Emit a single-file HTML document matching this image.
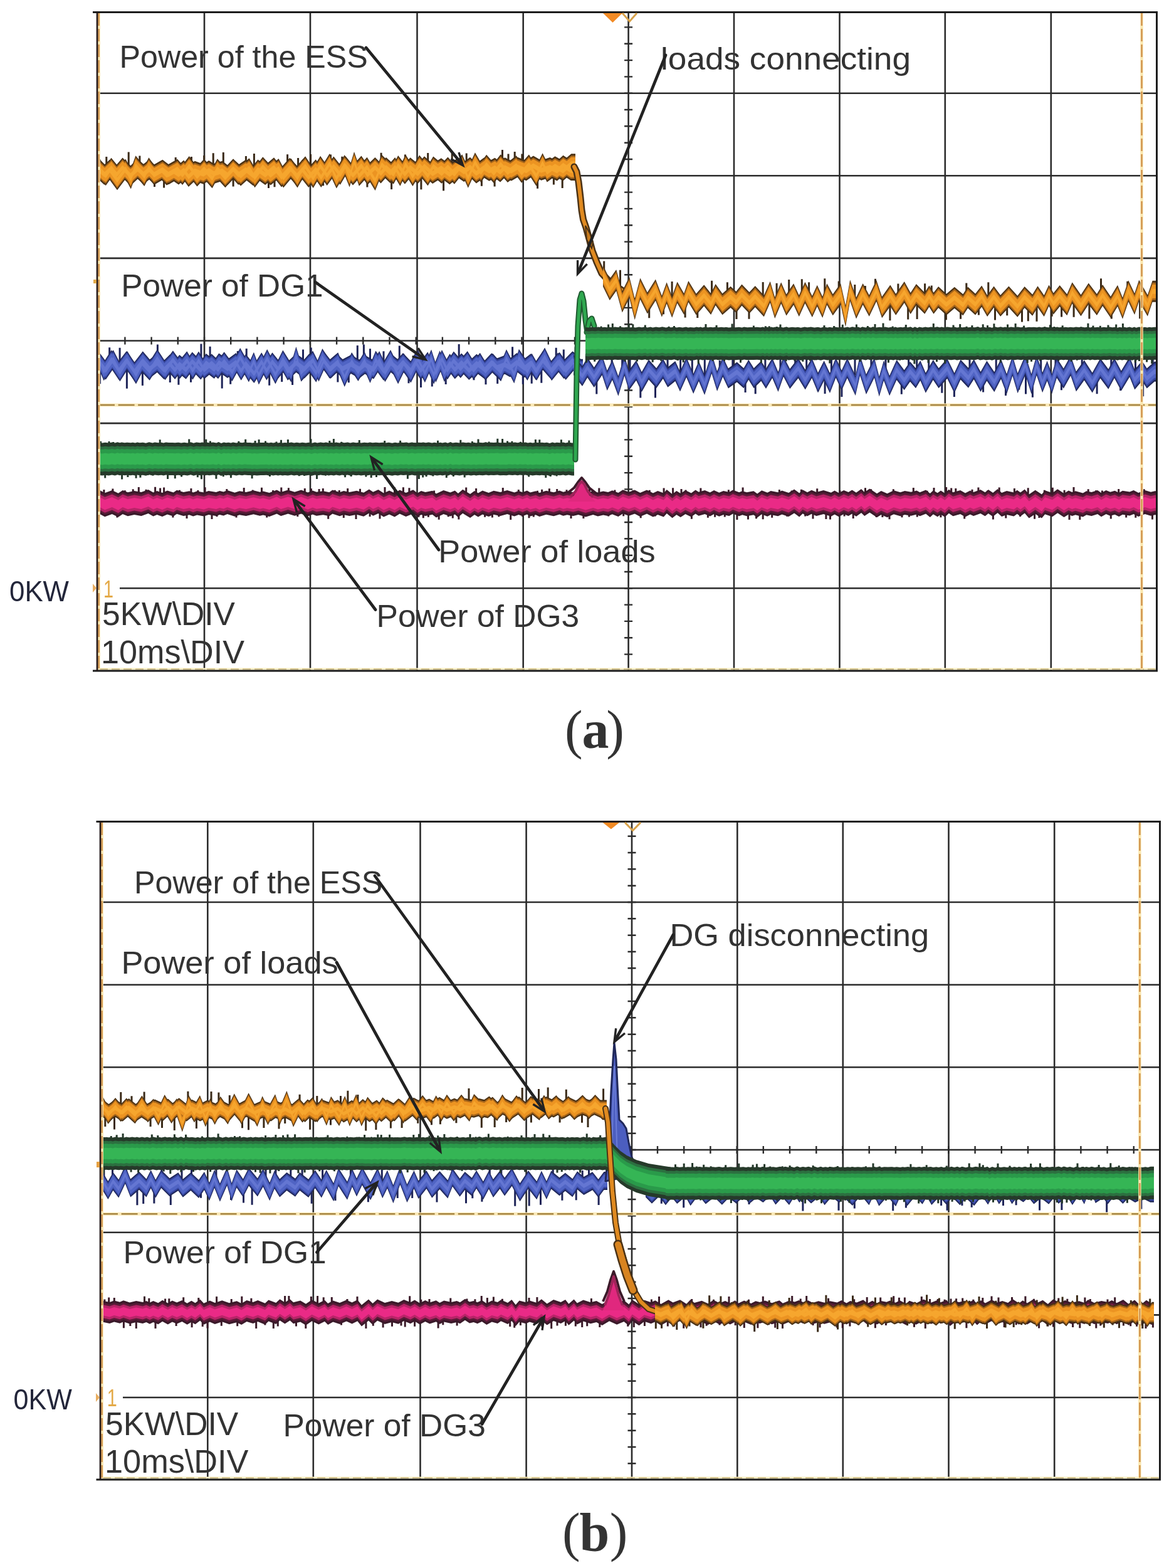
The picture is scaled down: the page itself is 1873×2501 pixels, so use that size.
<!DOCTYPE html>
<html><head><meta charset="utf-8"><title>Power waveforms</title><style>html,body{margin:0;padding:0;background:#fff;}svg{display:block;}</style></head><body>
<svg width="1873" height="2501" viewBox="0 0 1873 2501" font-family="Liberation Sans, Arial, sans-serif">
<rect width="1873" height="2501" fill="#ffffff"/>
<line x1="326" y1="19.5" x2="326" y2="1070" stroke="#2b2b2b" stroke-width="2.6"/>
<line x1="495" y1="19.5" x2="495" y2="1070" stroke="#2b2b2b" stroke-width="2.6"/>
<line x1="665.5" y1="19.5" x2="665.5" y2="1070" stroke="#2b2b2b" stroke-width="2.6"/>
<line x1="834.7" y1="19.5" x2="834.7" y2="1070" stroke="#2b2b2b" stroke-width="2.6"/>
<line x1="1002.6" y1="19.5" x2="1002.6" y2="1070" stroke="#2b2b2b" stroke-width="2.6"/>
<line x1="1171" y1="19.5" x2="1171" y2="1070" stroke="#2b2b2b" stroke-width="2.6"/>
<line x1="1339.5" y1="19.5" x2="1339.5" y2="1070" stroke="#2b2b2b" stroke-width="2.6"/>
<line x1="1507.8" y1="19.5" x2="1507.8" y2="1070" stroke="#2b2b2b" stroke-width="2.6"/>
<line x1="1676.8" y1="19.5" x2="1676.8" y2="1070" stroke="#2b2b2b" stroke-width="2.6"/>
<line x1="155" y1="148.7" x2="1845.5" y2="148.7" stroke="#2b2b2b" stroke-width="2.6"/>
<line x1="155" y1="280.3" x2="1845.5" y2="280.3" stroke="#2b2b2b" stroke-width="2.6"/>
<line x1="155" y1="411.9" x2="1845.5" y2="411.9" stroke="#2b2b2b" stroke-width="2.6"/>
<line x1="155" y1="543.5" x2="1845.5" y2="543.5" stroke="#2b2b2b" stroke-width="2.6"/>
<line x1="155" y1="675.1" x2="1845.5" y2="675.1" stroke="#2b2b2b" stroke-width="2.6"/>
<line x1="155" y1="806.7" x2="1845.5" y2="806.7" stroke="#2b2b2b" stroke-width="2.6"/>
<line x1="191" y1="938.3" x2="1845.5" y2="938.3" stroke="#2b2b2b" stroke-width="2.6"/>
<path d="M996.1 43.4h13 M996.1 69.7h13 M996.1 96.1h13 M996.1 122.4h13 M996.1 148.7h13 M996.1 175h13 M996.1 201.3h13 M996.1 227.7h13 M996.1 254h13 M996.1 280.3h13 M996.1 306.6h13 M996.1 332.9h13 M996.1 359.3h13 M996.1 385.6h13 M996.1 411.9h13 M996.1 438.2h13 M996.1 464.5h13 M996.1 490.9h13 M996.1 517.2h13 M996.1 543.5h13 M996.1 569.8h13 M996.1 596.1h13 M996.1 622.5h13 M996.1 648.8h13 M996.1 675.1h13 M996.1 701.4h13 M996.1 727.7h13 M996.1 754.1h13 M996.1 780.4h13 M996.1 806.7h13 M996.1 833h13 M996.1 859.3h13 M996.1 885.7h13 M996.1 912h13 M996.1 938.3h13 M996.1 964.6h13 M996.1 990.9h13 M996.1 1017.3h13 M996.1 1043.6h13 M199.4 537.5v12 M241.6 537.5v12 M283.8 537.5v12 M326 537.5v12 M368.2 537.5v12 M410.4 537.5v12 M452.6 537.5v12 M494.8 537.5v12 M537.1 537.5v12 M579.3 537.5v12 M621.5 537.5v12 M663.7 537.5v12 M705.9 537.5v12 M748.1 537.5v12 M790.3 537.5v12 M832.5 537.5v12 M874.8 537.5v12 M917 537.5v12 M959.2 537.5v12 M1001.4 537.5v12 M1043.6 537.5v12 M1085.8 537.5v12 M1128 537.5v12 M1170.2 537.5v12 M1212.5 537.5v12 M1254.7 537.5v12 M1296.9 537.5v12 M1339.1 537.5v12 M1381.3 537.5v12 M1423.5 537.5v12 M1465.7 537.5v12 M1508 537.5v12 M1550.2 537.5v12 M1592.4 537.5v12 M1634.6 537.5v12 M1676.8 537.5v12 M1719 537.5v12 M1761.2 537.5v12 M1803.4 537.5v12" stroke="#2b2b2b" stroke-width="2.4" fill="none"/>
<line x1="157" y1="646" x2="1844" y2="646" stroke="#fbeab8" stroke-width="5"/>
<line x1="157" y1="646" x2="1844" y2="646" stroke="#a58443" stroke-width="2.4" stroke-dasharray="26 5.6"/>
<line x1="331.3" y1="1310.4" x2="331.3" y2="2360" stroke="#2b2b2b" stroke-width="2.6"/>
<line x1="499.8" y1="1310.4" x2="499.8" y2="2360" stroke="#2b2b2b" stroke-width="2.6"/>
<line x1="670.5" y1="1310.4" x2="670.5" y2="2360" stroke="#2b2b2b" stroke-width="2.6"/>
<line x1="839.6" y1="1310.4" x2="839.6" y2="2360" stroke="#2b2b2b" stroke-width="2.6"/>
<line x1="1008" y1="1310.4" x2="1008" y2="2360" stroke="#2b2b2b" stroke-width="2.6"/>
<line x1="1176.3" y1="1310.4" x2="1176.3" y2="2360" stroke="#2b2b2b" stroke-width="2.6"/>
<line x1="1344.8" y1="1310.4" x2="1344.8" y2="2360" stroke="#2b2b2b" stroke-width="2.6"/>
<line x1="1513.5" y1="1310.4" x2="1513.5" y2="2360" stroke="#2b2b2b" stroke-width="2.6"/>
<line x1="1682.2" y1="1310.4" x2="1682.2" y2="2360" stroke="#2b2b2b" stroke-width="2.6"/>
<line x1="160" y1="1439" x2="1850.5" y2="1439" stroke="#2b2b2b" stroke-width="2.6"/>
<line x1="160" y1="1570.7" x2="1850.5" y2="1570.7" stroke="#2b2b2b" stroke-width="2.6"/>
<line x1="160" y1="1702.3" x2="1850.5" y2="1702.3" stroke="#2b2b2b" stroke-width="2.6"/>
<line x1="160" y1="1834" x2="1850.5" y2="1834" stroke="#2b2b2b" stroke-width="2.6"/>
<line x1="160" y1="1965.7" x2="1850.5" y2="1965.7" stroke="#2b2b2b" stroke-width="2.6"/>
<line x1="160" y1="2097.4" x2="1850.5" y2="2097.4" stroke="#2b2b2b" stroke-width="2.6"/>
<line x1="196" y1="2229" x2="1850.5" y2="2229" stroke="#2b2b2b" stroke-width="2.6"/>
<path d="M1001.5 1333.7h13 M1001.5 1360h13 M1001.5 1386.3h13 M1001.5 1412.7h13 M1001.5 1439h13 M1001.5 1465.3h13 M1001.5 1491.7h13 M1001.5 1518h13 M1001.5 1544.3h13 M1001.5 1570.7h13 M1001.5 1597h13 M1001.5 1623.3h13 M1001.5 1649.7h13 M1001.5 1676h13 M1001.5 1702.3h13 M1001.5 1728.7h13 M1001.5 1755h13 M1001.5 1781.3h13 M1001.5 1807.7h13 M1001.5 1834h13 M1001.5 1860.3h13 M1001.5 1886.7h13 M1001.5 1913h13 M1001.5 1939.3h13 M1001.5 1965.7h13 M1001.5 1992h13 M1001.5 2018.3h13 M1001.5 2044.7h13 M1001.5 2071h13 M1001.5 2097.3h13 M1001.5 2123.7h13 M1001.5 2150h13 M1001.5 2176.3h13 M1001.5 2202.7h13 M1001.5 2229h13 M1001.5 2255.3h13 M1001.5 2281.7h13 M1001.5 2308h13 M1001.5 2334.3h13 M204.7 1828v12 M246.9 1828v12 M289.1 1828v12 M331.3 1828v12 M373.5 1828v12 M415.7 1828v12 M457.9 1828v12 M500.2 1828v12 M542.4 1828v12 M584.6 1828v12 M626.8 1828v12 M669 1828v12 M711.2 1828v12 M753.5 1828v12 M795.7 1828v12 M837.9 1828v12 M880.1 1828v12 M922.3 1828v12 M964.5 1828v12 M1006.8 1828v12 M1049 1828v12 M1091.2 1828v12 M1133.4 1828v12 M1175.6 1828v12 M1217.8 1828v12 M1260 1828v12 M1302.3 1828v12 M1344.5 1828v12 M1386.7 1828v12 M1428.9 1828v12 M1471.1 1828v12 M1513.3 1828v12 M1555.6 1828v12 M1597.8 1828v12 M1640 1828v12 M1682.2 1828v12 M1724.4 1828v12 M1766.6 1828v12 M1808.8 1828v12" stroke="#2b2b2b" stroke-width="2.4" fill="none"/>
<line x1="162" y1="1936.3" x2="1849" y2="1936.3" stroke="#fbeab8" stroke-width="5"/>
<line x1="162" y1="1936.3" x2="1849" y2="1936.3" stroke="#a58443" stroke-width="2.4" stroke-dasharray="26 5.6"/>
<defs><clipPath id="ca"><rect x="156" y="20" width="1688" height="1049"/></clipPath><clipPath id="cb"><rect x="161" y="1311" width="1680" height="1048"/></clipPath></defs>
<g clip-path="url(#ca)">
<path d="M158.1 803v22.2 M165.9 803v-22.1 M179.9 803v-23.5 M186.9 803v22.6 M199.3 803v-20.7 M212.2 803v-22.7 M221.3 803v-25.9 M233 803v-22.3 M247.6 803v-26.2 M255.6 803v-24.6 M261.6 803v-25.6 M275.9 803v22.6 M286.5 803v-21.2 M298 803v24 M304.9 803v-23.9 M315.9 803v-21.1 M327.1 803v-25.8 M338 803v25 M346 803v21 M361.8 803v-23.1 M377 803v22.5 M389.2 803v-25.1 M403.1 803v-21.5 M417.5 803v-25.2 M425.7 803v22.6 M435.6 803v-20.9 M448.8 803v-25.6 M460.4 803v-24.7 M474.8 803v20.9 M486.3 803v-24 M496.5 803v-23.7 M509.1 803v-22.9 M515.3 803v-23.9 M523.7 803v24.8 M534.3 803v-21.3 M541.3 803v-21 M548.3 803v22.9 M554.7 803v-24 M568 803v24.9 M574.5 803v-23.2 M590.1 803v21 M606 803v24.6 M614 803v-26.1 M629.5 803v-25.7 M643.4 803v-25.8 M652.9 803v-24.7 M667.9 803v21.8 M675.3 803v23.2 M683.4 803v21.8 M692.6 803v-20.4 M700.2 803v25.8 M715.2 803v21.2 M722.3 803v23.4 M731.9 803v25.4 M743.7 803v-25.5 M759.6 803v-24 M773.6 803v21.8 M785.4 803v22.4 M795.8 803v21.3 M802.3 803v-25.1 M814.7 803v26.1 M827.3 803v-22.1 M833.7 803v21.1 M844 803v23.3 M851.3 803v21.6 M857.5 803v-20.2 M864.6 803v-22.3 M876.4 803v-23.7 M888.7 803v-23 M904 803v-21.7 M911 803v24 M924.8 803v-22.6 M930.9 803v24.1 M940.4 803v-24.1 M955.8 803v-24.6 M970.8 803v20.5 M980.9 803v-21.6 M994.7 803v20.3 M1010.1 803v-21.1 M1022.2 803v23.2 M1036.3 803v-21.2 M1045.3 803v20.5 M1059.1 803v-24.5 M1073.6 803v-24.7 M1087 803v-22.9 M1094 803v-21.6 M1103.4 803v24.7 M1117.9 803v-24.5 M1129.4 803v22.8 M1140.6 803v21.8 M1156.3 803v21.5 M1162.4 803v-21.8 M1175.9 803v25.9 M1185.1 803v-25.5 M1193.5 803v25.6 M1206.5 803v24.2 M1217.2 803v25.2 M1231.7 803v22.8 M1243.4 803v-22 M1255.7 803v20.7 M1263.1 803v-20.4 M1278.4 803v-22.3 M1284.7 803v20.4 M1297 803v24.4 M1303.7 803v-23.7 M1317.9 803v25.1 M1324.5 803v25.4 M1340 803v-20.8 M1347.1 803v20.4 M1361.2 803v24 M1373.5 803v-21.9 M1380.5 803v-24.7 M1389.7 803v-22.7 M1398.2 803v21.9 M1407.9 803v22.1 M1419 803v25.3 M1425.3 803v-22.7 M1439 803v22.3 M1450.4 803v21.5 M1457.3 803v-25.1 M1463.3 803v21.4 M1479.1 803v-20.2 M1490 803v-25 M1500.9 803v22.3 M1509.6 803v-25.9 M1517.7 803v-24.4 M1524.8 803v-24 M1538.7 803v24.4 M1551 803v-22.3 M1560.9 803v-25.5 M1575.8 803v-20.4 M1584.4 803v25.6 M1594.2 803v-25.5 M1604.8 803v23.4 M1618.4 803v-24.1 M1627.6 803v21.1 M1640.2 803v-24.7 M1650.6 803v24.8 M1657.9 803v23 M1666.3 803v-21.3 M1679.3 803v-25.3 M1686.9 803v-21.7 M1698.1 803v-21.2 M1706 803v26.1 M1713 803v-26 M1722.8 803v26.1 M1736.2 803v-22.8 M1748.5 803v-20.8 M1758.4 803v-20.4 M1772.3 803v24.4 M1784.7 803v-23 M1796.7 803v22.6 M1811.8 803v22.8 M1825.3 803v-22.7 M1838.5 803v25.5" stroke="#3a1a28" stroke-width="3" fill="none"/>
<path d="M158 781.2 L167.2 786.2 L178.8 782 L188.7 786.7 L195.7 782 L203.9 785.3 L214.3 782.9 L225.4 785 L236.6 781 L244.5 785.6 L250.5 782.9 L258.9 786 L266.9 782.6 L276.7 785.5 L282.1 781.8 L292.7 785.1 L302.1 783.2 L308.2 785.5 L314.3 783.4 L325.4 785.4 L332.8 783 L344.8 785.1 L350.5 783.1 L356.6 784.4 L362.7 782.1 L374.5 785.7 L382.1 783.3 L392.5 784.9 L404.4 782.2 L414.6 784.8 L419.8 783.6 L429.7 786.1 L441.6 781.6 L448.2 784.9 L459.5 781.5 L470.1 784.8 L480.5 781.6 L491.1 785.4 L498.8 782.5 L505 784.8 L515.7 783.2 L525.3 785.2 L530.4 781.6 L541.9 785.3 L548.4 783.1 L557.5 785 L568.9 782.7 L580.2 785.7 L588.9 780.6 L595.2 784.7 L603.5 781 L612.1 786.4 L621.1 782.5 L629.6 786.4 L637.7 781.4 L647.6 786.1 L659.2 781.2 L666 786.4 L671.9 782.9 L678.6 784.9 L689.9 782.8 L695.9 787.4 L707.6 781.9 L718.4 785.4 L725.8 782.4 L730.9 786.9 L738.2 780.7 L750.1 788.1 L757 782.9 L762.9 786.6 L769.7 782.5 L779.6 786 L787.6 782.8 L798.2 785.1 L809.2 781.9 L820.7 785.4 L827.4 783.1 L833.8 785.2 L840.8 782.5 L846 785.5 L854.8 783.2 L860.6 786.1 L871.4 782.7 L883.3 785.3 L892.7 782.5 L898.6 784.7 L904.8 783.3 L914.5 785.1 L922.7 783.1 L934.4 786.5 L946.2 782.9 L953.8 785.4 L962.4 783.5 L970.2 784.9 L976.8 782.3 L986.4 786.1 L993.7 781.2 L1003.2 784.7 L1012.6 781.5 L1021.3 786.1 L1032 781.6 L1041.9 786.4 L1049.4 782.9 L1058.8 786.6 L1063.8 780.9 L1072.6 788.3 L1079.3 783.1 L1085.8 786.9 L1093.5 781.9 L1102.8 786.5 L1109.6 781.5 L1114.6 784.8 L1124.5 782 L1132.7 785.4 L1139.1 781.9 L1147.3 785.8 L1154.2 783.1 L1163.3 784.9 L1169.2 781.4 L1179.2 785.3 L1184.3 783.3 L1191.4 785.2 L1202.3 783.2 L1208.2 787.5 L1215.2 782.2 L1224.3 785.7 L1229.7 783.1 L1241.2 785.2 L1247.5 782.5 L1258.2 786 L1267.1 780.4 L1275.2 786.4 L1280.6 781.2 L1288 785.3 L1294.8 781.8 L1302.5 785 L1313.9 782.1 L1325.9 785.8 L1331.5 782.4 L1338.3 786.3 L1346.2 782 L1353.6 785 L1359.4 781.6 L1366 785.7 L1374.1 779.9 L1379.2 785 L1387.5 779.6 L1399 787.3 L1405.8 782.9 L1415.5 787.3 L1425.9 782.2 L1436.4 785.2 L1443.5 783.1 L1453.4 784.8 L1462.5 782.6 L1467.5 785.2 L1477.1 781.4 L1483.8 786.9 L1488.9 782.2 L1495.7 786.3 L1501 782.5 L1507.4 786.7 L1513.8 780.7 L1520.4 785.3 L1532.1 781.9 L1540 786.6 L1547.8 782.6 L1553.1 784.9 L1564.3 781 L1571.6 785.3 L1576.8 781.1 L1584.1 786.1 L1591.6 780.1 L1598.1 786 L1606.1 783 L1617.5 785.5 L1622.7 781.7 L1628 785.6 L1634.8 780.4 L1641.7 788.5 L1651.7 781.8 L1662 788.6 L1667.2 782.2 L1678.9 786.2 L1687.3 780.3 L1697.5 787 L1704.8 782.5 L1710.4 785.1 L1715.8 783.3 L1727.7 786.6 L1733.3 783.2 L1741.4 785.1 L1751.1 781.9 L1757 786.3 L1764.6 782 L1771.3 784.8 L1778.6 782.8 L1785.2 785.9 L1790.9 782.7 L1802.3 784.5 L1808.6 781.9 L1816.2 785.9 L1826.7 782 L1836 784.7 L1842.4 783.2 L1844 783.2 L1844 821.2 L1842.4 821.2 L1836 822.7 L1826.7 820 L1816.2 823.9 L1808.6 819.9 L1802.3 822.5 L1790.9 820.7 L1785.2 823.9 L1778.6 820.8 L1771.3 822.8 L1764.6 820 L1757 824.3 L1751.1 819.9 L1741.4 823.1 L1733.3 821.2 L1727.7 824.6 L1715.8 821.3 L1710.4 823.1 L1704.8 820.5 L1697.5 825 L1687.3 818.3 L1678.9 824.2 L1667.2 820.2 L1662 826.6 L1651.7 819.8 L1641.7 826.5 L1634.8 818.4 L1628 823.6 L1622.7 819.7 L1617.5 823.5 L1606.1 821 L1598.1 824 L1591.6 818.1 L1584.1 824.1 L1576.8 819.1 L1571.6 823.3 L1564.3 819 L1553.1 822.9 L1547.8 820.6 L1540 824.6 L1532.1 819.9 L1520.4 823.3 L1513.8 818.7 L1507.4 824.7 L1501 820.5 L1495.7 824.3 L1488.9 820.2 L1483.8 824.9 L1477.1 819.4 L1467.5 823.2 L1462.5 820.6 L1453.4 822.8 L1443.5 821.1 L1436.4 823.2 L1425.9 820.2 L1415.5 825.3 L1405.8 820.9 L1399 825.3 L1387.5 817.6 L1379.2 823 L1374.1 817.9 L1366 823.7 L1359.4 819.6 L1353.6 823 L1346.2 820 L1338.3 824.3 L1331.5 820.4 L1325.9 823.8 L1313.9 820.1 L1302.5 823 L1294.8 819.8 L1288 823.3 L1280.6 819.2 L1275.2 824.4 L1267.1 818.4 L1258.2 824 L1247.5 820.5 L1241.2 823.2 L1229.7 821.1 L1224.3 823.7 L1215.2 820.2 L1208.2 825.5 L1202.3 821.2 L1191.4 823.2 L1184.3 821.3 L1179.2 823.3 L1169.2 819.4 L1163.3 822.9 L1154.2 821.1 L1147.3 823.8 L1139.1 819.9 L1132.7 823.4 L1124.5 820 L1114.6 822.8 L1109.6 819.5 L1102.8 824.5 L1093.5 819.9 L1085.8 824.9 L1079.3 821.1 L1072.6 826.3 L1063.8 818.9 L1058.8 824.6 L1049.4 820.9 L1041.9 824.4 L1032 819.6 L1021.3 824.1 L1012.6 819.5 L1003.2 822.7 L993.7 819.2 L986.4 824.1 L976.8 820.3 L970.2 822.9 L962.4 821.5 L953.8 823.4 L946.2 820.9 L934.4 824.5 L922.7 821.1 L914.5 823.1 L904.8 821.3 L898.6 822.7 L892.7 820.5 L883.3 823.3 L871.4 820.7 L860.6 824.1 L854.8 821.2 L846 823.5 L840.8 820.5 L833.8 823.2 L827.4 821.1 L820.7 823.4 L809.2 819.9 L798.2 823.1 L787.6 820.8 L779.6 824 L769.7 820.5 L762.9 824.6 L757 820.9 L750.1 826.1 L738.2 818.7 L730.9 824.9 L725.8 820.4 L718.4 823.4 L707.6 819.9 L695.9 825.4 L689.9 820.8 L678.6 822.9 L671.9 820.9 L666 824.4 L659.2 819.2 L647.6 824.1 L637.7 819.4 L629.6 824.4 L621.1 820.5 L612.1 824.4 L603.5 819 L595.2 822.7 L588.9 818.6 L580.2 823.7 L568.9 820.7 L557.5 823 L548.4 821.1 L541.9 823.3 L530.4 819.6 L525.3 823.2 L515.7 821.2 L505 822.8 L498.8 820.5 L491.1 823.4 L480.5 819.6 L470.1 822.8 L459.5 819.5 L448.2 822.9 L441.6 819.6 L429.7 824.1 L419.8 821.6 L414.6 822.8 L404.4 820.2 L392.5 822.9 L382.1 821.3 L374.5 823.7 L362.7 820.1 L356.6 822.4 L350.5 821.1 L344.8 823.1 L332.8 821 L325.4 823.4 L314.3 821.4 L308.2 823.5 L302.1 821.2 L292.7 823.1 L282.1 819.8 L276.7 823.5 L266.9 820.6 L258.9 824 L250.5 820.9 L244.5 823.6 L236.6 819 L225.4 823 L214.3 820.9 L203.9 823.3 L195.7 820 L188.7 824.7 L178.8 820 L167.2 824.2 L158 819.2Z" fill="#3a1a2a"/>
<path d="M158 784.7 L167.2 789.7 L178.8 785.5 L188.7 790.2 L195.7 785.5 L203.9 788.8 L214.3 786.4 L225.4 788.5 L236.6 784.5 L244.5 789.1 L250.5 786.4 L258.9 789.5 L266.9 786.1 L276.7 789 L282.1 785.3 L292.7 788.6 L302.1 786.7 L308.2 789 L314.3 786.9 L325.4 788.9 L332.8 786.5 L344.8 788.6 L350.5 786.6 L356.6 787.9 L362.7 785.6 L374.5 789.2 L382.1 786.8 L392.5 788.4 L404.4 785.7 L414.6 788.3 L419.8 787.1 L429.7 789.6 L441.6 785.1 L448.2 788.4 L459.5 785 L470.1 788.3 L480.5 785.1 L491.1 788.9 L498.8 786 L505 788.3 L515.7 786.7 L525.3 788.7 L530.4 785.1 L541.9 788.8 L548.4 786.6 L557.5 788.5 L568.9 786.2 L580.2 789.2 L588.9 784.1 L595.2 788.2 L603.5 784.5 L612.1 789.9 L621.1 786 L629.6 789.9 L637.7 784.9 L647.6 789.6 L659.2 784.7 L666 789.9 L671.9 786.4 L678.6 788.4 L689.9 786.3 L695.9 790.9 L707.6 785.4 L718.4 788.9 L725.8 785.9 L730.9 790.4 L738.2 784.2 L750.1 791.6 L757 786.4 L762.9 790.1 L769.7 786 L779.6 789.5 L787.6 786.3 L798.2 788.6 L809.2 785.4 L820.7 788.9 L827.4 786.6 L833.8 788.7 L840.8 786 L846 789 L854.8 786.7 L860.6 789.6 L871.4 786.2 L883.3 788.8 L892.7 786 L898.6 788.2 L904.8 786.8 L914.5 788.6 L922.7 786.6 L934.4 790 L946.2 786.4 L953.8 788.9 L962.4 787 L970.2 788.4 L976.8 785.8 L986.4 789.6 L993.7 784.7 L1003.2 788.2 L1012.6 785 L1021.3 789.6 L1032 785.1 L1041.9 789.9 L1049.4 786.4 L1058.8 790.1 L1063.8 784.4 L1072.6 791.8 L1079.3 786.6 L1085.8 790.4 L1093.5 785.4 L1102.8 790 L1109.6 785 L1114.6 788.3 L1124.5 785.5 L1132.7 788.9 L1139.1 785.4 L1147.3 789.3 L1154.2 786.6 L1163.3 788.4 L1169.2 784.9 L1179.2 788.8 L1184.3 786.8 L1191.4 788.7 L1202.3 786.7 L1208.2 791 L1215.2 785.7 L1224.3 789.2 L1229.7 786.6 L1241.2 788.7 L1247.5 786 L1258.2 789.5 L1267.1 783.9 L1275.2 789.9 L1280.6 784.7 L1288 788.8 L1294.8 785.3 L1302.5 788.5 L1313.9 785.6 L1325.9 789.3 L1331.5 785.9 L1338.3 789.8 L1346.2 785.5 L1353.6 788.5 L1359.4 785.1 L1366 789.2 L1374.1 783.4 L1379.2 788.5 L1387.5 783.1 L1399 790.8 L1405.8 786.4 L1415.5 790.8 L1425.9 785.7 L1436.4 788.7 L1443.5 786.6 L1453.4 788.3 L1462.5 786.1 L1467.5 788.7 L1477.1 784.9 L1483.8 790.4 L1488.9 785.7 L1495.7 789.8 L1501 786 L1507.4 790.2 L1513.8 784.2 L1520.4 788.8 L1532.1 785.4 L1540 790.1 L1547.8 786.1 L1553.1 788.4 L1564.3 784.5 L1571.6 788.8 L1576.8 784.6 L1584.1 789.6 L1591.6 783.6 L1598.1 789.5 L1606.1 786.5 L1617.5 789 L1622.7 785.2 L1628 789.1 L1634.8 783.9 L1641.7 792 L1651.7 785.3 L1662 792.1 L1667.2 785.7 L1678.9 789.7 L1687.3 783.8 L1697.5 790.5 L1704.8 786 L1710.4 788.6 L1715.8 786.8 L1727.7 790.1 L1733.3 786.7 L1741.4 788.6 L1751.1 785.4 L1757 789.8 L1764.6 785.5 L1771.3 788.3 L1778.6 786.3 L1785.2 789.4 L1790.9 786.2 L1802.3 788 L1808.6 785.4 L1816.2 789.4 L1826.7 785.5 L1836 788.2 L1842.4 786.7 L1844 786.7 L1844 817.7 L1842.4 817.7 L1836 819.2 L1826.7 816.5 L1816.2 820.4 L1808.6 816.4 L1802.3 819 L1790.9 817.2 L1785.2 820.4 L1778.6 817.3 L1771.3 819.3 L1764.6 816.5 L1757 820.8 L1751.1 816.4 L1741.4 819.6 L1733.3 817.7 L1727.7 821.1 L1715.8 817.8 L1710.4 819.6 L1704.8 817 L1697.5 821.5 L1687.3 814.8 L1678.9 820.7 L1667.2 816.7 L1662 823.1 L1651.7 816.3 L1641.7 823 L1634.8 814.9 L1628 820.1 L1622.7 816.2 L1617.5 820 L1606.1 817.5 L1598.1 820.5 L1591.6 814.6 L1584.1 820.6 L1576.8 815.6 L1571.6 819.8 L1564.3 815.5 L1553.1 819.4 L1547.8 817.1 L1540 821.1 L1532.1 816.4 L1520.4 819.8 L1513.8 815.2 L1507.4 821.2 L1501 817 L1495.7 820.8 L1488.9 816.7 L1483.8 821.4 L1477.1 815.9 L1467.5 819.7 L1462.5 817.1 L1453.4 819.3 L1443.5 817.6 L1436.4 819.7 L1425.9 816.7 L1415.5 821.8 L1405.8 817.4 L1399 821.8 L1387.5 814.1 L1379.2 819.5 L1374.1 814.4 L1366 820.2 L1359.4 816.1 L1353.6 819.5 L1346.2 816.5 L1338.3 820.8 L1331.5 816.9 L1325.9 820.3 L1313.9 816.6 L1302.5 819.5 L1294.8 816.3 L1288 819.8 L1280.6 815.7 L1275.2 820.9 L1267.1 814.9 L1258.2 820.5 L1247.5 817 L1241.2 819.7 L1229.7 817.6 L1224.3 820.2 L1215.2 816.7 L1208.2 822 L1202.3 817.7 L1191.4 819.7 L1184.3 817.8 L1179.2 819.8 L1169.2 815.9 L1163.3 819.4 L1154.2 817.6 L1147.3 820.3 L1139.1 816.4 L1132.7 819.9 L1124.5 816.5 L1114.6 819.3 L1109.6 816 L1102.8 821 L1093.5 816.4 L1085.8 821.4 L1079.3 817.6 L1072.6 822.8 L1063.8 815.4 L1058.8 821.1 L1049.4 817.4 L1041.9 820.9 L1032 816.1 L1021.3 820.6 L1012.6 816 L1003.2 819.2 L993.7 815.7 L986.4 820.6 L976.8 816.8 L970.2 819.4 L962.4 818 L953.8 819.9 L946.2 817.4 L934.4 821 L922.7 817.6 L914.5 819.6 L904.8 817.8 L898.6 819.2 L892.7 817 L883.3 819.8 L871.4 817.2 L860.6 820.6 L854.8 817.7 L846 820 L840.8 817 L833.8 819.7 L827.4 817.6 L820.7 819.9 L809.2 816.4 L798.2 819.6 L787.6 817.3 L779.6 820.5 L769.7 817 L762.9 821.1 L757 817.4 L750.1 822.6 L738.2 815.2 L730.9 821.4 L725.8 816.9 L718.4 819.9 L707.6 816.4 L695.9 821.9 L689.9 817.3 L678.6 819.4 L671.9 817.4 L666 820.9 L659.2 815.7 L647.6 820.6 L637.7 815.9 L629.6 820.9 L621.1 817 L612.1 820.9 L603.5 815.5 L595.2 819.2 L588.9 815.1 L580.2 820.2 L568.9 817.2 L557.5 819.5 L548.4 817.6 L541.9 819.8 L530.4 816.1 L525.3 819.7 L515.7 817.7 L505 819.3 L498.8 817 L491.1 819.9 L480.5 816.1 L470.1 819.3 L459.5 816 L448.2 819.4 L441.6 816.1 L429.7 820.6 L419.8 818.1 L414.6 819.3 L404.4 816.7 L392.5 819.4 L382.1 817.8 L374.5 820.2 L362.7 816.6 L356.6 818.9 L350.5 817.6 L344.8 819.6 L332.8 817.5 L325.4 819.9 L314.3 817.9 L308.2 820 L302.1 817.7 L292.7 819.6 L282.1 816.3 L276.7 820 L266.9 817.1 L258.9 820.5 L250.5 817.4 L244.5 820.1 L236.6 815.5 L225.4 819.5 L214.3 817.4 L203.9 819.8 L195.7 816.5 L188.7 821.2 L178.8 816.5 L167.2 820.7 L158 815.7Z" fill="#5a1c38"/>
<path d="M158 787.7 L167.2 792.7 L178.8 788.5 L188.7 793.2 L195.7 788.5 L203.9 791.8 L214.3 789.4 L225.4 791.5 L236.6 787.5 L244.5 792.1 L250.5 789.4 L258.9 792.5 L266.9 789.1 L276.7 792 L282.1 788.3 L292.7 791.6 L302.1 789.7 L308.2 792 L314.3 789.9 L325.4 791.9 L332.8 789.5 L344.8 791.6 L350.5 789.6 L356.6 790.9 L362.7 788.6 L374.5 792.2 L382.1 789.8 L392.5 791.4 L404.4 788.7 L414.6 791.3 L419.8 790.1 L429.7 792.6 L441.6 788.1 L448.2 791.4 L459.5 788 L470.1 791.3 L480.5 788.1 L491.1 791.9 L498.8 789 L505 791.3 L515.7 789.7 L525.3 791.7 L530.4 788.1 L541.9 791.8 L548.4 789.6 L557.5 791.5 L568.9 789.2 L580.2 792.2 L588.9 787.1 L595.2 791.2 L603.5 787.5 L612.1 792.9 L621.1 789 L629.6 792.9 L637.7 787.9 L647.6 792.6 L659.2 787.7 L666 792.9 L671.9 789.4 L678.6 791.4 L689.9 789.3 L695.9 793.9 L707.6 788.4 L718.4 791.9 L725.8 788.9 L730.9 793.4 L738.2 787.2 L750.1 794.6 L757 789.4 L762.9 793.1 L769.7 789 L779.6 792.5 L787.6 789.3 L798.2 791.6 L809.2 788.4 L820.7 791.9 L827.4 789.6 L833.8 791.7 L840.8 789 L846 792 L854.8 789.7 L860.6 792.6 L871.4 789.2 L883.3 791.8 L892.7 789 L898.6 791.2 L904.8 789.8 L914.5 791.6 L922.7 789.6 L934.4 793 L946.2 789.4 L953.8 791.9 L962.4 790 L970.2 791.4 L976.8 788.8 L986.4 792.6 L993.7 787.7 L1003.2 791.2 L1012.6 788 L1021.3 792.6 L1032 788.1 L1041.9 792.9 L1049.4 789.4 L1058.8 793.1 L1063.8 787.4 L1072.6 794.8 L1079.3 789.6 L1085.8 793.4 L1093.5 788.4 L1102.8 793 L1109.6 788 L1114.6 791.3 L1124.5 788.5 L1132.7 791.9 L1139.1 788.4 L1147.3 792.3 L1154.2 789.6 L1163.3 791.4 L1169.2 787.9 L1179.2 791.8 L1184.3 789.8 L1191.4 791.7 L1202.3 789.7 L1208.2 794 L1215.2 788.7 L1224.3 792.2 L1229.7 789.6 L1241.2 791.7 L1247.5 789 L1258.2 792.5 L1267.1 786.9 L1275.2 792.9 L1280.6 787.7 L1288 791.8 L1294.8 788.3 L1302.5 791.5 L1313.9 788.6 L1325.9 792.3 L1331.5 788.9 L1338.3 792.8 L1346.2 788.5 L1353.6 791.5 L1359.4 788.1 L1366 792.2 L1374.1 786.4 L1379.2 791.5 L1387.5 786.1 L1399 793.8 L1405.8 789.4 L1415.5 793.8 L1425.9 788.7 L1436.4 791.7 L1443.5 789.6 L1453.4 791.3 L1462.5 789.1 L1467.5 791.7 L1477.1 787.9 L1483.8 793.4 L1488.9 788.7 L1495.7 792.8 L1501 789 L1507.4 793.2 L1513.8 787.2 L1520.4 791.8 L1532.1 788.4 L1540 793.1 L1547.8 789.1 L1553.1 791.4 L1564.3 787.5 L1571.6 791.8 L1576.8 787.6 L1584.1 792.6 L1591.6 786.6 L1598.1 792.5 L1606.1 789.5 L1617.5 792 L1622.7 788.2 L1628 792.1 L1634.8 786.9 L1641.7 795 L1651.7 788.3 L1662 795.1 L1667.2 788.7 L1678.9 792.7 L1687.3 786.8 L1697.5 793.5 L1704.8 789 L1710.4 791.6 L1715.8 789.8 L1727.7 793.1 L1733.3 789.7 L1741.4 791.6 L1751.1 788.4 L1757 792.8 L1764.6 788.5 L1771.3 791.3 L1778.6 789.3 L1785.2 792.4 L1790.9 789.2 L1802.3 791 L1808.6 788.4 L1816.2 792.4 L1826.7 788.5 L1836 791.2 L1842.4 789.7 L1844 789.7 L1844 814.7 L1842.4 814.7 L1836 816.2 L1826.7 813.5 L1816.2 817.4 L1808.6 813.4 L1802.3 816 L1790.9 814.2 L1785.2 817.4 L1778.6 814.3 L1771.3 816.3 L1764.6 813.5 L1757 817.8 L1751.1 813.4 L1741.4 816.6 L1733.3 814.7 L1727.7 818.1 L1715.8 814.8 L1710.4 816.6 L1704.8 814 L1697.5 818.5 L1687.3 811.8 L1678.9 817.7 L1667.2 813.7 L1662 820.1 L1651.7 813.3 L1641.7 820 L1634.8 811.9 L1628 817.1 L1622.7 813.2 L1617.5 817 L1606.1 814.5 L1598.1 817.5 L1591.6 811.6 L1584.1 817.6 L1576.8 812.6 L1571.6 816.8 L1564.3 812.5 L1553.1 816.4 L1547.8 814.1 L1540 818.1 L1532.1 813.4 L1520.4 816.8 L1513.8 812.2 L1507.4 818.2 L1501 814 L1495.7 817.8 L1488.9 813.7 L1483.8 818.4 L1477.1 812.9 L1467.5 816.7 L1462.5 814.1 L1453.4 816.3 L1443.5 814.6 L1436.4 816.7 L1425.9 813.7 L1415.5 818.8 L1405.8 814.4 L1399 818.8 L1387.5 811.1 L1379.2 816.5 L1374.1 811.4 L1366 817.2 L1359.4 813.1 L1353.6 816.5 L1346.2 813.5 L1338.3 817.8 L1331.5 813.9 L1325.9 817.3 L1313.9 813.6 L1302.5 816.5 L1294.8 813.3 L1288 816.8 L1280.6 812.7 L1275.2 817.9 L1267.1 811.9 L1258.2 817.5 L1247.5 814 L1241.2 816.7 L1229.7 814.6 L1224.3 817.2 L1215.2 813.7 L1208.2 819 L1202.3 814.7 L1191.4 816.7 L1184.3 814.8 L1179.2 816.8 L1169.2 812.9 L1163.3 816.4 L1154.2 814.6 L1147.3 817.3 L1139.1 813.4 L1132.7 816.9 L1124.5 813.5 L1114.6 816.3 L1109.6 813 L1102.8 818 L1093.5 813.4 L1085.8 818.4 L1079.3 814.6 L1072.6 819.8 L1063.8 812.4 L1058.8 818.1 L1049.4 814.4 L1041.9 817.9 L1032 813.1 L1021.3 817.6 L1012.6 813 L1003.2 816.2 L993.7 812.7 L986.4 817.6 L976.8 813.8 L970.2 816.4 L962.4 815 L953.8 816.9 L946.2 814.4 L934.4 818 L922.7 814.6 L914.5 816.6 L904.8 814.8 L898.6 816.2 L892.7 814 L883.3 816.8 L871.4 814.2 L860.6 817.6 L854.8 814.7 L846 817 L840.8 814 L833.8 816.7 L827.4 814.6 L820.7 816.9 L809.2 813.4 L798.2 816.6 L787.6 814.3 L779.6 817.5 L769.7 814 L762.9 818.1 L757 814.4 L750.1 819.6 L738.2 812.2 L730.9 818.4 L725.8 813.9 L718.4 816.9 L707.6 813.4 L695.9 818.9 L689.9 814.3 L678.6 816.4 L671.9 814.4 L666 817.9 L659.2 812.7 L647.6 817.6 L637.7 812.9 L629.6 817.9 L621.1 814 L612.1 817.9 L603.5 812.5 L595.2 816.2 L588.9 812.1 L580.2 817.2 L568.9 814.2 L557.5 816.5 L548.4 814.6 L541.9 816.8 L530.4 813.1 L525.3 816.7 L515.7 814.7 L505 816.3 L498.8 814 L491.1 816.9 L480.5 813.1 L470.1 816.3 L459.5 813 L448.2 816.4 L441.6 813.1 L429.7 817.6 L419.8 815.1 L414.6 816.3 L404.4 813.7 L392.5 816.4 L382.1 814.8 L374.5 817.2 L362.7 813.6 L356.6 815.9 L350.5 814.6 L344.8 816.6 L332.8 814.5 L325.4 816.9 L314.3 814.9 L308.2 817 L302.1 814.7 L292.7 816.6 L282.1 813.3 L276.7 817 L266.9 814.1 L258.9 817.5 L250.5 814.4 L244.5 817.1 L236.6 812.5 L225.4 816.5 L214.3 814.4 L203.9 816.8 L195.7 813.5 L188.7 818.2 L178.8 813.5 L167.2 817.7 L158 812.7Z" fill="#b82468"/>
<path d="M158 792.2 L167.2 797.2 L178.8 793 L188.7 797.7 L195.7 793 L203.9 796.3 L214.3 793.9 L225.4 796 L236.6 792 L244.5 796.6 L250.5 793.9 L258.9 797 L266.9 793.6 L276.7 796.5 L282.1 792.8 L292.7 796.1 L302.1 794.2 L308.2 796.5 L314.3 794.4 L325.4 796.4 L332.8 794 L344.8 796.1 L350.5 794.1 L356.6 795.4 L362.7 793.1 L374.5 796.7 L382.1 794.3 L392.5 795.9 L404.4 793.2 L414.6 795.8 L419.8 794.6 L429.7 797.1 L441.6 792.6 L448.2 795.9 L459.5 792.5 L470.1 795.8 L480.5 792.6 L491.1 796.4 L498.8 793.5 L505 795.8 L515.7 794.2 L525.3 796.2 L530.4 792.6 L541.9 796.3 L548.4 794.1 L557.5 796 L568.9 793.7 L580.2 796.7 L588.9 791.6 L595.2 795.7 L603.5 792 L612.1 797.4 L621.1 793.5 L629.6 797.4 L637.7 792.4 L647.6 797.1 L659.2 792.2 L666 797.4 L671.9 793.9 L678.6 795.9 L689.9 793.8 L695.9 798.4 L707.6 792.9 L718.4 796.4 L725.8 793.4 L730.9 797.9 L738.2 791.7 L750.1 799.1 L757 793.9 L762.9 797.6 L769.7 793.5 L779.6 797 L787.6 793.8 L798.2 796.1 L809.2 792.9 L820.7 796.4 L827.4 794.1 L833.8 796.2 L840.8 793.5 L846 796.5 L854.8 794.2 L860.6 797.1 L871.4 793.7 L883.3 796.3 L892.7 793.5 L898.6 795.7 L904.8 794.3 L914.5 796.1 L922.7 794.1 L934.4 797.5 L946.2 793.9 L953.8 796.4 L962.4 794.5 L970.2 795.9 L976.8 793.3 L986.4 797.1 L993.7 792.2 L1003.2 795.7 L1012.6 792.5 L1021.3 797.1 L1032 792.6 L1041.9 797.4 L1049.4 793.9 L1058.8 797.6 L1063.8 791.9 L1072.6 799.3 L1079.3 794.1 L1085.8 797.9 L1093.5 792.9 L1102.8 797.5 L1109.6 792.5 L1114.6 795.8 L1124.5 793 L1132.7 796.4 L1139.1 792.9 L1147.3 796.8 L1154.2 794.1 L1163.3 795.9 L1169.2 792.4 L1179.2 796.3 L1184.3 794.3 L1191.4 796.2 L1202.3 794.2 L1208.2 798.5 L1215.2 793.2 L1224.3 796.7 L1229.7 794.1 L1241.2 796.2 L1247.5 793.5 L1258.2 797 L1267.1 791.4 L1275.2 797.4 L1280.6 792.2 L1288 796.3 L1294.8 792.8 L1302.5 796 L1313.9 793.1 L1325.9 796.8 L1331.5 793.4 L1338.3 797.3 L1346.2 793 L1353.6 796 L1359.4 792.6 L1366 796.7 L1374.1 790.9 L1379.2 796 L1387.5 790.6 L1399 798.3 L1405.8 793.9 L1415.5 798.3 L1425.9 793.2 L1436.4 796.2 L1443.5 794.1 L1453.4 795.8 L1462.5 793.6 L1467.5 796.2 L1477.1 792.4 L1483.8 797.9 L1488.9 793.2 L1495.7 797.3 L1501 793.5 L1507.4 797.7 L1513.8 791.7 L1520.4 796.3 L1532.1 792.9 L1540 797.6 L1547.8 793.6 L1553.1 795.9 L1564.3 792 L1571.6 796.3 L1576.8 792.1 L1584.1 797.1 L1591.6 791.1 L1598.1 797 L1606.1 794 L1617.5 796.5 L1622.7 792.7 L1628 796.6 L1634.8 791.4 L1641.7 799.5 L1651.7 792.8 L1662 799.6 L1667.2 793.2 L1678.9 797.2 L1687.3 791.3 L1697.5 798 L1704.8 793.5 L1710.4 796.1 L1715.8 794.3 L1727.7 797.6 L1733.3 794.2 L1741.4 796.1 L1751.1 792.9 L1757 797.3 L1764.6 793 L1771.3 795.8 L1778.6 793.8 L1785.2 796.9 L1790.9 793.7 L1802.3 795.5 L1808.6 792.9 L1816.2 796.9 L1826.7 793 L1836 795.7 L1842.4 794.2 L1844 794.2 L1844 810.2 L1842.4 810.2 L1836 811.7 L1826.7 809 L1816.2 812.9 L1808.6 808.9 L1802.3 811.5 L1790.9 809.7 L1785.2 812.9 L1778.6 809.8 L1771.3 811.8 L1764.6 809 L1757 813.3 L1751.1 808.9 L1741.4 812.1 L1733.3 810.2 L1727.7 813.6 L1715.8 810.3 L1710.4 812.1 L1704.8 809.5 L1697.5 814 L1687.3 807.3 L1678.9 813.2 L1667.2 809.2 L1662 815.6 L1651.7 808.8 L1641.7 815.5 L1634.8 807.4 L1628 812.6 L1622.7 808.7 L1617.5 812.5 L1606.1 810 L1598.1 813 L1591.6 807.1 L1584.1 813.1 L1576.8 808.1 L1571.6 812.3 L1564.3 808 L1553.1 811.9 L1547.8 809.6 L1540 813.6 L1532.1 808.9 L1520.4 812.3 L1513.8 807.7 L1507.4 813.7 L1501 809.5 L1495.7 813.3 L1488.9 809.2 L1483.8 813.9 L1477.1 808.4 L1467.5 812.2 L1462.5 809.6 L1453.4 811.8 L1443.5 810.1 L1436.4 812.2 L1425.9 809.2 L1415.5 814.3 L1405.8 809.9 L1399 814.3 L1387.5 806.6 L1379.2 812 L1374.1 806.9 L1366 812.7 L1359.4 808.6 L1353.6 812 L1346.2 809 L1338.3 813.3 L1331.5 809.4 L1325.9 812.8 L1313.9 809.1 L1302.5 812 L1294.8 808.8 L1288 812.3 L1280.6 808.2 L1275.2 813.4 L1267.1 807.4 L1258.2 813 L1247.5 809.5 L1241.2 812.2 L1229.7 810.1 L1224.3 812.7 L1215.2 809.2 L1208.2 814.5 L1202.3 810.2 L1191.4 812.2 L1184.3 810.3 L1179.2 812.3 L1169.2 808.4 L1163.3 811.9 L1154.2 810.1 L1147.3 812.8 L1139.1 808.9 L1132.7 812.4 L1124.5 809 L1114.6 811.8 L1109.6 808.5 L1102.8 813.5 L1093.5 808.9 L1085.8 813.9 L1079.3 810.1 L1072.6 815.3 L1063.8 807.9 L1058.8 813.6 L1049.4 809.9 L1041.9 813.4 L1032 808.6 L1021.3 813.1 L1012.6 808.5 L1003.2 811.7 L993.7 808.2 L986.4 813.1 L976.8 809.3 L970.2 811.9 L962.4 810.5 L953.8 812.4 L946.2 809.9 L934.4 813.5 L922.7 810.1 L914.5 812.1 L904.8 810.3 L898.6 811.7 L892.7 809.5 L883.3 812.3 L871.4 809.7 L860.6 813.1 L854.8 810.2 L846 812.5 L840.8 809.5 L833.8 812.2 L827.4 810.1 L820.7 812.4 L809.2 808.9 L798.2 812.1 L787.6 809.8 L779.6 813 L769.7 809.5 L762.9 813.6 L757 809.9 L750.1 815.1 L738.2 807.7 L730.9 813.9 L725.8 809.4 L718.4 812.4 L707.6 808.9 L695.9 814.4 L689.9 809.8 L678.6 811.9 L671.9 809.9 L666 813.4 L659.2 808.2 L647.6 813.1 L637.7 808.4 L629.6 813.4 L621.1 809.5 L612.1 813.4 L603.5 808 L595.2 811.7 L588.9 807.6 L580.2 812.7 L568.9 809.7 L557.5 812 L548.4 810.1 L541.9 812.3 L530.4 808.6 L525.3 812.2 L515.7 810.2 L505 811.8 L498.8 809.5 L491.1 812.4 L480.5 808.6 L470.1 811.8 L459.5 808.5 L448.2 811.9 L441.6 808.6 L429.7 813.1 L419.8 810.6 L414.6 811.8 L404.4 809.2 L392.5 811.9 L382.1 810.3 L374.5 812.7 L362.7 809.1 L356.6 811.4 L350.5 810.1 L344.8 812.1 L332.8 810 L325.4 812.4 L314.3 810.4 L308.2 812.5 L302.1 810.2 L292.7 812.1 L282.1 808.8 L276.7 812.5 L266.9 809.6 L258.9 813 L250.5 809.9 L244.5 812.6 L236.6 808 L225.4 812 L214.3 809.9 L203.9 812.3 L195.7 809 L188.7 813.7 L178.8 809 L167.2 813.2 L158 808.2Z" fill="#ea2a86"/>
<path d="M906 800 L916 790 L923 775 L928 766 L933 775 L940 790 L950 800Z" fill="#e0287e"/>
<path d="M906 786 L916 778 L923 768 L928 762 L933 768 L940 778 L950 786" stroke="#3c1a2a" stroke-width="4" fill="none" stroke-linejoin="round"/>
<path d="M910 792 L918 784 L924 772 L928 768 L932 772 L938 784 L946 792" stroke="#a0245a" stroke-width="4" fill="none" stroke-linejoin="round"/>
<path d="M159.5 584v28.2 M174.7 584v-29.7 M191.1 584v-29.3 M202.4 584v35.8 M227.4 584v31.1 M251.4 584v-34.6 M271.3 584v26 M284.9 584v29.8 M304.5 584v25.8 M320.9 584v-35.6 M335.1 584v-31.3 M354.2 584v35.6 M367.7 584v28.8 M379.3 584v-24 M393.2 584v-27.9 M406.4 584v23.5 M429.7 584v30.8 M449.7 584v25.1 M466.6 584v29.9 M483.5 584v-26.6 M496.3 584v-29.4 M515.2 584v-22.4 M538.9 584v25.6 M556.3 584v26.2 M570.3 584v-33.1 M580.4 584v-34.4 M590.5 584v-27.7 M612 584v-23.8 M637.3 584v-32.6 M652 584v27.2 M671.5 584v34.1 M689.3 584v32.6 M711.2 584v28.9 M732.2 584v-35.1 M756 584v22.3 M775 584v29.2 M793.7 584v28.1 M817.6 584v-30.8 M834.3 584v28.7 M848.2 584v27.7 M863.8 584v26.8 M887.2 584v-29.2 M899.3 584v-26.5 M918.1 584v-30.4" stroke="#1e2458" stroke-width="3" fill="none"/>
<path d="M158 561.4 L168.6 575.8 L180.7 558.2 L191.3 578.6 L203.1 559.9 L217 582.6 L226.8 563.9 L238.7 576.8 L250.9 556.9 L263.5 576.2 L275.9 559.3 L286.8 574.2 L298.3 560.2 L307.4 575.8 L316.9 560.6 L325.6 574.7 L337.7 564.4 L348 574.2 L357.6 561.3 L370.4 578.2 L383.2 554.9 L396.9 579.4 L404.9 561.7 L412.9 583.6 L426.2 557.1 L439.4 582.4 L451.3 558.4 L464.5 579.7 L472.4 553.1 L480.4 578.8 L493.5 563.9 L504.4 579.8 L514.3 556.1 L525.8 573.7 L539.3 562.2 L549.7 586.9 L561.1 561.9 L571.4 577.9 L581.5 560.8 L590.5 581 L599.4 559.6 L612 577.1 L623.1 558 L635.1 582.4 L644.2 563.8 L655.5 580.4 L666.8 557.9 L677.9 580.3 L688.1 557.6 L695.4 580.1 L705 558.1 L713.8 575.4 L723.8 560.5 L734.8 572.9 L745.8 559.9 L755.5 575.6 L765.8 562.8 L774.3 576.8 L786.1 563.8 L799.2 578.2 L807.9 557.3 L820.3 581.5 L827.9 556.8 L841.4 576.9 L848.5 563.7 L856.1 577 L869.1 554.4 L880.1 577.3 L892.7 561.8 L902.6 576 L915.1 561.2 L928.9 577.1 L930 577.1 L930 607.1 L928.9 607.1 L915.1 591.2 L902.6 606 L892.7 591.8 L880.1 607.3 L869.1 584.4 L856.1 607 L848.5 593.7 L841.4 606.9 L827.9 586.8 L820.3 611.5 L807.9 587.3 L799.2 608.2 L786.1 593.8 L774.3 606.8 L765.8 592.8 L755.5 605.6 L745.8 589.9 L734.8 602.9 L723.8 590.5 L713.8 605.4 L705 588.1 L695.4 610.1 L688.1 587.6 L677.9 610.3 L666.8 587.9 L655.5 610.4 L644.2 593.8 L635.1 612.4 L623.1 588 L612 607.1 L599.4 589.6 L590.5 611 L581.5 590.8 L571.4 607.9 L561.1 591.9 L549.7 616.9 L539.3 592.2 L525.8 603.7 L514.3 586.1 L504.4 609.8 L493.5 593.9 L480.4 608.8 L472.4 583.1 L464.5 609.7 L451.3 588.4 L439.4 612.4 L426.2 587.1 L412.9 613.6 L404.9 591.7 L396.9 609.4 L383.2 584.9 L370.4 608.2 L357.6 591.3 L348 604.2 L337.7 594.4 L325.6 604.7 L316.9 590.6 L307.4 605.8 L298.3 590.2 L286.8 604.2 L275.9 589.3 L263.5 606.2 L250.9 586.9 L238.7 606.8 L226.8 593.9 L217 612.6 L203.1 589.9 L191.3 608.6 L180.7 588.2 L168.6 605.8 L158 591.4Z" fill="#20285a"/>
<path d="M158 559.5 L165.6 577.3 L177.8 558.3 L189.6 576 L201.8 560.1 L214.5 577.4 L227.8 560.3 L238.9 573.3 L250.8 563.9 L261.4 575.1 L271 565.5 L279.1 575 L286.3 566.1 L296.7 574.7 L306.7 561.5 L320.4 575.4 L328.7 564 L341.8 574 L349.2 563.4 L362.9 572.9 L376.6 563 L384.7 576.7 L392 564.8 L405.4 581 L417.3 562.3 L425.3 576.5 L434.4 562.3 L443.7 573.8 L451.9 564.2 L459 576.8 L472.5 564.1 L485.7 573.5 L499.2 559.7 L508.6 578.4 L516.6 560.5 L527.4 573.9 L537.3 564.5 L546.7 573 L560 565.9 L573.2 573.4 L582.2 566.6 L596.2 574.4 L605.2 560.1 L614.3 579.3 L623.6 564 L634.3 572.7 L642.9 563.1 L655.3 576.1 L662.9 562.2 L671.3 576.1 L682.4 561.3 L692.2 582.7 L701.6 559.2 L708.7 579.1 L717.6 564.2 L725.7 574.6 L736.3 563.4 L748.3 575.9 L760.3 564.8 L773.4 574.8 L784.2 563.2 L792.7 571.4 L805.4 566.8 L813.8 571.4 L824.5 563 L836.5 572.2 L847 564.1 L854.9 576.2 L866 560.1 L879.5 575.5 L890.2 562.6 L899.6 574.2 L913.4 560.3 L926.4 572.7 L930 572.7 L930 602.7 L926.4 602.7 L913.4 590.3 L899.6 604.2 L890.2 592.6 L879.5 605.5 L866 590.1 L854.9 606.2 L847 594.1 L836.5 602.2 L824.5 593 L813.8 601.4 L805.4 596.8 L792.7 601.4 L784.2 593.2 L773.4 604.8 L760.3 594.8 L748.3 605.9 L736.3 593.4 L725.7 604.6 L717.6 594.2 L708.7 609.1 L701.6 589.2 L692.2 612.7 L682.4 591.3 L671.3 606.1 L662.9 592.2 L655.3 606.1 L642.9 593.1 L634.3 602.7 L623.6 594 L614.3 609.3 L605.2 590.1 L596.2 604.4 L582.2 596.6 L573.2 603.4 L560 595.9 L546.7 603 L537.3 594.5 L527.4 603.9 L516.6 590.5 L508.6 608.4 L499.2 589.7 L485.7 603.5 L472.5 594.1 L459 606.8 L451.9 594.2 L443.7 603.8 L434.4 592.3 L425.3 606.5 L417.3 592.3 L405.4 611 L392 594.8 L384.7 606.7 L376.6 593 L362.9 602.9 L349.2 593.4 L341.8 604 L328.7 594 L320.4 605.4 L306.7 591.5 L296.7 604.7 L286.3 596.1 L279.1 605 L271 595.5 L261.4 605.1 L250.8 593.9 L238.9 603.3 L227.8 590.3 L214.5 607.4 L201.8 590.1 L189.6 606 L177.8 588.3 L165.6 607.3 L158 589.5Z" fill="#20285a"/>
<path d="M158 563.9 L168.6 578.3 L180.7 560.7 L191.3 581.1 L203.1 562.4 L217 585.1 L226.8 566.4 L238.7 579.3 L250.9 559.4 L263.5 578.7 L275.9 561.8 L286.8 576.7 L298.3 562.7 L307.4 578.3 L316.9 563.1 L325.6 577.2 L337.7 566.9 L348 576.7 L357.6 563.8 L370.4 580.7 L383.2 557.4 L396.9 581.9 L404.9 564.2 L412.9 586.1 L426.2 559.6 L439.4 584.9 L451.3 560.9 L464.5 582.2 L472.4 555.6 L480.4 581.3 L493.5 566.4 L504.4 582.3 L514.3 558.6 L525.8 576.2 L539.3 564.7 L549.7 589.4 L561.1 564.4 L571.4 580.4 L581.5 563.3 L590.5 583.5 L599.4 562.1 L612 579.6 L623.1 560.5 L635.1 584.9 L644.2 566.3 L655.5 582.9 L666.8 560.4 L677.9 582.8 L688.1 560.1 L695.4 582.6 L705 560.6 L713.8 577.9 L723.8 563 L734.8 575.4 L745.8 562.4 L755.5 578.1 L765.8 565.3 L774.3 579.3 L786.1 566.3 L799.2 580.7 L807.9 559.8 L820.3 584 L827.9 559.3 L841.4 579.4 L848.5 566.2 L856.1 579.5 L869.1 556.9 L880.1 579.8 L892.7 564.3 L902.6 578.5 L915.1 563.7 L928.9 579.6 L930 579.6 L930 604.6 L928.9 604.6 L915.1 588.7 L902.6 603.5 L892.7 589.3 L880.1 604.8 L869.1 581.9 L856.1 604.5 L848.5 591.2 L841.4 604.4 L827.9 584.3 L820.3 609 L807.9 584.8 L799.2 605.7 L786.1 591.3 L774.3 604.3 L765.8 590.3 L755.5 603.1 L745.8 587.4 L734.8 600.4 L723.8 588 L713.8 602.9 L705 585.6 L695.4 607.6 L688.1 585.1 L677.9 607.8 L666.8 585.4 L655.5 607.9 L644.2 591.3 L635.1 609.9 L623.1 585.5 L612 604.6 L599.4 587.1 L590.5 608.5 L581.5 588.3 L571.4 605.4 L561.1 589.4 L549.7 614.4 L539.3 589.7 L525.8 601.2 L514.3 583.6 L504.4 607.3 L493.5 591.4 L480.4 606.3 L472.4 580.6 L464.5 607.2 L451.3 585.9 L439.4 609.9 L426.2 584.6 L412.9 611.1 L404.9 589.2 L396.9 606.9 L383.2 582.4 L370.4 605.7 L357.6 588.8 L348 601.7 L337.7 591.9 L325.6 602.2 L316.9 588.1 L307.4 603.3 L298.3 587.7 L286.8 601.7 L275.9 586.8 L263.5 603.7 L250.9 584.4 L238.7 604.3 L226.8 591.4 L217 610.1 L203.1 587.4 L191.3 606.1 L180.7 585.7 L168.6 603.3 L158 588.9Z" fill="#3646a0"/>
<path d="M158 562 L165.6 579.8 L177.8 560.8 L189.6 578.5 L201.8 562.6 L214.5 579.9 L227.8 562.8 L238.9 575.8 L250.8 566.4 L261.4 577.6 L271 568 L279.1 577.5 L286.3 568.6 L296.7 577.2 L306.7 564 L320.4 577.9 L328.7 566.5 L341.8 576.5 L349.2 565.9 L362.9 575.4 L376.6 565.5 L384.7 579.2 L392 567.3 L405.4 583.5 L417.3 564.8 L425.3 579 L434.4 564.8 L443.7 576.3 L451.9 566.7 L459 579.3 L472.5 566.6 L485.7 576 L499.2 562.2 L508.6 580.9 L516.6 563 L527.4 576.4 L537.3 567 L546.7 575.5 L560 568.4 L573.2 575.9 L582.2 569.1 L596.2 576.9 L605.2 562.6 L614.3 581.8 L623.6 566.5 L634.3 575.2 L642.9 565.6 L655.3 578.6 L662.9 564.7 L671.3 578.6 L682.4 563.8 L692.2 585.2 L701.6 561.7 L708.7 581.6 L717.6 566.7 L725.7 577.1 L736.3 565.9 L748.3 578.4 L760.3 567.3 L773.4 577.3 L784.2 565.7 L792.7 573.9 L805.4 569.3 L813.8 573.9 L824.5 565.5 L836.5 574.7 L847 566.6 L854.9 578.7 L866 562.6 L879.5 578 L890.2 565.1 L899.6 576.7 L913.4 562.8 L926.4 575.2 L930 575.2 L930 600.2 L926.4 600.2 L913.4 587.8 L899.6 601.7 L890.2 590.1 L879.5 603 L866 587.6 L854.9 603.7 L847 591.6 L836.5 599.7 L824.5 590.5 L813.8 598.9 L805.4 594.3 L792.7 598.9 L784.2 590.7 L773.4 602.3 L760.3 592.3 L748.3 603.4 L736.3 590.9 L725.7 602.1 L717.6 591.7 L708.7 606.6 L701.6 586.7 L692.2 610.2 L682.4 588.8 L671.3 603.6 L662.9 589.7 L655.3 603.6 L642.9 590.6 L634.3 600.2 L623.6 591.5 L614.3 606.8 L605.2 587.6 L596.2 601.9 L582.2 594.1 L573.2 600.9 L560 593.4 L546.7 600.5 L537.3 592 L527.4 601.4 L516.6 588 L508.6 605.9 L499.2 587.2 L485.7 601 L472.5 591.6 L459 604.3 L451.9 591.7 L443.7 601.3 L434.4 589.8 L425.3 604 L417.3 589.8 L405.4 608.5 L392 592.3 L384.7 604.2 L376.6 590.5 L362.9 600.4 L349.2 590.9 L341.8 601.5 L328.7 591.5 L320.4 602.9 L306.7 589 L296.7 602.2 L286.3 593.6 L279.1 602.5 L271 593 L261.4 602.6 L250.8 591.4 L238.9 600.8 L227.8 587.8 L214.5 604.9 L201.8 587.6 L189.6 603.5 L177.8 585.8 L165.6 604.8 L158 587Z" fill="#3646a0"/>
<path d="M158 566.4 L168.6 580.8 L180.7 563.2 L191.3 583.6 L203.1 564.9 L217 587.6 L226.8 568.9 L238.7 581.8 L250.9 561.9 L263.5 581.2 L275.9 564.3 L286.8 579.2 L298.3 565.2 L307.4 580.8 L316.9 565.6 L325.6 579.7 L337.7 569.4 L348 579.2 L357.6 566.3 L370.4 583.2 L383.2 559.9 L396.9 584.4 L404.9 566.7 L412.9 588.6 L426.2 562.1 L439.4 587.4 L451.3 563.4 L464.5 584.7 L472.4 558.1 L480.4 583.8 L493.5 568.9 L504.4 584.8 L514.3 561.1 L525.8 578.7 L539.3 567.2 L549.7 591.9 L561.1 566.9 L571.4 582.9 L581.5 565.8 L590.5 586 L599.4 564.6 L612 582.1 L623.1 563 L635.1 587.4 L644.2 568.8 L655.5 585.4 L666.8 562.9 L677.9 585.3 L688.1 562.6 L695.4 585.1 L705 563.1 L713.8 580.4 L723.8 565.5 L734.8 577.9 L745.8 564.9 L755.5 580.6 L765.8 567.8 L774.3 581.8 L786.1 568.8 L799.2 583.2 L807.9 562.3 L820.3 586.5 L827.9 561.8 L841.4 581.9 L848.5 568.7 L856.1 582 L869.1 559.4 L880.1 582.3 L892.7 566.8 L902.6 581 L915.1 566.2 L928.9 582.1 L930 582.1 L930 602.1 L928.9 602.1 L915.1 586.2 L902.6 601 L892.7 586.8 L880.1 602.3 L869.1 579.4 L856.1 602 L848.5 588.7 L841.4 601.9 L827.9 581.8 L820.3 606.5 L807.9 582.3 L799.2 603.2 L786.1 588.8 L774.3 601.8 L765.8 587.8 L755.5 600.6 L745.8 584.9 L734.8 597.9 L723.8 585.5 L713.8 600.4 L705 583.1 L695.4 605.1 L688.1 582.6 L677.9 605.3 L666.8 582.9 L655.5 605.4 L644.2 588.8 L635.1 607.4 L623.1 583 L612 602.1 L599.4 584.6 L590.5 606 L581.5 585.8 L571.4 602.9 L561.1 586.9 L549.7 611.9 L539.3 587.2 L525.8 598.7 L514.3 581.1 L504.4 604.8 L493.5 588.9 L480.4 603.8 L472.4 578.1 L464.5 604.7 L451.3 583.4 L439.4 607.4 L426.2 582.1 L412.9 608.6 L404.9 586.7 L396.9 604.4 L383.2 579.9 L370.4 603.2 L357.6 586.3 L348 599.2 L337.7 589.4 L325.6 599.7 L316.9 585.6 L307.4 600.8 L298.3 585.2 L286.8 599.2 L275.9 584.3 L263.5 601.2 L250.9 581.9 L238.7 601.8 L226.8 588.9 L217 607.6 L203.1 584.9 L191.3 603.6 L180.7 583.2 L168.6 600.8 L158 586.4Z" fill="#5064c4"/>
<path d="M158 564.5 L165.6 582.3 L177.8 563.3 L189.6 581 L201.8 565.1 L214.5 582.4 L227.8 565.3 L238.9 578.3 L250.8 568.9 L261.4 580.1 L271 570.5 L279.1 580 L286.3 571.1 L296.7 579.7 L306.7 566.5 L320.4 580.4 L328.7 569 L341.8 579 L349.2 568.4 L362.9 577.9 L376.6 568 L384.7 581.7 L392 569.8 L405.4 586 L417.3 567.3 L425.3 581.5 L434.4 567.3 L443.7 578.8 L451.9 569.2 L459 581.8 L472.5 569.1 L485.7 578.5 L499.2 564.7 L508.6 583.4 L516.6 565.5 L527.4 578.9 L537.3 569.5 L546.7 578 L560 570.9 L573.2 578.4 L582.2 571.6 L596.2 579.4 L605.2 565.1 L614.3 584.3 L623.6 569 L634.3 577.7 L642.9 568.1 L655.3 581.1 L662.9 567.2 L671.3 581.1 L682.4 566.3 L692.2 587.7 L701.6 564.2 L708.7 584.1 L717.6 569.2 L725.7 579.6 L736.3 568.4 L748.3 580.9 L760.3 569.8 L773.4 579.8 L784.2 568.2 L792.7 576.4 L805.4 571.8 L813.8 576.4 L824.5 568 L836.5 577.2 L847 569.1 L854.9 581.2 L866 565.1 L879.5 580.5 L890.2 567.6 L899.6 579.2 L913.4 565.3 L926.4 577.7 L930 577.7 L930 597.7 L926.4 597.7 L913.4 585.3 L899.6 599.2 L890.2 587.6 L879.5 600.5 L866 585.1 L854.9 601.2 L847 589.1 L836.5 597.2 L824.5 588 L813.8 596.4 L805.4 591.8 L792.7 596.4 L784.2 588.2 L773.4 599.8 L760.3 589.8 L748.3 600.9 L736.3 588.4 L725.7 599.6 L717.6 589.2 L708.7 604.1 L701.6 584.2 L692.2 607.7 L682.4 586.3 L671.3 601.1 L662.9 587.2 L655.3 601.1 L642.9 588.1 L634.3 597.7 L623.6 589 L614.3 604.3 L605.2 585.1 L596.2 599.4 L582.2 591.6 L573.2 598.4 L560 590.9 L546.7 598 L537.3 589.5 L527.4 598.9 L516.6 585.5 L508.6 603.4 L499.2 584.7 L485.7 598.5 L472.5 589.1 L459 601.8 L451.9 589.2 L443.7 598.8 L434.4 587.3 L425.3 601.5 L417.3 587.3 L405.4 606 L392 589.8 L384.7 601.7 L376.6 588 L362.9 597.9 L349.2 588.4 L341.8 599 L328.7 589 L320.4 600.4 L306.7 586.5 L296.7 599.7 L286.3 591.1 L279.1 600 L271 590.5 L261.4 600.1 L250.8 588.9 L238.9 598.3 L227.8 585.3 L214.5 602.4 L201.8 585.1 L189.6 601 L177.8 583.3 L165.6 602.3 L158 584.5Z" fill="#5064c4"/>
<path d="M158 572.4 L168.6 586.8 L180.7 569.2 L191.3 589.6 L203.1 570.9 L217 593.6 L226.8 574.9 L238.7 587.8 L250.9 567.9 L263.5 587.2 L275.9 570.3 L286.8 585.2 L298.3 571.2 L307.4 586.8 L316.9 571.6 L325.6 585.7 L337.7 575.4 L348 585.2 L357.6 572.3 L370.4 589.2 L383.2 565.9 L396.9 590.4 L404.9 572.7 L412.9 594.6 L426.2 568.1 L439.4 593.4 L451.3 569.4 L464.5 590.7 L472.4 564.1 L480.4 589.8 L493.5 574.9 L504.4 590.8 L514.3 567.1 L525.8 584.7 L539.3 573.2 L549.7 597.9 L561.1 572.9 L571.4 588.9 L581.5 571.8 L590.5 592 L599.4 570.6 L612 588.1 L623.1 569 L635.1 593.4 L644.2 574.8 L655.5 591.4 L666.8 568.9 L677.9 591.3 L688.1 568.6 L695.4 591.1 L705 569.1 L713.8 586.4 L723.8 571.5 L734.8 583.9 L745.8 570.9 L755.5 586.6 L765.8 573.8 L774.3 587.8 L786.1 574.8 L799.2 589.2 L807.9 568.3 L820.3 592.5 L827.9 567.8 L841.4 587.9 L848.5 574.7 L856.1 588 L869.1 565.4 L880.1 588.3 L892.7 572.8 L902.6 587 L915.1 572.2 L928.9 588.1 L930 588.1 L930 596.1 L928.9 596.1 L915.1 580.2 L902.6 595 L892.7 580.8 L880.1 596.3 L869.1 573.4 L856.1 596 L848.5 582.7 L841.4 595.9 L827.9 575.8 L820.3 600.5 L807.9 576.3 L799.2 597.2 L786.1 582.8 L774.3 595.8 L765.8 581.8 L755.5 594.6 L745.8 578.9 L734.8 591.9 L723.8 579.5 L713.8 594.4 L705 577.1 L695.4 599.1 L688.1 576.6 L677.9 599.3 L666.8 576.9 L655.5 599.4 L644.2 582.8 L635.1 601.4 L623.1 577 L612 596.1 L599.4 578.6 L590.5 600 L581.5 579.8 L571.4 596.9 L561.1 580.9 L549.7 605.9 L539.3 581.2 L525.8 592.7 L514.3 575.1 L504.4 598.8 L493.5 582.9 L480.4 597.8 L472.4 572.1 L464.5 598.7 L451.3 577.4 L439.4 601.4 L426.2 576.1 L412.9 602.6 L404.9 580.7 L396.9 598.4 L383.2 573.9 L370.4 597.2 L357.6 580.3 L348 593.2 L337.7 583.4 L325.6 593.7 L316.9 579.6 L307.4 594.8 L298.3 579.2 L286.8 593.2 L275.9 578.3 L263.5 595.2 L250.9 575.9 L238.7 595.8 L226.8 582.9 L217 601.6 L203.1 578.9 L191.3 597.6 L180.7 577.2 L168.6 594.8 L158 580.4Z" fill="#6476d2"/>
<path d="M158 570.5 L165.6 588.3 L177.8 569.3 L189.6 587 L201.8 571.1 L214.5 588.4 L227.8 571.3 L238.9 584.3 L250.8 574.9 L261.4 586.1 L271 576.5 L279.1 586 L286.3 577.1 L296.7 585.7 L306.7 572.5 L320.4 586.4 L328.7 575 L341.8 585 L349.2 574.4 L362.9 583.9 L376.6 574 L384.7 587.7 L392 575.8 L405.4 592 L417.3 573.3 L425.3 587.5 L434.4 573.3 L443.7 584.8 L451.9 575.2 L459 587.8 L472.5 575.1 L485.7 584.5 L499.2 570.7 L508.6 589.4 L516.6 571.5 L527.4 584.9 L537.3 575.5 L546.7 584 L560 576.9 L573.2 584.4 L582.2 577.6 L596.2 585.4 L605.2 571.1 L614.3 590.3 L623.6 575 L634.3 583.7 L642.9 574.1 L655.3 587.1 L662.9 573.2 L671.3 587.1 L682.4 572.3 L692.2 593.7 L701.6 570.2 L708.7 590.1 L717.6 575.2 L725.7 585.6 L736.3 574.4 L748.3 586.9 L760.3 575.8 L773.4 585.8 L784.2 574.2 L792.7 582.4 L805.4 577.8 L813.8 582.4 L824.5 574 L836.5 583.2 L847 575.1 L854.9 587.2 L866 571.1 L879.5 586.5 L890.2 573.6 L899.6 585.2 L913.4 571.3 L926.4 583.7 L930 583.7 L930 591.7 L926.4 591.7 L913.4 579.3 L899.6 593.2 L890.2 581.6 L879.5 594.5 L866 579.1 L854.9 595.2 L847 583.1 L836.5 591.2 L824.5 582 L813.8 590.4 L805.4 585.8 L792.7 590.4 L784.2 582.2 L773.4 593.8 L760.3 583.8 L748.3 594.9 L736.3 582.4 L725.7 593.6 L717.6 583.2 L708.7 598.1 L701.6 578.2 L692.2 601.7 L682.4 580.3 L671.3 595.1 L662.9 581.2 L655.3 595.1 L642.9 582.1 L634.3 591.7 L623.6 583 L614.3 598.3 L605.2 579.1 L596.2 593.4 L582.2 585.6 L573.2 592.4 L560 584.9 L546.7 592 L537.3 583.5 L527.4 592.9 L516.6 579.5 L508.6 597.4 L499.2 578.7 L485.7 592.5 L472.5 583.1 L459 595.8 L451.9 583.2 L443.7 592.8 L434.4 581.3 L425.3 595.5 L417.3 581.3 L405.4 600 L392 583.8 L384.7 595.7 L376.6 582 L362.9 591.9 L349.2 582.4 L341.8 593 L328.7 583 L320.4 594.4 L306.7 580.5 L296.7 593.7 L286.3 585.1 L279.1 594 L271 584.5 L261.4 594.1 L250.8 582.9 L238.9 592.3 L227.8 579.3 L214.5 596.4 L201.8 579.1 L189.6 595 L177.8 577.3 L165.6 596.3 L158 578.5Z" fill="#6476d2"/>
<path d="M917.6 590.5v26.8 M935.3 593.6v-28.7 M951.8 596.5v32.1 M976.1 598v-25.1 M992.7 598v-30.7 M1005 598v-24 M1021.8 598v36.4 M1045.5 598v36.4 M1065.1 598v-34.2 M1085.6 598v-31.3 M1104.3 598v-36.1 M1124.3 598v-27 M1148.3 598v-23.2 M1168.9 598v-29.1 M1189.1 598v28 M1205.2 598v30.2 M1220.9 598v-24.4 M1245 598v-30.5 M1268.7 598v-26.3 M1286.7 598v-26.3 M1305.1 598v26 M1316.1 598v30 M1326.4 598v-28.5 M1342.9 598v34.9 M1364 598v-33.4 M1389.9 598v-32.9 M1413 598v-28.3 M1438.3 598v30.7 M1449.6 598v-33.7 M1462.7 598v-28 M1481.8 598v-25.8 M1502.8 598v28.8 M1522.4 598v35 M1547 598v-35 M1568.6 598v27.6 M1589.2 598v-34.4 M1604.5 598v33.1 M1625.8 598v23.4 M1636.5 598v30.5 M1647.4 598v35.8 M1660.7 598v-25.5 M1684 598v-30.9 M1693.4 598v24.3 M1705.5 598v-30.6 M1726.2 598v-28.1 M1750.1 598v30.3 M1772.8 598v-36.1 M1787.6 598v24.9 M1811.5 598v-34 M1823.6 598v34.3 M1839.2 598v-29.5" stroke="#1e2458" stroke-width="3" fill="none"/>
<path d="M915 565.9 L929 584.1 L937.2 570.2 L947.8 586.1 L960.5 566.3 L968.6 590.9 L976.9 574 L986.4 599.8 L996.3 567.3 L1003.3 591 L1015 574.7 L1023.8 593.2 L1034.9 573.6 L1047.2 587.2 L1057.8 571.9 L1065.3 585.8 L1077.3 576.1 L1085 592.6 L1095.1 569.7 L1106.2 596 L1114.9 576.1 L1124.1 597.9 L1135.4 563.8 L1144.1 592.1 L1153.2 568.9 L1161.9 587.5 L1175.7 577.6 L1186.5 587.2 L1194.3 573.8 L1202.7 587.3 L1214.3 575.7 L1222 588.1 L1232.1 570.9 L1241.5 592.9 L1250 568.7 L1260.2 588.2 L1273.5 571.2 L1284.7 589.4 L1295.3 571 L1305 594.5 L1314.7 575.3 L1324 595.1 L1333.5 570.4 L1342.7 590.7 L1351.7 571 L1364.8 598.9 L1372.1 567.1 L1381.9 597 L1394.9 570.5 L1402.7 600.4 L1410 574.9 L1419.1 599.2 L1430.5 574.1 L1442.6 590.2 L1452 576.8 L1461 587.3 L1468.3 575 L1476.8 594.8 L1488.7 574 L1497.6 587.3 L1511.2 571.8 L1522.6 594.9 L1532.5 573.6 L1544.9 586.7 L1553.7 572.9 L1564.5 593 L1574.4 575.4 L1586.3 593.3 L1597 572.5 L1606.1 596.4 L1615.4 567.6 L1623.6 595.3 L1635.9 566 L1645.5 596.5 L1653.8 566.4 L1663.1 594.2 L1670.6 575.5 L1678.2 596.3 L1686 570.7 L1696.8 587.8 L1708.2 567.3 L1716.9 592.4 L1729.8 574.5 L1742.7 594.6 L1755.5 571.4 L1768.3 588.8 L1777.9 571.1 L1788.8 591.6 L1802.2 569.3 L1810.3 589.4 L1822.1 575.6 L1829.7 587.4 L1841.8 576.7 L1844 576.7 L1844 608.7 L1841.8 608.7 L1829.7 619.4 L1822.1 607.6 L1810.3 621.4 L1802.2 601.3 L1788.8 623.6 L1777.9 603.1 L1768.3 620.8 L1755.5 603.4 L1742.7 626.6 L1729.8 606.5 L1716.9 624.4 L1708.2 599.3 L1696.8 619.8 L1686 602.7 L1678.2 628.3 L1670.6 607.5 L1663.1 626.2 L1653.8 598.4 L1645.5 628.5 L1635.9 598 L1623.6 627.3 L1615.4 599.6 L1606.1 628.4 L1597 604.5 L1586.3 625.3 L1574.4 607.4 L1564.5 625 L1553.7 604.9 L1544.9 618.7 L1532.5 605.6 L1522.6 626.9 L1511.2 603.8 L1497.6 619.3 L1488.7 606 L1476.8 626.8 L1468.3 607 L1461 619.3 L1452 608.8 L1442.6 622.2 L1430.5 606.1 L1419.1 631.2 L1410 606.9 L1402.7 632.4 L1394.9 602.5 L1381.9 629 L1372.1 599.1 L1364.8 630.9 L1351.7 603 L1342.7 622.7 L1333.5 602.4 L1324 627.1 L1314.7 607.3 L1305 626.5 L1295.3 603 L1284.7 621.4 L1273.5 603.2 L1260.2 620.2 L1250 600.7 L1241.5 624.9 L1232.1 602.9 L1222 620.1 L1214.3 607.7 L1202.7 619.3 L1194.3 605.8 L1186.5 619.2 L1175.7 609.6 L1161.9 619.5 L1153.2 600.9 L1144.1 624.1 L1135.4 595.8 L1124.1 629.9 L1114.9 608.1 L1106.2 628 L1095.1 601.7 L1085 624.6 L1077.3 608.1 L1065.3 617.8 L1057.8 603.9 L1047.2 619.2 L1034.9 605.6 L1023.8 625.2 L1015 606.7 L1003.3 623 L996.3 599.3 L986.4 631.8 L976.9 606 L968.6 622.9 L960.5 598.3 L947.8 618.1 L937.2 602.2 L929 616.1 L915 597.9Z" fill="#20285a"/>
<path d="M915 568.9 L929 587.1 L937.2 573.2 L947.8 589.1 L960.5 569.3 L968.6 593.9 L976.9 577 L986.4 602.8 L996.3 570.3 L1003.3 594 L1015 577.7 L1023.8 596.2 L1034.9 576.6 L1047.2 590.2 L1057.8 574.9 L1065.3 588.8 L1077.3 579.1 L1085 595.6 L1095.1 572.7 L1106.2 599 L1114.9 579.1 L1124.1 600.9 L1135.4 566.8 L1144.1 595.1 L1153.2 571.9 L1161.9 590.5 L1175.7 580.6 L1186.5 590.2 L1194.3 576.8 L1202.7 590.3 L1214.3 578.7 L1222 591.1 L1232.1 573.9 L1241.5 595.9 L1250 571.7 L1260.2 591.2 L1273.5 574.2 L1284.7 592.4 L1295.3 574 L1305 597.5 L1314.7 578.3 L1324 598.1 L1333.5 573.4 L1342.7 593.7 L1351.7 574 L1364.8 601.9 L1372.1 570.1 L1381.9 600 L1394.9 573.5 L1402.7 603.4 L1410 577.9 L1419.1 602.2 L1430.5 577.1 L1442.6 593.2 L1452 579.8 L1461 590.3 L1468.3 578 L1476.8 597.8 L1488.7 577 L1497.6 590.3 L1511.2 574.8 L1522.6 597.9 L1532.5 576.6 L1544.9 589.7 L1553.7 575.9 L1564.5 596 L1574.4 578.4 L1586.3 596.3 L1597 575.5 L1606.1 599.4 L1615.4 570.6 L1623.6 598.3 L1635.9 569 L1645.5 599.5 L1653.8 569.4 L1663.1 597.2 L1670.6 578.5 L1678.2 599.3 L1686 573.7 L1696.8 590.8 L1708.2 570.3 L1716.9 595.4 L1729.8 577.5 L1742.7 597.6 L1755.5 574.4 L1768.3 591.8 L1777.9 574.1 L1788.8 594.6 L1802.2 572.3 L1810.3 592.4 L1822.1 578.6 L1829.7 590.4 L1841.8 579.7 L1844 579.7 L1844 605.7 L1841.8 605.7 L1829.7 616.4 L1822.1 604.6 L1810.3 618.4 L1802.2 598.3 L1788.8 620.6 L1777.9 600.1 L1768.3 617.8 L1755.5 600.4 L1742.7 623.6 L1729.8 603.5 L1716.9 621.4 L1708.2 596.3 L1696.8 616.8 L1686 599.7 L1678.2 625.3 L1670.6 604.5 L1663.1 623.2 L1653.8 595.4 L1645.5 625.5 L1635.9 595 L1623.6 624.3 L1615.4 596.6 L1606.1 625.4 L1597 601.5 L1586.3 622.3 L1574.4 604.4 L1564.5 622 L1553.7 601.9 L1544.9 615.7 L1532.5 602.6 L1522.6 623.9 L1511.2 600.8 L1497.6 616.3 L1488.7 603 L1476.8 623.8 L1468.3 604 L1461 616.3 L1452 605.8 L1442.6 619.2 L1430.5 603.1 L1419.1 628.2 L1410 603.9 L1402.7 629.4 L1394.9 599.5 L1381.9 626 L1372.1 596.1 L1364.8 627.9 L1351.7 600 L1342.7 619.7 L1333.5 599.4 L1324 624.1 L1314.7 604.3 L1305 623.5 L1295.3 600 L1284.7 618.4 L1273.5 600.2 L1260.2 617.2 L1250 597.7 L1241.5 621.9 L1232.1 599.9 L1222 617.1 L1214.3 604.7 L1202.7 616.3 L1194.3 602.8 L1186.5 616.2 L1175.7 606.6 L1161.9 616.5 L1153.2 597.9 L1144.1 621.1 L1135.4 592.8 L1124.1 626.9 L1114.9 605.1 L1106.2 625 L1095.1 598.7 L1085 621.6 L1077.3 605.1 L1065.3 614.8 L1057.8 600.9 L1047.2 616.2 L1034.9 602.6 L1023.8 622.2 L1015 603.7 L1003.3 620 L996.3 596.3 L986.4 628.8 L976.9 603 L968.6 619.9 L960.5 595.3 L947.8 615.1 L937.2 599.2 L929 613.1 L915 594.9Z" fill="#3646a0"/>
<path d="M915 571.9 L929 590.1 L937.2 576.2 L947.8 592.1 L960.5 572.3 L968.6 596.9 L976.9 580 L986.4 605.8 L996.3 573.3 L1003.3 597 L1015 580.7 L1023.8 599.2 L1034.9 579.6 L1047.2 593.2 L1057.8 577.9 L1065.3 591.8 L1077.3 582.1 L1085 598.6 L1095.1 575.7 L1106.2 602 L1114.9 582.1 L1124.1 603.9 L1135.4 569.8 L1144.1 598.1 L1153.2 574.9 L1161.9 593.5 L1175.7 583.6 L1186.5 593.2 L1194.3 579.8 L1202.7 593.3 L1214.3 581.7 L1222 594.1 L1232.1 576.9 L1241.5 598.9 L1250 574.7 L1260.2 594.2 L1273.5 577.2 L1284.7 595.4 L1295.3 577 L1305 600.5 L1314.7 581.3 L1324 601.1 L1333.5 576.4 L1342.7 596.7 L1351.7 577 L1364.8 604.9 L1372.1 573.1 L1381.9 603 L1394.9 576.5 L1402.7 606.4 L1410 580.9 L1419.1 605.2 L1430.5 580.1 L1442.6 596.2 L1452 582.8 L1461 593.3 L1468.3 581 L1476.8 600.8 L1488.7 580 L1497.6 593.3 L1511.2 577.8 L1522.6 600.9 L1532.5 579.6 L1544.9 592.7 L1553.7 578.9 L1564.5 599 L1574.4 581.4 L1586.3 599.3 L1597 578.5 L1606.1 602.4 L1615.4 573.6 L1623.6 601.3 L1635.9 572 L1645.5 602.5 L1653.8 572.4 L1663.1 600.2 L1670.6 581.5 L1678.2 602.3 L1686 576.7 L1696.8 593.8 L1708.2 573.3 L1716.9 598.4 L1729.8 580.5 L1742.7 600.6 L1755.5 577.4 L1768.3 594.8 L1777.9 577.1 L1788.8 597.6 L1802.2 575.3 L1810.3 595.4 L1822.1 581.6 L1829.7 593.4 L1841.8 582.7 L1844 582.7 L1844 602.7 L1841.8 602.7 L1829.7 613.4 L1822.1 601.6 L1810.3 615.4 L1802.2 595.3 L1788.8 617.6 L1777.9 597.1 L1768.3 614.8 L1755.5 597.4 L1742.7 620.6 L1729.8 600.5 L1716.9 618.4 L1708.2 593.3 L1696.8 613.8 L1686 596.7 L1678.2 622.3 L1670.6 601.5 L1663.1 620.2 L1653.8 592.4 L1645.5 622.5 L1635.9 592 L1623.6 621.3 L1615.4 593.6 L1606.1 622.4 L1597 598.5 L1586.3 619.3 L1574.4 601.4 L1564.5 619 L1553.7 598.9 L1544.9 612.7 L1532.5 599.6 L1522.6 620.9 L1511.2 597.8 L1497.6 613.3 L1488.7 600 L1476.8 620.8 L1468.3 601 L1461 613.3 L1452 602.8 L1442.6 616.2 L1430.5 600.1 L1419.1 625.2 L1410 600.9 L1402.7 626.4 L1394.9 596.5 L1381.9 623 L1372.1 593.1 L1364.8 624.9 L1351.7 597 L1342.7 616.7 L1333.5 596.4 L1324 621.1 L1314.7 601.3 L1305 620.5 L1295.3 597 L1284.7 615.4 L1273.5 597.2 L1260.2 614.2 L1250 594.7 L1241.5 618.9 L1232.1 596.9 L1222 614.1 L1214.3 601.7 L1202.7 613.3 L1194.3 599.8 L1186.5 613.2 L1175.7 603.6 L1161.9 613.5 L1153.2 594.9 L1144.1 618.1 L1135.4 589.8 L1124.1 623.9 L1114.9 602.1 L1106.2 622 L1095.1 595.7 L1085 618.6 L1077.3 602.1 L1065.3 611.8 L1057.8 597.9 L1047.2 613.2 L1034.9 599.6 L1023.8 619.2 L1015 600.7 L1003.3 617 L996.3 593.3 L986.4 625.8 L976.9 600 L968.6 616.9 L960.5 592.3 L947.8 612.1 L937.2 596.2 L929 610.1 L915 591.9Z" fill="#5064c4"/>
<path d="M915 577.9 L929 596.1 L937.2 582.2 L947.8 598.1 L960.5 578.3 L968.6 602.9 L976.9 586 L986.4 611.8 L996.3 579.3 L1003.3 603 L1015 586.7 L1023.8 605.2 L1034.9 585.6 L1047.2 599.2 L1057.8 583.9 L1065.3 597.8 L1077.3 588.1 L1085 604.6 L1095.1 581.7 L1106.2 608 L1114.9 588.1 L1124.1 609.9 L1135.4 575.8 L1144.1 604.1 L1153.2 580.9 L1161.9 599.5 L1175.7 589.6 L1186.5 599.2 L1194.3 585.8 L1202.7 599.3 L1214.3 587.7 L1222 600.1 L1232.1 582.9 L1241.5 604.9 L1250 580.7 L1260.2 600.2 L1273.5 583.2 L1284.7 601.4 L1295.3 583 L1305 606.5 L1314.7 587.3 L1324 607.1 L1333.5 582.4 L1342.7 602.7 L1351.7 583 L1364.8 610.9 L1372.1 579.1 L1381.9 609 L1394.9 582.5 L1402.7 612.4 L1410 586.9 L1419.1 611.2 L1430.5 586.1 L1442.6 602.2 L1452 588.8 L1461 599.3 L1468.3 587 L1476.8 606.8 L1488.7 586 L1497.6 599.3 L1511.2 583.8 L1522.6 606.9 L1532.5 585.6 L1544.9 598.7 L1553.7 584.9 L1564.5 605 L1574.4 587.4 L1586.3 605.3 L1597 584.5 L1606.1 608.4 L1615.4 579.6 L1623.6 607.3 L1635.9 578 L1645.5 608.5 L1653.8 578.4 L1663.1 606.2 L1670.6 587.5 L1678.2 608.3 L1686 582.7 L1696.8 599.8 L1708.2 579.3 L1716.9 604.4 L1729.8 586.5 L1742.7 606.6 L1755.5 583.4 L1768.3 600.8 L1777.9 583.1 L1788.8 603.6 L1802.2 581.3 L1810.3 601.4 L1822.1 587.6 L1829.7 599.4 L1841.8 588.7 L1844 588.7 L1844 596.7 L1841.8 596.7 L1829.7 607.4 L1822.1 595.6 L1810.3 609.4 L1802.2 589.3 L1788.8 611.6 L1777.9 591.1 L1768.3 608.8 L1755.5 591.4 L1742.7 614.6 L1729.8 594.5 L1716.9 612.4 L1708.2 587.3 L1696.8 607.8 L1686 590.7 L1678.2 616.3 L1670.6 595.5 L1663.1 614.2 L1653.8 586.4 L1645.5 616.5 L1635.9 586 L1623.6 615.3 L1615.4 587.6 L1606.1 616.4 L1597 592.5 L1586.3 613.3 L1574.4 595.4 L1564.5 613 L1553.7 592.9 L1544.9 606.7 L1532.5 593.6 L1522.6 614.9 L1511.2 591.8 L1497.6 607.3 L1488.7 594 L1476.8 614.8 L1468.3 595 L1461 607.3 L1452 596.8 L1442.6 610.2 L1430.5 594.1 L1419.1 619.2 L1410 594.9 L1402.7 620.4 L1394.9 590.5 L1381.9 617 L1372.1 587.1 L1364.8 618.9 L1351.7 591 L1342.7 610.7 L1333.5 590.4 L1324 615.1 L1314.7 595.3 L1305 614.5 L1295.3 591 L1284.7 609.4 L1273.5 591.2 L1260.2 608.2 L1250 588.7 L1241.5 612.9 L1232.1 590.9 L1222 608.1 L1214.3 595.7 L1202.7 607.3 L1194.3 593.8 L1186.5 607.2 L1175.7 597.6 L1161.9 607.5 L1153.2 588.9 L1144.1 612.1 L1135.4 583.8 L1124.1 617.9 L1114.9 596.1 L1106.2 616 L1095.1 589.7 L1085 612.6 L1077.3 596.1 L1065.3 605.8 L1057.8 591.9 L1047.2 607.2 L1034.9 593.6 L1023.8 613.2 L1015 594.7 L1003.3 611 L996.3 587.3 L986.4 619.8 L976.9 594 L968.6 610.9 L960.5 586.3 L947.8 606.1 L937.2 590.2 L929 604.1 L915 585.9Z" fill="#6476d2"/>
<path d="M160.5 732v-28.3 M167.7 732v30.6 M174 732v-27.9 M180.8 732v-27 M194.6 732v32.4 M203.9 732v28.9 M217.1 732v30.7 M223.9 732v29.8 M236 732v26.1 M244.1 732v26.6 M255.2 732v-30.7 M267.6 732v32 M279.3 732v31.3 M289.6 732v28.5 M301.7 732v-31.5 M315.3 732v29.2 M321.4 732v32.2 M328.7 732v-31.3 M335.4 732v-28.6 M344.9 732v31.8 M356.3 732v28.2 M368.4 732v30.2 M380.8 732v-28.3 M391.7 732v-31.3 M402.1 732v31.3 M407.1 732v-28.9 M413.1 732v-31.1 M423.5 732v-28.6 M430.5 732v27.9 M441 732v-27.5 M448.5 732v-30.3 M459.4 732v-31.1 M470.6 732v25.7 M477.2 732v27.3 M485.5 732v27 M496 732v-31.7 M505.5 732v32.1 M519.4 732v26.8 M525.8 732v-29.1 M532.4 732v-32.1 M544.7 732v-27.2 M550.6 732v29.3 M560.2 732v28.1 M573.3 732v-30.1 M583.9 732v28.5 M592.2 732v30.1 M600.5 732v29.1 M613.7 732v-28.9 M627.5 732v25.8 M638.6 732v-29.3 M650.4 732v31.7 M662.1 732v-25.7 M668.4 732v32.1 M674.7 732v29.6 M680.1 732v28.2 M690.9 732v27.4 M698.5 732v-29.3 M712.3 732v30 M723.4 732v28.1 M734.8 732v-30.3 M741.2 732v29.5 M753.4 732v-27.9 M763 732v-31.6 M774.7 732v-26.6 M780.1 732v-27.5 M793.8 732v-32.2 M801.6 732v-32 M809.5 732v-28.5 M816.9 732v-28.2 M830.5 732v-27.3 M843.7 732v28.6 M854.4 732v-30.9 M860.8 732v-30.7 M870.8 732v30.1 M878.3 732v28 M888.1 732v27.5 M895.4 732v-30.8 M907.9 732v-29.4" stroke="#24382a" stroke-width="3" fill="none"/>
<path d="M158 705.9 L163.6 706.5 L167.7 705.7 L173.5 706.5 L178.7 705.6 L183.4 706.6 L187.4 705.3 L191.1 706.3 L194.1 705.4 L198.8 706.3 L202.7 705.7 L208.5 706.3 L211.8 705.8 L215.8 706.6 L219.1 705.6 L222.8 706.2 L227.9 705.7 L232.7 706.7 L237.9 705.3 L243.4 706.6 L246.9 705.6 L252.7 706.2 L257.7 705.7 L260.8 706.5 L264.8 705.6 L269.2 706.1 L275.2 705.9 L279.2 706.2 L284.5 705.8 L289.1 706.4 L293.9 705.7 L299 706.6 L304.3 705.2 L308.9 706.8 L313.3 705.4 L319.3 706.3 L322.4 705.6 L327.1 706.3 L330.5 705.7 L334 706.2 L339.9 705.5 L345.3 706.4 L348.7 705 L352.9 707 L357.1 705.4 L360.8 706.3 L364.5 705.8 L368.4 706.6 L371.8 705.5 L377.1 706.5 L381.5 705.5 L386.3 706.3 L390 705.6 L395.6 706.1 L399.5 705.9 L402.5 706.4 L405.8 705.9 L409.8 706.4 L415.7 705.9 L420.8 706.1 L425.1 705.8 L429 706.5 L432.4 705.7 L435.9 706.4 L440 705.7 L443.6 706.6 L447.4 705.8 L450.5 706.4 L454.6 705.9 L459.3 706.4 L464.9 705.5 L469.1 706.6 L473.4 705.8 L478.2 706.6 L482.3 705.7 L487.9 706.6 L492.9 705.7 L496.9 707.1 L502.4 705.6 L506.2 706.5 L511.3 705.6 L516.3 706.3 L520 705.5 L524.4 706.5 L528.1 705.8 L532.6 706.4 L536.2 705.4 L541.6 706.6 L545.8 705.4 L549.2 706.3 L554.7 705.6 L558.8 706.6 L563.3 705.5 L568.3 706.3 L572.4 705.7 L576 706.6 L581.2 705.7 L586.7 706.2 L590.3 705.6 L594.4 706.2 L599.6 705.7 L605 706.3 L610.8 705.7 L614.9 706.5 L620.1 705.7 L625.8 706.8 L630.2 705.7 L634.7 706.5 L639.2 705.5 L643.4 706.1 L648.7 705.6 L651.9 706.4 L657.2 705.6 L662.3 706.4 L666.6 705.7 L672.2 706.1 L675.2 705.5 L679.2 706.2 L683.7 705.5 L689.3 706.5 L692.9 705.8 L697.3 706.4 L702.7 705.7 L705.8 706.4 L710.5 705.6 L714.4 706.7 L718.8 705.1 L722 706.5 L727.5 705.7 L733.3 706.6 L738.3 705.4 L743.8 706.2 L747.1 705.8 L751.4 706.5 L756.4 705.7 L759.6 706.5 L764.3 705.8 L770.1 706.2 L775.5 705.5 L779.6 706.3 L782.9 705.7 L787.9 706.1 L793.7 705.5 L797.6 706.2 L803.3 705.9 L808.1 706.3 L811.9 705.5 L817.7 706.1 L821.8 705.5 L825.8 706.3 L829.3 705.6 L834 706.1 L838.8 705.5 L842 706.4 L846.1 705.7 L849.6 706.5 L855.2 705.7 L860.9 706.2 L864.2 705.7 L868.7 706.3 L872.4 705.8 L876.9 706.9 L881.3 705.5 L885 706.5 L888.1 705.7 L893.8 706.2 L898.6 705.4 L902.3 706.5 L907.2 705.5 L912.6 706.4 L916 706.4 L916 758.4 L912.6 758.4 L907.2 757.5 L902.3 758.5 L898.6 757.4 L893.8 758.2 L888.1 757.7 L885 758.5 L881.3 757.5 L876.9 758.9 L872.4 757.8 L868.7 758.3 L864.2 757.7 L860.9 758.2 L855.2 757.7 L849.6 758.5 L846.1 757.7 L842 758.4 L838.8 757.5 L834 758.1 L829.3 757.6 L825.8 758.3 L821.8 757.5 L817.7 758.1 L811.9 757.5 L808.1 758.3 L803.3 757.9 L797.6 758.2 L793.7 757.5 L787.9 758.1 L782.9 757.7 L779.6 758.3 L775.5 757.5 L770.1 758.2 L764.3 757.8 L759.6 758.5 L756.4 757.7 L751.4 758.5 L747.1 757.8 L743.8 758.2 L738.3 757.4 L733.3 758.6 L727.5 757.7 L722 758.5 L718.8 757.1 L714.4 758.7 L710.5 757.6 L705.8 758.4 L702.7 757.7 L697.3 758.4 L692.9 757.8 L689.3 758.5 L683.7 757.5 L679.2 758.2 L675.2 757.5 L672.2 758.1 L666.6 757.7 L662.3 758.4 L657.2 757.6 L651.9 758.4 L648.7 757.6 L643.4 758.1 L639.2 757.5 L634.7 758.5 L630.2 757.7 L625.8 758.8 L620.1 757.7 L614.9 758.5 L610.8 757.7 L605 758.3 L599.6 757.7 L594.4 758.2 L590.3 757.6 L586.7 758.2 L581.2 757.7 L576 758.6 L572.4 757.7 L568.3 758.3 L563.3 757.5 L558.8 758.6 L554.7 757.6 L549.2 758.3 L545.8 757.4 L541.6 758.6 L536.2 757.4 L532.6 758.4 L528.1 757.8 L524.4 758.5 L520 757.5 L516.3 758.3 L511.3 757.6 L506.2 758.5 L502.4 757.6 L496.9 759.1 L492.9 757.7 L487.9 758.6 L482.3 757.7 L478.2 758.6 L473.4 757.8 L469.1 758.6 L464.9 757.5 L459.3 758.4 L454.6 757.9 L450.5 758.4 L447.4 757.8 L443.6 758.6 L440 757.7 L435.9 758.4 L432.4 757.7 L429 758.5 L425.1 757.8 L420.8 758.1 L415.7 757.9 L409.8 758.4 L405.8 757.9 L402.5 758.4 L399.5 757.9 L395.6 758.1 L390 757.6 L386.3 758.3 L381.5 757.5 L377.1 758.5 L371.8 757.5 L368.4 758.6 L364.5 757.8 L360.8 758.3 L357.1 757.4 L352.9 759 L348.7 757 L345.3 758.4 L339.9 757.5 L334 758.2 L330.5 757.7 L327.1 758.3 L322.4 757.6 L319.3 758.3 L313.3 757.4 L308.9 758.8 L304.3 757.2 L299 758.6 L293.9 757.7 L289.1 758.4 L284.5 757.8 L279.2 758.2 L275.2 757.9 L269.2 758.1 L264.8 757.6 L260.8 758.5 L257.7 757.7 L252.7 758.2 L246.9 757.6 L243.4 758.6 L237.9 757.3 L232.7 758.7 L227.9 757.7 L222.8 758.2 L219.1 757.6 L215.8 758.6 L211.8 757.8 L208.5 758.3 L202.7 757.7 L198.8 758.3 L194.1 757.4 L191.1 758.3 L187.4 757.3 L183.4 758.6 L178.7 757.6 L173.5 758.5 L167.7 757.7 L163.6 758.5 L158 757.9Z" fill="#263a2a"/>
<path d="M158 711.9 L163.6 712.5 L167.7 711.7 L173.5 712.5 L178.7 711.6 L183.4 712.6 L187.4 711.3 L191.1 712.3 L194.1 711.4 L198.8 712.3 L202.7 711.7 L208.5 712.3 L211.8 711.8 L215.8 712.6 L219.1 711.6 L222.8 712.2 L227.9 711.7 L232.7 712.7 L237.9 711.3 L243.4 712.6 L246.9 711.6 L252.7 712.2 L257.7 711.7 L260.8 712.5 L264.8 711.6 L269.2 712.1 L275.2 711.9 L279.2 712.2 L284.5 711.8 L289.1 712.4 L293.9 711.7 L299 712.6 L304.3 711.2 L308.9 712.8 L313.3 711.4 L319.3 712.3 L322.4 711.6 L327.1 712.3 L330.5 711.7 L334 712.2 L339.9 711.5 L345.3 712.4 L348.7 711 L352.9 713 L357.1 711.4 L360.8 712.3 L364.5 711.8 L368.4 712.6 L371.8 711.5 L377.1 712.5 L381.5 711.5 L386.3 712.3 L390 711.6 L395.6 712.1 L399.5 711.9 L402.5 712.4 L405.8 711.9 L409.8 712.4 L415.7 711.9 L420.8 712.1 L425.1 711.8 L429 712.5 L432.4 711.7 L435.9 712.4 L440 711.7 L443.6 712.6 L447.4 711.8 L450.5 712.4 L454.6 711.9 L459.3 712.4 L464.9 711.5 L469.1 712.6 L473.4 711.8 L478.2 712.6 L482.3 711.7 L487.9 712.6 L492.9 711.7 L496.9 713.1 L502.4 711.6 L506.2 712.5 L511.3 711.6 L516.3 712.3 L520 711.5 L524.4 712.5 L528.1 711.8 L532.6 712.4 L536.2 711.4 L541.6 712.6 L545.8 711.4 L549.2 712.3 L554.7 711.6 L558.8 712.6 L563.3 711.5 L568.3 712.3 L572.4 711.7 L576 712.6 L581.2 711.7 L586.7 712.2 L590.3 711.6 L594.4 712.2 L599.6 711.7 L605 712.3 L610.8 711.7 L614.9 712.5 L620.1 711.7 L625.8 712.8 L630.2 711.7 L634.7 712.5 L639.2 711.5 L643.4 712.1 L648.7 711.6 L651.9 712.4 L657.2 711.6 L662.3 712.4 L666.6 711.7 L672.2 712.1 L675.2 711.5 L679.2 712.2 L683.7 711.5 L689.3 712.5 L692.9 711.8 L697.3 712.4 L702.7 711.7 L705.8 712.4 L710.5 711.6 L714.4 712.7 L718.8 711.1 L722 712.5 L727.5 711.7 L733.3 712.6 L738.3 711.4 L743.8 712.2 L747.1 711.8 L751.4 712.5 L756.4 711.7 L759.6 712.5 L764.3 711.8 L770.1 712.2 L775.5 711.5 L779.6 712.3 L782.9 711.7 L787.9 712.1 L793.7 711.5 L797.6 712.2 L803.3 711.9 L808.1 712.3 L811.9 711.5 L817.7 712.1 L821.8 711.5 L825.8 712.3 L829.3 711.6 L834 712.1 L838.8 711.5 L842 712.4 L846.1 711.7 L849.6 712.5 L855.2 711.7 L860.9 712.2 L864.2 711.7 L868.7 712.3 L872.4 711.8 L876.9 712.9 L881.3 711.5 L885 712.5 L888.1 711.7 L893.8 712.2 L898.6 711.4 L902.3 712.5 L907.2 711.5 L912.6 712.4 L916 712.4 L916 752.4 L912.6 752.4 L907.2 751.5 L902.3 752.5 L898.6 751.4 L893.8 752.2 L888.1 751.7 L885 752.5 L881.3 751.5 L876.9 752.9 L872.4 751.8 L868.7 752.3 L864.2 751.7 L860.9 752.2 L855.2 751.7 L849.6 752.5 L846.1 751.7 L842 752.4 L838.8 751.5 L834 752.1 L829.3 751.6 L825.8 752.3 L821.8 751.5 L817.7 752.1 L811.9 751.5 L808.1 752.3 L803.3 751.9 L797.6 752.2 L793.7 751.5 L787.9 752.1 L782.9 751.7 L779.6 752.3 L775.5 751.5 L770.1 752.2 L764.3 751.8 L759.6 752.5 L756.4 751.7 L751.4 752.5 L747.1 751.8 L743.8 752.2 L738.3 751.4 L733.3 752.6 L727.5 751.7 L722 752.5 L718.8 751.1 L714.4 752.7 L710.5 751.6 L705.8 752.4 L702.7 751.7 L697.3 752.4 L692.9 751.8 L689.3 752.5 L683.7 751.5 L679.2 752.2 L675.2 751.5 L672.2 752.1 L666.6 751.7 L662.3 752.4 L657.2 751.6 L651.9 752.4 L648.7 751.6 L643.4 752.1 L639.2 751.5 L634.7 752.5 L630.2 751.7 L625.8 752.8 L620.1 751.7 L614.9 752.5 L610.8 751.7 L605 752.3 L599.6 751.7 L594.4 752.2 L590.3 751.6 L586.7 752.2 L581.2 751.7 L576 752.6 L572.4 751.7 L568.3 752.3 L563.3 751.5 L558.8 752.6 L554.7 751.6 L549.2 752.3 L545.8 751.4 L541.6 752.6 L536.2 751.4 L532.6 752.4 L528.1 751.8 L524.4 752.5 L520 751.5 L516.3 752.3 L511.3 751.6 L506.2 752.5 L502.4 751.6 L496.9 753.1 L492.9 751.7 L487.9 752.6 L482.3 751.7 L478.2 752.6 L473.4 751.8 L469.1 752.6 L464.9 751.5 L459.3 752.4 L454.6 751.9 L450.5 752.4 L447.4 751.8 L443.6 752.6 L440 751.7 L435.9 752.4 L432.4 751.7 L429 752.5 L425.1 751.8 L420.8 752.1 L415.7 751.9 L409.8 752.4 L405.8 751.9 L402.5 752.4 L399.5 751.9 L395.6 752.1 L390 751.6 L386.3 752.3 L381.5 751.5 L377.1 752.5 L371.8 751.5 L368.4 752.6 L364.5 751.8 L360.8 752.3 L357.1 751.4 L352.9 753 L348.7 751 L345.3 752.4 L339.9 751.5 L334 752.2 L330.5 751.7 L327.1 752.3 L322.4 751.6 L319.3 752.3 L313.3 751.4 L308.9 752.8 L304.3 751.2 L299 752.6 L293.9 751.7 L289.1 752.4 L284.5 751.8 L279.2 752.2 L275.2 751.9 L269.2 752.1 L264.8 751.6 L260.8 752.5 L257.7 751.7 L252.7 752.2 L246.9 751.6 L243.4 752.6 L237.9 751.3 L232.7 752.7 L227.9 751.7 L222.8 752.2 L219.1 751.6 L215.8 752.6 L211.8 751.8 L208.5 752.3 L202.7 751.7 L198.8 752.3 L194.1 751.4 L191.1 752.3 L187.4 751.3 L183.4 752.6 L178.7 751.6 L173.5 752.5 L167.7 751.7 L163.6 752.5 L158 751.9Z" fill="#2c7040"/>
<path d="M158 716.4 L163.6 717 L167.7 716.2 L173.5 717 L178.7 716.1 L183.4 717.1 L187.4 715.8 L191.1 716.8 L194.1 715.9 L198.8 716.8 L202.7 716.2 L208.5 716.8 L211.8 716.3 L215.8 717.1 L219.1 716.1 L222.8 716.7 L227.9 716.2 L232.7 717.2 L237.9 715.8 L243.4 717.1 L246.9 716.1 L252.7 716.7 L257.7 716.2 L260.8 717 L264.8 716.1 L269.2 716.6 L275.2 716.4 L279.2 716.7 L284.5 716.3 L289.1 716.9 L293.9 716.2 L299 717.1 L304.3 715.7 L308.9 717.3 L313.3 715.9 L319.3 716.8 L322.4 716.1 L327.1 716.8 L330.5 716.2 L334 716.7 L339.9 716 L345.3 716.9 L348.7 715.5 L352.9 717.5 L357.1 715.9 L360.8 716.8 L364.5 716.3 L368.4 717.1 L371.8 716 L377.1 717 L381.5 716 L386.3 716.8 L390 716.1 L395.6 716.6 L399.5 716.4 L402.5 716.9 L405.8 716.4 L409.8 716.9 L415.7 716.4 L420.8 716.6 L425.1 716.3 L429 717 L432.4 716.2 L435.9 716.9 L440 716.2 L443.6 717.1 L447.4 716.3 L450.5 716.9 L454.6 716.4 L459.3 716.9 L464.9 716 L469.1 717.1 L473.4 716.3 L478.2 717.1 L482.3 716.2 L487.9 717.1 L492.9 716.2 L496.9 717.6 L502.4 716.1 L506.2 717 L511.3 716.1 L516.3 716.8 L520 716 L524.4 717 L528.1 716.3 L532.6 716.9 L536.2 715.9 L541.6 717.1 L545.8 715.9 L549.2 716.8 L554.7 716.1 L558.8 717.1 L563.3 716 L568.3 716.8 L572.4 716.2 L576 717.1 L581.2 716.2 L586.7 716.7 L590.3 716.1 L594.4 716.7 L599.6 716.2 L605 716.8 L610.8 716.2 L614.9 717 L620.1 716.2 L625.8 717.3 L630.2 716.2 L634.7 717 L639.2 716 L643.4 716.6 L648.7 716.1 L651.9 716.9 L657.2 716.1 L662.3 716.9 L666.6 716.2 L672.2 716.6 L675.2 716 L679.2 716.7 L683.7 716 L689.3 717 L692.9 716.3 L697.3 716.9 L702.7 716.2 L705.8 716.9 L710.5 716.1 L714.4 717.2 L718.8 715.6 L722 717 L727.5 716.2 L733.3 717.1 L738.3 715.9 L743.8 716.7 L747.1 716.3 L751.4 717 L756.4 716.2 L759.6 717 L764.3 716.3 L770.1 716.7 L775.5 716 L779.6 716.8 L782.9 716.2 L787.9 716.6 L793.7 716 L797.6 716.7 L803.3 716.4 L808.1 716.8 L811.9 716 L817.7 716.6 L821.8 716 L825.8 716.8 L829.3 716.1 L834 716.6 L838.8 716 L842 716.9 L846.1 716.2 L849.6 717 L855.2 716.2 L860.9 716.7 L864.2 716.2 L868.7 716.8 L872.4 716.3 L876.9 717.4 L881.3 716 L885 717 L888.1 716.2 L893.8 716.7 L898.6 715.9 L902.3 717 L907.2 716 L912.6 716.9 L916 716.9 L916 747.9 L912.6 747.9 L907.2 747 L902.3 748 L898.6 746.9 L893.8 747.7 L888.1 747.2 L885 748 L881.3 747 L876.9 748.4 L872.4 747.3 L868.7 747.8 L864.2 747.2 L860.9 747.7 L855.2 747.2 L849.6 748 L846.1 747.2 L842 747.9 L838.8 747 L834 747.6 L829.3 747.1 L825.8 747.8 L821.8 747 L817.7 747.6 L811.9 747 L808.1 747.8 L803.3 747.4 L797.6 747.7 L793.7 747 L787.9 747.6 L782.9 747.2 L779.6 747.8 L775.5 747 L770.1 747.7 L764.3 747.3 L759.6 748 L756.4 747.2 L751.4 748 L747.1 747.3 L743.8 747.7 L738.3 746.9 L733.3 748.1 L727.5 747.2 L722 748 L718.8 746.6 L714.4 748.2 L710.5 747.1 L705.8 747.9 L702.7 747.2 L697.3 747.9 L692.9 747.3 L689.3 748 L683.7 747 L679.2 747.7 L675.2 747 L672.2 747.6 L666.6 747.2 L662.3 747.9 L657.2 747.1 L651.9 747.9 L648.7 747.1 L643.4 747.6 L639.2 747 L634.7 748 L630.2 747.2 L625.8 748.3 L620.1 747.2 L614.9 748 L610.8 747.2 L605 747.8 L599.6 747.2 L594.4 747.7 L590.3 747.1 L586.7 747.7 L581.2 747.2 L576 748.1 L572.4 747.2 L568.3 747.8 L563.3 747 L558.8 748.1 L554.7 747.1 L549.2 747.8 L545.8 746.9 L541.6 748.1 L536.2 746.9 L532.6 747.9 L528.1 747.3 L524.4 748 L520 747 L516.3 747.8 L511.3 747.1 L506.2 748 L502.4 747.1 L496.9 748.6 L492.9 747.2 L487.9 748.1 L482.3 747.2 L478.2 748.1 L473.4 747.3 L469.1 748.1 L464.9 747 L459.3 747.9 L454.6 747.4 L450.5 747.9 L447.4 747.3 L443.6 748.1 L440 747.2 L435.9 747.9 L432.4 747.2 L429 748 L425.1 747.3 L420.8 747.6 L415.7 747.4 L409.8 747.9 L405.8 747.4 L402.5 747.9 L399.5 747.4 L395.6 747.6 L390 747.1 L386.3 747.8 L381.5 747 L377.1 748 L371.8 747 L368.4 748.1 L364.5 747.3 L360.8 747.8 L357.1 746.9 L352.9 748.5 L348.7 746.5 L345.3 747.9 L339.9 747 L334 747.7 L330.5 747.2 L327.1 747.8 L322.4 747.1 L319.3 747.8 L313.3 746.9 L308.9 748.3 L304.3 746.7 L299 748.1 L293.9 747.2 L289.1 747.9 L284.5 747.3 L279.2 747.7 L275.2 747.4 L269.2 747.6 L264.8 747.1 L260.8 748 L257.7 747.2 L252.7 747.7 L246.9 747.1 L243.4 748.1 L237.9 746.8 L232.7 748.2 L227.9 747.2 L222.8 747.7 L219.1 747.1 L215.8 748.1 L211.8 747.3 L208.5 747.8 L202.7 747.2 L198.8 747.8 L194.1 746.9 L191.1 747.8 L187.4 746.8 L183.4 748.1 L178.7 747.1 L173.5 748 L167.7 747.2 L163.6 748 L158 747.4Z" fill="#2a9a4a"/>
<path d="M158 722.9 L163.6 723.5 L167.7 722.7 L173.5 723.5 L178.7 722.6 L183.4 723.6 L187.4 722.3 L191.1 723.3 L194.1 722.4 L198.8 723.3 L202.7 722.7 L208.5 723.3 L211.8 722.8 L215.8 723.6 L219.1 722.6 L222.8 723.2 L227.9 722.7 L232.7 723.7 L237.9 722.3 L243.4 723.6 L246.9 722.6 L252.7 723.2 L257.7 722.7 L260.8 723.5 L264.8 722.6 L269.2 723.1 L275.2 722.9 L279.2 723.2 L284.5 722.8 L289.1 723.4 L293.9 722.7 L299 723.6 L304.3 722.2 L308.9 723.8 L313.3 722.4 L319.3 723.3 L322.4 722.6 L327.1 723.3 L330.5 722.7 L334 723.2 L339.9 722.5 L345.3 723.4 L348.7 722 L352.9 724 L357.1 722.4 L360.8 723.3 L364.5 722.8 L368.4 723.6 L371.8 722.5 L377.1 723.5 L381.5 722.5 L386.3 723.3 L390 722.6 L395.6 723.1 L399.5 722.9 L402.5 723.4 L405.8 722.9 L409.8 723.4 L415.7 722.9 L420.8 723.1 L425.1 722.8 L429 723.5 L432.4 722.7 L435.9 723.4 L440 722.7 L443.6 723.6 L447.4 722.8 L450.5 723.4 L454.6 722.9 L459.3 723.4 L464.9 722.5 L469.1 723.6 L473.4 722.8 L478.2 723.6 L482.3 722.7 L487.9 723.6 L492.9 722.7 L496.9 724.1 L502.4 722.6 L506.2 723.5 L511.3 722.6 L516.3 723.3 L520 722.5 L524.4 723.5 L528.1 722.8 L532.6 723.4 L536.2 722.4 L541.6 723.6 L545.8 722.4 L549.2 723.3 L554.7 722.6 L558.8 723.6 L563.3 722.5 L568.3 723.3 L572.4 722.7 L576 723.6 L581.2 722.7 L586.7 723.2 L590.3 722.6 L594.4 723.2 L599.6 722.7 L605 723.3 L610.8 722.7 L614.9 723.5 L620.1 722.7 L625.8 723.8 L630.2 722.7 L634.7 723.5 L639.2 722.5 L643.4 723.1 L648.7 722.6 L651.9 723.4 L657.2 722.6 L662.3 723.4 L666.6 722.7 L672.2 723.1 L675.2 722.5 L679.2 723.2 L683.7 722.5 L689.3 723.5 L692.9 722.8 L697.3 723.4 L702.7 722.7 L705.8 723.4 L710.5 722.6 L714.4 723.7 L718.8 722.1 L722 723.5 L727.5 722.7 L733.3 723.6 L738.3 722.4 L743.8 723.2 L747.1 722.8 L751.4 723.5 L756.4 722.7 L759.6 723.5 L764.3 722.8 L770.1 723.2 L775.5 722.5 L779.6 723.3 L782.9 722.7 L787.9 723.1 L793.7 722.5 L797.6 723.2 L803.3 722.9 L808.1 723.3 L811.9 722.5 L817.7 723.1 L821.8 722.5 L825.8 723.3 L829.3 722.6 L834 723.1 L838.8 722.5 L842 723.4 L846.1 722.7 L849.6 723.5 L855.2 722.7 L860.9 723.2 L864.2 722.7 L868.7 723.3 L872.4 722.8 L876.9 723.9 L881.3 722.5 L885 723.5 L888.1 722.7 L893.8 723.2 L898.6 722.4 L902.3 723.5 L907.2 722.5 L912.6 723.4 L916 723.4 L916 741.4 L912.6 741.4 L907.2 740.5 L902.3 741.5 L898.6 740.4 L893.8 741.2 L888.1 740.7 L885 741.5 L881.3 740.5 L876.9 741.9 L872.4 740.8 L868.7 741.3 L864.2 740.7 L860.9 741.2 L855.2 740.7 L849.6 741.5 L846.1 740.7 L842 741.4 L838.8 740.5 L834 741.1 L829.3 740.6 L825.8 741.3 L821.8 740.5 L817.7 741.1 L811.9 740.5 L808.1 741.3 L803.3 740.9 L797.6 741.2 L793.7 740.5 L787.9 741.1 L782.9 740.7 L779.6 741.3 L775.5 740.5 L770.1 741.2 L764.3 740.8 L759.6 741.5 L756.4 740.7 L751.4 741.5 L747.1 740.8 L743.8 741.2 L738.3 740.4 L733.3 741.6 L727.5 740.7 L722 741.5 L718.8 740.1 L714.4 741.7 L710.5 740.6 L705.8 741.4 L702.7 740.7 L697.3 741.4 L692.9 740.8 L689.3 741.5 L683.7 740.5 L679.2 741.2 L675.2 740.5 L672.2 741.1 L666.6 740.7 L662.3 741.4 L657.2 740.6 L651.9 741.4 L648.7 740.6 L643.4 741.1 L639.2 740.5 L634.7 741.5 L630.2 740.7 L625.8 741.8 L620.1 740.7 L614.9 741.5 L610.8 740.7 L605 741.3 L599.6 740.7 L594.4 741.2 L590.3 740.6 L586.7 741.2 L581.2 740.7 L576 741.6 L572.4 740.7 L568.3 741.3 L563.3 740.5 L558.8 741.6 L554.7 740.6 L549.2 741.3 L545.8 740.4 L541.6 741.6 L536.2 740.4 L532.6 741.4 L528.1 740.8 L524.4 741.5 L520 740.5 L516.3 741.3 L511.3 740.6 L506.2 741.5 L502.4 740.6 L496.9 742.1 L492.9 740.7 L487.9 741.6 L482.3 740.7 L478.2 741.6 L473.4 740.8 L469.1 741.6 L464.9 740.5 L459.3 741.4 L454.6 740.9 L450.5 741.4 L447.4 740.8 L443.6 741.6 L440 740.7 L435.9 741.4 L432.4 740.7 L429 741.5 L425.1 740.8 L420.8 741.1 L415.7 740.9 L409.8 741.4 L405.8 740.9 L402.5 741.4 L399.5 740.9 L395.6 741.1 L390 740.6 L386.3 741.3 L381.5 740.5 L377.1 741.5 L371.8 740.5 L368.4 741.6 L364.5 740.8 L360.8 741.3 L357.1 740.4 L352.9 742 L348.7 740 L345.3 741.4 L339.9 740.5 L334 741.2 L330.5 740.7 L327.1 741.3 L322.4 740.6 L319.3 741.3 L313.3 740.4 L308.9 741.8 L304.3 740.2 L299 741.6 L293.9 740.7 L289.1 741.4 L284.5 740.8 L279.2 741.2 L275.2 740.9 L269.2 741.1 L264.8 740.6 L260.8 741.5 L257.7 740.7 L252.7 741.2 L246.9 740.6 L243.4 741.6 L237.9 740.3 L232.7 741.7 L227.9 740.7 L222.8 741.2 L219.1 740.6 L215.8 741.6 L211.8 740.8 L208.5 741.3 L202.7 740.7 L198.8 741.3 L194.1 740.4 L191.1 741.3 L187.4 740.3 L183.4 741.6 L178.7 740.6 L173.5 741.5 L167.7 740.7 L163.6 741.5 L158 740.9Z" fill="#35b555"/>
<path d="M918 733 L920 600 L922 520 L925 478 L928 468 L931 480 L934 510 L937 530" stroke="#1f5a30" stroke-width="9" fill="none" stroke-linejoin="round" stroke-linecap="round"/>
<path d="M918 733 L920 600 L922 520 L925 478 L928 468 L931 480 L934 510 L937 530" stroke="#2fa850" stroke-width="5" fill="none" stroke-linejoin="round" stroke-linecap="round"/>
<path d="M936 530 L940 512 L944 508 L948 520" stroke="#1f5a30" stroke-width="9" fill="none" stroke-linejoin="round" stroke-linecap="round"/>
<path d="M936 530 L940 512 L944 508 L948 520" stroke="#2fa850" stroke-width="5" fill="none" stroke-linejoin="round" stroke-linecap="round"/>
<path d="M935.6 548v30.6 M948.7 548v28.7 M959.1 548v-27.5 M970.6 548v-30.6 M977.3 548v-32.1 M989.6 548v-27.8 M996.9 548v28.7 M1003.3 548v-31.4 M1009.8 548v-30.7 M1016.5 548v28.4 M1029.3 548v-29.5 M1041.2 548v29.7 M1054.7 548v27.7 M1067.1 548v-27.3 M1075.5 548v-27.9 M1081.5 548v27 M1090.2 548v29.9 M1102 548v27.2 M1114.2 548v32.4 M1126 548v-31.1 M1136.9 548v28.1 M1143.1 548v-29.2 M1155.5 548v27.9 M1168.1 548v-31.6 M1181.5 548v30.6 M1192.4 548v25.8 M1202.4 548v-28.6 M1214.4 548v30.9 M1221.3 548v-27.8 M1227.2 548v-27.7 M1239.4 548v-27 M1245 548v-30.6 M1254.2 548v28.3 M1267.8 548v27.6 M1280.8 548v28.7 M1292.4 548v27.6 M1302.6 548v26.2 M1315 548v-29.1 M1323.8 548v31.6 M1330.6 548v-28 M1344.3 548v-30.3 M1357.5 548v25.7 M1366.4 548v-30.5 M1372.2 548v29.1 M1384.3 548v-27.9 M1396 548v-31.1 M1409 548v-32.4 M1417.4 548v30.4 M1424.2 548v-27.6 M1435.8 548v26.7 M1445.3 548v-30.1 M1458.9 548v32.4 M1471.1 548v26.7 M1481 548v30.8 M1489.3 548v-31.9 M1494.5 548v29 M1507.6 548v32.1 M1521 548v-29.4 M1531.7 548v-31.1 M1542.1 548v-27.3 M1550.9 548v-29 M1556.7 548v-25.5 M1568.2 548v-30.7 M1575.5 548v-29.1 M1585.9 548v-31.8 M1596.2 548v30.5 M1607.6 548v-30.4 M1620.1 548v-31.9 M1633.6 548v-28.5 M1639.2 548v31 M1645.5 548v28.7 M1659.5 548v27.8 M1666.7 548v-26.8 M1675.4 548v-29.8 M1681.9 548v-27 M1688.6 548v27.7 M1695.2 548v-28.8 M1709 548v28.8 M1718.2 548v26.8 M1724.5 548v-26.6 M1735.9 548v-32.2 M1744 548v-28.4 M1755.3 548v-28.2 M1768 548v-29.4 M1780.7 548v-30.5 M1791.4 548v-31.9 M1800.3 548v27.5 M1811.2 548v30.6 M1817.5 548v28 M1829.6 548v29.6 M1837.7 548v32.1" stroke="#24382a" stroke-width="3" fill="none"/>
<path d="M934 521.9 L939.6 522.4 L944.3 521.8 L949.8 522.2 L954.3 521.6 L959.8 522.3 L964.9 521.7 L968.1 522.3 L971.7 521.8 L977.6 522.3 L980.9 521.6 L985.7 522.1 L990.1 521.7 L995.6 522.2 L999.6 521.7 L1005 522.2 L1009.6 521.9 L1014.1 522.6 L1019.3 521.5 L1024 522.3 L1029.4 521.3 L1032.7 522.4 L1037.7 521.4 L1041.3 522.4 L1046.5 521.5 L1051.6 522.3 L1056.7 521.2 L1062.5 522.6 L1066.1 521.8 L1071 522.3 L1075.9 521.3 L1079.4 522.4 L1083.7 521.8 L1089.1 522.4 L1094.5 521.6 L1097.8 522.4 L1101.5 521.9 L1107.4 522.6 L1111.5 521.5 L1114.6 522.2 L1117.6 521.5 L1120.7 522.6 L1124.7 521.6 L1129.6 522.2 L1133.8 521.8 L1137.4 522.3 L1142.5 521.5 L1145.6 522.3 L1150.8 521.8 L1155.2 522.2 L1158.4 521.8 L1162.6 522.4 L1167.8 521.9 L1173.2 522.2 L1179 521.8 L1183.9 522.4 L1187 521.6 L1192.1 522.2 L1196.6 521.9 L1202.4 522.1 L1207.8 521.7 L1213.2 522.2 L1217.1 521.5 L1220.2 522.5 L1223.6 521.6 L1226.9 522.6 L1230.2 521.5 L1233.5 522.3 L1236.9 521.5 L1239.9 522.2 L1244.7 521.6 L1249.6 522.5 L1255 521.3 L1258 522.6 L1263.7 521.7 L1268.8 522.3 L1272.8 521.8 L1277.7 522.7 L1283.7 521.4 L1288 522.2 L1293.7 521.6 L1299.4 522.6 L1304.9 521.7 L1309.5 522.7 L1314.4 521.5 L1320.2 522.6 L1323.8 521.7 L1327.6 522.6 L1331.9 521.4 L1337.2 522.3 L1342.2 521.7 L1347.2 522.5 L1352.2 521.4 L1355.3 522.4 L1359.8 521.2 L1365.1 522.3 L1369.3 521.4 L1372.6 522.8 L1375.7 521.3 L1381.1 522.6 L1384.7 521.2 L1389.4 522.6 L1392.7 521.2 L1397.4 522.5 L1403 521.7 L1408.1 522.3 L1412.2 521.5 L1417.6 522.4 L1421.3 521.7 L1425.4 522.6 L1428.6 521.4 L1431.6 522.5 L1436.8 521.8 L1440.3 522.3 L1443.5 521.6 L1448.2 522.2 L1452.9 521.2 L1456.2 522.9 L1459.7 521.2 L1463.5 522.9 L1466.7 521.5 L1471.7 522.5 L1476.2 521.5 L1480.7 522.2 L1485.3 521.6 L1490.3 522.3 L1495.5 521.2 L1499 522.3 L1502.3 521.5 L1505.7 522.3 L1511.5 521.6 L1517.4 522.3 L1523.2 521.6 L1526.9 522.6 L1531.2 521.7 L1535.4 522.3 L1539.6 521.8 L1544.4 522.3 L1549.5 521.8 L1555.4 522.2 L1560.1 521.1 L1563.6 522.4 L1569.3 521.5 L1573.1 522.6 L1578.9 521.7 L1582.7 522.7 L1587.3 521.3 L1591.9 522.2 L1596.6 521.3 L1600.2 522.2 L1603.7 521.4 L1607.8 522.5 L1613.1 521.4 L1618.5 522.2 L1623.6 521.4 L1628.9 522.3 L1632.6 521.6 L1636.3 522.6 L1641.6 521.8 L1645.4 522.1 L1649.6 521.8 L1654.4 522.3 L1657.9 521.5 L1661.4 522.3 L1666.9 521.6 L1672.8 522.2 L1676.5 521.6 L1682.2 522.3 L1686.8 521.6 L1689.8 522.2 L1693.5 521.8 L1696.5 522.2 L1700 521.7 L1704.2 522.3 L1707.5 521.8 L1712.6 522.2 L1716.6 521.6 L1721.3 522.1 L1725.4 521.5 L1730.8 522.2 L1736 521.4 L1739.2 522.5 L1742.8 521.6 L1746.5 522.3 L1751.7 521.8 L1755.6 522.5 L1761.3 521.7 L1765.1 522.2 L1770.6 521.4 L1774.5 522.3 L1779.3 521.7 L1782.8 522.7 L1786.4 521.8 L1790.4 522.6 L1793.8 521.8 L1797.5 522.6 L1802 521.4 L1806.3 522.7 L1809.6 521.6 L1812.7 522.8 L1817.1 521.5 L1822.4 522.6 L1826.6 521.8 L1830.4 522.6 L1833.6 521.8 L1837.1 522.2 L1841.2 521.8 L1844 521.8 L1844 573.8 L1841.2 573.8 L1837.1 574.2 L1833.6 573.8 L1830.4 574.6 L1826.6 573.8 L1822.4 574.6 L1817.1 573.5 L1812.7 574.8 L1809.6 573.6 L1806.3 574.7 L1802 573.4 L1797.5 574.6 L1793.8 573.8 L1790.4 574.6 L1786.4 573.8 L1782.8 574.7 L1779.3 573.7 L1774.5 574.3 L1770.6 573.4 L1765.1 574.2 L1761.3 573.7 L1755.6 574.5 L1751.7 573.8 L1746.5 574.3 L1742.8 573.6 L1739.2 574.5 L1736 573.4 L1730.8 574.2 L1725.4 573.5 L1721.3 574.1 L1716.6 573.6 L1712.6 574.2 L1707.5 573.8 L1704.2 574.3 L1700 573.7 L1696.5 574.2 L1693.5 573.8 L1689.8 574.2 L1686.8 573.6 L1682.2 574.3 L1676.5 573.6 L1672.8 574.2 L1666.9 573.6 L1661.4 574.3 L1657.9 573.5 L1654.4 574.3 L1649.6 573.8 L1645.4 574.1 L1641.6 573.8 L1636.3 574.6 L1632.6 573.6 L1628.9 574.3 L1623.6 573.4 L1618.5 574.2 L1613.1 573.4 L1607.8 574.5 L1603.7 573.4 L1600.2 574.2 L1596.6 573.3 L1591.9 574.2 L1587.3 573.3 L1582.7 574.7 L1578.9 573.7 L1573.1 574.6 L1569.3 573.5 L1563.6 574.4 L1560.1 573.1 L1555.4 574.2 L1549.5 573.8 L1544.4 574.3 L1539.6 573.8 L1535.4 574.3 L1531.2 573.7 L1526.9 574.6 L1523.2 573.6 L1517.4 574.3 L1511.5 573.6 L1505.7 574.3 L1502.3 573.5 L1499 574.3 L1495.5 573.2 L1490.3 574.3 L1485.3 573.6 L1480.7 574.2 L1476.2 573.5 L1471.7 574.5 L1466.7 573.5 L1463.5 574.9 L1459.7 573.2 L1456.2 574.9 L1452.9 573.2 L1448.2 574.2 L1443.5 573.6 L1440.3 574.3 L1436.8 573.8 L1431.6 574.5 L1428.6 573.4 L1425.4 574.6 L1421.3 573.7 L1417.6 574.4 L1412.2 573.5 L1408.1 574.3 L1403 573.7 L1397.4 574.5 L1392.7 573.2 L1389.4 574.6 L1384.7 573.2 L1381.1 574.6 L1375.7 573.3 L1372.6 574.8 L1369.3 573.4 L1365.1 574.3 L1359.8 573.2 L1355.3 574.4 L1352.2 573.4 L1347.2 574.5 L1342.2 573.7 L1337.2 574.3 L1331.9 573.4 L1327.6 574.6 L1323.8 573.7 L1320.2 574.6 L1314.4 573.5 L1309.5 574.7 L1304.9 573.7 L1299.4 574.6 L1293.7 573.6 L1288 574.2 L1283.7 573.4 L1277.7 574.7 L1272.8 573.8 L1268.8 574.3 L1263.7 573.7 L1258 574.6 L1255 573.3 L1249.6 574.5 L1244.7 573.6 L1239.9 574.2 L1236.9 573.5 L1233.5 574.3 L1230.2 573.5 L1226.9 574.6 L1223.6 573.6 L1220.2 574.5 L1217.1 573.5 L1213.2 574.2 L1207.8 573.7 L1202.4 574.1 L1196.6 573.9 L1192.1 574.2 L1187 573.6 L1183.9 574.4 L1179 573.8 L1173.2 574.2 L1167.8 573.9 L1162.6 574.4 L1158.4 573.8 L1155.2 574.2 L1150.8 573.8 L1145.6 574.3 L1142.5 573.5 L1137.4 574.3 L1133.8 573.8 L1129.6 574.2 L1124.7 573.6 L1120.7 574.6 L1117.6 573.5 L1114.6 574.2 L1111.5 573.5 L1107.4 574.6 L1101.5 573.9 L1097.8 574.4 L1094.5 573.6 L1089.1 574.4 L1083.7 573.8 L1079.4 574.4 L1075.9 573.3 L1071 574.3 L1066.1 573.8 L1062.5 574.6 L1056.7 573.2 L1051.6 574.3 L1046.5 573.5 L1041.3 574.4 L1037.7 573.4 L1032.7 574.4 L1029.4 573.3 L1024 574.3 L1019.3 573.5 L1014.1 574.6 L1009.6 573.9 L1005 574.2 L999.6 573.7 L995.6 574.2 L990.1 573.7 L985.7 574.1 L980.9 573.6 L977.6 574.3 L971.7 573.8 L968.1 574.3 L964.9 573.7 L959.8 574.3 L954.3 573.6 L949.8 574.2 L944.3 573.8 L939.6 574.4 L934 573.9Z" fill="#263a2a"/>
<path d="M934 527.9 L939.6 528.4 L944.3 527.8 L949.8 528.2 L954.3 527.6 L959.8 528.3 L964.9 527.7 L968.1 528.3 L971.7 527.8 L977.6 528.3 L980.9 527.6 L985.7 528.1 L990.1 527.7 L995.6 528.2 L999.6 527.7 L1005 528.2 L1009.6 527.9 L1014.1 528.6 L1019.3 527.5 L1024 528.3 L1029.4 527.3 L1032.7 528.4 L1037.7 527.4 L1041.3 528.4 L1046.5 527.5 L1051.6 528.3 L1056.7 527.2 L1062.5 528.6 L1066.1 527.8 L1071 528.3 L1075.9 527.3 L1079.4 528.4 L1083.7 527.8 L1089.1 528.4 L1094.5 527.6 L1097.8 528.4 L1101.5 527.9 L1107.4 528.6 L1111.5 527.5 L1114.6 528.2 L1117.6 527.5 L1120.7 528.6 L1124.7 527.6 L1129.6 528.2 L1133.8 527.8 L1137.4 528.3 L1142.5 527.5 L1145.6 528.3 L1150.8 527.8 L1155.2 528.2 L1158.4 527.8 L1162.6 528.4 L1167.8 527.9 L1173.2 528.2 L1179 527.8 L1183.9 528.4 L1187 527.6 L1192.1 528.2 L1196.6 527.9 L1202.4 528.1 L1207.8 527.7 L1213.2 528.2 L1217.1 527.5 L1220.2 528.5 L1223.6 527.6 L1226.9 528.6 L1230.2 527.5 L1233.5 528.3 L1236.9 527.5 L1239.9 528.2 L1244.7 527.6 L1249.6 528.5 L1255 527.3 L1258 528.6 L1263.7 527.7 L1268.8 528.3 L1272.8 527.8 L1277.7 528.7 L1283.7 527.4 L1288 528.2 L1293.7 527.6 L1299.4 528.6 L1304.9 527.7 L1309.5 528.7 L1314.4 527.5 L1320.2 528.6 L1323.8 527.7 L1327.6 528.6 L1331.9 527.4 L1337.2 528.3 L1342.2 527.7 L1347.2 528.5 L1352.2 527.4 L1355.3 528.4 L1359.8 527.2 L1365.1 528.3 L1369.3 527.4 L1372.6 528.8 L1375.7 527.3 L1381.1 528.6 L1384.7 527.2 L1389.4 528.6 L1392.7 527.2 L1397.4 528.5 L1403 527.7 L1408.1 528.3 L1412.2 527.5 L1417.6 528.4 L1421.3 527.7 L1425.4 528.6 L1428.6 527.4 L1431.6 528.5 L1436.8 527.8 L1440.3 528.3 L1443.5 527.6 L1448.2 528.2 L1452.9 527.2 L1456.2 528.9 L1459.7 527.2 L1463.5 528.9 L1466.7 527.5 L1471.7 528.5 L1476.2 527.5 L1480.7 528.2 L1485.3 527.6 L1490.3 528.3 L1495.5 527.2 L1499 528.3 L1502.3 527.5 L1505.7 528.3 L1511.5 527.6 L1517.4 528.3 L1523.2 527.6 L1526.9 528.6 L1531.2 527.7 L1535.4 528.3 L1539.6 527.8 L1544.4 528.3 L1549.5 527.8 L1555.4 528.2 L1560.1 527.1 L1563.6 528.4 L1569.3 527.5 L1573.1 528.6 L1578.9 527.7 L1582.7 528.7 L1587.3 527.3 L1591.9 528.2 L1596.6 527.3 L1600.2 528.2 L1603.7 527.4 L1607.8 528.5 L1613.1 527.4 L1618.5 528.2 L1623.6 527.4 L1628.9 528.3 L1632.6 527.6 L1636.3 528.6 L1641.6 527.8 L1645.4 528.1 L1649.6 527.8 L1654.4 528.3 L1657.9 527.5 L1661.4 528.3 L1666.9 527.6 L1672.8 528.2 L1676.5 527.6 L1682.2 528.3 L1686.8 527.6 L1689.8 528.2 L1693.5 527.8 L1696.5 528.2 L1700 527.7 L1704.2 528.3 L1707.5 527.8 L1712.6 528.2 L1716.6 527.6 L1721.3 528.1 L1725.4 527.5 L1730.8 528.2 L1736 527.4 L1739.2 528.5 L1742.8 527.6 L1746.5 528.3 L1751.7 527.8 L1755.6 528.5 L1761.3 527.7 L1765.1 528.2 L1770.6 527.4 L1774.5 528.3 L1779.3 527.7 L1782.8 528.7 L1786.4 527.8 L1790.4 528.6 L1793.8 527.8 L1797.5 528.6 L1802 527.4 L1806.3 528.7 L1809.6 527.6 L1812.7 528.8 L1817.1 527.5 L1822.4 528.6 L1826.6 527.8 L1830.4 528.6 L1833.6 527.8 L1837.1 528.2 L1841.2 527.8 L1844 527.8 L1844 567.8 L1841.2 567.8 L1837.1 568.2 L1833.6 567.8 L1830.4 568.6 L1826.6 567.8 L1822.4 568.6 L1817.1 567.5 L1812.7 568.8 L1809.6 567.6 L1806.3 568.7 L1802 567.4 L1797.5 568.6 L1793.8 567.8 L1790.4 568.6 L1786.4 567.8 L1782.8 568.7 L1779.3 567.7 L1774.5 568.3 L1770.6 567.4 L1765.1 568.2 L1761.3 567.7 L1755.6 568.5 L1751.7 567.8 L1746.5 568.3 L1742.8 567.6 L1739.2 568.5 L1736 567.4 L1730.8 568.2 L1725.4 567.5 L1721.3 568.1 L1716.6 567.6 L1712.6 568.2 L1707.5 567.8 L1704.2 568.3 L1700 567.7 L1696.5 568.2 L1693.5 567.8 L1689.8 568.2 L1686.8 567.6 L1682.2 568.3 L1676.5 567.6 L1672.8 568.2 L1666.9 567.6 L1661.4 568.3 L1657.9 567.5 L1654.4 568.3 L1649.6 567.8 L1645.4 568.1 L1641.6 567.8 L1636.3 568.6 L1632.6 567.6 L1628.9 568.3 L1623.6 567.4 L1618.5 568.2 L1613.1 567.4 L1607.8 568.5 L1603.7 567.4 L1600.2 568.2 L1596.6 567.3 L1591.9 568.2 L1587.3 567.3 L1582.7 568.7 L1578.9 567.7 L1573.1 568.6 L1569.3 567.5 L1563.6 568.4 L1560.1 567.1 L1555.4 568.2 L1549.5 567.8 L1544.4 568.3 L1539.6 567.8 L1535.4 568.3 L1531.2 567.7 L1526.9 568.6 L1523.2 567.6 L1517.4 568.3 L1511.5 567.6 L1505.7 568.3 L1502.3 567.5 L1499 568.3 L1495.5 567.2 L1490.3 568.3 L1485.3 567.6 L1480.7 568.2 L1476.2 567.5 L1471.7 568.5 L1466.7 567.5 L1463.5 568.9 L1459.7 567.2 L1456.2 568.9 L1452.9 567.2 L1448.2 568.2 L1443.5 567.6 L1440.3 568.3 L1436.8 567.8 L1431.6 568.5 L1428.6 567.4 L1425.4 568.6 L1421.3 567.7 L1417.6 568.4 L1412.2 567.5 L1408.1 568.3 L1403 567.7 L1397.4 568.5 L1392.7 567.2 L1389.4 568.6 L1384.7 567.2 L1381.1 568.6 L1375.7 567.3 L1372.6 568.8 L1369.3 567.4 L1365.1 568.3 L1359.8 567.2 L1355.3 568.4 L1352.2 567.4 L1347.2 568.5 L1342.2 567.7 L1337.2 568.3 L1331.9 567.4 L1327.6 568.6 L1323.8 567.7 L1320.2 568.6 L1314.4 567.5 L1309.5 568.7 L1304.9 567.7 L1299.4 568.6 L1293.7 567.6 L1288 568.2 L1283.7 567.4 L1277.7 568.7 L1272.8 567.8 L1268.8 568.3 L1263.7 567.7 L1258 568.6 L1255 567.3 L1249.6 568.5 L1244.7 567.6 L1239.9 568.2 L1236.9 567.5 L1233.5 568.3 L1230.2 567.5 L1226.9 568.6 L1223.6 567.6 L1220.2 568.5 L1217.1 567.5 L1213.2 568.2 L1207.8 567.7 L1202.4 568.1 L1196.6 567.9 L1192.1 568.2 L1187 567.6 L1183.9 568.4 L1179 567.8 L1173.2 568.2 L1167.8 567.9 L1162.6 568.4 L1158.4 567.8 L1155.2 568.2 L1150.8 567.8 L1145.6 568.3 L1142.5 567.5 L1137.4 568.3 L1133.8 567.8 L1129.6 568.2 L1124.7 567.6 L1120.7 568.6 L1117.6 567.5 L1114.6 568.2 L1111.5 567.5 L1107.4 568.6 L1101.5 567.9 L1097.8 568.4 L1094.5 567.6 L1089.1 568.4 L1083.7 567.8 L1079.4 568.4 L1075.9 567.3 L1071 568.3 L1066.1 567.8 L1062.5 568.6 L1056.7 567.2 L1051.6 568.3 L1046.5 567.5 L1041.3 568.4 L1037.7 567.4 L1032.7 568.4 L1029.4 567.3 L1024 568.3 L1019.3 567.5 L1014.1 568.6 L1009.6 567.9 L1005 568.2 L999.6 567.7 L995.6 568.2 L990.1 567.7 L985.7 568.1 L980.9 567.6 L977.6 568.3 L971.7 567.8 L968.1 568.3 L964.9 567.7 L959.8 568.3 L954.3 567.6 L949.8 568.2 L944.3 567.8 L939.6 568.4 L934 567.9Z" fill="#2c7040"/>
<path d="M934 532.4 L939.6 532.9 L944.3 532.3 L949.8 532.7 L954.3 532.1 L959.8 532.8 L964.9 532.2 L968.1 532.8 L971.7 532.3 L977.6 532.8 L980.9 532.1 L985.7 532.6 L990.1 532.2 L995.6 532.7 L999.6 532.2 L1005 532.7 L1009.6 532.4 L1014.1 533.1 L1019.3 532 L1024 532.8 L1029.4 531.8 L1032.7 532.9 L1037.7 531.9 L1041.3 532.9 L1046.5 532 L1051.6 532.8 L1056.7 531.7 L1062.5 533.1 L1066.1 532.3 L1071 532.8 L1075.9 531.8 L1079.4 532.9 L1083.7 532.3 L1089.1 532.9 L1094.5 532.1 L1097.8 532.9 L1101.5 532.4 L1107.4 533.1 L1111.5 532 L1114.6 532.7 L1117.6 532 L1120.7 533.1 L1124.7 532.1 L1129.6 532.7 L1133.8 532.3 L1137.4 532.8 L1142.5 532 L1145.6 532.8 L1150.8 532.3 L1155.2 532.7 L1158.4 532.3 L1162.6 532.9 L1167.8 532.4 L1173.2 532.7 L1179 532.3 L1183.9 532.9 L1187 532.1 L1192.1 532.7 L1196.6 532.4 L1202.4 532.6 L1207.8 532.2 L1213.2 532.7 L1217.1 532 L1220.2 533 L1223.6 532.1 L1226.9 533.1 L1230.2 532 L1233.5 532.8 L1236.9 532 L1239.9 532.7 L1244.7 532.1 L1249.6 533 L1255 531.8 L1258 533.1 L1263.7 532.2 L1268.8 532.8 L1272.8 532.3 L1277.7 533.2 L1283.7 531.9 L1288 532.7 L1293.7 532.1 L1299.4 533.1 L1304.9 532.2 L1309.5 533.2 L1314.4 532 L1320.2 533.1 L1323.8 532.2 L1327.6 533.1 L1331.9 531.9 L1337.2 532.8 L1342.2 532.2 L1347.2 533 L1352.2 531.9 L1355.3 532.9 L1359.8 531.7 L1365.1 532.8 L1369.3 531.9 L1372.6 533.3 L1375.7 531.8 L1381.1 533.1 L1384.7 531.7 L1389.4 533.1 L1392.7 531.7 L1397.4 533 L1403 532.2 L1408.1 532.8 L1412.2 532 L1417.6 532.9 L1421.3 532.2 L1425.4 533.1 L1428.6 531.9 L1431.6 533 L1436.8 532.3 L1440.3 532.8 L1443.5 532.1 L1448.2 532.7 L1452.9 531.7 L1456.2 533.4 L1459.7 531.7 L1463.5 533.4 L1466.7 532 L1471.7 533 L1476.2 532 L1480.7 532.7 L1485.3 532.1 L1490.3 532.8 L1495.5 531.7 L1499 532.8 L1502.3 532 L1505.7 532.8 L1511.5 532.1 L1517.4 532.8 L1523.2 532.1 L1526.9 533.1 L1531.2 532.2 L1535.4 532.8 L1539.6 532.3 L1544.4 532.8 L1549.5 532.3 L1555.4 532.7 L1560.1 531.6 L1563.6 532.9 L1569.3 532 L1573.1 533.1 L1578.9 532.2 L1582.7 533.2 L1587.3 531.8 L1591.9 532.7 L1596.6 531.8 L1600.2 532.7 L1603.7 531.9 L1607.8 533 L1613.1 531.9 L1618.5 532.7 L1623.6 531.9 L1628.9 532.8 L1632.6 532.1 L1636.3 533.1 L1641.6 532.3 L1645.4 532.6 L1649.6 532.3 L1654.4 532.8 L1657.9 532 L1661.4 532.8 L1666.9 532.1 L1672.8 532.7 L1676.5 532.1 L1682.2 532.8 L1686.8 532.1 L1689.8 532.7 L1693.5 532.3 L1696.5 532.7 L1700 532.2 L1704.2 532.8 L1707.5 532.3 L1712.6 532.7 L1716.6 532.1 L1721.3 532.6 L1725.4 532 L1730.8 532.7 L1736 531.9 L1739.2 533 L1742.8 532.1 L1746.5 532.8 L1751.7 532.3 L1755.6 533 L1761.3 532.2 L1765.1 532.7 L1770.6 531.9 L1774.5 532.8 L1779.3 532.2 L1782.8 533.2 L1786.4 532.3 L1790.4 533.1 L1793.8 532.3 L1797.5 533.1 L1802 531.9 L1806.3 533.2 L1809.6 532.1 L1812.7 533.3 L1817.1 532 L1822.4 533.1 L1826.6 532.3 L1830.4 533.1 L1833.6 532.3 L1837.1 532.7 L1841.2 532.3 L1844 532.3 L1844 563.3 L1841.2 563.3 L1837.1 563.7 L1833.6 563.3 L1830.4 564.1 L1826.6 563.3 L1822.4 564.1 L1817.1 563 L1812.7 564.3 L1809.6 563.1 L1806.3 564.2 L1802 562.9 L1797.5 564.1 L1793.8 563.3 L1790.4 564.1 L1786.4 563.3 L1782.8 564.2 L1779.3 563.2 L1774.5 563.8 L1770.6 562.9 L1765.1 563.7 L1761.3 563.2 L1755.6 564 L1751.7 563.3 L1746.5 563.8 L1742.8 563.1 L1739.2 564 L1736 562.9 L1730.8 563.7 L1725.4 563 L1721.3 563.6 L1716.6 563.1 L1712.6 563.7 L1707.5 563.3 L1704.2 563.8 L1700 563.2 L1696.5 563.7 L1693.5 563.3 L1689.8 563.7 L1686.8 563.1 L1682.2 563.8 L1676.5 563.1 L1672.8 563.7 L1666.9 563.1 L1661.4 563.8 L1657.9 563 L1654.4 563.8 L1649.6 563.3 L1645.4 563.6 L1641.6 563.3 L1636.3 564.1 L1632.6 563.1 L1628.9 563.8 L1623.6 562.9 L1618.5 563.7 L1613.1 562.9 L1607.8 564 L1603.7 562.9 L1600.2 563.7 L1596.6 562.8 L1591.9 563.7 L1587.3 562.8 L1582.7 564.2 L1578.9 563.2 L1573.1 564.1 L1569.3 563 L1563.6 563.9 L1560.1 562.6 L1555.4 563.7 L1549.5 563.3 L1544.4 563.8 L1539.6 563.3 L1535.4 563.8 L1531.2 563.2 L1526.9 564.1 L1523.2 563.1 L1517.4 563.8 L1511.5 563.1 L1505.7 563.8 L1502.3 563 L1499 563.8 L1495.5 562.7 L1490.3 563.8 L1485.3 563.1 L1480.7 563.7 L1476.2 563 L1471.7 564 L1466.7 563 L1463.5 564.4 L1459.7 562.7 L1456.2 564.4 L1452.9 562.7 L1448.2 563.7 L1443.5 563.1 L1440.3 563.8 L1436.8 563.3 L1431.6 564 L1428.6 562.9 L1425.4 564.1 L1421.3 563.2 L1417.6 563.9 L1412.2 563 L1408.1 563.8 L1403 563.2 L1397.4 564 L1392.7 562.7 L1389.4 564.1 L1384.7 562.7 L1381.1 564.1 L1375.7 562.8 L1372.6 564.3 L1369.3 562.9 L1365.1 563.8 L1359.8 562.7 L1355.3 563.9 L1352.2 562.9 L1347.2 564 L1342.2 563.2 L1337.2 563.8 L1331.9 562.9 L1327.6 564.1 L1323.8 563.2 L1320.2 564.1 L1314.4 563 L1309.5 564.2 L1304.9 563.2 L1299.4 564.1 L1293.7 563.1 L1288 563.7 L1283.7 562.9 L1277.7 564.2 L1272.8 563.3 L1268.8 563.8 L1263.7 563.2 L1258 564.1 L1255 562.8 L1249.6 564 L1244.7 563.1 L1239.9 563.7 L1236.9 563 L1233.5 563.8 L1230.2 563 L1226.9 564.1 L1223.6 563.1 L1220.2 564 L1217.1 563 L1213.2 563.7 L1207.8 563.2 L1202.4 563.6 L1196.6 563.4 L1192.1 563.7 L1187 563.1 L1183.9 563.9 L1179 563.3 L1173.2 563.7 L1167.8 563.4 L1162.6 563.9 L1158.4 563.3 L1155.2 563.7 L1150.8 563.3 L1145.6 563.8 L1142.5 563 L1137.4 563.8 L1133.8 563.3 L1129.6 563.7 L1124.7 563.1 L1120.7 564.1 L1117.6 563 L1114.6 563.7 L1111.5 563 L1107.4 564.1 L1101.5 563.4 L1097.8 563.9 L1094.5 563.1 L1089.1 563.9 L1083.7 563.3 L1079.4 563.9 L1075.9 562.8 L1071 563.8 L1066.1 563.3 L1062.5 564.1 L1056.7 562.7 L1051.6 563.8 L1046.5 563 L1041.3 563.9 L1037.7 562.9 L1032.7 563.9 L1029.4 562.8 L1024 563.8 L1019.3 563 L1014.1 564.1 L1009.6 563.4 L1005 563.7 L999.6 563.2 L995.6 563.7 L990.1 563.2 L985.7 563.6 L980.9 563.1 L977.6 563.8 L971.7 563.3 L968.1 563.8 L964.9 563.2 L959.8 563.8 L954.3 563.1 L949.8 563.7 L944.3 563.3 L939.6 563.9 L934 563.4Z" fill="#2a9a4a"/>
<path d="M934 538.9 L939.6 539.4 L944.3 538.8 L949.8 539.2 L954.3 538.6 L959.8 539.3 L964.9 538.7 L968.1 539.3 L971.7 538.8 L977.6 539.3 L980.9 538.6 L985.7 539.1 L990.1 538.7 L995.6 539.2 L999.6 538.7 L1005 539.2 L1009.6 538.9 L1014.1 539.6 L1019.3 538.5 L1024 539.3 L1029.4 538.3 L1032.7 539.4 L1037.7 538.4 L1041.3 539.4 L1046.5 538.5 L1051.6 539.3 L1056.7 538.2 L1062.5 539.6 L1066.1 538.8 L1071 539.3 L1075.9 538.3 L1079.4 539.4 L1083.7 538.8 L1089.1 539.4 L1094.5 538.6 L1097.8 539.4 L1101.5 538.9 L1107.4 539.6 L1111.5 538.5 L1114.6 539.2 L1117.6 538.5 L1120.7 539.6 L1124.7 538.6 L1129.6 539.2 L1133.8 538.8 L1137.4 539.3 L1142.5 538.5 L1145.6 539.3 L1150.8 538.8 L1155.2 539.2 L1158.4 538.8 L1162.6 539.4 L1167.8 538.9 L1173.2 539.2 L1179 538.8 L1183.9 539.4 L1187 538.6 L1192.1 539.2 L1196.6 538.9 L1202.4 539.1 L1207.8 538.7 L1213.2 539.2 L1217.1 538.5 L1220.2 539.5 L1223.6 538.6 L1226.9 539.6 L1230.2 538.5 L1233.5 539.3 L1236.9 538.5 L1239.9 539.2 L1244.7 538.6 L1249.6 539.5 L1255 538.3 L1258 539.6 L1263.7 538.7 L1268.8 539.3 L1272.8 538.8 L1277.7 539.7 L1283.7 538.4 L1288 539.2 L1293.7 538.6 L1299.4 539.6 L1304.9 538.7 L1309.5 539.7 L1314.4 538.5 L1320.2 539.6 L1323.8 538.7 L1327.6 539.6 L1331.9 538.4 L1337.2 539.3 L1342.2 538.7 L1347.2 539.5 L1352.2 538.4 L1355.3 539.4 L1359.8 538.2 L1365.1 539.3 L1369.3 538.4 L1372.6 539.8 L1375.7 538.3 L1381.1 539.6 L1384.7 538.2 L1389.4 539.6 L1392.7 538.2 L1397.4 539.5 L1403 538.7 L1408.1 539.3 L1412.2 538.5 L1417.6 539.4 L1421.3 538.7 L1425.4 539.6 L1428.6 538.4 L1431.6 539.5 L1436.8 538.8 L1440.3 539.3 L1443.5 538.6 L1448.2 539.2 L1452.9 538.2 L1456.2 539.9 L1459.7 538.2 L1463.5 539.9 L1466.7 538.5 L1471.7 539.5 L1476.2 538.5 L1480.7 539.2 L1485.3 538.6 L1490.3 539.3 L1495.5 538.2 L1499 539.3 L1502.3 538.5 L1505.7 539.3 L1511.5 538.6 L1517.4 539.3 L1523.2 538.6 L1526.9 539.6 L1531.2 538.7 L1535.4 539.3 L1539.6 538.8 L1544.4 539.3 L1549.5 538.8 L1555.4 539.2 L1560.1 538.1 L1563.6 539.4 L1569.3 538.5 L1573.1 539.6 L1578.9 538.7 L1582.7 539.7 L1587.3 538.3 L1591.9 539.2 L1596.6 538.3 L1600.2 539.2 L1603.7 538.4 L1607.8 539.5 L1613.1 538.4 L1618.5 539.2 L1623.6 538.4 L1628.9 539.3 L1632.6 538.6 L1636.3 539.6 L1641.6 538.8 L1645.4 539.1 L1649.6 538.8 L1654.4 539.3 L1657.9 538.5 L1661.4 539.3 L1666.9 538.6 L1672.8 539.2 L1676.5 538.6 L1682.2 539.3 L1686.8 538.6 L1689.8 539.2 L1693.5 538.8 L1696.5 539.2 L1700 538.7 L1704.2 539.3 L1707.5 538.8 L1712.6 539.2 L1716.6 538.6 L1721.3 539.1 L1725.4 538.5 L1730.8 539.2 L1736 538.4 L1739.2 539.5 L1742.8 538.6 L1746.5 539.3 L1751.7 538.8 L1755.6 539.5 L1761.3 538.7 L1765.1 539.2 L1770.6 538.4 L1774.5 539.3 L1779.3 538.7 L1782.8 539.7 L1786.4 538.8 L1790.4 539.6 L1793.8 538.8 L1797.5 539.6 L1802 538.4 L1806.3 539.7 L1809.6 538.6 L1812.7 539.8 L1817.1 538.5 L1822.4 539.6 L1826.6 538.8 L1830.4 539.6 L1833.6 538.8 L1837.1 539.2 L1841.2 538.8 L1844 538.8 L1844 556.8 L1841.2 556.8 L1837.1 557.2 L1833.6 556.8 L1830.4 557.6 L1826.6 556.8 L1822.4 557.6 L1817.1 556.5 L1812.7 557.8 L1809.6 556.6 L1806.3 557.7 L1802 556.4 L1797.5 557.6 L1793.8 556.8 L1790.4 557.6 L1786.4 556.8 L1782.8 557.7 L1779.3 556.7 L1774.5 557.3 L1770.6 556.4 L1765.1 557.2 L1761.3 556.7 L1755.6 557.5 L1751.7 556.8 L1746.5 557.3 L1742.8 556.6 L1739.2 557.5 L1736 556.4 L1730.8 557.2 L1725.4 556.5 L1721.3 557.1 L1716.6 556.6 L1712.6 557.2 L1707.5 556.8 L1704.2 557.3 L1700 556.7 L1696.5 557.2 L1693.5 556.8 L1689.8 557.2 L1686.8 556.6 L1682.2 557.3 L1676.5 556.6 L1672.8 557.2 L1666.9 556.6 L1661.4 557.3 L1657.9 556.5 L1654.4 557.3 L1649.6 556.8 L1645.4 557.1 L1641.6 556.8 L1636.3 557.6 L1632.6 556.6 L1628.9 557.3 L1623.6 556.4 L1618.5 557.2 L1613.1 556.4 L1607.8 557.5 L1603.7 556.4 L1600.2 557.2 L1596.6 556.3 L1591.9 557.2 L1587.3 556.3 L1582.7 557.7 L1578.9 556.7 L1573.1 557.6 L1569.3 556.5 L1563.6 557.4 L1560.1 556.1 L1555.4 557.2 L1549.5 556.8 L1544.4 557.3 L1539.6 556.8 L1535.4 557.3 L1531.2 556.7 L1526.9 557.6 L1523.2 556.6 L1517.4 557.3 L1511.5 556.6 L1505.7 557.3 L1502.3 556.5 L1499 557.3 L1495.5 556.2 L1490.3 557.3 L1485.3 556.6 L1480.7 557.2 L1476.2 556.5 L1471.7 557.5 L1466.7 556.5 L1463.5 557.9 L1459.7 556.2 L1456.2 557.9 L1452.9 556.2 L1448.2 557.2 L1443.5 556.6 L1440.3 557.3 L1436.8 556.8 L1431.6 557.5 L1428.6 556.4 L1425.4 557.6 L1421.3 556.7 L1417.6 557.4 L1412.2 556.5 L1408.1 557.3 L1403 556.7 L1397.4 557.5 L1392.7 556.2 L1389.4 557.6 L1384.7 556.2 L1381.1 557.6 L1375.7 556.3 L1372.6 557.8 L1369.3 556.4 L1365.1 557.3 L1359.8 556.2 L1355.3 557.4 L1352.2 556.4 L1347.2 557.5 L1342.2 556.7 L1337.2 557.3 L1331.9 556.4 L1327.6 557.6 L1323.8 556.7 L1320.2 557.6 L1314.4 556.5 L1309.5 557.7 L1304.9 556.7 L1299.4 557.6 L1293.7 556.6 L1288 557.2 L1283.7 556.4 L1277.7 557.7 L1272.8 556.8 L1268.8 557.3 L1263.7 556.7 L1258 557.6 L1255 556.3 L1249.6 557.5 L1244.7 556.6 L1239.9 557.2 L1236.9 556.5 L1233.5 557.3 L1230.2 556.5 L1226.9 557.6 L1223.6 556.6 L1220.2 557.5 L1217.1 556.5 L1213.2 557.2 L1207.8 556.7 L1202.4 557.1 L1196.6 556.9 L1192.1 557.2 L1187 556.6 L1183.9 557.4 L1179 556.8 L1173.2 557.2 L1167.8 556.9 L1162.6 557.4 L1158.4 556.8 L1155.2 557.2 L1150.8 556.8 L1145.6 557.3 L1142.5 556.5 L1137.4 557.3 L1133.8 556.8 L1129.6 557.2 L1124.7 556.6 L1120.7 557.6 L1117.6 556.5 L1114.6 557.2 L1111.5 556.5 L1107.4 557.6 L1101.5 556.9 L1097.8 557.4 L1094.5 556.6 L1089.1 557.4 L1083.7 556.8 L1079.4 557.4 L1075.9 556.3 L1071 557.3 L1066.1 556.8 L1062.5 557.6 L1056.7 556.2 L1051.6 557.3 L1046.5 556.5 L1041.3 557.4 L1037.7 556.4 L1032.7 557.4 L1029.4 556.3 L1024 557.3 L1019.3 556.5 L1014.1 557.6 L1009.6 556.9 L1005 557.2 L999.6 556.7 L995.6 557.2 L990.1 556.7 L985.7 557.1 L980.9 556.6 L977.6 557.3 L971.7 556.8 L968.1 557.3 L964.9 556.7 L959.8 557.3 L954.3 556.6 L949.8 557.2 L944.3 556.8 L939.6 557.4 L934 556.9Z" fill="#35b555"/>
<path d="M159.3 275v-20.6 M169.8 275v-25 M187.5 275v24.1 M205.2 275v-32.4 M222.9 275v-26.5 M246.5 275v23.1 M261.6 275v24.6 M280.2 275v-24 M305.4 275v-25 M325.6 275v-27 M340.2 275v-30.7 M356.3 275v-32.1 M372.1 275v22.5 M392.4 275v-26 M405.4 275v-30.1 M428.5 275v25.1 M438 275v23.2 M458.6 275v-28.7 M475.6 275v-23 M495.6 275v-28.9 M515.6 274v22.2 M527.5 273.2v-26.7 M545.8 271.9v-22.2 M565.3 271v-22.2 M585.9 271.2v27.2 M608.1 271.3v-27.5 M624.6 271.5v30.6 M646.4 271.6v-25 M671.9 271.8v30.5 M682.7 271.9v-27.9 M707.6 271.9v32.3 M721.2 271.6v-30.7 M744.2 271.3v-26.8 M768.4 270.9v25.9 M789.1 270.5v27 M801.5 270.3v-31.4 M811 270.2v-24.6 M821.2 270v-28.1 M832.9 269.7v-24.1 M857.6 269.2v31.5 M883.4 268.7v25.9 M897.2 268.4v31.7" stroke="#3a2a18" stroke-width="3" fill="none"/>
<path d="M158 255.1 L166.4 262.8 L174.9 254.7 L187 271.2 L200.4 253.6 L208.8 269.4 L216.4 248.3 L230.3 265.1 L237.4 251.3 L245.6 263 L259.4 254.8 L269.1 262.2 L283.1 253.8 L291.1 263 L301.8 249.1 L314.4 265.4 L325.6 253.5 L338.6 268.3 L346.8 253.2 L359.4 267.2 L372 253.3 L384.1 264.6 L397.6 252.3 L406.5 267.3 L419.3 250.2 L431.6 263.6 L444.6 253.1 L452.1 267.4 L464.5 252.7 L474.5 267.4 L482.2 254.2 L492.3 267.1 L503.8 254.3 L512.3 267.1 L525.8 245.1 L536.8 268.4 L549.8 247.1 L557.6 266.6 L565 242 L572.9 264.8 L585.6 250.7 L598.6 271.9 L608.9 246.7 L622.4 260.1 L630.2 250.9 L638.4 264.8 L647.1 246.6 L658.4 264.9 L669.2 247.4 L682.6 264.2 L691.2 249.4 L704.6 260.8 L714.5 250.6 L724.9 261.8 L737.3 246.2 L746.8 267.7 L757.9 243.3 L767.1 259 L776.1 246.7 L787.9 260.2 L798.7 246.2 L809.9 259 L823.7 248.3 L832.2 259.8 L843.9 246.4 L855.6 264.8 L865.6 244.2 L872.7 258.6 L885.4 249.2 L898.3 256.4 L911.4 245.3 L918 245.3 L918 277.3 L911.4 277.3 L898.3 288.4 L885.4 281.2 L872.7 290.6 L865.6 276.2 L855.6 296.8 L843.9 278.4 L832.2 291.8 L823.7 280.3 L809.9 291 L798.7 278.2 L787.9 292.2 L776.1 278.7 L767.1 291 L757.9 275.3 L746.8 299.7 L737.3 278.2 L724.9 293.8 L714.5 282.6 L704.6 292.8 L691.2 281.4 L682.6 296.2 L669.2 279.4 L658.4 296.9 L647.1 278.6 L638.4 296.8 L630.2 282.9 L622.4 292.1 L608.9 278.7 L598.6 303.9 L585.6 282.7 L572.9 296.8 L565 274 L557.6 298.6 L549.8 279.1 L536.8 300.4 L525.8 277.1 L512.3 299.1 L503.8 286.3 L492.3 299.1 L482.2 286.2 L474.5 299.4 L464.5 284.7 L452.1 299.4 L444.6 285.1 L431.6 295.6 L419.3 282.2 L406.5 299.3 L397.6 284.3 L384.1 296.6 L372 285.3 L359.4 299.2 L346.8 285.2 L338.6 300.3 L325.6 285.5 L314.4 297.4 L301.8 281.1 L291.1 295 L283.1 285.8 L269.1 294.2 L259.4 286.8 L245.6 295 L237.4 283.3 L230.3 297.1 L216.4 280.3 L208.8 301.4 L200.4 285.6 L187 303.2 L174.9 286.7 L166.4 294.8 L158 287.1Z" fill="#4a3216"/>
<path d="M158 253 L168.8 263.9 L177.5 251.7 L186.2 262.6 L195.5 251.6 L208.3 264.2 L219.6 253.4 L228.9 261.8 L238.1 254.6 L246.1 262.3 L258.1 255.6 L265.9 263.6 L277.3 257.3 L285 262.6 L293.2 255.5 L300.8 265.9 L310.6 256.7 L324.6 261.8 L333.2 255.9 L341.2 261 L354.7 256.8 L363 263.2 L372.1 253.7 L380.1 262.7 L392 254.8 L404 264.2 L411.3 254.4 L423.2 263 L437.1 251.3 L449.1 266.5 L462.2 251.8 L473.9 264.3 L487.1 249.3 L499.6 267.9 L511.1 248.8 L521.7 264.1 L532.3 249.6 L542.8 262.8 L551.1 248.7 L563 263.6 L576.5 248.5 L586.3 262.8 L598.4 250.9 L607.6 260.4 L616 251.1 L627.8 261.7 L635.2 248.1 L645.9 261.8 L654.5 251.2 L666.6 261.1 L677 249.2 L690.1 261.1 L703.9 252.3 L717.4 262.2 L730.6 251.3 L740.2 258.1 L750 250.7 L759.8 260.6 L772.1 251.5 L780.4 256.7 L789.5 251.8 L798.1 258.4 L805.3 251.2 L815.9 256.4 L825.8 250.7 L839.7 256.2 L850.8 248.5 L863.5 255.7 L877.4 251 L888.8 256.6 L898.5 247.7 L910.8 255.9 L918 255.9 L918 287.9 L910.8 287.9 L898.5 279.7 L888.8 288.6 L877.4 283 L863.5 287.7 L850.8 280.5 L839.7 288.2 L825.8 282.7 L815.9 288.4 L805.3 283.2 L798.1 290.4 L789.5 283.8 L780.4 288.7 L772.1 283.5 L759.8 292.6 L750 282.7 L740.2 290.1 L730.6 283.3 L717.4 294.2 L703.9 284.3 L690.1 293.1 L677 281.2 L666.6 293.1 L654.5 283.2 L645.9 293.8 L635.2 280.1 L627.8 293.7 L616 283.1 L607.6 292.4 L598.4 282.9 L586.3 294.8 L576.5 280.5 L563 295.6 L551.1 280.7 L542.8 294.8 L532.3 281.6 L521.7 296.1 L511.1 280.8 L499.6 299.9 L487.1 281.3 L473.9 296.3 L462.2 283.8 L449.1 298.5 L437.1 283.3 L423.2 295 L411.3 286.4 L404 296.2 L392 286.8 L380.1 294.7 L372.1 285.7 L363 295.2 L354.7 288.8 L341.2 293 L333.2 287.9 L324.6 293.8 L310.6 288.7 L300.8 297.9 L293.2 287.5 L285 294.6 L277.3 289.3 L265.9 295.6 L258.1 287.6 L246.1 294.3 L238.1 286.6 L228.9 293.8 L219.6 285.4 L208.3 296.2 L195.5 283.6 L186.2 294.6 L177.5 283.7 L168.8 295.9 L158 285Z" fill="#4a3216"/>
<path d="M158 258.1 L166.4 265.8 L174.9 257.7 L187 274.2 L200.4 256.6 L208.8 272.4 L216.4 251.3 L230.3 268.1 L237.4 254.3 L245.6 266 L259.4 257.8 L269.1 265.2 L283.1 256.8 L291.1 266 L301.8 252.1 L314.4 268.4 L325.6 256.5 L338.6 271.3 L346.8 256.2 L359.4 270.2 L372 256.3 L384.1 267.6 L397.6 255.3 L406.5 270.3 L419.3 253.2 L431.6 266.6 L444.6 256.1 L452.1 270.4 L464.5 255.7 L474.5 270.4 L482.2 257.2 L492.3 270.1 L503.8 257.3 L512.3 270.1 L525.8 248.1 L536.8 271.4 L549.8 250.1 L557.6 269.6 L565 245 L572.9 267.8 L585.6 253.7 L598.6 274.9 L608.9 249.7 L622.4 263.1 L630.2 253.9 L638.4 267.8 L647.1 249.6 L658.4 267.9 L669.2 250.4 L682.6 267.2 L691.2 252.4 L704.6 263.8 L714.5 253.6 L724.9 264.8 L737.3 249.2 L746.8 270.7 L757.9 246.3 L767.1 262 L776.1 249.7 L787.9 263.2 L798.7 249.2 L809.9 262 L823.7 251.3 L832.2 262.8 L843.9 249.4 L855.6 267.8 L865.6 247.2 L872.7 261.6 L885.4 252.2 L898.3 259.4 L911.4 248.3 L918 248.3 L918 274.3 L911.4 274.3 L898.3 285.4 L885.4 278.2 L872.7 287.6 L865.6 273.2 L855.6 293.8 L843.9 275.4 L832.2 288.8 L823.7 277.3 L809.9 288 L798.7 275.2 L787.9 289.2 L776.1 275.7 L767.1 288 L757.9 272.3 L746.8 296.7 L737.3 275.2 L724.9 290.8 L714.5 279.6 L704.6 289.8 L691.2 278.4 L682.6 293.2 L669.2 276.4 L658.4 293.9 L647.1 275.6 L638.4 293.8 L630.2 279.9 L622.4 289.1 L608.9 275.7 L598.6 300.9 L585.6 279.7 L572.9 293.8 L565 271 L557.6 295.6 L549.8 276.1 L536.8 297.4 L525.8 274.1 L512.3 296.1 L503.8 283.3 L492.3 296.1 L482.2 283.2 L474.5 296.4 L464.5 281.7 L452.1 296.4 L444.6 282.1 L431.6 292.6 L419.3 279.2 L406.5 296.3 L397.6 281.3 L384.1 293.6 L372 282.3 L359.4 296.2 L346.8 282.2 L338.6 297.3 L325.6 282.5 L314.4 294.4 L301.8 278.1 L291.1 292 L283.1 282.8 L269.1 291.2 L259.4 283.8 L245.6 292 L237.4 280.3 L230.3 294.1 L216.4 277.3 L208.8 298.4 L200.4 282.6 L187 300.2 L174.9 283.7 L166.4 291.8 L158 284.1Z" fill="#a8661a"/>
<path d="M158 256 L168.8 266.9 L177.5 254.7 L186.2 265.6 L195.5 254.6 L208.3 267.2 L219.6 256.4 L228.9 264.8 L238.1 257.6 L246.1 265.3 L258.1 258.6 L265.9 266.6 L277.3 260.3 L285 265.6 L293.2 258.5 L300.8 268.9 L310.6 259.7 L324.6 264.8 L333.2 258.9 L341.2 264 L354.7 259.8 L363 266.2 L372.1 256.7 L380.1 265.7 L392 257.8 L404 267.2 L411.3 257.4 L423.2 266 L437.1 254.3 L449.1 269.5 L462.2 254.8 L473.9 267.3 L487.1 252.3 L499.6 270.9 L511.1 251.8 L521.7 267.1 L532.3 252.6 L542.8 265.8 L551.1 251.7 L563 266.6 L576.5 251.5 L586.3 265.8 L598.4 253.9 L607.6 263.4 L616 254.1 L627.8 264.7 L635.2 251.1 L645.9 264.8 L654.5 254.2 L666.6 264.1 L677 252.2 L690.1 264.1 L703.9 255.3 L717.4 265.2 L730.6 254.3 L740.2 261.1 L750 253.7 L759.8 263.6 L772.1 254.5 L780.4 259.7 L789.5 254.8 L798.1 261.4 L805.3 254.2 L815.9 259.4 L825.8 253.7 L839.7 259.2 L850.8 251.5 L863.5 258.7 L877.4 254 L888.8 259.6 L898.5 250.7 L910.8 258.9 L918 258.9 L918 284.9 L910.8 284.9 L898.5 276.7 L888.8 285.6 L877.4 280 L863.5 284.7 L850.8 277.5 L839.7 285.2 L825.8 279.7 L815.9 285.4 L805.3 280.2 L798.1 287.4 L789.5 280.8 L780.4 285.7 L772.1 280.5 L759.8 289.6 L750 279.7 L740.2 287.1 L730.6 280.3 L717.4 291.2 L703.9 281.3 L690.1 290.1 L677 278.2 L666.6 290.1 L654.5 280.2 L645.9 290.8 L635.2 277.1 L627.8 290.7 L616 280.1 L607.6 289.4 L598.4 279.9 L586.3 291.8 L576.5 277.5 L563 292.6 L551.1 277.7 L542.8 291.8 L532.3 278.6 L521.7 293.1 L511.1 277.8 L499.6 296.9 L487.1 278.3 L473.9 293.3 L462.2 280.8 L449.1 295.5 L437.1 280.3 L423.2 292 L411.3 283.4 L404 293.2 L392 283.8 L380.1 291.7 L372.1 282.7 L363 292.2 L354.7 285.8 L341.2 290 L333.2 284.9 L324.6 290.8 L310.6 285.7 L300.8 294.9 L293.2 284.5 L285 291.6 L277.3 286.3 L265.9 292.6 L258.1 284.6 L246.1 291.3 L238.1 283.6 L228.9 290.8 L219.6 282.4 L208.3 293.2 L195.5 280.6 L186.2 291.6 L177.5 280.7 L168.8 292.9 L158 282Z" fill="#a8661a"/>
<path d="M158 260.6 L166.4 268.3 L174.9 260.2 L187 276.7 L200.4 259.1 L208.8 274.9 L216.4 253.8 L230.3 270.6 L237.4 256.8 L245.6 268.5 L259.4 260.3 L269.1 267.7 L283.1 259.3 L291.1 268.5 L301.8 254.6 L314.4 270.9 L325.6 259 L338.6 273.8 L346.8 258.7 L359.4 272.7 L372 258.8 L384.1 270.1 L397.6 257.8 L406.5 272.8 L419.3 255.7 L431.6 269.1 L444.6 258.6 L452.1 272.9 L464.5 258.2 L474.5 272.9 L482.2 259.7 L492.3 272.6 L503.8 259.8 L512.3 272.6 L525.8 250.6 L536.8 273.9 L549.8 252.6 L557.6 272.1 L565 247.5 L572.9 270.3 L585.6 256.2 L598.6 277.4 L608.9 252.2 L622.4 265.6 L630.2 256.4 L638.4 270.3 L647.1 252.1 L658.4 270.4 L669.2 252.9 L682.6 269.7 L691.2 254.9 L704.6 266.3 L714.5 256.1 L724.9 267.3 L737.3 251.7 L746.8 273.2 L757.9 248.8 L767.1 264.5 L776.1 252.2 L787.9 265.7 L798.7 251.7 L809.9 264.5 L823.7 253.8 L832.2 265.3 L843.9 251.9 L855.6 270.3 L865.6 249.7 L872.7 264.1 L885.4 254.7 L898.3 261.9 L911.4 250.8 L918 250.8 L918 271.8 L911.4 271.8 L898.3 282.9 L885.4 275.7 L872.7 285.1 L865.6 270.7 L855.6 291.3 L843.9 272.9 L832.2 286.3 L823.7 274.8 L809.9 285.5 L798.7 272.7 L787.9 286.7 L776.1 273.2 L767.1 285.5 L757.9 269.8 L746.8 294.2 L737.3 272.7 L724.9 288.3 L714.5 277.1 L704.6 287.3 L691.2 275.9 L682.6 290.7 L669.2 273.9 L658.4 291.4 L647.1 273.1 L638.4 291.3 L630.2 277.4 L622.4 286.6 L608.9 273.2 L598.6 298.4 L585.6 277.2 L572.9 291.3 L565 268.5 L557.6 293.1 L549.8 273.6 L536.8 294.9 L525.8 271.6 L512.3 293.6 L503.8 280.8 L492.3 293.6 L482.2 280.7 L474.5 293.9 L464.5 279.2 L452.1 293.9 L444.6 279.6 L431.6 290.1 L419.3 276.7 L406.5 293.8 L397.6 278.8 L384.1 291.1 L372 279.8 L359.4 293.7 L346.8 279.7 L338.6 294.8 L325.6 280 L314.4 291.9 L301.8 275.6 L291.1 289.5 L283.1 280.3 L269.1 288.7 L259.4 281.3 L245.6 289.5 L237.4 277.8 L230.3 291.6 L216.4 274.8 L208.8 295.9 L200.4 280.1 L187 297.7 L174.9 281.2 L166.4 289.3 L158 281.6Z" fill="#ec9422"/>
<path d="M158 258.5 L168.8 269.4 L177.5 257.2 L186.2 268.1 L195.5 257.1 L208.3 269.7 L219.6 258.9 L228.9 267.3 L238.1 260.1 L246.1 267.8 L258.1 261.1 L265.9 269.1 L277.3 262.8 L285 268.1 L293.2 261 L300.8 271.4 L310.6 262.2 L324.6 267.3 L333.2 261.4 L341.2 266.5 L354.7 262.3 L363 268.7 L372.1 259.2 L380.1 268.2 L392 260.3 L404 269.7 L411.3 259.9 L423.2 268.5 L437.1 256.8 L449.1 272 L462.2 257.3 L473.9 269.8 L487.1 254.8 L499.6 273.4 L511.1 254.3 L521.7 269.6 L532.3 255.1 L542.8 268.3 L551.1 254.2 L563 269.1 L576.5 254 L586.3 268.3 L598.4 256.4 L607.6 265.9 L616 256.6 L627.8 267.2 L635.2 253.6 L645.9 267.3 L654.5 256.7 L666.6 266.6 L677 254.7 L690.1 266.6 L703.9 257.8 L717.4 267.7 L730.6 256.8 L740.2 263.6 L750 256.2 L759.8 266.1 L772.1 257 L780.4 262.2 L789.5 257.3 L798.1 263.9 L805.3 256.7 L815.9 261.9 L825.8 256.2 L839.7 261.7 L850.8 254 L863.5 261.2 L877.4 256.5 L888.8 262.1 L898.5 253.2 L910.8 261.4 L918 261.4 L918 282.4 L910.8 282.4 L898.5 274.2 L888.8 283.1 L877.4 277.5 L863.5 282.2 L850.8 275 L839.7 282.7 L825.8 277.2 L815.9 282.9 L805.3 277.7 L798.1 284.9 L789.5 278.3 L780.4 283.2 L772.1 278 L759.8 287.1 L750 277.2 L740.2 284.6 L730.6 277.8 L717.4 288.7 L703.9 278.8 L690.1 287.6 L677 275.7 L666.6 287.6 L654.5 277.7 L645.9 288.3 L635.2 274.6 L627.8 288.2 L616 277.6 L607.6 286.9 L598.4 277.4 L586.3 289.3 L576.5 275 L563 290.1 L551.1 275.2 L542.8 289.3 L532.3 276.1 L521.7 290.6 L511.1 275.3 L499.6 294.4 L487.1 275.8 L473.9 290.8 L462.2 278.3 L449.1 293 L437.1 277.8 L423.2 289.5 L411.3 280.9 L404 290.7 L392 281.3 L380.1 289.2 L372.1 280.2 L363 289.7 L354.7 283.3 L341.2 287.5 L333.2 282.4 L324.6 288.3 L310.6 283.2 L300.8 292.4 L293.2 282 L285 289.1 L277.3 283.8 L265.9 290.1 L258.1 282.1 L246.1 288.8 L238.1 281.1 L228.9 288.3 L219.6 279.9 L208.3 290.7 L195.5 278.1 L186.2 289.1 L177.5 278.2 L168.8 290.4 L158 279.5Z" fill="#ec9422"/>
<path d="M158 267.1 L166.4 274.8 L174.9 266.7 L187 283.2 L200.4 265.6 L208.8 281.4 L216.4 260.3 L230.3 277.1 L237.4 263.3 L245.6 275 L259.4 266.8 L269.1 274.2 L283.1 265.8 L291.1 275 L301.8 261.1 L314.4 277.4 L325.6 265.5 L338.6 280.3 L346.8 265.2 L359.4 279.2 L372 265.3 L384.1 276.6 L397.6 264.3 L406.5 279.3 L419.3 262.2 L431.6 275.6 L444.6 265.1 L452.1 279.4 L464.5 264.7 L474.5 279.4 L482.2 266.2 L492.3 279.1 L503.8 266.3 L512.3 279.1 L525.8 257.1 L536.8 280.4 L549.8 259.1 L557.6 278.6 L565 254 L572.9 276.8 L585.6 262.7 L598.6 283.9 L608.9 258.7 L622.4 272.1 L630.2 262.9 L638.4 276.8 L647.1 258.6 L658.4 276.9 L669.2 259.4 L682.6 276.2 L691.2 261.4 L704.6 272.8 L714.5 262.6 L724.9 273.8 L737.3 258.2 L746.8 279.7 L757.9 255.3 L767.1 271 L776.1 258.7 L787.9 272.2 L798.7 258.2 L809.9 271 L823.7 260.3 L832.2 271.8 L843.9 258.4 L855.6 276.8 L865.6 256.2 L872.7 270.6 L885.4 261.2 L898.3 268.4 L911.4 257.3 L918 257.3 L918 265.3 L911.4 265.3 L898.3 276.4 L885.4 269.2 L872.7 278.6 L865.6 264.2 L855.6 284.8 L843.9 266.4 L832.2 279.8 L823.7 268.3 L809.9 279 L798.7 266.2 L787.9 280.2 L776.1 266.7 L767.1 279 L757.9 263.3 L746.8 287.7 L737.3 266.2 L724.9 281.8 L714.5 270.6 L704.6 280.8 L691.2 269.4 L682.6 284.2 L669.2 267.4 L658.4 284.9 L647.1 266.6 L638.4 284.8 L630.2 270.9 L622.4 280.1 L608.9 266.7 L598.6 291.9 L585.6 270.7 L572.9 284.8 L565 262 L557.6 286.6 L549.8 267.1 L536.8 288.4 L525.8 265.1 L512.3 287.1 L503.8 274.3 L492.3 287.1 L482.2 274.2 L474.5 287.4 L464.5 272.7 L452.1 287.4 L444.6 273.1 L431.6 283.6 L419.3 270.2 L406.5 287.3 L397.6 272.3 L384.1 284.6 L372 273.3 L359.4 287.2 L346.8 273.2 L338.6 288.3 L325.6 273.5 L314.4 285.4 L301.8 269.1 L291.1 283 L283.1 273.8 L269.1 282.2 L259.4 274.8 L245.6 283 L237.4 271.3 L230.3 285.1 L216.4 268.3 L208.8 289.4 L200.4 273.6 L187 291.2 L174.9 274.7 L166.4 282.8 L158 275.1Z" fill="#f6a62e"/>
<path d="M158 265 L168.8 275.9 L177.5 263.7 L186.2 274.6 L195.5 263.6 L208.3 276.2 L219.6 265.4 L228.9 273.8 L238.1 266.6 L246.1 274.3 L258.1 267.6 L265.9 275.6 L277.3 269.3 L285 274.6 L293.2 267.5 L300.8 277.9 L310.6 268.7 L324.6 273.8 L333.2 267.9 L341.2 273 L354.7 268.8 L363 275.2 L372.1 265.7 L380.1 274.7 L392 266.8 L404 276.2 L411.3 266.4 L423.2 275 L437.1 263.3 L449.1 278.5 L462.2 263.8 L473.9 276.3 L487.1 261.3 L499.6 279.9 L511.1 260.8 L521.7 276.1 L532.3 261.6 L542.8 274.8 L551.1 260.7 L563 275.6 L576.5 260.5 L586.3 274.8 L598.4 262.9 L607.6 272.4 L616 263.1 L627.8 273.7 L635.2 260.1 L645.9 273.8 L654.5 263.2 L666.6 273.1 L677 261.2 L690.1 273.1 L703.9 264.3 L717.4 274.2 L730.6 263.3 L740.2 270.1 L750 262.7 L759.8 272.6 L772.1 263.5 L780.4 268.7 L789.5 263.8 L798.1 270.4 L805.3 263.2 L815.9 268.4 L825.8 262.7 L839.7 268.2 L850.8 260.5 L863.5 267.7 L877.4 263 L888.8 268.6 L898.5 259.7 L910.8 267.9 L918 267.9 L918 275.9 L910.8 275.9 L898.5 267.7 L888.8 276.6 L877.4 271 L863.5 275.7 L850.8 268.5 L839.7 276.2 L825.8 270.7 L815.9 276.4 L805.3 271.2 L798.1 278.4 L789.5 271.8 L780.4 276.7 L772.1 271.5 L759.8 280.6 L750 270.7 L740.2 278.1 L730.6 271.3 L717.4 282.2 L703.9 272.3 L690.1 281.1 L677 269.2 L666.6 281.1 L654.5 271.2 L645.9 281.8 L635.2 268.1 L627.8 281.7 L616 271.1 L607.6 280.4 L598.4 270.9 L586.3 282.8 L576.5 268.5 L563 283.6 L551.1 268.7 L542.8 282.8 L532.3 269.6 L521.7 284.1 L511.1 268.8 L499.6 287.9 L487.1 269.3 L473.9 284.3 L462.2 271.8 L449.1 286.5 L437.1 271.3 L423.2 283 L411.3 274.4 L404 284.2 L392 274.8 L380.1 282.7 L372.1 273.7 L363 283.2 L354.7 276.8 L341.2 281 L333.2 275.9 L324.6 281.8 L310.6 276.7 L300.8 285.9 L293.2 275.5 L285 282.6 L277.3 277.3 L265.9 283.6 L258.1 275.6 L246.1 282.3 L238.1 274.6 L228.9 281.8 L219.6 273.4 L208.3 284.2 L195.5 271.6 L186.2 282.6 L177.5 271.7 L168.8 283.9 L158 273Z" fill="#f6a62e"/>
<path d="M916 266 L920 274 L923 290 L926 315 L928 335 L930.5 350 L935 363 L940 381 L945 400 L952 418 L960 436 L975 452 L1000 468" stroke="#4a3216" stroke-width="11" fill="none" stroke-linejoin="round" stroke-linecap="round"/>
<path d="M916 266 L920 274 L923 290 L926 315 L928 335 L930.5 350 L935 363 L940 381 L945 400 L952 418 L960 436 L975 452 L1000 468" stroke="#e08a20" stroke-width="6" fill="none" stroke-linejoin="round" stroke-linecap="round"/>
<path d="M934 360 L941 372 L946 386 L944 396 L936 382 Z" fill="#c87a1c" stroke="#4a3216" stroke-width="2"/>
<path d="M963.7 450.9v-34.4 M989.5 464.1v-33.4 M1013 475v23.1 M1035.7 476.2v31.1 M1058.5 476.5v24.7 M1072.1 476.6v-27.6 M1093.1 476.8v29.7 M1112.8 477v30 M1135.6 477.3v-29.6 M1160.4 477.5v-27.3 M1175 477.7v31.3 M1195 477.9v30.8 M1217.2 478.1v-28.1 M1239.1 478.4v-26.6 M1258.7 478.6v-32.5 M1279.3 478.8v-33.5 M1290.6 478.9v-28.7 M1315.8 479v-34.8 M1338.2 479v-30.4 M1363.8 479v-24.9 M1380.4 479v-23 M1396.5 479v-34.3 M1419.9 479v32.2 M1432.9 479v-26.5 M1448.7 479v30.5 M1463.1 479v30.1 M1475.6 479v-26.8 M1486.2 479v-23.5 M1509.4 479v31.2 M1532.6 479v29.8 M1541.8 479v-27.4 M1561.4 479v23.6 M1576.8 479v-28.7 M1587.5 479v31.6 M1606.7 479v24.2 M1630.5 479v34.6 M1640.3 479v33.3 M1654 479v33.8 M1678.2 479v25.8 M1693.6 479v26.4 M1713.1 479v26.8 M1737.9 479v29.6 M1756.5 479v-34.7 M1773.3 479v29.4 M1798.8 479v-30.3 M1818.6 479v29.2 M1843.7 479v-23" stroke="#3a2a18" stroke-width="3" fill="none"/>
<path d="M962 423 L972.7 445 L983.2 430 L992.7 464.6 L1004.1 441.6 L1012.7 476.3 L1021.4 443.4 L1032.8 466.5 L1045.9 445.4 L1055.9 471.7 L1063.6 450.2 L1072.2 472.8 L1080.5 449.6 L1091.2 468.1 L1098.3 447.9 L1110.7 468.4 L1123.2 454.2 L1134.2 468 L1141.6 453.1 L1152.5 468.2 L1165.6 456.7 L1174.4 464.9 L1183.5 453.6 L1195.5 465.9 L1204.8 455.9 L1218.8 471.2 L1228.7 448.7 L1236.2 474 L1246.2 450.3 L1254.5 469.6 L1266.1 452.3 L1274.8 471 L1284.4 449.8 L1295.8 471.9 L1303.7 454.7 L1312.2 473.1 L1319.3 452.2 L1328.7 469.2 L1341.2 452.1 L1349 487.3 L1356.2 446.2 L1366 474.6 L1376.6 452.1 L1386.7 470.8 L1398.2 446.8 L1407.1 473.2 L1420.3 454.5 L1429.2 468.7 L1442.8 449.1 L1452.7 466.9 L1461.8 453 L1475.3 466.8 L1482.4 455.6 L1489.5 466.7 L1497.1 456.9 L1509.9 468.8 L1522.8 457.7 L1536.4 469.2 L1544.1 457.4 L1556.1 468.4 L1566.2 455.6 L1575.1 471 L1585.6 456.4 L1596.1 470.8 L1609.4 456.6 L1623.3 471.8 L1634.6 457 L1647.2 469.7 L1655.5 456.3 L1665.7 471.1 L1673.4 454.5 L1680.7 467.4 L1690.7 455.1 L1702.3 469.3 L1710.6 450.2 L1724.5 470.2 L1736.7 451.5 L1749.9 468.9 L1759.1 454.1 L1772 473 L1783 454.7 L1791 474.7 L1800.3 447.3 L1810.1 468 L1817.2 446.5 L1830.9 470.6 L1838.6 447.8 L1844 447.8 L1844 481.8 L1838.6 481.8 L1830.9 504.6 L1817.2 480.5 L1810.1 502 L1800.3 481.3 L1791 508.7 L1783 488.7 L1772 507 L1759.1 488.1 L1749.9 502.9 L1736.7 485.5 L1724.5 504.2 L1710.6 484.2 L1702.3 503.3 L1690.7 489.1 L1680.7 501.4 L1673.4 488.5 L1665.7 505.1 L1655.5 490.3 L1647.2 503.7 L1634.6 491 L1623.3 505.8 L1609.4 490.6 L1596.1 504.8 L1585.6 490.4 L1575.1 505 L1566.2 489.6 L1556.1 502.4 L1544.1 491.4 L1536.4 503.2 L1522.8 491.7 L1509.9 502.8 L1497.1 490.9 L1489.5 500.7 L1482.4 489.6 L1475.3 500.8 L1461.8 487 L1452.7 500.9 L1442.8 483.1 L1429.2 502.7 L1420.3 488.5 L1407.1 507.2 L1398.2 480.8 L1386.7 504.8 L1376.6 486.1 L1366 508.6 L1356.2 480.2 L1349 521.3 L1341.2 486.1 L1328.7 503.2 L1319.3 486.2 L1312.2 507.1 L1303.7 488.7 L1295.8 505.9 L1284.4 483.8 L1274.8 505 L1266.1 486.3 L1254.5 503.6 L1246.2 484.3 L1236.2 508 L1228.7 482.7 L1218.8 505.2 L1204.8 489.9 L1195.5 499.9 L1183.5 487.6 L1174.4 498.9 L1165.6 490.7 L1152.5 502.2 L1141.6 487.1 L1134.2 502 L1123.2 488.2 L1110.7 502.4 L1098.3 481.9 L1091.2 502.1 L1080.5 483.6 L1072.2 506.8 L1063.6 484.2 L1055.9 505.7 L1045.9 479.4 L1032.8 500.5 L1021.4 477.4 L1012.7 510.3 L1004.1 475.6 L992.7 498.6 L983.2 464 L972.7 479 L962 457Z" fill="#4a3216"/>
<path d="M962 426 L972.7 448 L983.2 433 L992.7 467.6 L1004.1 444.6 L1012.7 479.3 L1021.4 446.4 L1032.8 469.5 L1045.9 448.4 L1055.9 474.7 L1063.6 453.2 L1072.2 475.8 L1080.5 452.6 L1091.2 471.1 L1098.3 450.9 L1110.7 471.4 L1123.2 457.2 L1134.2 471 L1141.6 456.1 L1152.5 471.2 L1165.6 459.7 L1174.4 467.9 L1183.5 456.6 L1195.5 468.9 L1204.8 458.9 L1218.8 474.2 L1228.7 451.7 L1236.2 477 L1246.2 453.3 L1254.5 472.6 L1266.1 455.3 L1274.8 474 L1284.4 452.8 L1295.8 474.9 L1303.7 457.7 L1312.2 476.1 L1319.3 455.2 L1328.7 472.2 L1341.2 455.1 L1349 490.3 L1356.2 449.2 L1366 477.6 L1376.6 455.1 L1386.7 473.8 L1398.2 449.8 L1407.1 476.2 L1420.3 457.5 L1429.2 471.7 L1442.8 452.1 L1452.7 469.9 L1461.8 456 L1475.3 469.8 L1482.4 458.6 L1489.5 469.7 L1497.1 459.9 L1509.9 471.8 L1522.8 460.7 L1536.4 472.2 L1544.1 460.4 L1556.1 471.4 L1566.2 458.6 L1575.1 474 L1585.6 459.4 L1596.1 473.8 L1609.4 459.6 L1623.3 474.8 L1634.6 460 L1647.2 472.7 L1655.5 459.3 L1665.7 474.1 L1673.4 457.5 L1680.7 470.4 L1690.7 458.1 L1702.3 472.3 L1710.6 453.2 L1724.5 473.2 L1736.7 454.5 L1749.9 471.9 L1759.1 457.1 L1772 476 L1783 457.7 L1791 477.7 L1800.3 450.3 L1810.1 471 L1817.2 449.5 L1830.9 473.6 L1838.6 450.8 L1844 450.8 L1844 478.8 L1838.6 478.8 L1830.9 501.6 L1817.2 477.5 L1810.1 499 L1800.3 478.3 L1791 505.7 L1783 485.7 L1772 504 L1759.1 485.1 L1749.9 499.9 L1736.7 482.5 L1724.5 501.2 L1710.6 481.2 L1702.3 500.3 L1690.7 486.1 L1680.7 498.4 L1673.4 485.5 L1665.7 502.1 L1655.5 487.3 L1647.2 500.7 L1634.6 488 L1623.3 502.8 L1609.4 487.6 L1596.1 501.8 L1585.6 487.4 L1575.1 502 L1566.2 486.6 L1556.1 499.4 L1544.1 488.4 L1536.4 500.2 L1522.8 488.7 L1509.9 499.8 L1497.1 487.9 L1489.5 497.7 L1482.4 486.6 L1475.3 497.8 L1461.8 484 L1452.7 497.9 L1442.8 480.1 L1429.2 499.7 L1420.3 485.5 L1407.1 504.2 L1398.2 477.8 L1386.7 501.8 L1376.6 483.1 L1366 505.6 L1356.2 477.2 L1349 518.3 L1341.2 483.1 L1328.7 500.2 L1319.3 483.2 L1312.2 504.1 L1303.7 485.7 L1295.8 502.9 L1284.4 480.8 L1274.8 502 L1266.1 483.3 L1254.5 500.6 L1246.2 481.3 L1236.2 505 L1228.7 479.7 L1218.8 502.2 L1204.8 486.9 L1195.5 496.9 L1183.5 484.6 L1174.4 495.9 L1165.6 487.7 L1152.5 499.2 L1141.6 484.1 L1134.2 499 L1123.2 485.2 L1110.7 499.4 L1098.3 478.9 L1091.2 499.1 L1080.5 480.6 L1072.2 503.8 L1063.6 481.2 L1055.9 502.7 L1045.9 476.4 L1032.8 497.5 L1021.4 474.4 L1012.7 507.3 L1004.1 472.6 L992.7 495.6 L983.2 461 L972.7 476 L962 454Z" fill="#a8661a"/>
<path d="M962 429 L972.7 451 L983.2 436 L992.7 470.6 L1004.1 447.6 L1012.7 482.3 L1021.4 449.4 L1032.8 472.5 L1045.9 451.4 L1055.9 477.7 L1063.6 456.2 L1072.2 478.8 L1080.5 455.6 L1091.2 474.1 L1098.3 453.9 L1110.7 474.4 L1123.2 460.2 L1134.2 474 L1141.6 459.1 L1152.5 474.2 L1165.6 462.7 L1174.4 470.9 L1183.5 459.6 L1195.5 471.9 L1204.8 461.9 L1218.8 477.2 L1228.7 454.7 L1236.2 480 L1246.2 456.3 L1254.5 475.6 L1266.1 458.3 L1274.8 477 L1284.4 455.8 L1295.8 477.9 L1303.7 460.7 L1312.2 479.1 L1319.3 458.2 L1328.7 475.2 L1341.2 458.1 L1349 493.3 L1356.2 452.2 L1366 480.6 L1376.6 458.1 L1386.7 476.8 L1398.2 452.8 L1407.1 479.2 L1420.3 460.5 L1429.2 474.7 L1442.8 455.1 L1452.7 472.9 L1461.8 459 L1475.3 472.8 L1482.4 461.6 L1489.5 472.7 L1497.1 462.9 L1509.9 474.8 L1522.8 463.7 L1536.4 475.2 L1544.1 463.4 L1556.1 474.4 L1566.2 461.6 L1575.1 477 L1585.6 462.4 L1596.1 476.8 L1609.4 462.6 L1623.3 477.8 L1634.6 463 L1647.2 475.7 L1655.5 462.3 L1665.7 477.1 L1673.4 460.5 L1680.7 473.4 L1690.7 461.1 L1702.3 475.3 L1710.6 456.2 L1724.5 476.2 L1736.7 457.5 L1749.9 474.9 L1759.1 460.1 L1772 479 L1783 460.7 L1791 480.7 L1800.3 453.3 L1810.1 474 L1817.2 452.5 L1830.9 476.6 L1838.6 453.8 L1844 453.8 L1844 475.8 L1838.6 475.8 L1830.9 498.6 L1817.2 474.5 L1810.1 496 L1800.3 475.3 L1791 502.7 L1783 482.7 L1772 501 L1759.1 482.1 L1749.9 496.9 L1736.7 479.5 L1724.5 498.2 L1710.6 478.2 L1702.3 497.3 L1690.7 483.1 L1680.7 495.4 L1673.4 482.5 L1665.7 499.1 L1655.5 484.3 L1647.2 497.7 L1634.6 485 L1623.3 499.8 L1609.4 484.6 L1596.1 498.8 L1585.6 484.4 L1575.1 499 L1566.2 483.6 L1556.1 496.4 L1544.1 485.4 L1536.4 497.2 L1522.8 485.7 L1509.9 496.8 L1497.1 484.9 L1489.5 494.7 L1482.4 483.6 L1475.3 494.8 L1461.8 481 L1452.7 494.9 L1442.8 477.1 L1429.2 496.7 L1420.3 482.5 L1407.1 501.2 L1398.2 474.8 L1386.7 498.8 L1376.6 480.1 L1366 502.6 L1356.2 474.2 L1349 515.3 L1341.2 480.1 L1328.7 497.2 L1319.3 480.2 L1312.2 501.1 L1303.7 482.7 L1295.8 499.9 L1284.4 477.8 L1274.8 499 L1266.1 480.3 L1254.5 497.6 L1246.2 478.3 L1236.2 502 L1228.7 476.7 L1218.8 499.2 L1204.8 483.9 L1195.5 493.9 L1183.5 481.6 L1174.4 492.9 L1165.6 484.7 L1152.5 496.2 L1141.6 481.1 L1134.2 496 L1123.2 482.2 L1110.7 496.4 L1098.3 475.9 L1091.2 496.1 L1080.5 477.6 L1072.2 500.8 L1063.6 478.2 L1055.9 499.7 L1045.9 473.4 L1032.8 494.5 L1021.4 471.4 L1012.7 504.3 L1004.1 469.6 L992.7 492.6 L983.2 458 L972.7 473 L962 451Z" fill="#ec9422"/>
<path d="M962 436 L972.7 458 L983.2 443 L992.7 477.6 L1004.1 454.6 L1012.7 489.3 L1021.4 456.4 L1032.8 479.5 L1045.9 458.4 L1055.9 484.7 L1063.6 463.2 L1072.2 485.8 L1080.5 462.6 L1091.2 481.1 L1098.3 460.9 L1110.7 481.4 L1123.2 467.2 L1134.2 481 L1141.6 466.1 L1152.5 481.2 L1165.6 469.7 L1174.4 477.9 L1183.5 466.6 L1195.5 478.9 L1204.8 468.9 L1218.8 484.2 L1228.7 461.7 L1236.2 487 L1246.2 463.3 L1254.5 482.6 L1266.1 465.3 L1274.8 484 L1284.4 462.8 L1295.8 484.9 L1303.7 467.7 L1312.2 486.1 L1319.3 465.2 L1328.7 482.2 L1341.2 465.1 L1349 500.3 L1356.2 459.2 L1366 487.6 L1376.6 465.1 L1386.7 483.8 L1398.2 459.8 L1407.1 486.2 L1420.3 467.5 L1429.2 481.7 L1442.8 462.1 L1452.7 479.9 L1461.8 466 L1475.3 479.8 L1482.4 468.6 L1489.5 479.7 L1497.1 469.9 L1509.9 481.8 L1522.8 470.7 L1536.4 482.2 L1544.1 470.4 L1556.1 481.4 L1566.2 468.6 L1575.1 484 L1585.6 469.4 L1596.1 483.8 L1609.4 469.6 L1623.3 484.8 L1634.6 470 L1647.2 482.7 L1655.5 469.3 L1665.7 484.1 L1673.4 467.5 L1680.7 480.4 L1690.7 468.1 L1702.3 482.3 L1710.6 463.2 L1724.5 483.2 L1736.7 464.5 L1749.9 481.9 L1759.1 467.1 L1772 486 L1783 467.7 L1791 487.7 L1800.3 460.3 L1810.1 481 L1817.2 459.5 L1830.9 483.6 L1838.6 460.8 L1844 460.8 L1844 468.8 L1838.6 468.8 L1830.9 491.6 L1817.2 467.5 L1810.1 489 L1800.3 468.3 L1791 495.7 L1783 475.7 L1772 494 L1759.1 475.1 L1749.9 489.9 L1736.7 472.5 L1724.5 491.2 L1710.6 471.2 L1702.3 490.3 L1690.7 476.1 L1680.7 488.4 L1673.4 475.5 L1665.7 492.1 L1655.5 477.3 L1647.2 490.7 L1634.6 478 L1623.3 492.8 L1609.4 477.6 L1596.1 491.8 L1585.6 477.4 L1575.1 492 L1566.2 476.6 L1556.1 489.4 L1544.1 478.4 L1536.4 490.2 L1522.8 478.7 L1509.9 489.8 L1497.1 477.9 L1489.5 487.7 L1482.4 476.6 L1475.3 487.8 L1461.8 474 L1452.7 487.9 L1442.8 470.1 L1429.2 489.7 L1420.3 475.5 L1407.1 494.2 L1398.2 467.8 L1386.7 491.8 L1376.6 473.1 L1366 495.6 L1356.2 467.2 L1349 508.3 L1341.2 473.1 L1328.7 490.2 L1319.3 473.2 L1312.2 494.1 L1303.7 475.7 L1295.8 492.9 L1284.4 470.8 L1274.8 492 L1266.1 473.3 L1254.5 490.6 L1246.2 471.3 L1236.2 495 L1228.7 469.7 L1218.8 492.2 L1204.8 476.9 L1195.5 486.9 L1183.5 474.6 L1174.4 485.9 L1165.6 477.7 L1152.5 489.2 L1141.6 474.1 L1134.2 489 L1123.2 475.2 L1110.7 489.4 L1098.3 468.9 L1091.2 489.1 L1080.5 470.6 L1072.2 493.8 L1063.6 471.2 L1055.9 492.7 L1045.9 466.4 L1032.8 487.5 L1021.4 464.4 L1012.7 497.3 L1004.1 462.6 L992.7 485.6 L983.2 451 L972.7 466 L962 444Z" fill="#f6a62e"/>
</g><g clip-path="url(#cb)">
<path d="M166.9 2093v-20.5 M173.7 2093v-23.6 M182.3 2093v-22.9 M197.4 2093v25.2 M207.8 2093v22.1 M217.3 2093v26.1 M230.5 2093v-25.2 M237.8 2093v-22.3 M248 2093v26.1 M263.6 2093v-21.5 M269.8 2093v-21.8 M281.1 2093v22 M292.7 2093v-23.8 M306.1 2093v24.3 M316.8 2093v-23 M323.2 2093v23 M331 2093v25.4 M345.6 2093v-25.1 M353.3 2093v21.8 M369.2 2093v-20.9 M378.7 2093v22.3 M385.8 2093v-25.3 M400.9 2093v-22.2 M408.7 2093v26 M422.9 2093v20.6 M436.3 2093v26.1 M443.3 2093v22.4 M454.6 2093v-25.9 M460.9 2093v-25.9 M472.5 2093v22.4 M487.8 2093v25.9 M496.4 2093v-25.1 M506.6 2093v-25.9 M516.2 2093v-23.7 M529.3 2093v-24.1 M544.5 2093v20.6 M554 2093v-21.1 M570 2093v-25 M583.9 2093v26 M595.3 2093v21.8 M611.1 2093v24.6 M625.5 2093v22.7 M640 2093v21.4 M646.2 2093v23.4 M653.7 2093v-25.7 M661.6 2093v22.7 M671.8 2093v-20.2 M685 2093v-21 M699.1 2093v25.4 M706.8 2093v20.2 M718.8 2093v-22.4 M729.1 2093v21.6 M744.9 2093v-21.5 M757.9 2093v-20.8 M768.2 2093v-26.1 M777.4 2093v-23.1 M787.4 2093v-24.4 M801.4 2093v-21.3 M813.7 2093v22.9 M820.7 2093v24.7 M830.4 2093v21 M844 2093v-23 M856.9 2093v-23.9 M864.7 2093v23 M879.7 2093v26.2 M889 2093v21.5 M902.4 2093v21.7 M918.3 2093v22.5 M928.7 2093v24.1 M936.7 2093v22.3 M943.4 2093v-22 M956.8 2093v24 M969.5 2093v-20.2 M975.9 2093v-22.8 M987.2 2093v-24 M1001.7 2093v22.7 M1011.3 2093v23.9 M1019.9 2093v-24.9 M1028.4 2093v22.1 M1039.4 2093v-20.4 M1051.5 2093v-25.1 M1065.3 2093v22.5 M1075.5 2093v22.8 M1090.7 2093v25.7 M1103.7 2093v-21 M1118 2093v24.2 M1127.2 2093v21.8 M1138.5 2093v-20.3 M1148 2093v20.6 M1163 2093v-25.1 M1173.2 2093v20.9 M1187.3 2093v24.9 M1194.5 2093v-20.3 M1208.9 2093v25.2 M1217.3 2093v-25.3 M1226.5 2093v20.2 M1236.7 2093v24.8 M1248.5 2093v26.1 M1263.7 2093v-26 M1277.2 2093v-21.6 M1286.7 2093v-26.1 M1297 2093v21 M1308 2093v24.4 M1321.6 2093v-22.2 M1335.1 2093v24.4 M1344.2 2093v25.3 M1355.9 2093v22.6 M1362.7 2093v-20.8 M1369.9 2093v20.5 M1383.2 2093v-23.9 M1396.4 2093v25.2 M1404.7 2093v-23.6 M1413.4 2093v21.1 M1425.7 2093v-25.8 M1434.4 2093v-23.3 M1443.4 2093v-23.4 M1458.5 2093v23.7 M1470.3 2093v-24.9 M1476.3 2093v26.1 M1483.6 2093v-20.9 M1496.2 2093v-21 M1507.1 2093v-20.2 M1517 2093v-21.4 M1525.6 2093v-21.7 M1535.7 2093v-22.4 M1541.9 2093v25.2 M1552.8 2093v-20.2 M1567.8 2093v-22.9 M1582 2093v-25.5 M1593 2093v-23.6 M1602.2 2093v23.9 M1614.5 2093v-23.9 M1621.2 2093v20.3 M1635.9 2093v-25.6 M1649.5 2093v-21.2 M1657.6 2093v25.4 M1671.9 2093v22.5 M1680.5 2093v23.6 M1688.8 2093v-22.5 M1702.8 2093v-21.3 M1711.6 2093v24 M1722.8 2093v25.3 M1730.9 2093v-23.4 M1739.3 2093v-21.1 M1748.8 2093v25.5 M1755.7 2093v21.5 M1767 2093v-20.4 M1778.7 2093v-23.8 M1792.4 2093v21.6 M1803.7 2093v22.2 M1813.6 2093v22.7 M1828 2093v26.1 M1839.4 2093v24.5" stroke="#3a1a28" stroke-width="3" fill="none"/>
<path d="M163 2074.4 L174.9 2076.9 L182.1 2074.5 L191.1 2076.8 L197 2074.3 L206.9 2077.4 L217.2 2075.1 L227.7 2077.1 L233.4 2075.1 L238.9 2077.7 L244.5 2075.1 L252.4 2078.3 L259.1 2073.7 L267.8 2078.4 L274.8 2074.6 L282.1 2077.5 L290.5 2074.1 L298.6 2078.7 L305.4 2074.8 L311.5 2078.3 L319.2 2072.5 L325.1 2078.7 L334.7 2074.4 L342.8 2077.9 L354.3 2074.2 L365.7 2078.3 L377.7 2075.2 L385.3 2079.1 L393.6 2074 L403.7 2077.1 L411.3 2073.9 L422.9 2078.8 L428.4 2073.6 L440.3 2078.1 L446.5 2072.3 L454.5 2077.5 L462.6 2072.3 L468 2077.2 L479.2 2074.5 L488 2079.7 L497.6 2073.2 L508.4 2078.6 L518 2073.8 L523.2 2078.9 L531.3 2074.6 L542 2078.1 L552.7 2073.4 L561.6 2077.4 L570.3 2073.2 L576.9 2081.6 L588 2072.6 L594.6 2079.1 L602.1 2072.6 L614 2078.1 L625.1 2075.1 L635.5 2077.8 L644.4 2072.9 L654.8 2077.3 L661.6 2073.5 L669.7 2078.6 L678.4 2073.9 L685.6 2077.4 L695.7 2074.2 L701.5 2078.1 L708.3 2074.4 L719.9 2077.1 L728.8 2074.9 L733.9 2077.3 L741.9 2071.8 L749.1 2076.6 L755.6 2075.1 L761.8 2077.2 L768.9 2074.1 L776.3 2078.9 L784.7 2074.5 L793.9 2077 L799.2 2073.2 L810 2077.9 L816.4 2073.1 L822.7 2081.2 L828.5 2074.6 L839.1 2077.2 L844.9 2074.5 L856.5 2077.9 L863.9 2072.3 L872.7 2079.5 L883.1 2073.1 L894.8 2077.1 L902 2073 L907.3 2079.8 L915.7 2072.5 L920.8 2078.5 L930.6 2073.6 L942.3 2077.2 L951.5 2075 L960.7 2079.9 L972.1 2073.3 L984.1 2078.7 L995.4 2074 L1003.3 2080.4 L1008.7 2073 L1019.6 2080.3 L1028 2073.8 L1038.6 2077.2 L1045.5 2074.3 L1054.5 2080.1 L1066.4 2073.2 L1073.6 2077.4 L1085 2073.3 L1095.2 2079.7 L1101.6 2073.1 L1107.8 2078.1 L1119.6 2074.7 L1129.7 2079.3 L1138.3 2073.4 L1147.9 2078.6 L1156.9 2074.9 L1164.9 2078.4 L1172.9 2074.3 L1178 2078.7 L1187.2 2074.4 L1198.3 2078.9 L1205.5 2075.3 L1212.2 2077.1 L1220.5 2074.6 L1231.6 2078.2 L1243.5 2074.3 L1248.9 2078.7 L1258.5 2074.8 L1267.9 2076.6 L1274.6 2074 L1281.2 2077 L1289.3 2074.2 L1296.6 2078.1 L1305.8 2075.3 L1315.3 2077.8 L1324.2 2075.2 L1335.5 2077.5 L1342.5 2073.9 L1350.5 2078.5 L1356.5 2075 L1366.8 2077.5 L1377.2 2073.3 L1384 2079 L1391.6 2074.7 L1399.1 2078.5 L1405.6 2074.9 L1414.4 2076.7 L1419.9 2074.6 L1428.7 2077.7 L1435.7 2074.2 L1445.6 2079.5 L1450.9 2074.7 L1461.6 2078.7 L1473.5 2072.6 L1485.4 2077.7 L1495 2074.1 L1500.7 2077.3 L1510.2 2073.4 L1515.8 2081.1 L1523.2 2075 L1530 2076.9 L1538.5 2075.1 L1544.7 2076.9 L1553.6 2074.1 L1558.9 2079.6 L1564.9 2074.1 L1572 2078.6 L1581.8 2073.3 L1591.4 2077.6 L1599.2 2074.9 L1608.1 2078 L1615.4 2072.1 L1625.7 2078.8 L1631.6 2074.2 L1638.8 2078.4 L1648.8 2072.2 L1656 2077.5 L1663.6 2073.8 L1671.8 2080 L1680.4 2072.2 L1690.3 2078.3 L1699.1 2073.9 L1709.7 2077.7 L1721.5 2075.2 L1730.4 2078.1 L1736 2073 L1745.7 2078.1 L1757.2 2075 L1767.7 2077 L1773.8 2073.9 L1781.6 2078.2 L1792 2072.9 L1800.4 2079.8 L1810.2 2073.6 L1818.9 2082.1 L1828.9 2073.8 L1836.3 2078.7 L1841 2078.7 L1841 2112.7 L1836.3 2112.7 L1828.9 2107.8 L1818.9 2116.1 L1810.2 2107.6 L1800.4 2113.8 L1792 2106.9 L1781.6 2112.2 L1773.8 2107.9 L1767.7 2111 L1757.2 2109 L1745.7 2112.1 L1736 2107 L1730.4 2112.1 L1721.5 2109.2 L1709.7 2111.7 L1699.1 2107.9 L1690.3 2112.3 L1680.4 2106.2 L1671.8 2114 L1663.6 2107.8 L1656 2111.5 L1648.8 2106.2 L1638.8 2112.4 L1631.6 2108.2 L1625.7 2112.8 L1615.4 2106.1 L1608.1 2112 L1599.2 2108.9 L1591.4 2111.6 L1581.8 2107.3 L1572 2112.6 L1564.9 2108.1 L1558.9 2113.6 L1553.6 2108.1 L1544.7 2110.9 L1538.5 2109.1 L1530 2110.9 L1523.2 2109 L1515.8 2115.1 L1510.2 2107.4 L1500.7 2111.3 L1495 2108.1 L1485.4 2111.7 L1473.5 2106.6 L1461.6 2112.7 L1450.9 2108.7 L1445.6 2113.5 L1435.7 2108.2 L1428.7 2111.7 L1419.9 2108.6 L1414.4 2110.7 L1405.6 2108.9 L1399.1 2112.5 L1391.6 2108.7 L1384 2113 L1377.2 2107.3 L1366.8 2111.5 L1356.5 2109 L1350.5 2112.5 L1342.5 2107.9 L1335.5 2111.5 L1324.2 2109.2 L1315.3 2111.8 L1305.8 2109.3 L1296.6 2112.1 L1289.3 2108.2 L1281.2 2111 L1274.6 2108 L1267.9 2110.6 L1258.5 2108.8 L1248.9 2112.7 L1243.5 2108.3 L1231.6 2112.2 L1220.5 2108.6 L1212.2 2111.1 L1205.5 2109.3 L1198.3 2112.9 L1187.2 2108.4 L1178 2112.7 L1172.9 2108.3 L1164.9 2112.4 L1156.9 2108.9 L1147.9 2112.6 L1138.3 2107.4 L1129.7 2113.3 L1119.6 2108.7 L1107.8 2112.1 L1101.6 2107.1 L1095.2 2113.7 L1085 2107.3 L1073.6 2111.4 L1066.4 2107.2 L1054.5 2114.1 L1045.5 2108.3 L1038.6 2111.2 L1028 2107.8 L1019.6 2114.3 L1008.7 2107 L1003.3 2114.4 L995.4 2108 L984.1 2112.7 L972.1 2107.3 L960.7 2113.9 L951.5 2109 L942.3 2111.2 L930.6 2107.6 L920.8 2112.5 L915.7 2106.5 L907.3 2113.8 L902 2107 L894.8 2111.1 L883.1 2107.1 L872.7 2113.5 L863.9 2106.3 L856.5 2111.9 L844.9 2108.5 L839.1 2111.2 L828.5 2108.6 L822.7 2115.2 L816.4 2107.1 L810 2111.9 L799.2 2107.2 L793.9 2111 L784.7 2108.5 L776.3 2112.9 L768.9 2108.1 L761.8 2111.2 L755.6 2109.1 L749.1 2110.6 L741.9 2105.8 L733.9 2111.3 L728.8 2108.9 L719.9 2111.1 L708.3 2108.4 L701.5 2112.1 L695.7 2108.2 L685.6 2111.4 L678.4 2107.9 L669.7 2112.6 L661.6 2107.5 L654.8 2111.3 L644.4 2106.9 L635.5 2111.8 L625.1 2109.1 L614 2112.1 L602.1 2106.6 L594.6 2113.1 L588 2106.6 L576.9 2115.6 L570.3 2107.2 L561.6 2111.4 L552.7 2107.4 L542 2112.1 L531.3 2108.6 L523.2 2112.9 L518 2107.8 L508.4 2112.6 L497.6 2107.2 L488 2113.7 L479.2 2108.5 L468 2111.2 L462.6 2106.3 L454.5 2111.5 L446.5 2106.3 L440.3 2112.1 L428.4 2107.6 L422.9 2112.8 L411.3 2107.9 L403.7 2111.1 L393.6 2108 L385.3 2113.1 L377.7 2109.2 L365.7 2112.3 L354.3 2108.2 L342.8 2111.9 L334.7 2108.4 L325.1 2112.7 L319.2 2106.5 L311.5 2112.3 L305.4 2108.8 L298.6 2112.7 L290.5 2108.1 L282.1 2111.5 L274.8 2108.6 L267.8 2112.4 L259.1 2107.7 L252.4 2112.3 L244.5 2109.1 L238.9 2111.7 L233.4 2109.1 L227.7 2111.1 L217.2 2109.1 L206.9 2111.4 L197 2108.3 L191.1 2110.8 L182.1 2108.5 L174.9 2110.9 L163 2108.4Z" fill="#3a1a2a"/>
<path d="M163 2077.9 L174.9 2080.4 L182.1 2078 L191.1 2080.3 L197 2077.8 L206.9 2080.9 L217.2 2078.6 L227.7 2080.6 L233.4 2078.6 L238.9 2081.2 L244.5 2078.6 L252.4 2081.8 L259.1 2077.2 L267.8 2081.9 L274.8 2078.1 L282.1 2081 L290.5 2077.6 L298.6 2082.2 L305.4 2078.3 L311.5 2081.8 L319.2 2076 L325.1 2082.2 L334.7 2077.9 L342.8 2081.4 L354.3 2077.7 L365.7 2081.8 L377.7 2078.7 L385.3 2082.6 L393.6 2077.5 L403.7 2080.6 L411.3 2077.4 L422.9 2082.3 L428.4 2077.1 L440.3 2081.6 L446.5 2075.8 L454.5 2081 L462.6 2075.8 L468 2080.7 L479.2 2078 L488 2083.2 L497.6 2076.7 L508.4 2082.1 L518 2077.3 L523.2 2082.4 L531.3 2078.1 L542 2081.6 L552.7 2076.9 L561.6 2080.9 L570.3 2076.7 L576.9 2085.1 L588 2076.1 L594.6 2082.6 L602.1 2076.1 L614 2081.6 L625.1 2078.6 L635.5 2081.3 L644.4 2076.4 L654.8 2080.8 L661.6 2077 L669.7 2082.1 L678.4 2077.4 L685.6 2080.9 L695.7 2077.7 L701.5 2081.6 L708.3 2077.9 L719.9 2080.6 L728.8 2078.4 L733.9 2080.8 L741.9 2075.3 L749.1 2080.1 L755.6 2078.6 L761.8 2080.7 L768.9 2077.6 L776.3 2082.4 L784.7 2078 L793.9 2080.5 L799.2 2076.7 L810 2081.4 L816.4 2076.6 L822.7 2084.7 L828.5 2078.1 L839.1 2080.7 L844.9 2078 L856.5 2081.4 L863.9 2075.8 L872.7 2083 L883.1 2076.6 L894.8 2080.6 L902 2076.5 L907.3 2083.3 L915.7 2076 L920.8 2082 L930.6 2077.1 L942.3 2080.7 L951.5 2078.5 L960.7 2083.4 L972.1 2076.8 L984.1 2082.2 L995.4 2077.5 L1003.3 2083.9 L1008.7 2076.5 L1019.6 2083.8 L1028 2077.3 L1038.6 2080.7 L1045.5 2077.8 L1054.5 2083.6 L1066.4 2076.7 L1073.6 2080.9 L1085 2076.8 L1095.2 2083.2 L1101.6 2076.6 L1107.8 2081.6 L1119.6 2078.2 L1129.7 2082.8 L1138.3 2076.9 L1147.9 2082.1 L1156.9 2078.4 L1164.9 2081.9 L1172.9 2077.8 L1178 2082.2 L1187.2 2077.9 L1198.3 2082.4 L1205.5 2078.8 L1212.2 2080.6 L1220.5 2078.1 L1231.6 2081.7 L1243.5 2077.8 L1248.9 2082.2 L1258.5 2078.3 L1267.9 2080.1 L1274.6 2077.5 L1281.2 2080.5 L1289.3 2077.7 L1296.6 2081.6 L1305.8 2078.8 L1315.3 2081.3 L1324.2 2078.7 L1335.5 2081 L1342.5 2077.4 L1350.5 2082 L1356.5 2078.5 L1366.8 2081 L1377.2 2076.8 L1384 2082.5 L1391.6 2078.2 L1399.1 2082 L1405.6 2078.4 L1414.4 2080.2 L1419.9 2078.1 L1428.7 2081.2 L1435.7 2077.7 L1445.6 2083 L1450.9 2078.2 L1461.6 2082.2 L1473.5 2076.1 L1485.4 2081.2 L1495 2077.6 L1500.7 2080.8 L1510.2 2076.9 L1515.8 2084.6 L1523.2 2078.5 L1530 2080.4 L1538.5 2078.6 L1544.7 2080.4 L1553.6 2077.6 L1558.9 2083.1 L1564.9 2077.6 L1572 2082.1 L1581.8 2076.8 L1591.4 2081.1 L1599.2 2078.4 L1608.1 2081.5 L1615.4 2075.6 L1625.7 2082.3 L1631.6 2077.7 L1638.8 2081.9 L1648.8 2075.7 L1656 2081 L1663.6 2077.3 L1671.8 2083.5 L1680.4 2075.7 L1690.3 2081.8 L1699.1 2077.4 L1709.7 2081.2 L1721.5 2078.7 L1730.4 2081.6 L1736 2076.5 L1745.7 2081.6 L1757.2 2078.5 L1767.7 2080.5 L1773.8 2077.4 L1781.6 2081.7 L1792 2076.4 L1800.4 2083.3 L1810.2 2077.1 L1818.9 2085.6 L1828.9 2077.3 L1836.3 2082.2 L1841 2082.2 L1841 2109.2 L1836.3 2109.2 L1828.9 2104.3 L1818.9 2112.6 L1810.2 2104.1 L1800.4 2110.3 L1792 2103.4 L1781.6 2108.7 L1773.8 2104.4 L1767.7 2107.5 L1757.2 2105.5 L1745.7 2108.6 L1736 2103.5 L1730.4 2108.6 L1721.5 2105.7 L1709.7 2108.2 L1699.1 2104.4 L1690.3 2108.8 L1680.4 2102.7 L1671.8 2110.5 L1663.6 2104.3 L1656 2108 L1648.8 2102.7 L1638.8 2108.9 L1631.6 2104.7 L1625.7 2109.3 L1615.4 2102.6 L1608.1 2108.5 L1599.2 2105.4 L1591.4 2108.1 L1581.8 2103.8 L1572 2109.1 L1564.9 2104.6 L1558.9 2110.1 L1553.6 2104.6 L1544.7 2107.4 L1538.5 2105.6 L1530 2107.4 L1523.2 2105.5 L1515.8 2111.6 L1510.2 2103.9 L1500.7 2107.8 L1495 2104.6 L1485.4 2108.2 L1473.5 2103.1 L1461.6 2109.2 L1450.9 2105.2 L1445.6 2110 L1435.7 2104.7 L1428.7 2108.2 L1419.9 2105.1 L1414.4 2107.2 L1405.6 2105.4 L1399.1 2109 L1391.6 2105.2 L1384 2109.5 L1377.2 2103.8 L1366.8 2108 L1356.5 2105.5 L1350.5 2109 L1342.5 2104.4 L1335.5 2108 L1324.2 2105.7 L1315.3 2108.3 L1305.8 2105.8 L1296.6 2108.6 L1289.3 2104.7 L1281.2 2107.5 L1274.6 2104.5 L1267.9 2107.1 L1258.5 2105.3 L1248.9 2109.2 L1243.5 2104.8 L1231.6 2108.7 L1220.5 2105.1 L1212.2 2107.6 L1205.5 2105.8 L1198.3 2109.4 L1187.2 2104.9 L1178 2109.2 L1172.9 2104.8 L1164.9 2108.9 L1156.9 2105.4 L1147.9 2109.1 L1138.3 2103.9 L1129.7 2109.8 L1119.6 2105.2 L1107.8 2108.6 L1101.6 2103.6 L1095.2 2110.2 L1085 2103.8 L1073.6 2107.9 L1066.4 2103.7 L1054.5 2110.6 L1045.5 2104.8 L1038.6 2107.7 L1028 2104.3 L1019.6 2110.8 L1008.7 2103.5 L1003.3 2110.9 L995.4 2104.5 L984.1 2109.2 L972.1 2103.8 L960.7 2110.4 L951.5 2105.5 L942.3 2107.7 L930.6 2104.1 L920.8 2109 L915.7 2103 L907.3 2110.3 L902 2103.5 L894.8 2107.6 L883.1 2103.6 L872.7 2110 L863.9 2102.8 L856.5 2108.4 L844.9 2105 L839.1 2107.7 L828.5 2105.1 L822.7 2111.7 L816.4 2103.6 L810 2108.4 L799.2 2103.7 L793.9 2107.5 L784.7 2105 L776.3 2109.4 L768.9 2104.6 L761.8 2107.7 L755.6 2105.6 L749.1 2107.1 L741.9 2102.3 L733.9 2107.8 L728.8 2105.4 L719.9 2107.6 L708.3 2104.9 L701.5 2108.6 L695.7 2104.7 L685.6 2107.9 L678.4 2104.4 L669.7 2109.1 L661.6 2104 L654.8 2107.8 L644.4 2103.4 L635.5 2108.3 L625.1 2105.6 L614 2108.6 L602.1 2103.1 L594.6 2109.6 L588 2103.1 L576.9 2112.1 L570.3 2103.7 L561.6 2107.9 L552.7 2103.9 L542 2108.6 L531.3 2105.1 L523.2 2109.4 L518 2104.3 L508.4 2109.1 L497.6 2103.7 L488 2110.2 L479.2 2105 L468 2107.7 L462.6 2102.8 L454.5 2108 L446.5 2102.8 L440.3 2108.6 L428.4 2104.1 L422.9 2109.3 L411.3 2104.4 L403.7 2107.6 L393.6 2104.5 L385.3 2109.6 L377.7 2105.7 L365.7 2108.8 L354.3 2104.7 L342.8 2108.4 L334.7 2104.9 L325.1 2109.2 L319.2 2103 L311.5 2108.8 L305.4 2105.3 L298.6 2109.2 L290.5 2104.6 L282.1 2108 L274.8 2105.1 L267.8 2108.9 L259.1 2104.2 L252.4 2108.8 L244.5 2105.6 L238.9 2108.2 L233.4 2105.6 L227.7 2107.6 L217.2 2105.6 L206.9 2107.9 L197 2104.8 L191.1 2107.3 L182.1 2105 L174.9 2107.4 L163 2104.9Z" fill="#5a1c38"/>
<path d="M163 2080.9 L174.9 2083.4 L182.1 2081 L191.1 2083.3 L197 2080.8 L206.9 2083.9 L217.2 2081.6 L227.7 2083.6 L233.4 2081.6 L238.9 2084.2 L244.5 2081.6 L252.4 2084.8 L259.1 2080.2 L267.8 2084.9 L274.8 2081.1 L282.1 2084 L290.5 2080.6 L298.6 2085.2 L305.4 2081.3 L311.5 2084.8 L319.2 2079 L325.1 2085.2 L334.7 2080.9 L342.8 2084.4 L354.3 2080.7 L365.7 2084.8 L377.7 2081.7 L385.3 2085.6 L393.6 2080.5 L403.7 2083.6 L411.3 2080.4 L422.9 2085.3 L428.4 2080.1 L440.3 2084.6 L446.5 2078.8 L454.5 2084 L462.6 2078.8 L468 2083.7 L479.2 2081 L488 2086.2 L497.6 2079.7 L508.4 2085.1 L518 2080.3 L523.2 2085.4 L531.3 2081.1 L542 2084.6 L552.7 2079.9 L561.6 2083.9 L570.3 2079.7 L576.9 2088.1 L588 2079.1 L594.6 2085.6 L602.1 2079.1 L614 2084.6 L625.1 2081.6 L635.5 2084.3 L644.4 2079.4 L654.8 2083.8 L661.6 2080 L669.7 2085.1 L678.4 2080.4 L685.6 2083.9 L695.7 2080.7 L701.5 2084.6 L708.3 2080.9 L719.9 2083.6 L728.8 2081.4 L733.9 2083.8 L741.9 2078.3 L749.1 2083.1 L755.6 2081.6 L761.8 2083.7 L768.9 2080.6 L776.3 2085.4 L784.7 2081 L793.9 2083.5 L799.2 2079.7 L810 2084.4 L816.4 2079.6 L822.7 2087.7 L828.5 2081.1 L839.1 2083.7 L844.9 2081 L856.5 2084.4 L863.9 2078.8 L872.7 2086 L883.1 2079.6 L894.8 2083.6 L902 2079.5 L907.3 2086.3 L915.7 2079 L920.8 2085 L930.6 2080.1 L942.3 2083.7 L951.5 2081.5 L960.7 2086.4 L972.1 2079.8 L984.1 2085.2 L995.4 2080.5 L1003.3 2086.9 L1008.7 2079.5 L1019.6 2086.8 L1028 2080.3 L1038.6 2083.7 L1045.5 2080.8 L1054.5 2086.6 L1066.4 2079.7 L1073.6 2083.9 L1085 2079.8 L1095.2 2086.2 L1101.6 2079.6 L1107.8 2084.6 L1119.6 2081.2 L1129.7 2085.8 L1138.3 2079.9 L1147.9 2085.1 L1156.9 2081.4 L1164.9 2084.9 L1172.9 2080.8 L1178 2085.2 L1187.2 2080.9 L1198.3 2085.4 L1205.5 2081.8 L1212.2 2083.6 L1220.5 2081.1 L1231.6 2084.7 L1243.5 2080.8 L1248.9 2085.2 L1258.5 2081.3 L1267.9 2083.1 L1274.6 2080.5 L1281.2 2083.5 L1289.3 2080.7 L1296.6 2084.6 L1305.8 2081.8 L1315.3 2084.3 L1324.2 2081.7 L1335.5 2084 L1342.5 2080.4 L1350.5 2085 L1356.5 2081.5 L1366.8 2084 L1377.2 2079.8 L1384 2085.5 L1391.6 2081.2 L1399.1 2085 L1405.6 2081.4 L1414.4 2083.2 L1419.9 2081.1 L1428.7 2084.2 L1435.7 2080.7 L1445.6 2086 L1450.9 2081.2 L1461.6 2085.2 L1473.5 2079.1 L1485.4 2084.2 L1495 2080.6 L1500.7 2083.8 L1510.2 2079.9 L1515.8 2087.6 L1523.2 2081.5 L1530 2083.4 L1538.5 2081.6 L1544.7 2083.4 L1553.6 2080.6 L1558.9 2086.1 L1564.9 2080.6 L1572 2085.1 L1581.8 2079.8 L1591.4 2084.1 L1599.2 2081.4 L1608.1 2084.5 L1615.4 2078.6 L1625.7 2085.3 L1631.6 2080.7 L1638.8 2084.9 L1648.8 2078.7 L1656 2084 L1663.6 2080.3 L1671.8 2086.5 L1680.4 2078.7 L1690.3 2084.8 L1699.1 2080.4 L1709.7 2084.2 L1721.5 2081.7 L1730.4 2084.6 L1736 2079.5 L1745.7 2084.6 L1757.2 2081.5 L1767.7 2083.5 L1773.8 2080.4 L1781.6 2084.7 L1792 2079.4 L1800.4 2086.3 L1810.2 2080.1 L1818.9 2088.6 L1828.9 2080.3 L1836.3 2085.2 L1841 2085.2 L1841 2106.2 L1836.3 2106.2 L1828.9 2101.3 L1818.9 2109.6 L1810.2 2101.1 L1800.4 2107.3 L1792 2100.4 L1781.6 2105.7 L1773.8 2101.4 L1767.7 2104.5 L1757.2 2102.5 L1745.7 2105.6 L1736 2100.5 L1730.4 2105.6 L1721.5 2102.7 L1709.7 2105.2 L1699.1 2101.4 L1690.3 2105.8 L1680.4 2099.7 L1671.8 2107.5 L1663.6 2101.3 L1656 2105 L1648.8 2099.7 L1638.8 2105.9 L1631.6 2101.7 L1625.7 2106.3 L1615.4 2099.6 L1608.1 2105.5 L1599.2 2102.4 L1591.4 2105.1 L1581.8 2100.8 L1572 2106.1 L1564.9 2101.6 L1558.9 2107.1 L1553.6 2101.6 L1544.7 2104.4 L1538.5 2102.6 L1530 2104.4 L1523.2 2102.5 L1515.8 2108.6 L1510.2 2100.9 L1500.7 2104.8 L1495 2101.6 L1485.4 2105.2 L1473.5 2100.1 L1461.6 2106.2 L1450.9 2102.2 L1445.6 2107 L1435.7 2101.7 L1428.7 2105.2 L1419.9 2102.1 L1414.4 2104.2 L1405.6 2102.4 L1399.1 2106 L1391.6 2102.2 L1384 2106.5 L1377.2 2100.8 L1366.8 2105 L1356.5 2102.5 L1350.5 2106 L1342.5 2101.4 L1335.5 2105 L1324.2 2102.7 L1315.3 2105.3 L1305.8 2102.8 L1296.6 2105.6 L1289.3 2101.7 L1281.2 2104.5 L1274.6 2101.5 L1267.9 2104.1 L1258.5 2102.3 L1248.9 2106.2 L1243.5 2101.8 L1231.6 2105.7 L1220.5 2102.1 L1212.2 2104.6 L1205.5 2102.8 L1198.3 2106.4 L1187.2 2101.9 L1178 2106.2 L1172.9 2101.8 L1164.9 2105.9 L1156.9 2102.4 L1147.9 2106.1 L1138.3 2100.9 L1129.7 2106.8 L1119.6 2102.2 L1107.8 2105.6 L1101.6 2100.6 L1095.2 2107.2 L1085 2100.8 L1073.6 2104.9 L1066.4 2100.7 L1054.5 2107.6 L1045.5 2101.8 L1038.6 2104.7 L1028 2101.3 L1019.6 2107.8 L1008.7 2100.5 L1003.3 2107.9 L995.4 2101.5 L984.1 2106.2 L972.1 2100.8 L960.7 2107.4 L951.5 2102.5 L942.3 2104.7 L930.6 2101.1 L920.8 2106 L915.7 2100 L907.3 2107.3 L902 2100.5 L894.8 2104.6 L883.1 2100.6 L872.7 2107 L863.9 2099.8 L856.5 2105.4 L844.9 2102 L839.1 2104.7 L828.5 2102.1 L822.7 2108.7 L816.4 2100.6 L810 2105.4 L799.2 2100.7 L793.9 2104.5 L784.7 2102 L776.3 2106.4 L768.9 2101.6 L761.8 2104.7 L755.6 2102.6 L749.1 2104.1 L741.9 2099.3 L733.9 2104.8 L728.8 2102.4 L719.9 2104.6 L708.3 2101.9 L701.5 2105.6 L695.7 2101.7 L685.6 2104.9 L678.4 2101.4 L669.7 2106.1 L661.6 2101 L654.8 2104.8 L644.4 2100.4 L635.5 2105.3 L625.1 2102.6 L614 2105.6 L602.1 2100.1 L594.6 2106.6 L588 2100.1 L576.9 2109.1 L570.3 2100.7 L561.6 2104.9 L552.7 2100.9 L542 2105.6 L531.3 2102.1 L523.2 2106.4 L518 2101.3 L508.4 2106.1 L497.6 2100.7 L488 2107.2 L479.2 2102 L468 2104.7 L462.6 2099.8 L454.5 2105 L446.5 2099.8 L440.3 2105.6 L428.4 2101.1 L422.9 2106.3 L411.3 2101.4 L403.7 2104.6 L393.6 2101.5 L385.3 2106.6 L377.7 2102.7 L365.7 2105.8 L354.3 2101.7 L342.8 2105.4 L334.7 2101.9 L325.1 2106.2 L319.2 2100 L311.5 2105.8 L305.4 2102.3 L298.6 2106.2 L290.5 2101.6 L282.1 2105 L274.8 2102.1 L267.8 2105.9 L259.1 2101.2 L252.4 2105.8 L244.5 2102.6 L238.9 2105.2 L233.4 2102.6 L227.7 2104.6 L217.2 2102.6 L206.9 2104.9 L197 2101.8 L191.1 2104.3 L182.1 2102 L174.9 2104.4 L163 2101.9Z" fill="#b82468"/>
<path d="M163 2084.9 L174.9 2087.4 L182.1 2085 L191.1 2087.3 L197 2084.8 L206.9 2087.9 L217.2 2085.6 L227.7 2087.6 L233.4 2085.6 L238.9 2088.2 L244.5 2085.6 L252.4 2088.8 L259.1 2084.2 L267.8 2088.9 L274.8 2085.1 L282.1 2088 L290.5 2084.6 L298.6 2089.2 L305.4 2085.3 L311.5 2088.8 L319.2 2083 L325.1 2089.2 L334.7 2084.9 L342.8 2088.4 L354.3 2084.7 L365.7 2088.8 L377.7 2085.7 L385.3 2089.6 L393.6 2084.5 L403.7 2087.6 L411.3 2084.4 L422.9 2089.3 L428.4 2084.1 L440.3 2088.6 L446.5 2082.8 L454.5 2088 L462.6 2082.8 L468 2087.7 L479.2 2085 L488 2090.2 L497.6 2083.7 L508.4 2089.1 L518 2084.3 L523.2 2089.4 L531.3 2085.1 L542 2088.6 L552.7 2083.9 L561.6 2087.9 L570.3 2083.7 L576.9 2092.1 L588 2083.1 L594.6 2089.6 L602.1 2083.1 L614 2088.6 L625.1 2085.6 L635.5 2088.3 L644.4 2083.4 L654.8 2087.8 L661.6 2084 L669.7 2089.1 L678.4 2084.4 L685.6 2087.9 L695.7 2084.7 L701.5 2088.6 L708.3 2084.9 L719.9 2087.6 L728.8 2085.4 L733.9 2087.8 L741.9 2082.3 L749.1 2087.1 L755.6 2085.6 L761.8 2087.7 L768.9 2084.6 L776.3 2089.4 L784.7 2085 L793.9 2087.5 L799.2 2083.7 L810 2088.4 L816.4 2083.6 L822.7 2091.7 L828.5 2085.1 L839.1 2087.7 L844.9 2085 L856.5 2088.4 L863.9 2082.8 L872.7 2090 L883.1 2083.6 L894.8 2087.6 L902 2083.5 L907.3 2090.3 L915.7 2083 L920.8 2089 L930.6 2084.1 L942.3 2087.7 L951.5 2085.5 L960.7 2090.4 L972.1 2083.8 L984.1 2089.2 L995.4 2084.5 L1003.3 2090.9 L1008.7 2083.5 L1019.6 2090.8 L1028 2084.3 L1038.6 2087.7 L1045.5 2084.8 L1054.5 2090.6 L1066.4 2083.7 L1073.6 2087.9 L1085 2083.8 L1095.2 2090.2 L1101.6 2083.6 L1107.8 2088.6 L1119.6 2085.2 L1129.7 2089.8 L1138.3 2083.9 L1147.9 2089.1 L1156.9 2085.4 L1164.9 2088.9 L1172.9 2084.8 L1178 2089.2 L1187.2 2084.9 L1198.3 2089.4 L1205.5 2085.8 L1212.2 2087.6 L1220.5 2085.1 L1231.6 2088.7 L1243.5 2084.8 L1248.9 2089.2 L1258.5 2085.3 L1267.9 2087.1 L1274.6 2084.5 L1281.2 2087.5 L1289.3 2084.7 L1296.6 2088.6 L1305.8 2085.8 L1315.3 2088.3 L1324.2 2085.7 L1335.5 2088 L1342.5 2084.4 L1350.5 2089 L1356.5 2085.5 L1366.8 2088 L1377.2 2083.8 L1384 2089.5 L1391.6 2085.2 L1399.1 2089 L1405.6 2085.4 L1414.4 2087.2 L1419.9 2085.1 L1428.7 2088.2 L1435.7 2084.7 L1445.6 2090 L1450.9 2085.2 L1461.6 2089.2 L1473.5 2083.1 L1485.4 2088.2 L1495 2084.6 L1500.7 2087.8 L1510.2 2083.9 L1515.8 2091.6 L1523.2 2085.5 L1530 2087.4 L1538.5 2085.6 L1544.7 2087.4 L1553.6 2084.6 L1558.9 2090.1 L1564.9 2084.6 L1572 2089.1 L1581.8 2083.8 L1591.4 2088.1 L1599.2 2085.4 L1608.1 2088.5 L1615.4 2082.6 L1625.7 2089.3 L1631.6 2084.7 L1638.8 2088.9 L1648.8 2082.7 L1656 2088 L1663.6 2084.3 L1671.8 2090.5 L1680.4 2082.7 L1690.3 2088.8 L1699.1 2084.4 L1709.7 2088.2 L1721.5 2085.7 L1730.4 2088.6 L1736 2083.5 L1745.7 2088.6 L1757.2 2085.5 L1767.7 2087.5 L1773.8 2084.4 L1781.6 2088.7 L1792 2083.4 L1800.4 2090.3 L1810.2 2084.1 L1818.9 2092.6 L1828.9 2084.3 L1836.3 2089.2 L1841 2089.2 L1841 2102.2 L1836.3 2102.2 L1828.9 2097.3 L1818.9 2105.6 L1810.2 2097.1 L1800.4 2103.3 L1792 2096.4 L1781.6 2101.7 L1773.8 2097.4 L1767.7 2100.5 L1757.2 2098.5 L1745.7 2101.6 L1736 2096.5 L1730.4 2101.6 L1721.5 2098.7 L1709.7 2101.2 L1699.1 2097.4 L1690.3 2101.8 L1680.4 2095.7 L1671.8 2103.5 L1663.6 2097.3 L1656 2101 L1648.8 2095.7 L1638.8 2101.9 L1631.6 2097.7 L1625.7 2102.3 L1615.4 2095.6 L1608.1 2101.5 L1599.2 2098.4 L1591.4 2101.1 L1581.8 2096.8 L1572 2102.1 L1564.9 2097.6 L1558.9 2103.1 L1553.6 2097.6 L1544.7 2100.4 L1538.5 2098.6 L1530 2100.4 L1523.2 2098.5 L1515.8 2104.6 L1510.2 2096.9 L1500.7 2100.8 L1495 2097.6 L1485.4 2101.2 L1473.5 2096.1 L1461.6 2102.2 L1450.9 2098.2 L1445.6 2103 L1435.7 2097.7 L1428.7 2101.2 L1419.9 2098.1 L1414.4 2100.2 L1405.6 2098.4 L1399.1 2102 L1391.6 2098.2 L1384 2102.5 L1377.2 2096.8 L1366.8 2101 L1356.5 2098.5 L1350.5 2102 L1342.5 2097.4 L1335.5 2101 L1324.2 2098.7 L1315.3 2101.3 L1305.8 2098.8 L1296.6 2101.6 L1289.3 2097.7 L1281.2 2100.5 L1274.6 2097.5 L1267.9 2100.1 L1258.5 2098.3 L1248.9 2102.2 L1243.5 2097.8 L1231.6 2101.7 L1220.5 2098.1 L1212.2 2100.6 L1205.5 2098.8 L1198.3 2102.4 L1187.2 2097.9 L1178 2102.2 L1172.9 2097.8 L1164.9 2101.9 L1156.9 2098.4 L1147.9 2102.1 L1138.3 2096.9 L1129.7 2102.8 L1119.6 2098.2 L1107.8 2101.6 L1101.6 2096.6 L1095.2 2103.2 L1085 2096.8 L1073.6 2100.9 L1066.4 2096.7 L1054.5 2103.6 L1045.5 2097.8 L1038.6 2100.7 L1028 2097.3 L1019.6 2103.8 L1008.7 2096.5 L1003.3 2103.9 L995.4 2097.5 L984.1 2102.2 L972.1 2096.8 L960.7 2103.4 L951.5 2098.5 L942.3 2100.7 L930.6 2097.1 L920.8 2102 L915.7 2096 L907.3 2103.3 L902 2096.5 L894.8 2100.6 L883.1 2096.6 L872.7 2103 L863.9 2095.8 L856.5 2101.4 L844.9 2098 L839.1 2100.7 L828.5 2098.1 L822.7 2104.7 L816.4 2096.6 L810 2101.4 L799.2 2096.7 L793.9 2100.5 L784.7 2098 L776.3 2102.4 L768.9 2097.6 L761.8 2100.7 L755.6 2098.6 L749.1 2100.1 L741.9 2095.3 L733.9 2100.8 L728.8 2098.4 L719.9 2100.6 L708.3 2097.9 L701.5 2101.6 L695.7 2097.7 L685.6 2100.9 L678.4 2097.4 L669.7 2102.1 L661.6 2097 L654.8 2100.8 L644.4 2096.4 L635.5 2101.3 L625.1 2098.6 L614 2101.6 L602.1 2096.1 L594.6 2102.6 L588 2096.1 L576.9 2105.1 L570.3 2096.7 L561.6 2100.9 L552.7 2096.9 L542 2101.6 L531.3 2098.1 L523.2 2102.4 L518 2097.3 L508.4 2102.1 L497.6 2096.7 L488 2103.2 L479.2 2098 L468 2100.7 L462.6 2095.8 L454.5 2101 L446.5 2095.8 L440.3 2101.6 L428.4 2097.1 L422.9 2102.3 L411.3 2097.4 L403.7 2100.6 L393.6 2097.5 L385.3 2102.6 L377.7 2098.7 L365.7 2101.8 L354.3 2097.7 L342.8 2101.4 L334.7 2097.9 L325.1 2102.2 L319.2 2096 L311.5 2101.8 L305.4 2098.3 L298.6 2102.2 L290.5 2097.6 L282.1 2101 L274.8 2098.1 L267.8 2101.9 L259.1 2097.2 L252.4 2101.8 L244.5 2098.6 L238.9 2101.2 L233.4 2098.6 L227.7 2100.6 L217.2 2098.6 L206.9 2100.9 L197 2097.8 L191.1 2100.3 L182.1 2098 L174.9 2100.4 L163 2097.9Z" fill="#ea2a86"/>
<path d="M962 2090 L970 2070 L975 2050 L979 2034 L983 2050 L988 2070 L996 2090Z" fill="#e0287e"/>
<path d="M962 2076 L969 2060 L974 2042 L979 2028 L984 2042 L989 2060 L996 2076" stroke="#3c1a2a" stroke-width="4" fill="none" stroke-linejoin="round"/>
<path d="M965 2082 L971 2066 L976 2048 L979 2036 L982 2048 L987 2066 L993 2082" stroke="#a0245a" stroke-width="4" fill="none" stroke-linejoin="round"/>
<path d="M165.9 1889v-30.4 M179.5 1889v-34.8 M201.6 1889v-25.4 M218.9 1889v33.3 M228.7 1889v31 M245.9 1889v30.5 M258 1889v-30.9 M272.3 1889v33.1 M290 1889v-31.1 M305.5 1889v-28.9 M320.5 1889v21.7 M344.9 1889v-30.3 M368.5 1889v25.1 M388.5 1889v29.6 M402.1 1889v32.8 M424 1889v-32.9 M439.9 1889v-26.2 M463.8 1889v-30.7 M482.1 1889v-33.5 M497.2 1889v30.8 M514.6 1889v-24.8 M535 1889v25.9 M559.4 1889v-34.7 M577.1 1889v-22.6 M587.4 1889v28.2 M609.3 1889v-26.2 M634.2 1889v21.9 M657.7 1889v22.1 M677.7 1889v-26.6 M697 1889v28.5 M721.3 1889v-25.7 M743.5 1889v30.2 M753.8 1889v22.2 M768.9 1889v27.8 M781.3 1889v-30 M799.8 1889v-31.5 M821.7 1889v34.7 M844.2 1889v34.4 M862.5 1889v32.7 M882.2 1889v-30.5 M896.9 1889v25.7 M919.2 1889v25.2 M929.2 1889v-22 M939.5 1889v-34.4 M955.1 1889v33.1" stroke="#1e2458" stroke-width="3" fill="none"/>
<path d="M163 1868.6 L172.4 1883.9 L180.4 1869.7 L189.3 1881.6 L199.8 1858.9 L208.2 1880.6 L222 1868.8 L233.5 1880.5 L240.7 1866.3 L248.2 1881.7 L257.2 1866 L270.5 1879.2 L284.3 1870.3 L291.8 1880.8 L304.4 1869.9 L317.1 1882.1 L325.9 1869 L334 1886.3 L342.1 1865.7 L350.9 1887.8 L362.2 1861.9 L369.6 1887.1 L377.5 1865.2 L387.8 1880.4 L397 1862.6 L410.9 1879.6 L419.7 1864.1 L430.2 1886.2 L437.9 1867 L446.2 1880.5 L457.5 1870.1 L471 1879.7 L478.3 1870.1 L492.1 1881.1 L502.7 1866.2 L512.9 1881.4 L520.7 1866.1 L532.2 1887.2 L540 1863 L554 1884.7 L561.9 1864 L569 1879.6 L577.8 1861.2 L591.1 1885.2 L602.4 1863 L610.2 1882.2 L617.9 1866.4 L627.4 1890.2 L638.4 1860.4 L649.4 1888.9 L660.5 1867 L667.6 1883.2 L680.4 1866.9 L689.2 1881.8 L701.5 1868.1 L714.4 1882.6 L721.9 1863.6 L733.6 1879.8 L741.7 1868.9 L752.8 1878.7 L760.1 1866.7 L770.9 1884.5 L779.9 1867.4 L786.9 1880.9 L797.5 1867.3 L805.1 1878.5 L816.7 1862.8 L829.5 1887.2 L842.9 1867 L856.3 1884.2 L863.9 1867.6 L871.9 1884.1 L879.4 1867.4 L892.5 1878.2 L901.8 1870.8 L913.4 1880.2 L921 1868.3 L931.4 1877 L945.3 1869.3 L954.6 1880.9 L963.5 1868.9 L969 1868.9 L969 1897.9 L963.5 1897.9 L954.6 1909.9 L945.3 1898.3 L931.4 1906 L921 1897.3 L913.4 1909.2 L901.8 1899.8 L892.5 1907.2 L879.4 1896.4 L871.9 1913.1 L863.9 1896.6 L856.3 1913.2 L842.9 1896 L829.5 1916.2 L816.7 1891.8 L805.1 1907.5 L797.5 1896.3 L786.9 1909.9 L779.9 1896.4 L770.9 1913.5 L760.1 1895.7 L752.8 1907.7 L741.7 1897.9 L733.6 1908.8 L721.9 1892.6 L714.4 1911.6 L701.5 1897.1 L689.2 1910.8 L680.4 1895.9 L667.6 1912.2 L660.5 1896 L649.4 1917.9 L638.4 1889.4 L627.4 1919.2 L617.9 1895.4 L610.2 1911.2 L602.4 1892 L591.1 1914.2 L577.8 1890.2 L569 1908.6 L561.9 1893 L554 1913.7 L540 1892 L532.2 1916.2 L520.7 1895.1 L512.9 1910.4 L502.7 1895.2 L492.1 1910.1 L478.3 1899.1 L471 1908.7 L457.5 1899.1 L446.2 1909.5 L437.9 1896 L430.2 1915.2 L419.7 1893.1 L410.9 1908.6 L397 1891.6 L387.8 1909.4 L377.5 1894.2 L369.6 1916.1 L362.2 1890.9 L350.9 1916.8 L342.1 1894.7 L334 1915.3 L325.9 1898 L317.1 1911.1 L304.4 1898.9 L291.8 1909.8 L284.3 1899.3 L270.5 1908.2 L257.2 1895 L248.2 1910.7 L240.7 1895.3 L233.5 1909.5 L222 1897.8 L208.2 1909.6 L199.8 1887.9 L189.3 1910.6 L180.4 1898.7 L172.4 1912.9 L163 1897.6Z" fill="#20285a"/>
<path d="M163 1871.1 L172.4 1886.4 L180.4 1872.2 L189.3 1884.1 L199.8 1861.4 L208.2 1883.1 L222 1871.3 L233.5 1883 L240.7 1868.8 L248.2 1884.2 L257.2 1868.5 L270.5 1881.7 L284.3 1872.8 L291.8 1883.3 L304.4 1872.4 L317.1 1884.6 L325.9 1871.5 L334 1888.8 L342.1 1868.2 L350.9 1890.3 L362.2 1864.4 L369.6 1889.6 L377.5 1867.7 L387.8 1882.9 L397 1865.1 L410.9 1882.1 L419.7 1866.6 L430.2 1888.7 L437.9 1869.5 L446.2 1883 L457.5 1872.6 L471 1882.2 L478.3 1872.6 L492.1 1883.6 L502.7 1868.7 L512.9 1883.9 L520.7 1868.6 L532.2 1889.7 L540 1865.5 L554 1887.2 L561.9 1866.5 L569 1882.1 L577.8 1863.7 L591.1 1887.7 L602.4 1865.5 L610.2 1884.7 L617.9 1868.9 L627.4 1892.7 L638.4 1862.9 L649.4 1891.4 L660.5 1869.5 L667.6 1885.7 L680.4 1869.4 L689.2 1884.3 L701.5 1870.6 L714.4 1885.1 L721.9 1866.1 L733.6 1882.3 L741.7 1871.4 L752.8 1881.2 L760.1 1869.2 L770.9 1887 L779.9 1869.9 L786.9 1883.4 L797.5 1869.8 L805.1 1881 L816.7 1865.3 L829.5 1889.7 L842.9 1869.5 L856.3 1886.7 L863.9 1870.1 L871.9 1886.6 L879.4 1869.9 L892.5 1880.7 L901.8 1873.3 L913.4 1882.7 L921 1870.8 L931.4 1879.5 L945.3 1871.8 L954.6 1883.4 L963.5 1871.4 L969 1871.4 L969 1895.4 L963.5 1895.4 L954.6 1907.4 L945.3 1895.8 L931.4 1903.5 L921 1894.8 L913.4 1906.7 L901.8 1897.3 L892.5 1904.7 L879.4 1893.9 L871.9 1910.6 L863.9 1894.1 L856.3 1910.7 L842.9 1893.5 L829.5 1913.7 L816.7 1889.3 L805.1 1905 L797.5 1893.8 L786.9 1907.4 L779.9 1893.9 L770.9 1911 L760.1 1893.2 L752.8 1905.2 L741.7 1895.4 L733.6 1906.3 L721.9 1890.1 L714.4 1909.1 L701.5 1894.6 L689.2 1908.3 L680.4 1893.4 L667.6 1909.7 L660.5 1893.5 L649.4 1915.4 L638.4 1886.9 L627.4 1916.7 L617.9 1892.9 L610.2 1908.7 L602.4 1889.5 L591.1 1911.7 L577.8 1887.7 L569 1906.1 L561.9 1890.5 L554 1911.2 L540 1889.5 L532.2 1913.7 L520.7 1892.6 L512.9 1907.9 L502.7 1892.7 L492.1 1907.6 L478.3 1896.6 L471 1906.2 L457.5 1896.6 L446.2 1907 L437.9 1893.5 L430.2 1912.7 L419.7 1890.6 L410.9 1906.1 L397 1889.1 L387.8 1906.9 L377.5 1891.7 L369.6 1913.6 L362.2 1888.4 L350.9 1914.3 L342.1 1892.2 L334 1912.8 L325.9 1895.5 L317.1 1908.6 L304.4 1896.4 L291.8 1907.3 L284.3 1896.8 L270.5 1905.7 L257.2 1892.5 L248.2 1908.2 L240.7 1892.8 L233.5 1907 L222 1895.3 L208.2 1907.1 L199.8 1885.4 L189.3 1908.1 L180.4 1896.2 L172.4 1910.4 L163 1895.1Z" fill="#3646a0"/>
<path d="M163 1873.6 L172.4 1888.9 L180.4 1874.7 L189.3 1886.6 L199.8 1863.9 L208.2 1885.6 L222 1873.8 L233.5 1885.5 L240.7 1871.3 L248.2 1886.7 L257.2 1871 L270.5 1884.2 L284.3 1875.3 L291.8 1885.8 L304.4 1874.9 L317.1 1887.1 L325.9 1874 L334 1891.3 L342.1 1870.7 L350.9 1892.8 L362.2 1866.9 L369.6 1892.1 L377.5 1870.2 L387.8 1885.4 L397 1867.6 L410.9 1884.6 L419.7 1869.1 L430.2 1891.2 L437.9 1872 L446.2 1885.5 L457.5 1875.1 L471 1884.7 L478.3 1875.1 L492.1 1886.1 L502.7 1871.2 L512.9 1886.4 L520.7 1871.1 L532.2 1892.2 L540 1868 L554 1889.7 L561.9 1869 L569 1884.6 L577.8 1866.2 L591.1 1890.2 L602.4 1868 L610.2 1887.2 L617.9 1871.4 L627.4 1895.2 L638.4 1865.4 L649.4 1893.9 L660.5 1872 L667.6 1888.2 L680.4 1871.9 L689.2 1886.8 L701.5 1873.1 L714.4 1887.6 L721.9 1868.6 L733.6 1884.8 L741.7 1873.9 L752.8 1883.7 L760.1 1871.7 L770.9 1889.5 L779.9 1872.4 L786.9 1885.9 L797.5 1872.3 L805.1 1883.5 L816.7 1867.8 L829.5 1892.2 L842.9 1872 L856.3 1889.2 L863.9 1872.6 L871.9 1889.1 L879.4 1872.4 L892.5 1883.2 L901.8 1875.8 L913.4 1885.2 L921 1873.3 L931.4 1882 L945.3 1874.3 L954.6 1885.9 L963.5 1873.9 L969 1873.9 L969 1892.9 L963.5 1892.9 L954.6 1904.9 L945.3 1893.3 L931.4 1901 L921 1892.3 L913.4 1904.2 L901.8 1894.8 L892.5 1902.2 L879.4 1891.4 L871.9 1908.1 L863.9 1891.6 L856.3 1908.2 L842.9 1891 L829.5 1911.2 L816.7 1886.8 L805.1 1902.5 L797.5 1891.3 L786.9 1904.9 L779.9 1891.4 L770.9 1908.5 L760.1 1890.7 L752.8 1902.7 L741.7 1892.9 L733.6 1903.8 L721.9 1887.6 L714.4 1906.6 L701.5 1892.1 L689.2 1905.8 L680.4 1890.9 L667.6 1907.2 L660.5 1891 L649.4 1912.9 L638.4 1884.4 L627.4 1914.2 L617.9 1890.4 L610.2 1906.2 L602.4 1887 L591.1 1909.2 L577.8 1885.2 L569 1903.6 L561.9 1888 L554 1908.7 L540 1887 L532.2 1911.2 L520.7 1890.1 L512.9 1905.4 L502.7 1890.2 L492.1 1905.1 L478.3 1894.1 L471 1903.7 L457.5 1894.1 L446.2 1904.5 L437.9 1891 L430.2 1910.2 L419.7 1888.1 L410.9 1903.6 L397 1886.6 L387.8 1904.4 L377.5 1889.2 L369.6 1911.1 L362.2 1885.9 L350.9 1911.8 L342.1 1889.7 L334 1910.3 L325.9 1893 L317.1 1906.1 L304.4 1893.9 L291.8 1904.8 L284.3 1894.3 L270.5 1903.2 L257.2 1890 L248.2 1905.7 L240.7 1890.3 L233.5 1904.5 L222 1892.8 L208.2 1904.6 L199.8 1882.9 L189.3 1905.6 L180.4 1893.7 L172.4 1907.9 L163 1892.6Z" fill="#5064c4"/>
<path d="M163 1879.6 L172.4 1894.9 L180.4 1880.7 L189.3 1892.6 L199.8 1869.9 L208.2 1891.6 L222 1879.8 L233.5 1891.5 L240.7 1877.3 L248.2 1892.7 L257.2 1877 L270.5 1890.2 L284.3 1881.3 L291.8 1891.8 L304.4 1880.9 L317.1 1893.1 L325.9 1880 L334 1897.3 L342.1 1876.7 L350.9 1898.8 L362.2 1872.9 L369.6 1898.1 L377.5 1876.2 L387.8 1891.4 L397 1873.6 L410.9 1890.6 L419.7 1875.1 L430.2 1897.2 L437.9 1878 L446.2 1891.5 L457.5 1881.1 L471 1890.7 L478.3 1881.1 L492.1 1892.1 L502.7 1877.2 L512.9 1892.4 L520.7 1877.1 L532.2 1898.2 L540 1874 L554 1895.7 L561.9 1875 L569 1890.6 L577.8 1872.2 L591.1 1896.2 L602.4 1874 L610.2 1893.2 L617.9 1877.4 L627.4 1901.2 L638.4 1871.4 L649.4 1899.9 L660.5 1878 L667.6 1894.2 L680.4 1877.9 L689.2 1892.8 L701.5 1879.1 L714.4 1893.6 L721.9 1874.6 L733.6 1890.8 L741.7 1879.9 L752.8 1889.7 L760.1 1877.7 L770.9 1895.5 L779.9 1878.4 L786.9 1891.9 L797.5 1878.3 L805.1 1889.5 L816.7 1873.8 L829.5 1898.2 L842.9 1878 L856.3 1895.2 L863.9 1878.6 L871.9 1895.1 L879.4 1878.4 L892.5 1889.2 L901.8 1881.8 L913.4 1891.2 L921 1879.3 L931.4 1888 L945.3 1880.3 L954.6 1891.9 L963.5 1879.9 L969 1879.9 L969 1886.9 L963.5 1886.9 L954.6 1898.9 L945.3 1887.3 L931.4 1895 L921 1886.3 L913.4 1898.2 L901.8 1888.8 L892.5 1896.2 L879.4 1885.4 L871.9 1902.1 L863.9 1885.6 L856.3 1902.2 L842.9 1885 L829.5 1905.2 L816.7 1880.8 L805.1 1896.5 L797.5 1885.3 L786.9 1898.9 L779.9 1885.4 L770.9 1902.5 L760.1 1884.7 L752.8 1896.7 L741.7 1886.9 L733.6 1897.8 L721.9 1881.6 L714.4 1900.6 L701.5 1886.1 L689.2 1899.8 L680.4 1884.9 L667.6 1901.2 L660.5 1885 L649.4 1906.9 L638.4 1878.4 L627.4 1908.2 L617.9 1884.4 L610.2 1900.2 L602.4 1881 L591.1 1903.2 L577.8 1879.2 L569 1897.6 L561.9 1882 L554 1902.7 L540 1881 L532.2 1905.2 L520.7 1884.1 L512.9 1899.4 L502.7 1884.2 L492.1 1899.1 L478.3 1888.1 L471 1897.7 L457.5 1888.1 L446.2 1898.5 L437.9 1885 L430.2 1904.2 L419.7 1882.1 L410.9 1897.6 L397 1880.6 L387.8 1898.4 L377.5 1883.2 L369.6 1905.1 L362.2 1879.9 L350.9 1905.8 L342.1 1883.7 L334 1904.3 L325.9 1887 L317.1 1900.1 L304.4 1887.9 L291.8 1898.8 L284.3 1888.3 L270.5 1897.2 L257.2 1884 L248.2 1899.7 L240.7 1884.3 L233.5 1898.5 L222 1886.8 L208.2 1898.6 L199.8 1876.9 L189.3 1899.6 L180.4 1887.7 L172.4 1901.9 L163 1886.6Z" fill="#6476d2"/>
<path d="M966 1884 L971 1830 L975 1740 L978 1690 L980 1663 L983 1690 L986 1750 L988 1786 L994 1792 L999 1800 L1003 1822 L1008 1846 L1016 1862 L1030 1878 L1040 1890 L1000 1890 L985 1880 Z" fill="#4c5ec0" stroke="#20285a" stroke-width="3" stroke-linejoin="round"/>
<path d="M976 1850 L978 1760 L980 1700 L982 1760 L985 1850" stroke="#6a7cd6" stroke-width="2" fill="none"/>
<path d="M1033.5 1900v-21.5 M1055.3 1900v19.7 M1073.6 1900v-29.5 M1090.7 1900v26.2 M1100.9 1900v-26.6 M1119.9 1900v-23.1 M1132.9 1900v-32 M1156.8 1900v-29.8 M1175.2 1900v19.6 M1195 1900v21.1 M1212.4 1900v-28.9 M1236.9 1900v-28.2 M1259.8 1900v-31.9 M1280.9 1900v31.5 M1291.1 1900v-31.2 M1313.7 1900v-29.1 M1338 1900v30.7 M1363.3 1900v27.5 M1383.7 1900v-25.1 M1401.4 1900v-22.5 M1424.7 1900v31.3 M1445.4 1900v26.6 M1465.7 1900v-19.6 M1491.2 1900v-22.4 M1501.6 1900v23.1 M1511.1 1900v30.7 M1534.9 1900v23.1 M1550.2 1900v25.8 M1568.4 1900v-29 M1577.5 1900v-23.2 M1600.5 1900v23 M1621.1 1900v22.2 M1635.5 1900v-26.9 M1658.6 1900v30.5 M1679.4 1900v-24.3 M1693.9 1900v29.9 M1705.2 1900v-22.9 M1714.4 1900v-20.1 M1725.7 1900v-31.9 M1747.4 1900v-30.6 M1765.7 1900v33.4 M1781.2 1900v-33.2 M1806.5 1900v-23.8 M1820.8 1900v28.6" stroke="#1e2458" stroke-width="3" fill="none"/>
<path d="M1030 1880.4 L1040 1890.7 L1051.7 1879.3 L1061.9 1893.2 L1071.9 1880.9 L1080.2 1891.1 L1093.6 1879.7 L1101.6 1894.2 L1114.2 1877.5 L1125.8 1891.5 L1139.5 1880.4 L1151.9 1892.8 L1162.5 1881.7 L1174.3 1890.2 L1187.4 1879.5 L1195.3 1891.3 L1206.6 1881.7 L1217.5 1889 L1228.5 1878.7 L1237.4 1892.5 L1248.3 1880.7 L1259 1893 L1268.1 1878.2 L1275.3 1888.9 L1283.1 1880 L1294 1890.6 L1307.2 1879.6 L1315.5 1893.2 L1326.8 1879.9 L1338.9 1889.6 L1346.1 1881.1 L1360 1894 L1373.7 1877.5 L1386.5 1893.3 L1394.1 1876.9 L1402.3 1894.8 L1415.9 1879.2 L1429.2 1895.3 L1438 1875.5 L1447.4 1894.6 L1460 1879.2 L1471.6 1891.8 L1478.7 1880 L1486.3 1892.9 L1498.6 1879.8 L1509.4 1892 L1519.7 1880.9 L1531.5 1893.3 L1541 1881.9 L1554.2 1894.3 L1566.8 1878.6 L1576.2 1892.5 L1585.3 1876.5 L1593.8 1891.8 L1605.5 1875.9 L1614.5 1891.5 L1621.9 1881.5 L1632.6 1888.5 L1640.8 1881.1 L1649.4 1891.5 L1660.9 1882.1 L1673.2 1891.8 L1681.4 1881.5 L1688.9 1890.9 L1702 1878.8 L1710.9 1893 L1721.6 1877.1 L1729.8 1891.7 L1739.3 1867.2 L1747.7 1889.9 L1760 1881.9 L1767.6 1891.4 L1778.1 1878 L1791.5 1891 L1799.7 1882.3 L1811 1888.9 L1823.8 1882.9 L1835.2 1888.8 L1841 1888.8 L1841 1917.8 L1835.2 1917.8 L1823.8 1911.9 L1811 1917.9 L1799.7 1911.3 L1791.5 1920 L1778.1 1907 L1767.6 1920.4 L1760 1910.9 L1747.7 1918.9 L1739.3 1896.2 L1729.8 1920.7 L1721.6 1906.1 L1710.9 1922 L1702 1907.8 L1688.9 1919.9 L1681.4 1910.5 L1673.2 1920.8 L1660.9 1911.1 L1649.4 1920.5 L1640.8 1910.1 L1632.6 1917.5 L1621.9 1910.5 L1614.5 1920.5 L1605.5 1904.9 L1593.8 1920.8 L1585.3 1905.5 L1576.2 1921.5 L1566.8 1907.6 L1554.2 1923.3 L1541 1910.9 L1531.5 1922.3 L1519.7 1909.9 L1509.4 1921 L1498.6 1908.8 L1486.3 1921.9 L1478.7 1909 L1471.6 1920.8 L1460 1908.2 L1447.4 1923.6 L1438 1904.5 L1429.2 1924.3 L1415.9 1908.2 L1402.3 1923.8 L1394.1 1905.9 L1386.5 1922.3 L1373.7 1906.5 L1360 1923 L1346.1 1910.1 L1338.9 1918.6 L1326.8 1908.9 L1315.5 1922.2 L1307.2 1908.6 L1294 1919.6 L1283.1 1909 L1275.3 1917.9 L1268.1 1907.2 L1259 1922 L1248.3 1909.7 L1237.4 1921.5 L1228.5 1907.7 L1217.5 1918 L1206.6 1910.7 L1195.3 1920.3 L1187.4 1908.5 L1174.3 1919.2 L1162.5 1910.7 L1151.9 1921.8 L1139.5 1909.4 L1125.8 1920.5 L1114.2 1906.5 L1101.6 1923.2 L1093.6 1908.7 L1080.2 1920.1 L1071.9 1909.9 L1061.9 1922.2 L1051.7 1908.3 L1040 1919.7 L1030 1909.4Z" fill="#20285a"/>
<path d="M1030 1882.9 L1040 1893.2 L1051.7 1881.8 L1061.9 1895.7 L1071.9 1883.4 L1080.2 1893.6 L1093.6 1882.2 L1101.6 1896.7 L1114.2 1880 L1125.8 1894 L1139.5 1882.9 L1151.9 1895.3 L1162.5 1884.2 L1174.3 1892.7 L1187.4 1882 L1195.3 1893.8 L1206.6 1884.2 L1217.5 1891.5 L1228.5 1881.2 L1237.4 1895 L1248.3 1883.2 L1259 1895.5 L1268.1 1880.7 L1275.3 1891.4 L1283.1 1882.5 L1294 1893.1 L1307.2 1882.1 L1315.5 1895.7 L1326.8 1882.4 L1338.9 1892.1 L1346.1 1883.6 L1360 1896.5 L1373.7 1880 L1386.5 1895.8 L1394.1 1879.4 L1402.3 1897.3 L1415.9 1881.7 L1429.2 1897.8 L1438 1878 L1447.4 1897.1 L1460 1881.7 L1471.6 1894.3 L1478.7 1882.5 L1486.3 1895.4 L1498.6 1882.3 L1509.4 1894.5 L1519.7 1883.4 L1531.5 1895.8 L1541 1884.4 L1554.2 1896.8 L1566.8 1881.1 L1576.2 1895 L1585.3 1879 L1593.8 1894.3 L1605.5 1878.4 L1614.5 1894 L1621.9 1884 L1632.6 1891 L1640.8 1883.6 L1649.4 1894 L1660.9 1884.6 L1673.2 1894.3 L1681.4 1884 L1688.9 1893.4 L1702 1881.3 L1710.9 1895.5 L1721.6 1879.6 L1729.8 1894.2 L1739.3 1869.7 L1747.7 1892.4 L1760 1884.4 L1767.6 1893.9 L1778.1 1880.5 L1791.5 1893.5 L1799.7 1884.8 L1811 1891.4 L1823.8 1885.4 L1835.2 1891.3 L1841 1891.3 L1841 1915.3 L1835.2 1915.3 L1823.8 1909.4 L1811 1915.4 L1799.7 1908.8 L1791.5 1917.5 L1778.1 1904.5 L1767.6 1917.9 L1760 1908.4 L1747.7 1916.4 L1739.3 1893.7 L1729.8 1918.2 L1721.6 1903.6 L1710.9 1919.5 L1702 1905.3 L1688.9 1917.4 L1681.4 1908 L1673.2 1918.3 L1660.9 1908.6 L1649.4 1918 L1640.8 1907.6 L1632.6 1915 L1621.9 1908 L1614.5 1918 L1605.5 1902.4 L1593.8 1918.3 L1585.3 1903 L1576.2 1919 L1566.8 1905.1 L1554.2 1920.8 L1541 1908.4 L1531.5 1919.8 L1519.7 1907.4 L1509.4 1918.5 L1498.6 1906.3 L1486.3 1919.4 L1478.7 1906.5 L1471.6 1918.3 L1460 1905.7 L1447.4 1921.1 L1438 1902 L1429.2 1921.8 L1415.9 1905.7 L1402.3 1921.3 L1394.1 1903.4 L1386.5 1919.8 L1373.7 1904 L1360 1920.5 L1346.1 1907.6 L1338.9 1916.1 L1326.8 1906.4 L1315.5 1919.7 L1307.2 1906.1 L1294 1917.1 L1283.1 1906.5 L1275.3 1915.4 L1268.1 1904.7 L1259 1919.5 L1248.3 1907.2 L1237.4 1919 L1228.5 1905.2 L1217.5 1915.5 L1206.6 1908.2 L1195.3 1917.8 L1187.4 1906 L1174.3 1916.7 L1162.5 1908.2 L1151.9 1919.3 L1139.5 1906.9 L1125.8 1918 L1114.2 1904 L1101.6 1920.7 L1093.6 1906.2 L1080.2 1917.6 L1071.9 1907.4 L1061.9 1919.7 L1051.7 1905.8 L1040 1917.2 L1030 1906.9Z" fill="#3646a0"/>
<path d="M1030 1885.4 L1040 1895.7 L1051.7 1884.3 L1061.9 1898.2 L1071.9 1885.9 L1080.2 1896.1 L1093.6 1884.7 L1101.6 1899.2 L1114.2 1882.5 L1125.8 1896.5 L1139.5 1885.4 L1151.9 1897.8 L1162.5 1886.7 L1174.3 1895.2 L1187.4 1884.5 L1195.3 1896.3 L1206.6 1886.7 L1217.5 1894 L1228.5 1883.7 L1237.4 1897.5 L1248.3 1885.7 L1259 1898 L1268.1 1883.2 L1275.3 1893.9 L1283.1 1885 L1294 1895.6 L1307.2 1884.6 L1315.5 1898.2 L1326.8 1884.9 L1338.9 1894.6 L1346.1 1886.1 L1360 1899 L1373.7 1882.5 L1386.5 1898.3 L1394.1 1881.9 L1402.3 1899.8 L1415.9 1884.2 L1429.2 1900.3 L1438 1880.5 L1447.4 1899.6 L1460 1884.2 L1471.6 1896.8 L1478.7 1885 L1486.3 1897.9 L1498.6 1884.8 L1509.4 1897 L1519.7 1885.9 L1531.5 1898.3 L1541 1886.9 L1554.2 1899.3 L1566.8 1883.6 L1576.2 1897.5 L1585.3 1881.5 L1593.8 1896.8 L1605.5 1880.9 L1614.5 1896.5 L1621.9 1886.5 L1632.6 1893.5 L1640.8 1886.1 L1649.4 1896.5 L1660.9 1887.1 L1673.2 1896.8 L1681.4 1886.5 L1688.9 1895.9 L1702 1883.8 L1710.9 1898 L1721.6 1882.1 L1729.8 1896.7 L1739.3 1872.2 L1747.7 1894.9 L1760 1886.9 L1767.6 1896.4 L1778.1 1883 L1791.5 1896 L1799.7 1887.3 L1811 1893.9 L1823.8 1887.9 L1835.2 1893.8 L1841 1893.8 L1841 1912.8 L1835.2 1912.8 L1823.8 1906.9 L1811 1912.9 L1799.7 1906.3 L1791.5 1915 L1778.1 1902 L1767.6 1915.4 L1760 1905.9 L1747.7 1913.9 L1739.3 1891.2 L1729.8 1915.7 L1721.6 1901.1 L1710.9 1917 L1702 1902.8 L1688.9 1914.9 L1681.4 1905.5 L1673.2 1915.8 L1660.9 1906.1 L1649.4 1915.5 L1640.8 1905.1 L1632.6 1912.5 L1621.9 1905.5 L1614.5 1915.5 L1605.5 1899.9 L1593.8 1915.8 L1585.3 1900.5 L1576.2 1916.5 L1566.8 1902.6 L1554.2 1918.3 L1541 1905.9 L1531.5 1917.3 L1519.7 1904.9 L1509.4 1916 L1498.6 1903.8 L1486.3 1916.9 L1478.7 1904 L1471.6 1915.8 L1460 1903.2 L1447.4 1918.6 L1438 1899.5 L1429.2 1919.3 L1415.9 1903.2 L1402.3 1918.8 L1394.1 1900.9 L1386.5 1917.3 L1373.7 1901.5 L1360 1918 L1346.1 1905.1 L1338.9 1913.6 L1326.8 1903.9 L1315.5 1917.2 L1307.2 1903.6 L1294 1914.6 L1283.1 1904 L1275.3 1912.9 L1268.1 1902.2 L1259 1917 L1248.3 1904.7 L1237.4 1916.5 L1228.5 1902.7 L1217.5 1913 L1206.6 1905.7 L1195.3 1915.3 L1187.4 1903.5 L1174.3 1914.2 L1162.5 1905.7 L1151.9 1916.8 L1139.5 1904.4 L1125.8 1915.5 L1114.2 1901.5 L1101.6 1918.2 L1093.6 1903.7 L1080.2 1915.1 L1071.9 1904.9 L1061.9 1917.2 L1051.7 1903.3 L1040 1914.7 L1030 1904.4Z" fill="#5064c4"/>
<path d="M1030 1891.4 L1040 1901.7 L1051.7 1890.3 L1061.9 1904.2 L1071.9 1891.9 L1080.2 1902.1 L1093.6 1890.7 L1101.6 1905.2 L1114.2 1888.5 L1125.8 1902.5 L1139.5 1891.4 L1151.9 1903.8 L1162.5 1892.7 L1174.3 1901.2 L1187.4 1890.5 L1195.3 1902.3 L1206.6 1892.7 L1217.5 1900 L1228.5 1889.7 L1237.4 1903.5 L1248.3 1891.7 L1259 1904 L1268.1 1889.2 L1275.3 1899.9 L1283.1 1891 L1294 1901.6 L1307.2 1890.6 L1315.5 1904.2 L1326.8 1890.9 L1338.9 1900.6 L1346.1 1892.1 L1360 1905 L1373.7 1888.5 L1386.5 1904.3 L1394.1 1887.9 L1402.3 1905.8 L1415.9 1890.2 L1429.2 1906.3 L1438 1886.5 L1447.4 1905.6 L1460 1890.2 L1471.6 1902.8 L1478.7 1891 L1486.3 1903.9 L1498.6 1890.8 L1509.4 1903 L1519.7 1891.9 L1531.5 1904.3 L1541 1892.9 L1554.2 1905.3 L1566.8 1889.6 L1576.2 1903.5 L1585.3 1887.5 L1593.8 1902.8 L1605.5 1886.9 L1614.5 1902.5 L1621.9 1892.5 L1632.6 1899.5 L1640.8 1892.1 L1649.4 1902.5 L1660.9 1893.1 L1673.2 1902.8 L1681.4 1892.5 L1688.9 1901.9 L1702 1889.8 L1710.9 1904 L1721.6 1888.1 L1729.8 1902.7 L1739.3 1878.2 L1747.7 1900.9 L1760 1892.9 L1767.6 1902.4 L1778.1 1889 L1791.5 1902 L1799.7 1893.3 L1811 1899.9 L1823.8 1893.9 L1835.2 1899.8 L1841 1899.8 L1841 1906.8 L1835.2 1906.8 L1823.8 1900.9 L1811 1906.9 L1799.7 1900.3 L1791.5 1909 L1778.1 1896 L1767.6 1909.4 L1760 1899.9 L1747.7 1907.9 L1739.3 1885.2 L1729.8 1909.7 L1721.6 1895.1 L1710.9 1911 L1702 1896.8 L1688.9 1908.9 L1681.4 1899.5 L1673.2 1909.8 L1660.9 1900.1 L1649.4 1909.5 L1640.8 1899.1 L1632.6 1906.5 L1621.9 1899.5 L1614.5 1909.5 L1605.5 1893.9 L1593.8 1909.8 L1585.3 1894.5 L1576.2 1910.5 L1566.8 1896.6 L1554.2 1912.3 L1541 1899.9 L1531.5 1911.3 L1519.7 1898.9 L1509.4 1910 L1498.6 1897.8 L1486.3 1910.9 L1478.7 1898 L1471.6 1909.8 L1460 1897.2 L1447.4 1912.6 L1438 1893.5 L1429.2 1913.3 L1415.9 1897.2 L1402.3 1912.8 L1394.1 1894.9 L1386.5 1911.3 L1373.7 1895.5 L1360 1912 L1346.1 1899.1 L1338.9 1907.6 L1326.8 1897.9 L1315.5 1911.2 L1307.2 1897.6 L1294 1908.6 L1283.1 1898 L1275.3 1906.9 L1268.1 1896.2 L1259 1911 L1248.3 1898.7 L1237.4 1910.5 L1228.5 1896.7 L1217.5 1907 L1206.6 1899.7 L1195.3 1909.3 L1187.4 1897.5 L1174.3 1908.2 L1162.5 1899.7 L1151.9 1910.8 L1139.5 1898.4 L1125.8 1909.5 L1114.2 1895.5 L1101.6 1912.2 L1093.6 1897.7 L1080.2 1909.1 L1071.9 1898.9 L1061.9 1911.2 L1051.7 1897.3 L1040 1908.7 L1030 1898.4Z" fill="#6476d2"/>
<path d="M165.3 1840v31.7 M177.3 1840v-28.1 M186.2 1840v-29.7 M196.1 1840v-31.9 M209.1 1840v29.4 M220.6 1840v30.5 M229.4 1840v26.3 M242.3 1840v-30.5 M251.8 1840v-29 M261.2 1840v28.6 M271.8 1840v32.3 M278.4 1840v-30.8 M288.8 1840v29.4 M296.5 1840v-30.2 M308.5 1840v28.9 M322.5 1840v-27.4 M335.6 1840v29.1 M348.1 1840v-31.7 M361.9 1840v28.2 M374.4 1840v-28 M382.7 1840v-27.8 M395.4 1840v25.9 M407.5 1840v29.4 M415.2 1840v30.8 M423.6 1840v-28.9 M430.9 1840v31.4 M439.9 1840v-29.9 M444.9 1840v27.9 M451.6 1840v-29.2 M458.9 1840v-30.6 M470.6 1840v-30.7 M475.9 1840v31.3 M486.1 1840v30.2 M499.3 1840v25.5 M509.8 1840v28.3 M522.9 1840v-29.6 M533.5 1840v28.3 M546 1840v26.4 M553.8 1840v-27.2 M559.7 1840v27.3 M573.2 1840v-26.6 M581.6 1840v-29.9 M592.6 1840v-26.5 M602.8 1840v-30.5 M608.2 1840v-30.1 M621.6 1840v-30.3 M630.2 1840v-25.8 M638.4 1840v31.6 M650.2 1840v29.9 M659.8 1840v-30 M668.4 1840v-31.3 M677 1840v30.2 M685.1 1840v-28.5 M692 1840v27.9 M698.7 1840v-28.8 M708.9 1840v-30.9 M718.3 1840v26.8 M729.4 1840v-27 M737.1 1840v27.7 M750 1840v-31 M759.1 1840v-26.8 M772.7 1840v-26.1 M779.4 1840v-31.4 M788.8 1840v25.8 M798.4 1840v31 M810.1 1840v-27.3 M820.5 1840v25.8 M832 1840v-28.9 M837.7 1840v29.3 M843.7 1840v26.1 M853 1840v-31 M866.8 1840v-31.5 M876.6 1840v-29.5 M889 1840v30.4 M896.3 1840v29 M906.5 1840v25.6 M915.6 1840v26.6 M925.6 1840v30.6 M936.2 1840v-31.8 M944.2 1840v26.6 M951.1 1840v-25.6 M957.7 1840v-29.2 M966.9 1840v25.5" stroke="#24382a" stroke-width="3" fill="none"/>
<path d="M163 1813.5 L166.9 1814.1 L170 1813.8 L173.4 1814.2 L176.8 1813.8 L179.9 1814.5 L183.8 1813.5 L189.7 1814.2 L192.8 1813.8 L197.8 1814.5 L201.5 1813.4 L206.3 1814.2 L210.9 1813.5 L215.5 1814.3 L218.5 1813.6 L222.1 1814.5 L226.5 1813.5 L231 1814.6 L234.8 1813.6 L238.7 1814.8 L243.8 1813.2 L249.7 1814.4 L253.6 1813.7 L257.7 1814.5 L263.4 1813.3 L266.5 1814.3 L270.9 1813.7 L274.6 1814.6 L280.1 1813.3 L283.9 1814.7 L288.9 1813.1 L293.2 1814.9 L296.4 1813.1 L301.6 1814.3 L306.3 1813.8 L312.1 1814.7 L315.5 1813.7 L318.8 1814.7 L322.8 1813.8 L327.4 1814.7 L331 1813.3 L336.2 1814.2 L341.5 1813.4 L344.6 1814.6 L350.1 1813.3 L355.1 1814.7 L360.4 1813.3 L364.6 1814.4 L368.5 1813.4 L374.1 1814.2 L379.4 1813.6 L384.3 1814.6 L389 1813.6 L394.2 1814.5 L400.2 1813.5 L403.5 1814.6 L407.3 1813.5 L413 1814.2 L417.9 1813.5 L422.9 1814.8 L428.2 1813.8 L432.3 1814.3 L436.5 1813.4 L442.4 1814.4 L446.6 1813.8 L450 1814.3 L453.1 1813.8 L456.4 1814.4 L459.5 1813.8 L465.4 1814.5 L469.5 1813.4 L473.2 1814.3 L477.9 1813.8 L482.1 1814.3 L487.3 1813.7 L492.2 1814.1 L496.2 1813.4 L499.5 1814.4 L505 1813.6 L508.1 1814.3 L511.6 1813.9 L516.6 1814.1 L520.4 1813.6 L524.7 1814.2 L528 1813.8 L532 1814.4 L537.7 1813.6 L542.4 1814.2 L547.3 1813.8 L553.3 1814.5 L559.1 1813.7 L564.5 1814.3 L569.4 1813.6 L573.8 1814.1 L577.9 1813.8 L582.7 1814.2 L588.5 1813.9 L593 1814.5 L597.5 1813.7 L603.1 1814.5 L607.6 1813.5 L610.6 1814.3 L616.4 1813.7 L621.7 1814.4 L624.8 1813.8 L628.2 1814.2 L634 1813.9 L639.5 1814.2 L645.5 1813.2 L649.1 1814.2 L653.8 1813.8 L659.6 1814.5 L665.5 1813.8 L670.4 1814.4 L675 1813.7 L678.2 1814.4 L682.5 1813.4 L687.2 1814.5 L691.2 1813.8 L697 1814.7 L701.8 1813.4 L705 1814.6 L709.7 1813.7 L714.6 1814.6 L718.9 1813.6 L724.6 1814.3 L727.6 1813.4 L733.6 1814.6 L739.1 1813.7 L742.9 1814.4 L746.8 1813.8 L751.9 1814.4 L755.3 1813.8 L759 1814.9 L764.9 1812.7 L769.4 1814.6 L775.2 1813.3 L780.7 1814.4 L786.6 1813.3 L791.9 1814.2 L797.1 1813.6 L801.2 1814.5 L805.8 1813.6 L809.7 1814.3 L815.6 1813.6 L818.7 1814.3 L824.6 1813.6 L828.4 1814.3 L832.8 1813.8 L837.4 1814.4 L842.3 1813.7 L846.4 1814.4 L849.4 1813.6 L853.9 1814.2 L858.8 1813.9 L862.6 1814.2 L868.5 1813.6 L872 1814.2 L877.7 1813.8 L881.6 1814.1 L886.8 1813.5 L891.7 1814.2 L897.3 1813.8 L902.4 1814.8 L905.5 1813.5 L908.5 1814.5 L912.6 1813.7 L916.7 1814.3 L921 1813.7 L925.4 1814.7 L930.9 1813.2 L936.3 1814.8 L940.5 1813.8 L943.5 1814.9 L946.5 1813.6 L951.6 1814.5 L956.8 1813.5 L961.3 1814.5 L966.5 1813.6 L969 1813.6 L969 1865.6 L966.5 1865.6 L961.3 1866.5 L956.8 1865.5 L951.6 1866.5 L946.5 1865.6 L943.5 1866.9 L940.5 1865.8 L936.3 1866.8 L930.9 1865.2 L925.4 1866.7 L921 1865.7 L916.7 1866.3 L912.6 1865.7 L908.5 1866.5 L905.5 1865.5 L902.4 1866.8 L897.3 1865.8 L891.7 1866.2 L886.8 1865.5 L881.6 1866.1 L877.7 1865.8 L872 1866.2 L868.5 1865.6 L862.6 1866.2 L858.8 1865.9 L853.9 1866.2 L849.4 1865.6 L846.4 1866.4 L842.3 1865.7 L837.4 1866.4 L832.8 1865.8 L828.4 1866.3 L824.6 1865.6 L818.7 1866.3 L815.6 1865.6 L809.7 1866.3 L805.8 1865.6 L801.2 1866.5 L797.1 1865.6 L791.9 1866.2 L786.6 1865.3 L780.7 1866.4 L775.2 1865.3 L769.4 1866.6 L764.9 1864.7 L759 1866.9 L755.3 1865.8 L751.9 1866.4 L746.8 1865.8 L742.9 1866.4 L739.1 1865.7 L733.6 1866.6 L727.6 1865.4 L724.6 1866.3 L718.9 1865.6 L714.6 1866.6 L709.7 1865.7 L705 1866.6 L701.8 1865.4 L697 1866.7 L691.2 1865.8 L687.2 1866.5 L682.5 1865.4 L678.2 1866.4 L675 1865.7 L670.4 1866.4 L665.5 1865.8 L659.6 1866.5 L653.8 1865.8 L649.1 1866.2 L645.5 1865.2 L639.5 1866.2 L634 1865.9 L628.2 1866.2 L624.8 1865.8 L621.7 1866.4 L616.4 1865.7 L610.6 1866.3 L607.6 1865.5 L603.1 1866.5 L597.5 1865.7 L593 1866.5 L588.5 1865.9 L582.7 1866.2 L577.9 1865.8 L573.8 1866.1 L569.4 1865.6 L564.5 1866.3 L559.1 1865.7 L553.3 1866.5 L547.3 1865.8 L542.4 1866.2 L537.7 1865.6 L532 1866.4 L528 1865.8 L524.7 1866.2 L520.4 1865.6 L516.6 1866.1 L511.6 1865.9 L508.1 1866.3 L505 1865.6 L499.5 1866.4 L496.2 1865.4 L492.2 1866.1 L487.3 1865.7 L482.1 1866.3 L477.9 1865.8 L473.2 1866.3 L469.5 1865.4 L465.4 1866.5 L459.5 1865.8 L456.4 1866.4 L453.1 1865.8 L450 1866.3 L446.6 1865.8 L442.4 1866.4 L436.5 1865.4 L432.3 1866.3 L428.2 1865.8 L422.9 1866.8 L417.9 1865.5 L413 1866.2 L407.3 1865.5 L403.5 1866.6 L400.2 1865.5 L394.2 1866.5 L389 1865.6 L384.3 1866.6 L379.4 1865.6 L374.1 1866.2 L368.5 1865.4 L364.6 1866.4 L360.4 1865.3 L355.1 1866.7 L350.1 1865.3 L344.6 1866.6 L341.5 1865.4 L336.2 1866.2 L331 1865.3 L327.4 1866.7 L322.8 1865.8 L318.8 1866.7 L315.5 1865.7 L312.1 1866.7 L306.3 1865.8 L301.6 1866.3 L296.4 1865.1 L293.2 1866.9 L288.9 1865.1 L283.9 1866.7 L280.1 1865.3 L274.6 1866.6 L270.9 1865.7 L266.5 1866.3 L263.4 1865.3 L257.7 1866.5 L253.6 1865.7 L249.7 1866.4 L243.8 1865.2 L238.7 1866.8 L234.8 1865.6 L231 1866.6 L226.5 1865.5 L222.1 1866.5 L218.5 1865.6 L215.5 1866.3 L210.9 1865.5 L206.3 1866.2 L201.5 1865.4 L197.8 1866.5 L192.8 1865.8 L189.7 1866.2 L183.8 1865.5 L179.9 1866.5 L176.8 1865.8 L173.4 1866.2 L170 1865.8 L166.9 1866.1 L163 1865.5Z" fill="#263a2a"/>
<path d="M163 1819.5 L166.9 1820.1 L170 1819.8 L173.4 1820.2 L176.8 1819.8 L179.9 1820.5 L183.8 1819.5 L189.7 1820.2 L192.8 1819.8 L197.8 1820.5 L201.5 1819.4 L206.3 1820.2 L210.9 1819.5 L215.5 1820.3 L218.5 1819.6 L222.1 1820.5 L226.5 1819.5 L231 1820.6 L234.8 1819.6 L238.7 1820.8 L243.8 1819.2 L249.7 1820.4 L253.6 1819.7 L257.7 1820.5 L263.4 1819.3 L266.5 1820.3 L270.9 1819.7 L274.6 1820.6 L280.1 1819.3 L283.9 1820.7 L288.9 1819.1 L293.2 1820.9 L296.4 1819.1 L301.6 1820.3 L306.3 1819.8 L312.1 1820.7 L315.5 1819.7 L318.8 1820.7 L322.8 1819.8 L327.4 1820.7 L331 1819.3 L336.2 1820.2 L341.5 1819.4 L344.6 1820.6 L350.1 1819.3 L355.1 1820.7 L360.4 1819.3 L364.6 1820.4 L368.5 1819.4 L374.1 1820.2 L379.4 1819.6 L384.3 1820.6 L389 1819.6 L394.2 1820.5 L400.2 1819.5 L403.5 1820.6 L407.3 1819.5 L413 1820.2 L417.9 1819.5 L422.9 1820.8 L428.2 1819.8 L432.3 1820.3 L436.5 1819.4 L442.4 1820.4 L446.6 1819.8 L450 1820.3 L453.1 1819.8 L456.4 1820.4 L459.5 1819.8 L465.4 1820.5 L469.5 1819.4 L473.2 1820.3 L477.9 1819.8 L482.1 1820.3 L487.3 1819.7 L492.2 1820.1 L496.2 1819.4 L499.5 1820.4 L505 1819.6 L508.1 1820.3 L511.6 1819.9 L516.6 1820.1 L520.4 1819.6 L524.7 1820.2 L528 1819.8 L532 1820.4 L537.7 1819.6 L542.4 1820.2 L547.3 1819.8 L553.3 1820.5 L559.1 1819.7 L564.5 1820.3 L569.4 1819.6 L573.8 1820.1 L577.9 1819.8 L582.7 1820.2 L588.5 1819.9 L593 1820.5 L597.5 1819.7 L603.1 1820.5 L607.6 1819.5 L610.6 1820.3 L616.4 1819.7 L621.7 1820.4 L624.8 1819.8 L628.2 1820.2 L634 1819.9 L639.5 1820.2 L645.5 1819.2 L649.1 1820.2 L653.8 1819.8 L659.6 1820.5 L665.5 1819.8 L670.4 1820.4 L675 1819.7 L678.2 1820.4 L682.5 1819.4 L687.2 1820.5 L691.2 1819.8 L697 1820.7 L701.8 1819.4 L705 1820.6 L709.7 1819.7 L714.6 1820.6 L718.9 1819.6 L724.6 1820.3 L727.6 1819.4 L733.6 1820.6 L739.1 1819.7 L742.9 1820.4 L746.8 1819.8 L751.9 1820.4 L755.3 1819.8 L759 1820.9 L764.9 1818.7 L769.4 1820.6 L775.2 1819.3 L780.7 1820.4 L786.6 1819.3 L791.9 1820.2 L797.1 1819.6 L801.2 1820.5 L805.8 1819.6 L809.7 1820.3 L815.6 1819.6 L818.7 1820.3 L824.6 1819.6 L828.4 1820.3 L832.8 1819.8 L837.4 1820.4 L842.3 1819.7 L846.4 1820.4 L849.4 1819.6 L853.9 1820.2 L858.8 1819.9 L862.6 1820.2 L868.5 1819.6 L872 1820.2 L877.7 1819.8 L881.6 1820.1 L886.8 1819.5 L891.7 1820.2 L897.3 1819.8 L902.4 1820.8 L905.5 1819.5 L908.5 1820.5 L912.6 1819.7 L916.7 1820.3 L921 1819.7 L925.4 1820.7 L930.9 1819.2 L936.3 1820.8 L940.5 1819.8 L943.5 1820.9 L946.5 1819.6 L951.6 1820.5 L956.8 1819.5 L961.3 1820.5 L966.5 1819.6 L969 1819.6 L969 1859.6 L966.5 1859.6 L961.3 1860.5 L956.8 1859.5 L951.6 1860.5 L946.5 1859.6 L943.5 1860.9 L940.5 1859.8 L936.3 1860.8 L930.9 1859.2 L925.4 1860.7 L921 1859.7 L916.7 1860.3 L912.6 1859.7 L908.5 1860.5 L905.5 1859.5 L902.4 1860.8 L897.3 1859.8 L891.7 1860.2 L886.8 1859.5 L881.6 1860.1 L877.7 1859.8 L872 1860.2 L868.5 1859.6 L862.6 1860.2 L858.8 1859.9 L853.9 1860.2 L849.4 1859.6 L846.4 1860.4 L842.3 1859.7 L837.4 1860.4 L832.8 1859.8 L828.4 1860.3 L824.6 1859.6 L818.7 1860.3 L815.6 1859.6 L809.7 1860.3 L805.8 1859.6 L801.2 1860.5 L797.1 1859.6 L791.9 1860.2 L786.6 1859.3 L780.7 1860.4 L775.2 1859.3 L769.4 1860.6 L764.9 1858.7 L759 1860.9 L755.3 1859.8 L751.9 1860.4 L746.8 1859.8 L742.9 1860.4 L739.1 1859.7 L733.6 1860.6 L727.6 1859.4 L724.6 1860.3 L718.9 1859.6 L714.6 1860.6 L709.7 1859.7 L705 1860.6 L701.8 1859.4 L697 1860.7 L691.2 1859.8 L687.2 1860.5 L682.5 1859.4 L678.2 1860.4 L675 1859.7 L670.4 1860.4 L665.5 1859.8 L659.6 1860.5 L653.8 1859.8 L649.1 1860.2 L645.5 1859.2 L639.5 1860.2 L634 1859.9 L628.2 1860.2 L624.8 1859.8 L621.7 1860.4 L616.4 1859.7 L610.6 1860.3 L607.6 1859.5 L603.1 1860.5 L597.5 1859.7 L593 1860.5 L588.5 1859.9 L582.7 1860.2 L577.9 1859.8 L573.8 1860.1 L569.4 1859.6 L564.5 1860.3 L559.1 1859.7 L553.3 1860.5 L547.3 1859.8 L542.4 1860.2 L537.7 1859.6 L532 1860.4 L528 1859.8 L524.7 1860.2 L520.4 1859.6 L516.6 1860.1 L511.6 1859.9 L508.1 1860.3 L505 1859.6 L499.5 1860.4 L496.2 1859.4 L492.2 1860.1 L487.3 1859.7 L482.1 1860.3 L477.9 1859.8 L473.2 1860.3 L469.5 1859.4 L465.4 1860.5 L459.5 1859.8 L456.4 1860.4 L453.1 1859.8 L450 1860.3 L446.6 1859.8 L442.4 1860.4 L436.5 1859.4 L432.3 1860.3 L428.2 1859.8 L422.9 1860.8 L417.9 1859.5 L413 1860.2 L407.3 1859.5 L403.5 1860.6 L400.2 1859.5 L394.2 1860.5 L389 1859.6 L384.3 1860.6 L379.4 1859.6 L374.1 1860.2 L368.5 1859.4 L364.6 1860.4 L360.4 1859.3 L355.1 1860.7 L350.1 1859.3 L344.6 1860.6 L341.5 1859.4 L336.2 1860.2 L331 1859.3 L327.4 1860.7 L322.8 1859.8 L318.8 1860.7 L315.5 1859.7 L312.1 1860.7 L306.3 1859.8 L301.6 1860.3 L296.4 1859.1 L293.2 1860.9 L288.9 1859.1 L283.9 1860.7 L280.1 1859.3 L274.6 1860.6 L270.9 1859.7 L266.5 1860.3 L263.4 1859.3 L257.7 1860.5 L253.6 1859.7 L249.7 1860.4 L243.8 1859.2 L238.7 1860.8 L234.8 1859.6 L231 1860.6 L226.5 1859.5 L222.1 1860.5 L218.5 1859.6 L215.5 1860.3 L210.9 1859.5 L206.3 1860.2 L201.5 1859.4 L197.8 1860.5 L192.8 1859.8 L189.7 1860.2 L183.8 1859.5 L179.9 1860.5 L176.8 1859.8 L173.4 1860.2 L170 1859.8 L166.9 1860.1 L163 1859.5Z" fill="#2c7040"/>
<path d="M163 1824 L166.9 1824.6 L170 1824.3 L173.4 1824.7 L176.8 1824.3 L179.9 1825 L183.8 1824 L189.7 1824.7 L192.8 1824.3 L197.8 1825 L201.5 1823.9 L206.3 1824.7 L210.9 1824 L215.5 1824.8 L218.5 1824.1 L222.1 1825 L226.5 1824 L231 1825.1 L234.8 1824.1 L238.7 1825.3 L243.8 1823.7 L249.7 1824.9 L253.6 1824.2 L257.7 1825 L263.4 1823.8 L266.5 1824.8 L270.9 1824.2 L274.6 1825.1 L280.1 1823.8 L283.9 1825.2 L288.9 1823.6 L293.2 1825.4 L296.4 1823.6 L301.6 1824.8 L306.3 1824.3 L312.1 1825.2 L315.5 1824.2 L318.8 1825.2 L322.8 1824.3 L327.4 1825.2 L331 1823.8 L336.2 1824.7 L341.5 1823.9 L344.6 1825.1 L350.1 1823.8 L355.1 1825.2 L360.4 1823.8 L364.6 1824.9 L368.5 1823.9 L374.1 1824.7 L379.4 1824.1 L384.3 1825.1 L389 1824.1 L394.2 1825 L400.2 1824 L403.5 1825.1 L407.3 1824 L413 1824.7 L417.9 1824 L422.9 1825.3 L428.2 1824.3 L432.3 1824.8 L436.5 1823.9 L442.4 1824.9 L446.6 1824.3 L450 1824.8 L453.1 1824.3 L456.4 1824.9 L459.5 1824.3 L465.4 1825 L469.5 1823.9 L473.2 1824.8 L477.9 1824.3 L482.1 1824.8 L487.3 1824.2 L492.2 1824.6 L496.2 1823.9 L499.5 1824.9 L505 1824.1 L508.1 1824.8 L511.6 1824.4 L516.6 1824.6 L520.4 1824.1 L524.7 1824.7 L528 1824.3 L532 1824.9 L537.7 1824.1 L542.4 1824.7 L547.3 1824.3 L553.3 1825 L559.1 1824.2 L564.5 1824.8 L569.4 1824.1 L573.8 1824.6 L577.9 1824.3 L582.7 1824.7 L588.5 1824.4 L593 1825 L597.5 1824.2 L603.1 1825 L607.6 1824 L610.6 1824.8 L616.4 1824.2 L621.7 1824.9 L624.8 1824.3 L628.2 1824.7 L634 1824.4 L639.5 1824.7 L645.5 1823.7 L649.1 1824.7 L653.8 1824.3 L659.6 1825 L665.5 1824.3 L670.4 1824.9 L675 1824.2 L678.2 1824.9 L682.5 1823.9 L687.2 1825 L691.2 1824.3 L697 1825.2 L701.8 1823.9 L705 1825.1 L709.7 1824.2 L714.6 1825.1 L718.9 1824.1 L724.6 1824.8 L727.6 1823.9 L733.6 1825.1 L739.1 1824.2 L742.9 1824.9 L746.8 1824.3 L751.9 1824.9 L755.3 1824.3 L759 1825.4 L764.9 1823.2 L769.4 1825.1 L775.2 1823.8 L780.7 1824.9 L786.6 1823.8 L791.9 1824.7 L797.1 1824.1 L801.2 1825 L805.8 1824.1 L809.7 1824.8 L815.6 1824.1 L818.7 1824.8 L824.6 1824.1 L828.4 1824.8 L832.8 1824.3 L837.4 1824.9 L842.3 1824.2 L846.4 1824.9 L849.4 1824.1 L853.9 1824.7 L858.8 1824.4 L862.6 1824.7 L868.5 1824.1 L872 1824.7 L877.7 1824.3 L881.6 1824.6 L886.8 1824 L891.7 1824.7 L897.3 1824.3 L902.4 1825.3 L905.5 1824 L908.5 1825 L912.6 1824.2 L916.7 1824.8 L921 1824.2 L925.4 1825.2 L930.9 1823.7 L936.3 1825.3 L940.5 1824.3 L943.5 1825.4 L946.5 1824.1 L951.6 1825 L956.8 1824 L961.3 1825 L966.5 1824.1 L969 1824.1 L969 1855.1 L966.5 1855.1 L961.3 1856 L956.8 1855 L951.6 1856 L946.5 1855.1 L943.5 1856.4 L940.5 1855.3 L936.3 1856.3 L930.9 1854.7 L925.4 1856.2 L921 1855.2 L916.7 1855.8 L912.6 1855.2 L908.5 1856 L905.5 1855 L902.4 1856.3 L897.3 1855.3 L891.7 1855.7 L886.8 1855 L881.6 1855.6 L877.7 1855.3 L872 1855.7 L868.5 1855.1 L862.6 1855.7 L858.8 1855.4 L853.9 1855.7 L849.4 1855.1 L846.4 1855.9 L842.3 1855.2 L837.4 1855.9 L832.8 1855.3 L828.4 1855.8 L824.6 1855.1 L818.7 1855.8 L815.6 1855.1 L809.7 1855.8 L805.8 1855.1 L801.2 1856 L797.1 1855.1 L791.9 1855.7 L786.6 1854.8 L780.7 1855.9 L775.2 1854.8 L769.4 1856.1 L764.9 1854.2 L759 1856.4 L755.3 1855.3 L751.9 1855.9 L746.8 1855.3 L742.9 1855.9 L739.1 1855.2 L733.6 1856.1 L727.6 1854.9 L724.6 1855.8 L718.9 1855.1 L714.6 1856.1 L709.7 1855.2 L705 1856.1 L701.8 1854.9 L697 1856.2 L691.2 1855.3 L687.2 1856 L682.5 1854.9 L678.2 1855.9 L675 1855.2 L670.4 1855.9 L665.5 1855.3 L659.6 1856 L653.8 1855.3 L649.1 1855.7 L645.5 1854.7 L639.5 1855.7 L634 1855.4 L628.2 1855.7 L624.8 1855.3 L621.7 1855.9 L616.4 1855.2 L610.6 1855.8 L607.6 1855 L603.1 1856 L597.5 1855.2 L593 1856 L588.5 1855.4 L582.7 1855.7 L577.9 1855.3 L573.8 1855.6 L569.4 1855.1 L564.5 1855.8 L559.1 1855.2 L553.3 1856 L547.3 1855.3 L542.4 1855.7 L537.7 1855.1 L532 1855.9 L528 1855.3 L524.7 1855.7 L520.4 1855.1 L516.6 1855.6 L511.6 1855.4 L508.1 1855.8 L505 1855.1 L499.5 1855.9 L496.2 1854.9 L492.2 1855.6 L487.3 1855.2 L482.1 1855.8 L477.9 1855.3 L473.2 1855.8 L469.5 1854.9 L465.4 1856 L459.5 1855.3 L456.4 1855.9 L453.1 1855.3 L450 1855.8 L446.6 1855.3 L442.4 1855.9 L436.5 1854.9 L432.3 1855.8 L428.2 1855.3 L422.9 1856.3 L417.9 1855 L413 1855.7 L407.3 1855 L403.5 1856.1 L400.2 1855 L394.2 1856 L389 1855.1 L384.3 1856.1 L379.4 1855.1 L374.1 1855.7 L368.5 1854.9 L364.6 1855.9 L360.4 1854.8 L355.1 1856.2 L350.1 1854.8 L344.6 1856.1 L341.5 1854.9 L336.2 1855.7 L331 1854.8 L327.4 1856.2 L322.8 1855.3 L318.8 1856.2 L315.5 1855.2 L312.1 1856.2 L306.3 1855.3 L301.6 1855.8 L296.4 1854.6 L293.2 1856.4 L288.9 1854.6 L283.9 1856.2 L280.1 1854.8 L274.6 1856.1 L270.9 1855.2 L266.5 1855.8 L263.4 1854.8 L257.7 1856 L253.6 1855.2 L249.7 1855.9 L243.8 1854.7 L238.7 1856.3 L234.8 1855.1 L231 1856.1 L226.5 1855 L222.1 1856 L218.5 1855.1 L215.5 1855.8 L210.9 1855 L206.3 1855.7 L201.5 1854.9 L197.8 1856 L192.8 1855.3 L189.7 1855.7 L183.8 1855 L179.9 1856 L176.8 1855.3 L173.4 1855.7 L170 1855.3 L166.9 1855.6 L163 1855Z" fill="#2a9a4a"/>
<path d="M163 1830.5 L166.9 1831.1 L170 1830.8 L173.4 1831.2 L176.8 1830.8 L179.9 1831.5 L183.8 1830.5 L189.7 1831.2 L192.8 1830.8 L197.8 1831.5 L201.5 1830.4 L206.3 1831.2 L210.9 1830.5 L215.5 1831.3 L218.5 1830.6 L222.1 1831.5 L226.5 1830.5 L231 1831.6 L234.8 1830.6 L238.7 1831.8 L243.8 1830.2 L249.7 1831.4 L253.6 1830.7 L257.7 1831.5 L263.4 1830.3 L266.5 1831.3 L270.9 1830.7 L274.6 1831.6 L280.1 1830.3 L283.9 1831.7 L288.9 1830.1 L293.2 1831.9 L296.4 1830.1 L301.6 1831.3 L306.3 1830.8 L312.1 1831.7 L315.5 1830.7 L318.8 1831.7 L322.8 1830.8 L327.4 1831.7 L331 1830.3 L336.2 1831.2 L341.5 1830.4 L344.6 1831.6 L350.1 1830.3 L355.1 1831.7 L360.4 1830.3 L364.6 1831.4 L368.5 1830.4 L374.1 1831.2 L379.4 1830.6 L384.3 1831.6 L389 1830.6 L394.2 1831.5 L400.2 1830.5 L403.5 1831.6 L407.3 1830.5 L413 1831.2 L417.9 1830.5 L422.9 1831.8 L428.2 1830.8 L432.3 1831.3 L436.5 1830.4 L442.4 1831.4 L446.6 1830.8 L450 1831.3 L453.1 1830.8 L456.4 1831.4 L459.5 1830.8 L465.4 1831.5 L469.5 1830.4 L473.2 1831.3 L477.9 1830.8 L482.1 1831.3 L487.3 1830.7 L492.2 1831.1 L496.2 1830.4 L499.5 1831.4 L505 1830.6 L508.1 1831.3 L511.6 1830.9 L516.6 1831.1 L520.4 1830.6 L524.7 1831.2 L528 1830.8 L532 1831.4 L537.7 1830.6 L542.4 1831.2 L547.3 1830.8 L553.3 1831.5 L559.1 1830.7 L564.5 1831.3 L569.4 1830.6 L573.8 1831.1 L577.9 1830.8 L582.7 1831.2 L588.5 1830.9 L593 1831.5 L597.5 1830.7 L603.1 1831.5 L607.6 1830.5 L610.6 1831.3 L616.4 1830.7 L621.7 1831.4 L624.8 1830.8 L628.2 1831.2 L634 1830.9 L639.5 1831.2 L645.5 1830.2 L649.1 1831.2 L653.8 1830.8 L659.6 1831.5 L665.5 1830.8 L670.4 1831.4 L675 1830.7 L678.2 1831.4 L682.5 1830.4 L687.2 1831.5 L691.2 1830.8 L697 1831.7 L701.8 1830.4 L705 1831.6 L709.7 1830.7 L714.6 1831.6 L718.9 1830.6 L724.6 1831.3 L727.6 1830.4 L733.6 1831.6 L739.1 1830.7 L742.9 1831.4 L746.8 1830.8 L751.9 1831.4 L755.3 1830.8 L759 1831.9 L764.9 1829.7 L769.4 1831.6 L775.2 1830.3 L780.7 1831.4 L786.6 1830.3 L791.9 1831.2 L797.1 1830.6 L801.2 1831.5 L805.8 1830.6 L809.7 1831.3 L815.6 1830.6 L818.7 1831.3 L824.6 1830.6 L828.4 1831.3 L832.8 1830.8 L837.4 1831.4 L842.3 1830.7 L846.4 1831.4 L849.4 1830.6 L853.9 1831.2 L858.8 1830.9 L862.6 1831.2 L868.5 1830.6 L872 1831.2 L877.7 1830.8 L881.6 1831.1 L886.8 1830.5 L891.7 1831.2 L897.3 1830.8 L902.4 1831.8 L905.5 1830.5 L908.5 1831.5 L912.6 1830.7 L916.7 1831.3 L921 1830.7 L925.4 1831.7 L930.9 1830.2 L936.3 1831.8 L940.5 1830.8 L943.5 1831.9 L946.5 1830.6 L951.6 1831.5 L956.8 1830.5 L961.3 1831.5 L966.5 1830.6 L969 1830.6 L969 1848.6 L966.5 1848.6 L961.3 1849.5 L956.8 1848.5 L951.6 1849.5 L946.5 1848.6 L943.5 1849.9 L940.5 1848.8 L936.3 1849.8 L930.9 1848.2 L925.4 1849.7 L921 1848.7 L916.7 1849.3 L912.6 1848.7 L908.5 1849.5 L905.5 1848.5 L902.4 1849.8 L897.3 1848.8 L891.7 1849.2 L886.8 1848.5 L881.6 1849.1 L877.7 1848.8 L872 1849.2 L868.5 1848.6 L862.6 1849.2 L858.8 1848.9 L853.9 1849.2 L849.4 1848.6 L846.4 1849.4 L842.3 1848.7 L837.4 1849.4 L832.8 1848.8 L828.4 1849.3 L824.6 1848.6 L818.7 1849.3 L815.6 1848.6 L809.7 1849.3 L805.8 1848.6 L801.2 1849.5 L797.1 1848.6 L791.9 1849.2 L786.6 1848.3 L780.7 1849.4 L775.2 1848.3 L769.4 1849.6 L764.9 1847.7 L759 1849.9 L755.3 1848.8 L751.9 1849.4 L746.8 1848.8 L742.9 1849.4 L739.1 1848.7 L733.6 1849.6 L727.6 1848.4 L724.6 1849.3 L718.9 1848.6 L714.6 1849.6 L709.7 1848.7 L705 1849.6 L701.8 1848.4 L697 1849.7 L691.2 1848.8 L687.2 1849.5 L682.5 1848.4 L678.2 1849.4 L675 1848.7 L670.4 1849.4 L665.5 1848.8 L659.6 1849.5 L653.8 1848.8 L649.1 1849.2 L645.5 1848.2 L639.5 1849.2 L634 1848.9 L628.2 1849.2 L624.8 1848.8 L621.7 1849.4 L616.4 1848.7 L610.6 1849.3 L607.6 1848.5 L603.1 1849.5 L597.5 1848.7 L593 1849.5 L588.5 1848.9 L582.7 1849.2 L577.9 1848.8 L573.8 1849.1 L569.4 1848.6 L564.5 1849.3 L559.1 1848.7 L553.3 1849.5 L547.3 1848.8 L542.4 1849.2 L537.7 1848.6 L532 1849.4 L528 1848.8 L524.7 1849.2 L520.4 1848.6 L516.6 1849.1 L511.6 1848.9 L508.1 1849.3 L505 1848.6 L499.5 1849.4 L496.2 1848.4 L492.2 1849.1 L487.3 1848.7 L482.1 1849.3 L477.9 1848.8 L473.2 1849.3 L469.5 1848.4 L465.4 1849.5 L459.5 1848.8 L456.4 1849.4 L453.1 1848.8 L450 1849.3 L446.6 1848.8 L442.4 1849.4 L436.5 1848.4 L432.3 1849.3 L428.2 1848.8 L422.9 1849.8 L417.9 1848.5 L413 1849.2 L407.3 1848.5 L403.5 1849.6 L400.2 1848.5 L394.2 1849.5 L389 1848.6 L384.3 1849.6 L379.4 1848.6 L374.1 1849.2 L368.5 1848.4 L364.6 1849.4 L360.4 1848.3 L355.1 1849.7 L350.1 1848.3 L344.6 1849.6 L341.5 1848.4 L336.2 1849.2 L331 1848.3 L327.4 1849.7 L322.8 1848.8 L318.8 1849.7 L315.5 1848.7 L312.1 1849.7 L306.3 1848.8 L301.6 1849.3 L296.4 1848.1 L293.2 1849.9 L288.9 1848.1 L283.9 1849.7 L280.1 1848.3 L274.6 1849.6 L270.9 1848.7 L266.5 1849.3 L263.4 1848.3 L257.7 1849.5 L253.6 1848.7 L249.7 1849.4 L243.8 1848.2 L238.7 1849.8 L234.8 1848.6 L231 1849.6 L226.5 1848.5 L222.1 1849.5 L218.5 1848.6 L215.5 1849.3 L210.9 1848.5 L206.3 1849.2 L201.5 1848.4 L197.8 1849.5 L192.8 1848.8 L189.7 1849.2 L183.8 1848.5 L179.9 1849.5 L176.8 1848.8 L173.4 1849.2 L170 1848.8 L166.9 1849.1 L163 1848.5Z" fill="#35b555"/>
<path d="M966 1814 L972 1817 L980 1826 L990 1836 L1000 1843 L1015 1850 L1035 1856 L1060 1860 L1070 1861.5 L1070 1913.5 L1060 1912 L1035 1908 L1015 1902 L1000 1895 L990 1888 L980 1878 L972 1869 L966 1866Z" fill="#263a2a" opacity="1" />
<path d="M966 1820 L972 1823 L980 1832 L990 1842 L1000 1849 L1015 1856 L1035 1862 L1060 1866 L1070 1867.5 L1070 1907.5 L1060 1906 L1035 1902 L1015 1896 L1000 1889 L990 1882 L980 1872 L972 1863 L966 1860Z" fill="#2c7040" opacity="1" />
<path d="M966 1824.5 L972 1827.5 L980 1836.5 L990 1846.5 L1000 1853.5 L1015 1860.5 L1035 1866.5 L1060 1870.5 L1070 1872 L1070 1903 L1060 1901.5 L1035 1897.5 L1015 1891.5 L1000 1884.5 L990 1877.5 L980 1867.5 L972 1858.5 L966 1855.5Z" fill="#2a9a4a" opacity="1" />
<path d="M966 1831 L972 1834 L980 1843 L990 1853 L1000 1860 L1015 1867 L1035 1873 L1060 1877 L1070 1878.5 L1070 1896.5 L1060 1895 L1035 1891 L1015 1885 L1000 1878 L990 1871 L980 1861 L972 1852 L966 1849Z" fill="#35b555" opacity="1" />
<path d="M1065.7 1887.5v28.1 M1077.5 1887.5v-30.2 M1091.2 1887.5v-31.8 M1104.6 1887.5v-32.4 M1111.3 1887.5v-27.1 M1117.6 1887.5v27.1 M1122.7 1887.5v-29.7 M1134.1 1887.5v-27.3 M1141.1 1887.5v25.6 M1149.4 1887.5v27.5 M1157.7 1887.5v-29.2 M1166.4 1887.5v31.6 M1178.8 1887.5v-31.8 M1184.2 1887.5v26.4 M1194.1 1887.5v28 M1201.1 1887.5v-29.7 M1207.4 1887.5v-30.9 M1219.6 1887.5v-30.8 M1228.7 1887.5v-26.9 M1239.9 1887.5v28 M1248.2 1887.5v-27.3 M1260.1 1887.5v-28.5 M1273 1887.5v-26.5 M1279.4 1887.5v29.4 M1284.6 1887.5v31.9 M1297.1 1887.5v-28.4 M1303 1887.5v27.3 M1310.5 1887.5v31.7 M1323.8 1887.5v-26.4 M1336.3 1887.5v-27.6 M1341.5 1887.5v29.2 M1348.4 1887.5v27.3 M1355 1887.5v30.9 M1363.7 1887.5v26.4 M1371.4 1887.5v26.2 M1381.4 1887.5v-27.3 M1393 1887.5v-31.9 M1403.2 1887.5v-27 M1413.4 1887.5v27.6 M1423.3 1887.5v-25.7 M1432.1 1887.5v26.5 M1442.4 1887.5v29.8 M1452.9 1887.5v-30.8 M1465.7 1887.5v31.9 M1478.2 1887.5v-29.3 M1484.6 1887.5v28.8 M1496.8 1887.5v31.7 M1510.3 1887.5v-28 M1519.1 1887.5v29.2 M1526.2 1887.5v25.6 M1532.9 1887.5v31.4 M1539.1 1887.5v29.1 M1546.2 1887.5v-32.1 M1552.5 1887.5v29.6 M1562.9 1887.5v-31.9 M1568.3 1887.5v-29.2 M1576.9 1887.5v28.2 M1584.5 1887.5v30.3 M1592 1887.5v-31.8 M1599.7 1887.5v26.8 M1611 1887.5v-28 M1621.3 1887.5v27.8 M1632.2 1887.5v-25.4 M1644.6 1887.5v-31.5 M1651.6 1887.5v28.4 M1659.4 1887.5v-32.1 M1672.5 1887.5v25.8 M1686.3 1887.5v30.5 M1694.4 1887.5v32.1 M1701.9 1887.5v30.8 M1708.8 1887.5v28.2 M1719 1887.5v-31.9 M1728 1887.5v-26.6 M1740.9 1887.5v27.3 M1753.1 1887.5v-29.4 M1758.1 1887.5v26.3 M1771.8 1887.5v-32.2 M1785.2 1887.5v-28.5 M1798.4 1887.5v31.2 M1806 1887.5v-26.2 M1813.3 1887.5v26.8 M1821.2 1887.5v26.9 M1829.5 1887.5v-25.5 M1839.4 1887.5v25.6" stroke="#24382a" stroke-width="3" fill="none"/>
<path d="M1062 1861.3 L1065.9 1861.7 L1070.2 1861.4 L1076.1 1861.7 L1079.2 1861.1 L1084 1861.7 L1090 1861.2 L1094.1 1861.8 L1097.2 1861.2 L1100.4 1861.6 L1106 1861.3 L1110.3 1861.7 L1115.9 1861.1 L1120.8 1861.8 L1126.3 1861.2 L1132.1 1861.8 L1137 1861.3 L1141.5 1861.8 L1147.2 1861.1 L1152.8 1861.9 L1156.5 1861.2 L1160.5 1861.7 L1165.8 1861.2 L1171.6 1861.8 L1174.7 1861.4 L1179.9 1861.8 L1185.9 1861.2 L1190.4 1861.9 L1193.6 1861.3 L1197.1 1861.8 L1200.4 1861.1 L1203.7 1861.8 L1208.6 1861.2 L1213 1861.9 L1217 1860.8 L1221.6 1861.9 L1227.1 1861.2 L1230.3 1861.6 L1233.9 1861.2 L1238.4 1862 L1244.4 1860.8 L1249.4 1861.7 L1252.6 1860.8 L1257.4 1861.7 L1262.6 1860.9 L1267 1862.2 L1271.8 1860.3 L1276.2 1862 L1281 1861.1 L1285.3 1861.8 L1290 1860.8 L1295 1862.3 L1299 1860.6 L1304.6 1862.2 L1309.4 1860.8 L1313 1862 L1316.9 1861.3 L1321.1 1862.1 L1324.3 1861 L1329.9 1861.7 L1334.9 1861 L1340.8 1861.8 L1344.6 1861.3 L1347.9 1861.9 L1352.2 1861.3 L1356.5 1861.8 L1359.5 1861.1 L1363.8 1861.7 L1368.6 1861.3 L1374.2 1861.8 L1378.5 1861.2 L1383 1861.7 L1387.5 1861.4 L1391.2 1861.7 L1394.7 1860.9 L1398 1861.8 L1402.9 1861.1 L1406.5 1861.9 L1410.7 1861.3 L1416.4 1861.6 L1422.1 1861.3 L1427 1861.7 L1430.6 1861.3 L1436.3 1861.9 L1440.1 1861.2 L1443.2 1861.7 L1448.8 1861.1 L1451.8 1861.8 L1457.5 1861.3 L1461.6 1861.8 L1466.6 1861.1 L1469.9 1861.7 L1474.4 1860.9 L1479.3 1861.8 L1484.9 1860.9 L1489 1862.1 L1493.9 1861.3 L1497.3 1861.9 L1501.8 1861.1 L1505.9 1862.3 L1509.9 1861 L1514 1862.1 L1517.8 1860.7 L1522.5 1861.9 L1527.6 1860.8 L1531 1862.3 L1534.9 1860.8 L1540.9 1862.2 L1546 1861 L1551 1862 L1556.6 1860.7 L1562.1 1861.7 L1566.9 1861.1 L1571.1 1861.9 L1575.5 1860.7 L1578.5 1862.9 L1582.9 1860.9 L1587.9 1862.4 L1591.2 1861.1 L1596.6 1861.9 L1602 1861.3 L1606.9 1862.1 L1611.5 1861.1 L1615 1862.1 L1618.1 1861.1 L1622.6 1862.1 L1625.6 1860.9 L1630.2 1862.1 L1635.5 1860.7 L1639.6 1862.1 L1645.4 1861 L1648.9 1862.3 L1652.3 1861.2 L1656.6 1861.8 L1661.7 1861.1 L1664.9 1862.2 L1670.4 1860.9 L1674.3 1861.7 L1679.2 1861 L1683.3 1861.8 L1689 1860.6 L1693.5 1862 L1697.2 1860.6 L1702.7 1861.9 L1706.9 1861 L1712.8 1862.4 L1717.1 1860.8 L1723 1862.2 L1726.2 1861.1 L1729.8 1862 L1733.1 1861 L1737.4 1862 L1741.7 1860.7 L1746.7 1861.9 L1752.2 1861 L1757.2 1861.9 L1761.2 1861.3 L1765.7 1862.4 L1770.8 1861.3 L1776.7 1862.1 L1781 1860.9 L1787 1862 L1791.5 1861.1 L1797.4 1861.9 L1802.1 1860.9 L1805.9 1862 L1811.2 1861.3 L1815 1861.8 L1818.5 1861.3 L1822.7 1862.1 L1827.5 1861.3 L1831.2 1862.1 L1835.8 1860.7 L1841 1860.7 L1841 1912.7 L1835.8 1912.7 L1831.2 1914.1 L1827.5 1913.3 L1822.7 1914.1 L1818.5 1913.3 L1815 1913.8 L1811.2 1913.3 L1805.9 1914 L1802.1 1912.9 L1797.4 1913.9 L1791.5 1913.1 L1787 1914 L1781 1912.9 L1776.7 1914.1 L1770.8 1913.3 L1765.7 1914.4 L1761.2 1913.3 L1757.2 1913.9 L1752.2 1913 L1746.7 1913.9 L1741.7 1912.7 L1737.4 1914 L1733.1 1913 L1729.8 1914 L1726.2 1913.1 L1723 1914.2 L1717.1 1912.8 L1712.8 1914.4 L1706.9 1913 L1702.7 1913.9 L1697.2 1912.6 L1693.5 1914 L1689 1912.6 L1683.3 1913.8 L1679.2 1913 L1674.3 1913.7 L1670.4 1912.9 L1664.9 1914.2 L1661.7 1913.1 L1656.6 1913.8 L1652.3 1913.2 L1648.9 1914.3 L1645.4 1913 L1639.6 1914.1 L1635.5 1912.7 L1630.2 1914.1 L1625.6 1912.9 L1622.6 1914.1 L1618.1 1913.1 L1615 1914.1 L1611.5 1913.1 L1606.9 1914.1 L1602 1913.3 L1596.6 1913.9 L1591.2 1913.1 L1587.9 1914.4 L1582.9 1912.9 L1578.5 1914.9 L1575.5 1912.7 L1571.1 1913.9 L1566.9 1913.1 L1562.1 1913.7 L1556.6 1912.7 L1551 1914 L1546 1913 L1540.9 1914.2 L1534.9 1912.8 L1531 1914.3 L1527.6 1912.8 L1522.5 1913.9 L1517.8 1912.7 L1514 1914.1 L1509.9 1913 L1505.9 1914.3 L1501.8 1913.1 L1497.3 1913.9 L1493.9 1913.3 L1489 1914.1 L1484.9 1912.9 L1479.3 1913.8 L1474.4 1912.9 L1469.9 1913.7 L1466.6 1913.1 L1461.6 1913.8 L1457.5 1913.3 L1451.8 1913.8 L1448.8 1913.1 L1443.2 1913.7 L1440.1 1913.2 L1436.3 1913.9 L1430.6 1913.3 L1427 1913.7 L1422.1 1913.3 L1416.4 1913.6 L1410.7 1913.3 L1406.5 1913.9 L1402.9 1913.1 L1398 1913.8 L1394.7 1912.9 L1391.2 1913.7 L1387.5 1913.4 L1383 1913.7 L1378.5 1913.2 L1374.2 1913.8 L1368.6 1913.3 L1363.8 1913.7 L1359.5 1913.1 L1356.5 1913.8 L1352.2 1913.3 L1347.9 1913.9 L1344.6 1913.3 L1340.8 1913.8 L1334.9 1913 L1329.9 1913.7 L1324.3 1913 L1321.1 1914.1 L1316.9 1913.3 L1313 1914 L1309.4 1912.8 L1304.6 1914.2 L1299 1912.6 L1295 1914.3 L1290 1912.8 L1285.3 1913.8 L1281 1913.1 L1276.2 1914 L1271.8 1912.3 L1267 1914.2 L1262.6 1912.9 L1257.4 1913.7 L1252.6 1912.8 L1249.4 1913.7 L1244.4 1912.8 L1238.4 1914 L1233.9 1913.2 L1230.3 1913.6 L1227.1 1913.2 L1221.6 1913.9 L1217 1912.8 L1213 1913.9 L1208.6 1913.2 L1203.7 1913.8 L1200.4 1913.1 L1197.1 1913.8 L1193.6 1913.3 L1190.4 1913.9 L1185.9 1913.2 L1179.9 1913.8 L1174.7 1913.4 L1171.6 1913.8 L1165.8 1913.2 L1160.5 1913.7 L1156.5 1913.2 L1152.8 1913.9 L1147.2 1913.1 L1141.5 1913.8 L1137 1913.3 L1132.1 1913.8 L1126.3 1913.2 L1120.8 1913.8 L1115.9 1913.1 L1110.3 1913.7 L1106 1913.3 L1100.4 1913.6 L1097.2 1913.2 L1094.1 1913.8 L1090 1913.2 L1084 1913.7 L1079.2 1913.1 L1076.1 1913.7 L1070.2 1913.4 L1065.9 1913.7 L1062 1913.3Z" fill="#263a2a"/>
<path d="M1062 1867.3 L1065.9 1867.7 L1070.2 1867.4 L1076.1 1867.7 L1079.2 1867.1 L1084 1867.7 L1090 1867.2 L1094.1 1867.8 L1097.2 1867.2 L1100.4 1867.6 L1106 1867.3 L1110.3 1867.7 L1115.9 1867.1 L1120.8 1867.8 L1126.3 1867.2 L1132.1 1867.8 L1137 1867.3 L1141.5 1867.8 L1147.2 1867.1 L1152.8 1867.9 L1156.5 1867.2 L1160.5 1867.7 L1165.8 1867.2 L1171.6 1867.8 L1174.7 1867.4 L1179.9 1867.8 L1185.9 1867.2 L1190.4 1867.9 L1193.6 1867.3 L1197.1 1867.8 L1200.4 1867.1 L1203.7 1867.8 L1208.6 1867.2 L1213 1867.9 L1217 1866.8 L1221.6 1867.9 L1227.1 1867.2 L1230.3 1867.6 L1233.9 1867.2 L1238.4 1868 L1244.4 1866.8 L1249.4 1867.7 L1252.6 1866.8 L1257.4 1867.7 L1262.6 1866.9 L1267 1868.2 L1271.8 1866.3 L1276.2 1868 L1281 1867.1 L1285.3 1867.8 L1290 1866.8 L1295 1868.3 L1299 1866.6 L1304.6 1868.2 L1309.4 1866.8 L1313 1868 L1316.9 1867.3 L1321.1 1868.1 L1324.3 1867 L1329.9 1867.7 L1334.9 1867 L1340.8 1867.8 L1344.6 1867.3 L1347.9 1867.9 L1352.2 1867.3 L1356.5 1867.8 L1359.5 1867.1 L1363.8 1867.7 L1368.6 1867.3 L1374.2 1867.8 L1378.5 1867.2 L1383 1867.7 L1387.5 1867.4 L1391.2 1867.7 L1394.7 1866.9 L1398 1867.8 L1402.9 1867.1 L1406.5 1867.9 L1410.7 1867.3 L1416.4 1867.6 L1422.1 1867.3 L1427 1867.7 L1430.6 1867.3 L1436.3 1867.9 L1440.1 1867.2 L1443.2 1867.7 L1448.8 1867.1 L1451.8 1867.8 L1457.5 1867.3 L1461.6 1867.8 L1466.6 1867.1 L1469.9 1867.7 L1474.4 1866.9 L1479.3 1867.8 L1484.9 1866.9 L1489 1868.1 L1493.9 1867.3 L1497.3 1867.9 L1501.8 1867.1 L1505.9 1868.3 L1509.9 1867 L1514 1868.1 L1517.8 1866.7 L1522.5 1867.9 L1527.6 1866.8 L1531 1868.3 L1534.9 1866.8 L1540.9 1868.2 L1546 1867 L1551 1868 L1556.6 1866.7 L1562.1 1867.7 L1566.9 1867.1 L1571.1 1867.9 L1575.5 1866.7 L1578.5 1868.9 L1582.9 1866.9 L1587.9 1868.4 L1591.2 1867.1 L1596.6 1867.9 L1602 1867.3 L1606.9 1868.1 L1611.5 1867.1 L1615 1868.1 L1618.1 1867.1 L1622.6 1868.1 L1625.6 1866.9 L1630.2 1868.1 L1635.5 1866.7 L1639.6 1868.1 L1645.4 1867 L1648.9 1868.3 L1652.3 1867.2 L1656.6 1867.8 L1661.7 1867.1 L1664.9 1868.2 L1670.4 1866.9 L1674.3 1867.7 L1679.2 1867 L1683.3 1867.8 L1689 1866.6 L1693.5 1868 L1697.2 1866.6 L1702.7 1867.9 L1706.9 1867 L1712.8 1868.4 L1717.1 1866.8 L1723 1868.2 L1726.2 1867.1 L1729.8 1868 L1733.1 1867 L1737.4 1868 L1741.7 1866.7 L1746.7 1867.9 L1752.2 1867 L1757.2 1867.9 L1761.2 1867.3 L1765.7 1868.4 L1770.8 1867.3 L1776.7 1868.1 L1781 1866.9 L1787 1868 L1791.5 1867.1 L1797.4 1867.9 L1802.1 1866.9 L1805.9 1868 L1811.2 1867.3 L1815 1867.8 L1818.5 1867.3 L1822.7 1868.1 L1827.5 1867.3 L1831.2 1868.1 L1835.8 1866.7 L1841 1866.7 L1841 1906.7 L1835.8 1906.7 L1831.2 1908.1 L1827.5 1907.3 L1822.7 1908.1 L1818.5 1907.3 L1815 1907.8 L1811.2 1907.3 L1805.9 1908 L1802.1 1906.9 L1797.4 1907.9 L1791.5 1907.1 L1787 1908 L1781 1906.9 L1776.7 1908.1 L1770.8 1907.3 L1765.7 1908.4 L1761.2 1907.3 L1757.2 1907.9 L1752.2 1907 L1746.7 1907.9 L1741.7 1906.7 L1737.4 1908 L1733.1 1907 L1729.8 1908 L1726.2 1907.1 L1723 1908.2 L1717.1 1906.8 L1712.8 1908.4 L1706.9 1907 L1702.7 1907.9 L1697.2 1906.6 L1693.5 1908 L1689 1906.6 L1683.3 1907.8 L1679.2 1907 L1674.3 1907.7 L1670.4 1906.9 L1664.9 1908.2 L1661.7 1907.1 L1656.6 1907.8 L1652.3 1907.2 L1648.9 1908.3 L1645.4 1907 L1639.6 1908.1 L1635.5 1906.7 L1630.2 1908.1 L1625.6 1906.9 L1622.6 1908.1 L1618.1 1907.1 L1615 1908.1 L1611.5 1907.1 L1606.9 1908.1 L1602 1907.3 L1596.6 1907.9 L1591.2 1907.1 L1587.9 1908.4 L1582.9 1906.9 L1578.5 1908.9 L1575.5 1906.7 L1571.1 1907.9 L1566.9 1907.1 L1562.1 1907.7 L1556.6 1906.7 L1551 1908 L1546 1907 L1540.9 1908.2 L1534.9 1906.8 L1531 1908.3 L1527.6 1906.8 L1522.5 1907.9 L1517.8 1906.7 L1514 1908.1 L1509.9 1907 L1505.9 1908.3 L1501.8 1907.1 L1497.3 1907.9 L1493.9 1907.3 L1489 1908.1 L1484.9 1906.9 L1479.3 1907.8 L1474.4 1906.9 L1469.9 1907.7 L1466.6 1907.1 L1461.6 1907.8 L1457.5 1907.3 L1451.8 1907.8 L1448.8 1907.1 L1443.2 1907.7 L1440.1 1907.2 L1436.3 1907.9 L1430.6 1907.3 L1427 1907.7 L1422.1 1907.3 L1416.4 1907.6 L1410.7 1907.3 L1406.5 1907.9 L1402.9 1907.1 L1398 1907.8 L1394.7 1906.9 L1391.2 1907.7 L1387.5 1907.4 L1383 1907.7 L1378.5 1907.2 L1374.2 1907.8 L1368.6 1907.3 L1363.8 1907.7 L1359.5 1907.1 L1356.5 1907.8 L1352.2 1907.3 L1347.9 1907.9 L1344.6 1907.3 L1340.8 1907.8 L1334.9 1907 L1329.9 1907.7 L1324.3 1907 L1321.1 1908.1 L1316.9 1907.3 L1313 1908 L1309.4 1906.8 L1304.6 1908.2 L1299 1906.6 L1295 1908.3 L1290 1906.8 L1285.3 1907.8 L1281 1907.1 L1276.2 1908 L1271.8 1906.3 L1267 1908.2 L1262.6 1906.9 L1257.4 1907.7 L1252.6 1906.8 L1249.4 1907.7 L1244.4 1906.8 L1238.4 1908 L1233.9 1907.2 L1230.3 1907.6 L1227.1 1907.2 L1221.6 1907.9 L1217 1906.8 L1213 1907.9 L1208.6 1907.2 L1203.7 1907.8 L1200.4 1907.1 L1197.1 1907.8 L1193.6 1907.3 L1190.4 1907.9 L1185.9 1907.2 L1179.9 1907.8 L1174.7 1907.4 L1171.6 1907.8 L1165.8 1907.2 L1160.5 1907.7 L1156.5 1907.2 L1152.8 1907.9 L1147.2 1907.1 L1141.5 1907.8 L1137 1907.3 L1132.1 1907.8 L1126.3 1907.2 L1120.8 1907.8 L1115.9 1907.1 L1110.3 1907.7 L1106 1907.3 L1100.4 1907.6 L1097.2 1907.2 L1094.1 1907.8 L1090 1907.2 L1084 1907.7 L1079.2 1907.1 L1076.1 1907.7 L1070.2 1907.4 L1065.9 1907.7 L1062 1907.3Z" fill="#2c7040"/>
<path d="M1062 1871.8 L1065.9 1872.2 L1070.2 1871.9 L1076.1 1872.2 L1079.2 1871.6 L1084 1872.2 L1090 1871.7 L1094.1 1872.3 L1097.2 1871.7 L1100.4 1872.1 L1106 1871.8 L1110.3 1872.2 L1115.9 1871.6 L1120.8 1872.3 L1126.3 1871.7 L1132.1 1872.3 L1137 1871.8 L1141.5 1872.3 L1147.2 1871.6 L1152.8 1872.4 L1156.5 1871.7 L1160.5 1872.2 L1165.8 1871.7 L1171.6 1872.3 L1174.7 1871.9 L1179.9 1872.3 L1185.9 1871.7 L1190.4 1872.4 L1193.6 1871.8 L1197.1 1872.3 L1200.4 1871.6 L1203.7 1872.3 L1208.6 1871.7 L1213 1872.4 L1217 1871.3 L1221.6 1872.4 L1227.1 1871.7 L1230.3 1872.1 L1233.9 1871.7 L1238.4 1872.5 L1244.4 1871.3 L1249.4 1872.2 L1252.6 1871.3 L1257.4 1872.2 L1262.6 1871.4 L1267 1872.7 L1271.8 1870.8 L1276.2 1872.5 L1281 1871.6 L1285.3 1872.3 L1290 1871.3 L1295 1872.8 L1299 1871.1 L1304.6 1872.7 L1309.4 1871.3 L1313 1872.5 L1316.9 1871.8 L1321.1 1872.6 L1324.3 1871.5 L1329.9 1872.2 L1334.9 1871.5 L1340.8 1872.3 L1344.6 1871.8 L1347.9 1872.4 L1352.2 1871.8 L1356.5 1872.3 L1359.5 1871.6 L1363.8 1872.2 L1368.6 1871.8 L1374.2 1872.3 L1378.5 1871.7 L1383 1872.2 L1387.5 1871.9 L1391.2 1872.2 L1394.7 1871.4 L1398 1872.3 L1402.9 1871.6 L1406.5 1872.4 L1410.7 1871.8 L1416.4 1872.1 L1422.1 1871.8 L1427 1872.2 L1430.6 1871.8 L1436.3 1872.4 L1440.1 1871.7 L1443.2 1872.2 L1448.8 1871.6 L1451.8 1872.3 L1457.5 1871.8 L1461.6 1872.3 L1466.6 1871.6 L1469.9 1872.2 L1474.4 1871.4 L1479.3 1872.3 L1484.9 1871.4 L1489 1872.6 L1493.9 1871.8 L1497.3 1872.4 L1501.8 1871.6 L1505.9 1872.8 L1509.9 1871.5 L1514 1872.6 L1517.8 1871.2 L1522.5 1872.4 L1527.6 1871.3 L1531 1872.8 L1534.9 1871.3 L1540.9 1872.7 L1546 1871.5 L1551 1872.5 L1556.6 1871.2 L1562.1 1872.2 L1566.9 1871.6 L1571.1 1872.4 L1575.5 1871.2 L1578.5 1873.4 L1582.9 1871.4 L1587.9 1872.9 L1591.2 1871.6 L1596.6 1872.4 L1602 1871.8 L1606.9 1872.6 L1611.5 1871.6 L1615 1872.6 L1618.1 1871.6 L1622.6 1872.6 L1625.6 1871.4 L1630.2 1872.6 L1635.5 1871.2 L1639.6 1872.6 L1645.4 1871.5 L1648.9 1872.8 L1652.3 1871.7 L1656.6 1872.3 L1661.7 1871.6 L1664.9 1872.7 L1670.4 1871.4 L1674.3 1872.2 L1679.2 1871.5 L1683.3 1872.3 L1689 1871.1 L1693.5 1872.5 L1697.2 1871.1 L1702.7 1872.4 L1706.9 1871.5 L1712.8 1872.9 L1717.1 1871.3 L1723 1872.7 L1726.2 1871.6 L1729.8 1872.5 L1733.1 1871.5 L1737.4 1872.5 L1741.7 1871.2 L1746.7 1872.4 L1752.2 1871.5 L1757.2 1872.4 L1761.2 1871.8 L1765.7 1872.9 L1770.8 1871.8 L1776.7 1872.6 L1781 1871.4 L1787 1872.5 L1791.5 1871.6 L1797.4 1872.4 L1802.1 1871.4 L1805.9 1872.5 L1811.2 1871.8 L1815 1872.3 L1818.5 1871.8 L1822.7 1872.6 L1827.5 1871.8 L1831.2 1872.6 L1835.8 1871.2 L1841 1871.2 L1841 1902.2 L1835.8 1902.2 L1831.2 1903.6 L1827.5 1902.8 L1822.7 1903.6 L1818.5 1902.8 L1815 1903.3 L1811.2 1902.8 L1805.9 1903.5 L1802.1 1902.4 L1797.4 1903.4 L1791.5 1902.6 L1787 1903.5 L1781 1902.4 L1776.7 1903.6 L1770.8 1902.8 L1765.7 1903.9 L1761.2 1902.8 L1757.2 1903.4 L1752.2 1902.5 L1746.7 1903.4 L1741.7 1902.2 L1737.4 1903.5 L1733.1 1902.5 L1729.8 1903.5 L1726.2 1902.6 L1723 1903.7 L1717.1 1902.3 L1712.8 1903.9 L1706.9 1902.5 L1702.7 1903.4 L1697.2 1902.1 L1693.5 1903.5 L1689 1902.1 L1683.3 1903.3 L1679.2 1902.5 L1674.3 1903.2 L1670.4 1902.4 L1664.9 1903.7 L1661.7 1902.6 L1656.6 1903.3 L1652.3 1902.7 L1648.9 1903.8 L1645.4 1902.5 L1639.6 1903.6 L1635.5 1902.2 L1630.2 1903.6 L1625.6 1902.4 L1622.6 1903.6 L1618.1 1902.6 L1615 1903.6 L1611.5 1902.6 L1606.9 1903.6 L1602 1902.8 L1596.6 1903.4 L1591.2 1902.6 L1587.9 1903.9 L1582.9 1902.4 L1578.5 1904.4 L1575.5 1902.2 L1571.1 1903.4 L1566.9 1902.6 L1562.1 1903.2 L1556.6 1902.2 L1551 1903.5 L1546 1902.5 L1540.9 1903.7 L1534.9 1902.3 L1531 1903.8 L1527.6 1902.3 L1522.5 1903.4 L1517.8 1902.2 L1514 1903.6 L1509.9 1902.5 L1505.9 1903.8 L1501.8 1902.6 L1497.3 1903.4 L1493.9 1902.8 L1489 1903.6 L1484.9 1902.4 L1479.3 1903.3 L1474.4 1902.4 L1469.9 1903.2 L1466.6 1902.6 L1461.6 1903.3 L1457.5 1902.8 L1451.8 1903.3 L1448.8 1902.6 L1443.2 1903.2 L1440.1 1902.7 L1436.3 1903.4 L1430.6 1902.8 L1427 1903.2 L1422.1 1902.8 L1416.4 1903.1 L1410.7 1902.8 L1406.5 1903.4 L1402.9 1902.6 L1398 1903.3 L1394.7 1902.4 L1391.2 1903.2 L1387.5 1902.9 L1383 1903.2 L1378.5 1902.7 L1374.2 1903.3 L1368.6 1902.8 L1363.8 1903.2 L1359.5 1902.6 L1356.5 1903.3 L1352.2 1902.8 L1347.9 1903.4 L1344.6 1902.8 L1340.8 1903.3 L1334.9 1902.5 L1329.9 1903.2 L1324.3 1902.5 L1321.1 1903.6 L1316.9 1902.8 L1313 1903.5 L1309.4 1902.3 L1304.6 1903.7 L1299 1902.1 L1295 1903.8 L1290 1902.3 L1285.3 1903.3 L1281 1902.6 L1276.2 1903.5 L1271.8 1901.8 L1267 1903.7 L1262.6 1902.4 L1257.4 1903.2 L1252.6 1902.3 L1249.4 1903.2 L1244.4 1902.3 L1238.4 1903.5 L1233.9 1902.7 L1230.3 1903.1 L1227.1 1902.7 L1221.6 1903.4 L1217 1902.3 L1213 1903.4 L1208.6 1902.7 L1203.7 1903.3 L1200.4 1902.6 L1197.1 1903.3 L1193.6 1902.8 L1190.4 1903.4 L1185.9 1902.7 L1179.9 1903.3 L1174.7 1902.9 L1171.6 1903.3 L1165.8 1902.7 L1160.5 1903.2 L1156.5 1902.7 L1152.8 1903.4 L1147.2 1902.6 L1141.5 1903.3 L1137 1902.8 L1132.1 1903.3 L1126.3 1902.7 L1120.8 1903.3 L1115.9 1902.6 L1110.3 1903.2 L1106 1902.8 L1100.4 1903.1 L1097.2 1902.7 L1094.1 1903.3 L1090 1902.7 L1084 1903.2 L1079.2 1902.6 L1076.1 1903.2 L1070.2 1902.9 L1065.9 1903.2 L1062 1902.8Z" fill="#2a9a4a"/>
<path d="M1062 1878.3 L1065.9 1878.7 L1070.2 1878.4 L1076.1 1878.7 L1079.2 1878.1 L1084 1878.7 L1090 1878.2 L1094.1 1878.8 L1097.2 1878.2 L1100.4 1878.6 L1106 1878.3 L1110.3 1878.7 L1115.9 1878.1 L1120.8 1878.8 L1126.3 1878.2 L1132.1 1878.8 L1137 1878.3 L1141.5 1878.8 L1147.2 1878.1 L1152.8 1878.9 L1156.5 1878.2 L1160.5 1878.7 L1165.8 1878.2 L1171.6 1878.8 L1174.7 1878.4 L1179.9 1878.8 L1185.9 1878.2 L1190.4 1878.9 L1193.6 1878.3 L1197.1 1878.8 L1200.4 1878.1 L1203.7 1878.8 L1208.6 1878.2 L1213 1878.9 L1217 1877.8 L1221.6 1878.9 L1227.1 1878.2 L1230.3 1878.6 L1233.9 1878.2 L1238.4 1879 L1244.4 1877.8 L1249.4 1878.7 L1252.6 1877.8 L1257.4 1878.7 L1262.6 1877.9 L1267 1879.2 L1271.8 1877.3 L1276.2 1879 L1281 1878.1 L1285.3 1878.8 L1290 1877.8 L1295 1879.3 L1299 1877.6 L1304.6 1879.2 L1309.4 1877.8 L1313 1879 L1316.9 1878.3 L1321.1 1879.1 L1324.3 1878 L1329.9 1878.7 L1334.9 1878 L1340.8 1878.8 L1344.6 1878.3 L1347.9 1878.9 L1352.2 1878.3 L1356.5 1878.8 L1359.5 1878.1 L1363.8 1878.7 L1368.6 1878.3 L1374.2 1878.8 L1378.5 1878.2 L1383 1878.7 L1387.5 1878.4 L1391.2 1878.7 L1394.7 1877.9 L1398 1878.8 L1402.9 1878.1 L1406.5 1878.9 L1410.7 1878.3 L1416.4 1878.6 L1422.1 1878.3 L1427 1878.7 L1430.6 1878.3 L1436.3 1878.9 L1440.1 1878.2 L1443.2 1878.7 L1448.8 1878.1 L1451.8 1878.8 L1457.5 1878.3 L1461.6 1878.8 L1466.6 1878.1 L1469.9 1878.7 L1474.4 1877.9 L1479.3 1878.8 L1484.9 1877.9 L1489 1879.1 L1493.9 1878.3 L1497.3 1878.9 L1501.8 1878.1 L1505.9 1879.3 L1509.9 1878 L1514 1879.1 L1517.8 1877.7 L1522.5 1878.9 L1527.6 1877.8 L1531 1879.3 L1534.9 1877.8 L1540.9 1879.2 L1546 1878 L1551 1879 L1556.6 1877.7 L1562.1 1878.7 L1566.9 1878.1 L1571.1 1878.9 L1575.5 1877.7 L1578.5 1879.9 L1582.9 1877.9 L1587.9 1879.4 L1591.2 1878.1 L1596.6 1878.9 L1602 1878.3 L1606.9 1879.1 L1611.5 1878.1 L1615 1879.1 L1618.1 1878.1 L1622.6 1879.1 L1625.6 1877.9 L1630.2 1879.1 L1635.5 1877.7 L1639.6 1879.1 L1645.4 1878 L1648.9 1879.3 L1652.3 1878.2 L1656.6 1878.8 L1661.7 1878.1 L1664.9 1879.2 L1670.4 1877.9 L1674.3 1878.7 L1679.2 1878 L1683.3 1878.8 L1689 1877.6 L1693.5 1879 L1697.2 1877.6 L1702.7 1878.9 L1706.9 1878 L1712.8 1879.4 L1717.1 1877.8 L1723 1879.2 L1726.2 1878.1 L1729.8 1879 L1733.1 1878 L1737.4 1879 L1741.7 1877.7 L1746.7 1878.9 L1752.2 1878 L1757.2 1878.9 L1761.2 1878.3 L1765.7 1879.4 L1770.8 1878.3 L1776.7 1879.1 L1781 1877.9 L1787 1879 L1791.5 1878.1 L1797.4 1878.9 L1802.1 1877.9 L1805.9 1879 L1811.2 1878.3 L1815 1878.8 L1818.5 1878.3 L1822.7 1879.1 L1827.5 1878.3 L1831.2 1879.1 L1835.8 1877.7 L1841 1877.7 L1841 1895.7 L1835.8 1895.7 L1831.2 1897.1 L1827.5 1896.3 L1822.7 1897.1 L1818.5 1896.3 L1815 1896.8 L1811.2 1896.3 L1805.9 1897 L1802.1 1895.9 L1797.4 1896.9 L1791.5 1896.1 L1787 1897 L1781 1895.9 L1776.7 1897.1 L1770.8 1896.3 L1765.7 1897.4 L1761.2 1896.3 L1757.2 1896.9 L1752.2 1896 L1746.7 1896.9 L1741.7 1895.7 L1737.4 1897 L1733.1 1896 L1729.8 1897 L1726.2 1896.1 L1723 1897.2 L1717.1 1895.8 L1712.8 1897.4 L1706.9 1896 L1702.7 1896.9 L1697.2 1895.6 L1693.5 1897 L1689 1895.6 L1683.3 1896.8 L1679.2 1896 L1674.3 1896.7 L1670.4 1895.9 L1664.9 1897.2 L1661.7 1896.1 L1656.6 1896.8 L1652.3 1896.2 L1648.9 1897.3 L1645.4 1896 L1639.6 1897.1 L1635.5 1895.7 L1630.2 1897.1 L1625.6 1895.9 L1622.6 1897.1 L1618.1 1896.1 L1615 1897.1 L1611.5 1896.1 L1606.9 1897.1 L1602 1896.3 L1596.6 1896.9 L1591.2 1896.1 L1587.9 1897.4 L1582.9 1895.9 L1578.5 1897.9 L1575.5 1895.7 L1571.1 1896.9 L1566.9 1896.1 L1562.1 1896.7 L1556.6 1895.7 L1551 1897 L1546 1896 L1540.9 1897.2 L1534.9 1895.8 L1531 1897.3 L1527.6 1895.8 L1522.5 1896.9 L1517.8 1895.7 L1514 1897.1 L1509.9 1896 L1505.9 1897.3 L1501.8 1896.1 L1497.3 1896.9 L1493.9 1896.3 L1489 1897.1 L1484.9 1895.9 L1479.3 1896.8 L1474.4 1895.9 L1469.9 1896.7 L1466.6 1896.1 L1461.6 1896.8 L1457.5 1896.3 L1451.8 1896.8 L1448.8 1896.1 L1443.2 1896.7 L1440.1 1896.2 L1436.3 1896.9 L1430.6 1896.3 L1427 1896.7 L1422.1 1896.3 L1416.4 1896.6 L1410.7 1896.3 L1406.5 1896.9 L1402.9 1896.1 L1398 1896.8 L1394.7 1895.9 L1391.2 1896.7 L1387.5 1896.4 L1383 1896.7 L1378.5 1896.2 L1374.2 1896.8 L1368.6 1896.3 L1363.8 1896.7 L1359.5 1896.1 L1356.5 1896.8 L1352.2 1896.3 L1347.9 1896.9 L1344.6 1896.3 L1340.8 1896.8 L1334.9 1896 L1329.9 1896.7 L1324.3 1896 L1321.1 1897.1 L1316.9 1896.3 L1313 1897 L1309.4 1895.8 L1304.6 1897.2 L1299 1895.6 L1295 1897.3 L1290 1895.8 L1285.3 1896.8 L1281 1896.1 L1276.2 1897 L1271.8 1895.3 L1267 1897.2 L1262.6 1895.9 L1257.4 1896.7 L1252.6 1895.8 L1249.4 1896.7 L1244.4 1895.8 L1238.4 1897 L1233.9 1896.2 L1230.3 1896.6 L1227.1 1896.2 L1221.6 1896.9 L1217 1895.8 L1213 1896.9 L1208.6 1896.2 L1203.7 1896.8 L1200.4 1896.1 L1197.1 1896.8 L1193.6 1896.3 L1190.4 1896.9 L1185.9 1896.2 L1179.9 1896.8 L1174.7 1896.4 L1171.6 1896.8 L1165.8 1896.2 L1160.5 1896.7 L1156.5 1896.2 L1152.8 1896.9 L1147.2 1896.1 L1141.5 1896.8 L1137 1896.3 L1132.1 1896.8 L1126.3 1896.2 L1120.8 1896.8 L1115.9 1896.1 L1110.3 1896.7 L1106 1896.3 L1100.4 1896.6 L1097.2 1896.2 L1094.1 1896.8 L1090 1896.2 L1084 1896.7 L1079.2 1896.1 L1076.1 1896.7 L1070.2 1896.4 L1065.9 1896.7 L1062 1896.3Z" fill="#35b555"/>
<path d="M167.8 1771v26 M182.5 1771v30.4 M192.8 1771v-29 M210 1771v-22.8 M230.1 1771v-29.4 M240.1 1771v26 M258.5 1771v28 M278.3 1771v32 M299.9 1771v-30.3 M313.4 1771v29.1 M337 1771v-29.9 M348.9 1771v-28.5 M366.3 1771v-23.9 M386.5 1771v28.2 M396.5 1771v31.3 M420.9 1771v28 M445 1771v29.6 M454.7 1771v20.9 M478.1 1771v-25.2 M494.6 1771v30.7 M505.8 1771v-23 M527.5 1771v23.6 M543.5 1771v-22.9 M554.9 1771v-31.2 M570.9 1771v-25.1 M583.7 1771v32.5 M599.9 1771v31.1 M623.4 1770.3v29.3 M641.1 1769.8v29.2 M666.7 1769v22.8 M688.5 1768.3v25.9 M702.4 1768v25.3 M727.9 1767.8v23.5 M748 1767.6v-31.6 M768.3 1767.5v31.3 M789.2 1767.3v30.7 M807.6 1767.2v22.9 M833.2 1767v-32 M847.4 1766.9v23.5 M859.5 1766.8v-29.8 M874.2 1766.7v-32.3 M893.1 1766.6v23.9 M903.3 1766.5v-28.7 M928.5 1766.3v24.5 M938 1766.2v31.9 M962.6 1766v-29.5" stroke="#3a2a18" stroke-width="3" fill="none"/>
<path d="M163 1747.3 L172.4 1764.8 L184.1 1750.9 L192.7 1761.3 L201.7 1751.4 L215.5 1764.3 L226.4 1747.6 L235.8 1762.3 L244.8 1752.6 L252.6 1767.3 L262.6 1745.9 L273.5 1764 L282 1752 L290.8 1777.5 L300.8 1746.4 L310 1762.4 L318.9 1747 L327.8 1769.4 L335.3 1751.9 L342.7 1766 L351.7 1748.8 L363.5 1765.4 L373.7 1744.2 L385.4 1766 L396.6 1743.2 L410.4 1769.3 L418.6 1748.2 L427.4 1766.5 L439 1745.2 L446.3 1766.6 L457.4 1740.1 L468 1769.8 L476.8 1751.4 L486.5 1761.9 L498.9 1750.1 L506.1 1762.2 L513.7 1751.2 L520.9 1767.5 L528.1 1748.8 L541.1 1767.9 L550.3 1748.1 L557.8 1768.4 L568.1 1745.2 L576.7 1768.4 L586.4 1749.5 L600 1766.3 L610.5 1750.2 L623.9 1763.1 L635.7 1752.1 L643.5 1764 L654 1747.6 L664.7 1759.3 L674.2 1746.7 L687.3 1763.4 L695.6 1747.3 L704.2 1760.7 L712.9 1745.7 L723.9 1760.5 L736.1 1745.7 L748.9 1760.9 L756.2 1745 L768.4 1757.1 L780.5 1748.4 L793.2 1760.1 L801.5 1745.4 L812.8 1762.1 L823.9 1746.9 L836.5 1760.2 L847 1748.1 L860.6 1759 L867.9 1746.6 L875.3 1757.4 L887.5 1747.1 L896.3 1757.7 L906.9 1748.2 L916.3 1758.6 L929.4 1746.5 L939.7 1757.1 L949.5 1745.9 L961.3 1758.2 L968 1758.2 L968 1786.2 L961.3 1786.2 L949.5 1773.9 L939.7 1785.1 L929.4 1774.5 L916.3 1786.6 L906.9 1776.2 L896.3 1785.7 L887.5 1775.1 L875.3 1785.4 L867.9 1774.6 L860.6 1787 L847 1776.1 L836.5 1788.2 L823.9 1774.9 L812.8 1790.1 L801.5 1773.4 L793.2 1788.1 L780.5 1776.4 L768.4 1785.1 L756.2 1773 L748.9 1788.9 L736.1 1773.7 L723.9 1788.5 L712.9 1773.7 L704.2 1788.7 L695.6 1775.3 L687.3 1791.4 L674.2 1774.7 L664.7 1787.3 L654 1775.6 L643.5 1792 L635.7 1780.1 L623.9 1791.1 L610.5 1778.2 L600 1794.3 L586.4 1777.5 L576.7 1796.4 L568.1 1773.2 L557.8 1796.4 L550.3 1776.1 L541.1 1795.9 L528.1 1776.8 L520.9 1795.5 L513.7 1779.2 L506.1 1790.2 L498.9 1778.1 L486.5 1789.9 L476.8 1779.4 L468 1797.8 L457.4 1768.1 L446.3 1794.6 L439 1773.2 L427.4 1794.5 L418.6 1776.2 L410.4 1797.3 L396.6 1771.2 L385.4 1794 L373.7 1772.2 L363.5 1793.4 L351.7 1776.8 L342.7 1794 L335.3 1779.9 L327.8 1797.4 L318.9 1775 L310 1790.4 L300.8 1774.4 L290.8 1805.5 L282 1780 L273.5 1792 L262.6 1773.9 L252.6 1795.3 L244.8 1780.6 L235.8 1790.3 L226.4 1775.6 L215.5 1792.3 L201.7 1779.4 L192.7 1789.3 L184.1 1778.9 L172.4 1792.8 L163 1775.3Z" fill="#4a3216"/>
<path d="M163 1753.1 L173.4 1761.1 L183.7 1753.8 L195.6 1760.8 L205.6 1752.1 L216.5 1760.8 L225.9 1754.5 L234.9 1760.6 L247 1753.4 L260.3 1759.8 L268.1 1752.5 L275.5 1759.3 L285.6 1751.2 L297.6 1760.7 L306.2 1753.7 L319.3 1760.4 L331 1754.6 L343.9 1759.9 L351.1 1754.1 L364.8 1761 L374.2 1750.4 L381.8 1759.8 L393.2 1753.6 L405.6 1761 L419.2 1755.1 L432.4 1760.6 L439.6 1755.3 L447.6 1758.7 L455 1755 L466 1761.1 L475.4 1752.9 L482.4 1762.4 L490.7 1753.4 L503.2 1761.8 L514 1754 L527.8 1758.9 L539 1754.3 L548.2 1762.4 L561.5 1754.8 L568.8 1762.3 L578.8 1752.9 L589.4 1761.8 L601.1 1754.5 L608.4 1761.6 L617.3 1753.8 L629.4 1760.5 L636.8 1752.4 L646.6 1760.9 L660 1750.8 L672.2 1757.2 L684.8 1752.5 L692 1756.5 L701 1749.8 L712.8 1756.7 L724.9 1751.7 L734.5 1755.8 L742.1 1751.8 L756.1 1754.8 L764.5 1752.1 L778.3 1755.5 L785.8 1749.6 L793.7 1757.4 L802 1750 L815.9 1757 L828 1749 L838.3 1757.5 L851.2 1749.2 L863.5 1755.5 L871.5 1749 L883.2 1754.4 L890.2 1750.5 L899.1 1756.6 L909.2 1750.7 L918.6 1755.2 L929.1 1750.4 L940.3 1754.4 L948.3 1750.2 L957.2 1754.6 L968 1754.6 L968 1782.6 L957.2 1782.6 L948.3 1778.2 L940.3 1782.4 L929.1 1778.4 L918.6 1783.2 L909.2 1778.7 L899.1 1784.6 L890.2 1778.5 L883.2 1782.4 L871.5 1777 L863.5 1783.5 L851.2 1777.2 L838.3 1785.5 L828 1777 L815.9 1785 L802 1778 L793.7 1785.4 L785.8 1777.6 L778.3 1783.5 L764.5 1780.1 L756.1 1782.8 L742.1 1779.8 L734.5 1783.8 L724.9 1779.7 L712.8 1784.7 L701 1777.8 L692 1784.5 L684.8 1780.5 L672.2 1785.2 L660 1778.8 L646.6 1788.9 L636.8 1780.4 L629.4 1788.5 L617.3 1781.8 L608.4 1789.6 L601.1 1782.5 L589.4 1789.8 L578.8 1780.9 L568.8 1790.3 L561.5 1782.8 L548.2 1790.4 L539 1782.3 L527.8 1786.9 L514 1782 L503.2 1789.8 L490.7 1781.4 L482.4 1790.4 L475.4 1780.9 L466 1789.1 L455 1783 L447.6 1786.7 L439.6 1783.3 L432.4 1788.6 L419.2 1783.1 L405.6 1789 L393.2 1781.6 L381.8 1787.8 L374.2 1778.4 L364.8 1789 L351.1 1782.1 L343.9 1787.9 L331 1782.6 L319.3 1788.4 L306.2 1781.7 L297.6 1788.7 L285.6 1779.2 L275.5 1787.3 L268.1 1780.5 L260.3 1787.8 L247 1781.4 L234.9 1788.6 L225.9 1782.5 L216.5 1788.8 L205.6 1780.1 L195.6 1788.8 L183.7 1781.8 L173.4 1789.1 L163 1781.1Z" fill="#4a3216"/>
<path d="M163 1749.8 L172.4 1767.3 L184.1 1753.4 L192.7 1763.8 L201.7 1753.9 L215.5 1766.8 L226.4 1750.1 L235.8 1764.8 L244.8 1755.1 L252.6 1769.8 L262.6 1748.4 L273.5 1766.5 L282 1754.5 L290.8 1780 L300.8 1748.9 L310 1764.9 L318.9 1749.5 L327.8 1771.9 L335.3 1754.4 L342.7 1768.5 L351.7 1751.3 L363.5 1767.9 L373.7 1746.7 L385.4 1768.5 L396.6 1745.7 L410.4 1771.8 L418.6 1750.7 L427.4 1769 L439 1747.7 L446.3 1769.1 L457.4 1742.6 L468 1772.3 L476.8 1753.9 L486.5 1764.4 L498.9 1752.6 L506.1 1764.7 L513.7 1753.7 L520.9 1770 L528.1 1751.3 L541.1 1770.4 L550.3 1750.6 L557.8 1770.9 L568.1 1747.7 L576.7 1770.9 L586.4 1752 L600 1768.8 L610.5 1752.7 L623.9 1765.6 L635.7 1754.6 L643.5 1766.5 L654 1750.1 L664.7 1761.8 L674.2 1749.2 L687.3 1765.9 L695.6 1749.8 L704.2 1763.2 L712.9 1748.2 L723.9 1763 L736.1 1748.2 L748.9 1763.4 L756.2 1747.5 L768.4 1759.6 L780.5 1750.9 L793.2 1762.6 L801.5 1747.9 L812.8 1764.6 L823.9 1749.4 L836.5 1762.7 L847 1750.6 L860.6 1761.5 L867.9 1749.1 L875.3 1759.9 L887.5 1749.6 L896.3 1760.2 L906.9 1750.7 L916.3 1761.1 L929.4 1749 L939.7 1759.6 L949.5 1748.4 L961.3 1760.7 L968 1760.7 L968 1783.7 L961.3 1783.7 L949.5 1771.4 L939.7 1782.6 L929.4 1772 L916.3 1784.1 L906.9 1773.7 L896.3 1783.2 L887.5 1772.6 L875.3 1782.9 L867.9 1772.1 L860.6 1784.5 L847 1773.6 L836.5 1785.7 L823.9 1772.4 L812.8 1787.6 L801.5 1770.9 L793.2 1785.6 L780.5 1773.9 L768.4 1782.6 L756.2 1770.5 L748.9 1786.4 L736.1 1771.2 L723.9 1786 L712.9 1771.2 L704.2 1786.2 L695.6 1772.8 L687.3 1788.9 L674.2 1772.2 L664.7 1784.8 L654 1773.1 L643.5 1789.5 L635.7 1777.6 L623.9 1788.6 L610.5 1775.7 L600 1791.8 L586.4 1775 L576.7 1793.9 L568.1 1770.7 L557.8 1793.9 L550.3 1773.6 L541.1 1793.4 L528.1 1774.3 L520.9 1793 L513.7 1776.7 L506.1 1787.7 L498.9 1775.6 L486.5 1787.4 L476.8 1776.9 L468 1795.3 L457.4 1765.6 L446.3 1792.1 L439 1770.7 L427.4 1792 L418.6 1773.7 L410.4 1794.8 L396.6 1768.7 L385.4 1791.5 L373.7 1769.7 L363.5 1790.9 L351.7 1774.3 L342.7 1791.5 L335.3 1777.4 L327.8 1794.9 L318.9 1772.5 L310 1787.9 L300.8 1771.9 L290.8 1803 L282 1777.5 L273.5 1789.5 L262.6 1771.4 L252.6 1792.8 L244.8 1778.1 L235.8 1787.8 L226.4 1773.1 L215.5 1789.8 L201.7 1776.9 L192.7 1786.8 L184.1 1776.4 L172.4 1790.3 L163 1772.8Z" fill="#a8661a"/>
<path d="M163 1755.6 L173.4 1763.6 L183.7 1756.3 L195.6 1763.3 L205.6 1754.6 L216.5 1763.3 L225.9 1757 L234.9 1763.1 L247 1755.9 L260.3 1762.3 L268.1 1755 L275.5 1761.8 L285.6 1753.7 L297.6 1763.2 L306.2 1756.2 L319.3 1762.9 L331 1757.1 L343.9 1762.4 L351.1 1756.6 L364.8 1763.5 L374.2 1752.9 L381.8 1762.3 L393.2 1756.1 L405.6 1763.5 L419.2 1757.6 L432.4 1763.1 L439.6 1757.8 L447.6 1761.2 L455 1757.5 L466 1763.6 L475.4 1755.4 L482.4 1764.9 L490.7 1755.9 L503.2 1764.3 L514 1756.5 L527.8 1761.4 L539 1756.8 L548.2 1764.9 L561.5 1757.3 L568.8 1764.8 L578.8 1755.4 L589.4 1764.3 L601.1 1757 L608.4 1764.1 L617.3 1756.3 L629.4 1763 L636.8 1754.9 L646.6 1763.4 L660 1753.3 L672.2 1759.7 L684.8 1755 L692 1759 L701 1752.3 L712.8 1759.2 L724.9 1754.2 L734.5 1758.3 L742.1 1754.3 L756.1 1757.3 L764.5 1754.6 L778.3 1758 L785.8 1752.1 L793.7 1759.9 L802 1752.5 L815.9 1759.5 L828 1751.5 L838.3 1760 L851.2 1751.7 L863.5 1758 L871.5 1751.5 L883.2 1756.9 L890.2 1753 L899.1 1759.1 L909.2 1753.2 L918.6 1757.7 L929.1 1752.9 L940.3 1756.9 L948.3 1752.7 L957.2 1757.1 L968 1757.1 L968 1780.1 L957.2 1780.1 L948.3 1775.7 L940.3 1779.9 L929.1 1775.9 L918.6 1780.7 L909.2 1776.2 L899.1 1782.1 L890.2 1776 L883.2 1779.9 L871.5 1774.5 L863.5 1781 L851.2 1774.7 L838.3 1783 L828 1774.5 L815.9 1782.5 L802 1775.5 L793.7 1782.9 L785.8 1775.1 L778.3 1781 L764.5 1777.6 L756.1 1780.3 L742.1 1777.3 L734.5 1781.3 L724.9 1777.2 L712.8 1782.2 L701 1775.3 L692 1782 L684.8 1778 L672.2 1782.7 L660 1776.3 L646.6 1786.4 L636.8 1777.9 L629.4 1786 L617.3 1779.3 L608.4 1787.1 L601.1 1780 L589.4 1787.3 L578.8 1778.4 L568.8 1787.8 L561.5 1780.3 L548.2 1787.9 L539 1779.8 L527.8 1784.4 L514 1779.5 L503.2 1787.3 L490.7 1778.9 L482.4 1787.9 L475.4 1778.4 L466 1786.6 L455 1780.5 L447.6 1784.2 L439.6 1780.8 L432.4 1786.1 L419.2 1780.6 L405.6 1786.5 L393.2 1779.1 L381.8 1785.3 L374.2 1775.9 L364.8 1786.5 L351.1 1779.6 L343.9 1785.4 L331 1780.1 L319.3 1785.9 L306.2 1779.2 L297.6 1786.2 L285.6 1776.7 L275.5 1784.8 L268.1 1778 L260.3 1785.3 L247 1778.9 L234.9 1786.1 L225.9 1780 L216.5 1786.3 L205.6 1777.6 L195.6 1786.3 L183.7 1779.3 L173.4 1786.6 L163 1778.6Z" fill="#a8661a"/>
<path d="M163 1752.3 L172.4 1769.8 L184.1 1755.9 L192.7 1766.3 L201.7 1756.4 L215.5 1769.3 L226.4 1752.6 L235.8 1767.3 L244.8 1757.6 L252.6 1772.3 L262.6 1750.9 L273.5 1769 L282 1757 L290.8 1782.5 L300.8 1751.4 L310 1767.4 L318.9 1752 L327.8 1774.4 L335.3 1756.9 L342.7 1771 L351.7 1753.8 L363.5 1770.4 L373.7 1749.2 L385.4 1771 L396.6 1748.2 L410.4 1774.3 L418.6 1753.2 L427.4 1771.5 L439 1750.2 L446.3 1771.6 L457.4 1745.1 L468 1774.8 L476.8 1756.4 L486.5 1766.9 L498.9 1755.1 L506.1 1767.2 L513.7 1756.2 L520.9 1772.5 L528.1 1753.8 L541.1 1772.9 L550.3 1753.1 L557.8 1773.4 L568.1 1750.2 L576.7 1773.4 L586.4 1754.5 L600 1771.3 L610.5 1755.2 L623.9 1768.1 L635.7 1757.1 L643.5 1769 L654 1752.6 L664.7 1764.3 L674.2 1751.7 L687.3 1768.4 L695.6 1752.3 L704.2 1765.7 L712.9 1750.7 L723.9 1765.5 L736.1 1750.7 L748.9 1765.9 L756.2 1750 L768.4 1762.1 L780.5 1753.4 L793.2 1765.1 L801.5 1750.4 L812.8 1767.1 L823.9 1751.9 L836.5 1765.2 L847 1753.1 L860.6 1764 L867.9 1751.6 L875.3 1762.4 L887.5 1752.1 L896.3 1762.7 L906.9 1753.2 L916.3 1763.6 L929.4 1751.5 L939.7 1762.1 L949.5 1750.9 L961.3 1763.2 L968 1763.2 L968 1781.2 L961.3 1781.2 L949.5 1768.9 L939.7 1780.1 L929.4 1769.5 L916.3 1781.6 L906.9 1771.2 L896.3 1780.7 L887.5 1770.1 L875.3 1780.4 L867.9 1769.6 L860.6 1782 L847 1771.1 L836.5 1783.2 L823.9 1769.9 L812.8 1785.1 L801.5 1768.4 L793.2 1783.1 L780.5 1771.4 L768.4 1780.1 L756.2 1768 L748.9 1783.9 L736.1 1768.7 L723.9 1783.5 L712.9 1768.7 L704.2 1783.7 L695.6 1770.3 L687.3 1786.4 L674.2 1769.7 L664.7 1782.3 L654 1770.6 L643.5 1787 L635.7 1775.1 L623.9 1786.1 L610.5 1773.2 L600 1789.3 L586.4 1772.5 L576.7 1791.4 L568.1 1768.2 L557.8 1791.4 L550.3 1771.1 L541.1 1790.9 L528.1 1771.8 L520.9 1790.5 L513.7 1774.2 L506.1 1785.2 L498.9 1773.1 L486.5 1784.9 L476.8 1774.4 L468 1792.8 L457.4 1763.1 L446.3 1789.6 L439 1768.2 L427.4 1789.5 L418.6 1771.2 L410.4 1792.3 L396.6 1766.2 L385.4 1789 L373.7 1767.2 L363.5 1788.4 L351.7 1771.8 L342.7 1789 L335.3 1774.9 L327.8 1792.4 L318.9 1770 L310 1785.4 L300.8 1769.4 L290.8 1800.5 L282 1775 L273.5 1787 L262.6 1768.9 L252.6 1790.3 L244.8 1775.6 L235.8 1785.3 L226.4 1770.6 L215.5 1787.3 L201.7 1774.4 L192.7 1784.3 L184.1 1773.9 L172.4 1787.8 L163 1770.3Z" fill="#ec9422"/>
<path d="M163 1758.1 L173.4 1766.1 L183.7 1758.8 L195.6 1765.8 L205.6 1757.1 L216.5 1765.8 L225.9 1759.5 L234.9 1765.6 L247 1758.4 L260.3 1764.8 L268.1 1757.5 L275.5 1764.3 L285.6 1756.2 L297.6 1765.7 L306.2 1758.7 L319.3 1765.4 L331 1759.6 L343.9 1764.9 L351.1 1759.1 L364.8 1766 L374.2 1755.4 L381.8 1764.8 L393.2 1758.6 L405.6 1766 L419.2 1760.1 L432.4 1765.6 L439.6 1760.3 L447.6 1763.7 L455 1760 L466 1766.1 L475.4 1757.9 L482.4 1767.4 L490.7 1758.4 L503.2 1766.8 L514 1759 L527.8 1763.9 L539 1759.3 L548.2 1767.4 L561.5 1759.8 L568.8 1767.3 L578.8 1757.9 L589.4 1766.8 L601.1 1759.5 L608.4 1766.6 L617.3 1758.8 L629.4 1765.5 L636.8 1757.4 L646.6 1765.9 L660 1755.8 L672.2 1762.2 L684.8 1757.5 L692 1761.5 L701 1754.8 L712.8 1761.7 L724.9 1756.7 L734.5 1760.8 L742.1 1756.8 L756.1 1759.8 L764.5 1757.1 L778.3 1760.5 L785.8 1754.6 L793.7 1762.4 L802 1755 L815.9 1762 L828 1754 L838.3 1762.5 L851.2 1754.2 L863.5 1760.5 L871.5 1754 L883.2 1759.4 L890.2 1755.5 L899.1 1761.6 L909.2 1755.7 L918.6 1760.2 L929.1 1755.4 L940.3 1759.4 L948.3 1755.2 L957.2 1759.6 L968 1759.6 L968 1777.6 L957.2 1777.6 L948.3 1773.2 L940.3 1777.4 L929.1 1773.4 L918.6 1778.2 L909.2 1773.7 L899.1 1779.6 L890.2 1773.5 L883.2 1777.4 L871.5 1772 L863.5 1778.5 L851.2 1772.2 L838.3 1780.5 L828 1772 L815.9 1780 L802 1773 L793.7 1780.4 L785.8 1772.6 L778.3 1778.5 L764.5 1775.1 L756.1 1777.8 L742.1 1774.8 L734.5 1778.8 L724.9 1774.7 L712.8 1779.7 L701 1772.8 L692 1779.5 L684.8 1775.5 L672.2 1780.2 L660 1773.8 L646.6 1783.9 L636.8 1775.4 L629.4 1783.5 L617.3 1776.8 L608.4 1784.6 L601.1 1777.5 L589.4 1784.8 L578.8 1775.9 L568.8 1785.3 L561.5 1777.8 L548.2 1785.4 L539 1777.3 L527.8 1781.9 L514 1777 L503.2 1784.8 L490.7 1776.4 L482.4 1785.4 L475.4 1775.9 L466 1784.1 L455 1778 L447.6 1781.7 L439.6 1778.3 L432.4 1783.6 L419.2 1778.1 L405.6 1784 L393.2 1776.6 L381.8 1782.8 L374.2 1773.4 L364.8 1784 L351.1 1777.1 L343.9 1782.9 L331 1777.6 L319.3 1783.4 L306.2 1776.7 L297.6 1783.7 L285.6 1774.2 L275.5 1782.3 L268.1 1775.5 L260.3 1782.8 L247 1776.4 L234.9 1783.6 L225.9 1777.5 L216.5 1783.8 L205.6 1775.1 L195.6 1783.8 L183.7 1776.8 L173.4 1784.1 L163 1776.1Z" fill="#ec9422"/>
<path d="M163 1758.3 L172.4 1775.8 L184.1 1761.9 L192.7 1772.3 L201.7 1762.4 L215.5 1775.3 L226.4 1758.6 L235.8 1773.3 L244.8 1763.6 L252.6 1778.3 L262.6 1756.9 L273.5 1775 L282 1763 L290.8 1788.5 L300.8 1757.4 L310 1773.4 L318.9 1758 L327.8 1780.4 L335.3 1762.9 L342.7 1777 L351.7 1759.8 L363.5 1776.4 L373.7 1755.2 L385.4 1777 L396.6 1754.2 L410.4 1780.3 L418.6 1759.2 L427.4 1777.5 L439 1756.2 L446.3 1777.6 L457.4 1751.1 L468 1780.8 L476.8 1762.4 L486.5 1772.9 L498.9 1761.1 L506.1 1773.2 L513.7 1762.2 L520.9 1778.5 L528.1 1759.8 L541.1 1778.9 L550.3 1759.1 L557.8 1779.4 L568.1 1756.2 L576.7 1779.4 L586.4 1760.5 L600 1777.3 L610.5 1761.2 L623.9 1774.1 L635.7 1763.1 L643.5 1775 L654 1758.6 L664.7 1770.3 L674.2 1757.7 L687.3 1774.4 L695.6 1758.3 L704.2 1771.7 L712.9 1756.7 L723.9 1771.5 L736.1 1756.7 L748.9 1771.9 L756.2 1756 L768.4 1768.1 L780.5 1759.4 L793.2 1771.1 L801.5 1756.4 L812.8 1773.1 L823.9 1757.9 L836.5 1771.2 L847 1759.1 L860.6 1770 L867.9 1757.6 L875.3 1768.4 L887.5 1758.1 L896.3 1768.7 L906.9 1759.2 L916.3 1769.6 L929.4 1757.5 L939.7 1768.1 L949.5 1756.9 L961.3 1769.2 L968 1769.2 L968 1775.2 L961.3 1775.2 L949.5 1762.9 L939.7 1774.1 L929.4 1763.5 L916.3 1775.6 L906.9 1765.2 L896.3 1774.7 L887.5 1764.1 L875.3 1774.4 L867.9 1763.6 L860.6 1776 L847 1765.1 L836.5 1777.2 L823.9 1763.9 L812.8 1779.1 L801.5 1762.4 L793.2 1777.1 L780.5 1765.4 L768.4 1774.1 L756.2 1762 L748.9 1777.9 L736.1 1762.7 L723.9 1777.5 L712.9 1762.7 L704.2 1777.7 L695.6 1764.3 L687.3 1780.4 L674.2 1763.7 L664.7 1776.3 L654 1764.6 L643.5 1781 L635.7 1769.1 L623.9 1780.1 L610.5 1767.2 L600 1783.3 L586.4 1766.5 L576.7 1785.4 L568.1 1762.2 L557.8 1785.4 L550.3 1765.1 L541.1 1784.9 L528.1 1765.8 L520.9 1784.5 L513.7 1768.2 L506.1 1779.2 L498.9 1767.1 L486.5 1778.9 L476.8 1768.4 L468 1786.8 L457.4 1757.1 L446.3 1783.6 L439 1762.2 L427.4 1783.5 L418.6 1765.2 L410.4 1786.3 L396.6 1760.2 L385.4 1783 L373.7 1761.2 L363.5 1782.4 L351.7 1765.8 L342.7 1783 L335.3 1768.9 L327.8 1786.4 L318.9 1764 L310 1779.4 L300.8 1763.4 L290.8 1794.5 L282 1769 L273.5 1781 L262.6 1762.9 L252.6 1784.3 L244.8 1769.6 L235.8 1779.3 L226.4 1764.6 L215.5 1781.3 L201.7 1768.4 L192.7 1778.3 L184.1 1767.9 L172.4 1781.8 L163 1764.3Z" fill="#f6a62e"/>
<path d="M163 1764.1 L173.4 1772.1 L183.7 1764.8 L195.6 1771.8 L205.6 1763.1 L216.5 1771.8 L225.9 1765.5 L234.9 1771.6 L247 1764.4 L260.3 1770.8 L268.1 1763.5 L275.5 1770.3 L285.6 1762.2 L297.6 1771.7 L306.2 1764.7 L319.3 1771.4 L331 1765.6 L343.9 1770.9 L351.1 1765.1 L364.8 1772 L374.2 1761.4 L381.8 1770.8 L393.2 1764.6 L405.6 1772 L419.2 1766.1 L432.4 1771.6 L439.6 1766.3 L447.6 1769.7 L455 1766 L466 1772.1 L475.4 1763.9 L482.4 1773.4 L490.7 1764.4 L503.2 1772.8 L514 1765 L527.8 1769.9 L539 1765.3 L548.2 1773.4 L561.5 1765.8 L568.8 1773.3 L578.8 1763.9 L589.4 1772.8 L601.1 1765.5 L608.4 1772.6 L617.3 1764.8 L629.4 1771.5 L636.8 1763.4 L646.6 1771.9 L660 1761.8 L672.2 1768.2 L684.8 1763.5 L692 1767.5 L701 1760.8 L712.8 1767.7 L724.9 1762.7 L734.5 1766.8 L742.1 1762.8 L756.1 1765.8 L764.5 1763.1 L778.3 1766.5 L785.8 1760.6 L793.7 1768.4 L802 1761 L815.9 1768 L828 1760 L838.3 1768.5 L851.2 1760.2 L863.5 1766.5 L871.5 1760 L883.2 1765.4 L890.2 1761.5 L899.1 1767.6 L909.2 1761.7 L918.6 1766.2 L929.1 1761.4 L940.3 1765.4 L948.3 1761.2 L957.2 1765.6 L968 1765.6 L968 1771.6 L957.2 1771.6 L948.3 1767.2 L940.3 1771.4 L929.1 1767.4 L918.6 1772.2 L909.2 1767.7 L899.1 1773.6 L890.2 1767.5 L883.2 1771.4 L871.5 1766 L863.5 1772.5 L851.2 1766.2 L838.3 1774.5 L828 1766 L815.9 1774 L802 1767 L793.7 1774.4 L785.8 1766.6 L778.3 1772.5 L764.5 1769.1 L756.1 1771.8 L742.1 1768.8 L734.5 1772.8 L724.9 1768.7 L712.8 1773.7 L701 1766.8 L692 1773.5 L684.8 1769.5 L672.2 1774.2 L660 1767.8 L646.6 1777.9 L636.8 1769.4 L629.4 1777.5 L617.3 1770.8 L608.4 1778.6 L601.1 1771.5 L589.4 1778.8 L578.8 1769.9 L568.8 1779.3 L561.5 1771.8 L548.2 1779.4 L539 1771.3 L527.8 1775.9 L514 1771 L503.2 1778.8 L490.7 1770.4 L482.4 1779.4 L475.4 1769.9 L466 1778.1 L455 1772 L447.6 1775.7 L439.6 1772.3 L432.4 1777.6 L419.2 1772.1 L405.6 1778 L393.2 1770.6 L381.8 1776.8 L374.2 1767.4 L364.8 1778 L351.1 1771.1 L343.9 1776.9 L331 1771.6 L319.3 1777.4 L306.2 1770.7 L297.6 1777.7 L285.6 1768.2 L275.5 1776.3 L268.1 1769.5 L260.3 1776.8 L247 1770.4 L234.9 1777.6 L225.9 1771.5 L216.5 1777.8 L205.6 1769.1 L195.6 1777.8 L183.7 1770.8 L173.4 1778.1 L163 1770.1Z" fill="#f6a62e"/>
<path d="M966 1768 L970 1790 L973 1840 L977 1900 L982 1950 L988 1985 L996 2012 L1004 2040 L1013 2061 L1022 2076 L1035 2088 L1050 2093" stroke="#4a3216" stroke-width="10" fill="none" stroke-linejoin="round" stroke-linecap="round"/>
<path d="M966 1768 L970 1790 L973 1840 L977 1900 L982 1950 L988 1985 L996 2012 L1004 2040 L1013 2061 L1022 2076 L1035 2088 L1050 2093" stroke="#e08a20" stroke-width="6" fill="none" stroke-linejoin="round" stroke-linecap="round"/>
<path d="M986 1985 L993 2010 L1001 2035 L1010 2058" stroke="#4a3216" stroke-width="15" fill="none" stroke-linejoin="round" stroke-linecap="round"/>
<path d="M986 1985 L993 2010 L1001 2035 L1010 2058" stroke="#d88420" stroke-width="10" fill="none" stroke-linejoin="round" stroke-linecap="round"/>
<path d="M1046.3 2095v24.2 M1055.6 2095v23.8 M1079.8 2095v26.1 M1100 2095v20.5 M1121.9 2095v23.7 M1131.7 2095v-28.7 M1149.9 2095v-27.4 M1167.4 2095v-18 M1192.6 2095v-20.5 M1203.7 2095v29 M1227.2 2095v-21.1 M1240.4 2095v24.9 M1259.1 2095v-24.9 M1284.3 2095v-18.1 M1304.7 2095v29.5 M1317.9 2095v-29.2 M1336.6 2095v25.6 M1360.5 2095v-28.6 M1384.7 2095v21.6 M1396.4 2095v-25.5 M1422.3 2095v-25.8 M1447.6 2095v19.2 M1467.7 2095v-18.1 M1478.6 2095v-29.8 M1498.4 2095v-24.4 M1523.3 2095v24.7 M1536.8 2095v-19.7 M1546.4 2095v-20.3 M1562 2095v-27 M1574.5 2095v24.1 M1588.9 2095v-20.3 M1604.1 2095v22.4 M1617.2 2095v21.9 M1629.7 2095v18.3 M1654.2 2095v-21.6 M1671 2095v20.4 M1695.1 2095v-26.4 M1718.4 2095v-29.1 M1738.7 2095v19.9 M1761.3 2095v22.8 M1775.2 2095v18.6 M1785.5 2095v23.3 M1804.3 2095v-21 M1822.8 2095v24 M1834.7 2095v-23.4" stroke="#3a2a18" stroke-width="3" fill="none"/>
<path d="M1045 2078.3 L1054.2 2082.9 L1066.5 2077.1 L1073.7 2087.9 L1087 2074.6 L1095.5 2091.2 L1102.9 2075.1 L1113.1 2086.5 L1121.4 2076.6 L1135 2083.9 L1147.1 2077.5 L1159.9 2082.8 L1172.2 2076.1 L1180.9 2086.9 L1192.1 2077.2 L1202.2 2085.9 L1212 2078.1 L1224.7 2084.9 L1237.2 2076.1 L1245.3 2082.8 L1255.1 2078.1 L1263.9 2084.5 L1275.1 2077.3 L1283.5 2082.9 L1296.6 2076.7 L1309.6 2083 L1320.3 2078.1 L1332.3 2087.1 L1342.9 2078.1 L1351.8 2082.4 L1359.7 2077.3 L1369.2 2084.9 L1378.3 2077.4 L1389.6 2083.8 L1399.1 2078.5 L1406.8 2085.1 L1416.9 2077.3 L1426.9 2083.4 L1440.9 2077.4 L1450.8 2082.8 L1459.6 2076.3 L1468.8 2082.7 L1480.7 2076.3 L1493.5 2085.6 L1501.7 2078.1 L1510.5 2084.5 L1523.6 2073.9 L1531.4 2084.6 L1542.4 2072.8 L1551.1 2086.5 L1559.1 2075.6 L1571.1 2083.9 L1580.9 2076.1 L1588.8 2086 L1600.2 2076 L1611 2084.8 L1624.8 2076.2 L1636 2084.4 L1645.8 2074.7 L1653.9 2087.5 L1663.7 2076.6 L1675.7 2085.6 L1687.9 2073.5 L1701.1 2086.6 L1711 2074.1 L1719.2 2084.1 L1729.4 2078.1 L1736.8 2084.6 L1750.4 2075.4 L1757.8 2084.3 L1765.7 2076.5 L1773.6 2083.6 L1786.9 2079 L1796.9 2083 L1804.4 2077.1 L1811.7 2084 L1819.7 2074.4 L1830.5 2087.8 L1837.8 2076.8 L1841 2076.8 L1841 2105.8 L1837.8 2105.8 L1830.5 2116.8 L1819.7 2103.4 L1811.7 2113 L1804.4 2106.1 L1796.9 2112 L1786.9 2108 L1773.6 2112.6 L1765.7 2105.5 L1757.8 2113.3 L1750.4 2104.4 L1736.8 2113.6 L1729.4 2107.1 L1719.2 2113.1 L1711 2103.1 L1701.1 2115.6 L1687.9 2102.5 L1675.7 2114.6 L1663.7 2105.6 L1653.9 2116.5 L1645.8 2103.7 L1636 2113.4 L1624.8 2105.2 L1611 2113.8 L1600.2 2105 L1588.8 2115 L1580.9 2105.1 L1571.1 2112.9 L1559.1 2104.6 L1551.1 2115.5 L1542.4 2101.8 L1531.4 2113.6 L1523.6 2102.9 L1510.5 2113.5 L1501.7 2107.1 L1493.5 2114.6 L1480.7 2105.3 L1468.8 2111.7 L1459.6 2105.3 L1450.8 2111.8 L1440.9 2106.4 L1426.9 2112.4 L1416.9 2106.3 L1406.8 2114.1 L1399.1 2107.5 L1389.6 2112.8 L1378.3 2106.4 L1369.2 2113.9 L1359.7 2106.3 L1351.8 2111.4 L1342.9 2107.1 L1332.3 2116.1 L1320.3 2107.1 L1309.6 2112 L1296.6 2105.7 L1283.5 2111.9 L1275.1 2106.3 L1263.9 2113.5 L1255.1 2107.1 L1245.3 2111.8 L1237.2 2105.1 L1224.7 2113.9 L1212 2107.1 L1202.2 2114.9 L1192.1 2106.2 L1180.9 2115.9 L1172.2 2105.1 L1159.9 2111.8 L1147.1 2106.5 L1135 2112.9 L1121.4 2105.6 L1113.1 2115.5 L1102.9 2104.1 L1095.5 2120.2 L1087 2103.6 L1073.7 2116.9 L1066.5 2106.1 L1054.2 2111.9 L1045 2107.3Z" fill="#4a3216"/>
<path d="M1045 2078.7 L1054.2 2081.9 L1062.7 2078.2 L1071.1 2083.5 L1083.3 2076.2 L1090.6 2084.7 L1098.2 2077.9 L1111.1 2085.9 L1124.3 2077.4 L1134.6 2084.3 L1148.1 2075.5 L1155.2 2086.4 L1168.9 2077.6 L1177.2 2083.3 L1186.6 2077.2 L1199.9 2083 L1213.5 2077.7 L1224 2083.5 L1236.7 2078.3 L1246.7 2083.2 L1260.6 2077.9 L1273.6 2083 L1286.2 2074.2 L1294.2 2083.9 L1301.8 2077.2 L1310.7 2083 L1320.3 2077.2 L1329.3 2083.5 L1337.4 2078.6 L1347.1 2083.3 L1355.1 2078.6 L1366.1 2082.6 L1379.4 2078.2 L1388.5 2084.5 L1402.2 2077 L1414.7 2081.8 L1426.4 2078.9 L1436.7 2082.3 L1448.5 2077.6 L1457.2 2082.9 L1466.6 2077.5 L1480.1 2083.6 L1492.9 2078.5 L1502.2 2082.1 L1515.2 2078.4 L1522.5 2082.6 L1536 2079.2 L1544.1 2081.8 L1556.3 2077.9 L1568.2 2083.3 L1582.1 2076.1 L1593.7 2082 L1601.3 2078.3 L1608.4 2082.4 L1616.5 2078.5 L1628.2 2083.2 L1642 2078.9 L1650.4 2083.5 L1658.8 2078 L1672.7 2081.7 L1680.9 2078.3 L1691.8 2082.7 L1701.1 2079.4 L1714.3 2081.6 L1722.2 2079.5 L1733.8 2082.7 L1743.7 2079.1 L1752.5 2082.4 L1762.6 2079.1 L1776.6 2082.2 L1787 2079.2 L1800.3 2082.7 L1808.8 2078.1 L1815.9 2082.1 L1824 2078.6 L1831.4 2082.3 L1841 2082.3 L1841 2111.3 L1831.4 2111.3 L1824 2107.6 L1815.9 2111.1 L1808.8 2107.1 L1800.3 2111.7 L1787 2108.2 L1776.6 2111.2 L1762.6 2108.1 L1752.5 2111.4 L1743.7 2108.1 L1733.8 2111.7 L1722.2 2108.5 L1714.3 2110.6 L1701.1 2108.4 L1691.8 2111.7 L1680.9 2107.3 L1672.7 2110.7 L1658.8 2107 L1650.4 2112.5 L1642 2107.9 L1628.2 2112.2 L1616.5 2107.5 L1608.4 2111.4 L1601.3 2107.3 L1593.7 2111 L1582.1 2105.1 L1568.2 2112.3 L1556.3 2106.9 L1544.1 2110.8 L1536 2108.2 L1522.5 2111.6 L1515.2 2107.4 L1502.2 2111.1 L1492.9 2107.5 L1480.1 2112.6 L1466.6 2106.5 L1457.2 2111.9 L1448.5 2106.6 L1436.7 2111.3 L1426.4 2107.9 L1414.7 2110.8 L1402.2 2106 L1388.5 2113.5 L1379.4 2107.2 L1366.1 2111.6 L1355.1 2107.6 L1347.1 2112.3 L1337.4 2107.6 L1329.3 2112.5 L1320.3 2106.2 L1310.7 2112 L1301.8 2106.2 L1294.2 2112.9 L1286.2 2103.2 L1273.6 2112 L1260.6 2106.9 L1246.7 2112.2 L1236.7 2107.3 L1224 2112.5 L1213.5 2106.7 L1199.9 2112 L1186.6 2106.2 L1177.2 2112.3 L1168.9 2106.6 L1155.2 2115.4 L1148.1 2104.5 L1134.6 2113.3 L1124.3 2106.4 L1111.1 2114.9 L1098.2 2106.9 L1090.6 2113.7 L1083.3 2105.2 L1071.1 2112.5 L1062.7 2107.2 L1054.2 2110.9 L1045 2107.7Z" fill="#4a3216"/>
<path d="M1045 2080.8 L1054.2 2085.4 L1066.5 2079.6 L1073.7 2090.4 L1087 2077.1 L1095.5 2093.7 L1102.9 2077.6 L1113.1 2089 L1121.4 2079.1 L1135 2086.4 L1147.1 2080 L1159.9 2085.3 L1172.2 2078.6 L1180.9 2089.4 L1192.1 2079.7 L1202.2 2088.4 L1212 2080.6 L1224.7 2087.4 L1237.2 2078.6 L1245.3 2085.3 L1255.1 2080.6 L1263.9 2087 L1275.1 2079.8 L1283.5 2085.4 L1296.6 2079.2 L1309.6 2085.5 L1320.3 2080.6 L1332.3 2089.6 L1342.9 2080.6 L1351.8 2084.9 L1359.7 2079.8 L1369.2 2087.4 L1378.3 2079.9 L1389.6 2086.3 L1399.1 2081 L1406.8 2087.6 L1416.9 2079.8 L1426.9 2085.9 L1440.9 2079.9 L1450.8 2085.3 L1459.6 2078.8 L1468.8 2085.2 L1480.7 2078.8 L1493.5 2088.1 L1501.7 2080.6 L1510.5 2087 L1523.6 2076.4 L1531.4 2087.1 L1542.4 2075.3 L1551.1 2089 L1559.1 2078.1 L1571.1 2086.4 L1580.9 2078.6 L1588.8 2088.5 L1600.2 2078.5 L1611 2087.3 L1624.8 2078.7 L1636 2086.9 L1645.8 2077.2 L1653.9 2090 L1663.7 2079.1 L1675.7 2088.1 L1687.9 2076 L1701.1 2089.1 L1711 2076.6 L1719.2 2086.6 L1729.4 2080.6 L1736.8 2087.1 L1750.4 2077.9 L1757.8 2086.8 L1765.7 2079 L1773.6 2086.1 L1786.9 2081.5 L1796.9 2085.5 L1804.4 2079.6 L1811.7 2086.5 L1819.7 2076.9 L1830.5 2090.3 L1837.8 2079.3 L1841 2079.3 L1841 2103.3 L1837.8 2103.3 L1830.5 2114.3 L1819.7 2100.9 L1811.7 2110.5 L1804.4 2103.6 L1796.9 2109.5 L1786.9 2105.5 L1773.6 2110.1 L1765.7 2103 L1757.8 2110.8 L1750.4 2101.9 L1736.8 2111.1 L1729.4 2104.6 L1719.2 2110.6 L1711 2100.6 L1701.1 2113.1 L1687.9 2100 L1675.7 2112.1 L1663.7 2103.1 L1653.9 2114 L1645.8 2101.2 L1636 2110.9 L1624.8 2102.7 L1611 2111.3 L1600.2 2102.5 L1588.8 2112.5 L1580.9 2102.6 L1571.1 2110.4 L1559.1 2102.1 L1551.1 2113 L1542.4 2099.3 L1531.4 2111.1 L1523.6 2100.4 L1510.5 2111 L1501.7 2104.6 L1493.5 2112.1 L1480.7 2102.8 L1468.8 2109.2 L1459.6 2102.8 L1450.8 2109.3 L1440.9 2103.9 L1426.9 2109.9 L1416.9 2103.8 L1406.8 2111.6 L1399.1 2105 L1389.6 2110.3 L1378.3 2103.9 L1369.2 2111.4 L1359.7 2103.8 L1351.8 2108.9 L1342.9 2104.6 L1332.3 2113.6 L1320.3 2104.6 L1309.6 2109.5 L1296.6 2103.2 L1283.5 2109.4 L1275.1 2103.8 L1263.9 2111 L1255.1 2104.6 L1245.3 2109.3 L1237.2 2102.6 L1224.7 2111.4 L1212 2104.6 L1202.2 2112.4 L1192.1 2103.7 L1180.9 2113.4 L1172.2 2102.6 L1159.9 2109.3 L1147.1 2104 L1135 2110.4 L1121.4 2103.1 L1113.1 2113 L1102.9 2101.6 L1095.5 2117.7 L1087 2101.1 L1073.7 2114.4 L1066.5 2103.6 L1054.2 2109.4 L1045 2104.8Z" fill="#a8661a"/>
<path d="M1045 2081.2 L1054.2 2084.4 L1062.7 2080.7 L1071.1 2086 L1083.3 2078.7 L1090.6 2087.2 L1098.2 2080.4 L1111.1 2088.4 L1124.3 2079.9 L1134.6 2086.8 L1148.1 2078 L1155.2 2088.9 L1168.9 2080.1 L1177.2 2085.8 L1186.6 2079.7 L1199.9 2085.5 L1213.5 2080.2 L1224 2086 L1236.7 2080.8 L1246.7 2085.7 L1260.6 2080.4 L1273.6 2085.5 L1286.2 2076.7 L1294.2 2086.4 L1301.8 2079.7 L1310.7 2085.5 L1320.3 2079.7 L1329.3 2086 L1337.4 2081.1 L1347.1 2085.8 L1355.1 2081.1 L1366.1 2085.1 L1379.4 2080.7 L1388.5 2087 L1402.2 2079.5 L1414.7 2084.3 L1426.4 2081.4 L1436.7 2084.8 L1448.5 2080.1 L1457.2 2085.4 L1466.6 2080 L1480.1 2086.1 L1492.9 2081 L1502.2 2084.6 L1515.2 2080.9 L1522.5 2085.1 L1536 2081.7 L1544.1 2084.3 L1556.3 2080.4 L1568.2 2085.8 L1582.1 2078.6 L1593.7 2084.5 L1601.3 2080.8 L1608.4 2084.9 L1616.5 2081 L1628.2 2085.7 L1642 2081.4 L1650.4 2086 L1658.8 2080.5 L1672.7 2084.2 L1680.9 2080.8 L1691.8 2085.2 L1701.1 2081.9 L1714.3 2084.1 L1722.2 2082 L1733.8 2085.2 L1743.7 2081.6 L1752.5 2084.9 L1762.6 2081.6 L1776.6 2084.7 L1787 2081.7 L1800.3 2085.2 L1808.8 2080.6 L1815.9 2084.6 L1824 2081.1 L1831.4 2084.8 L1841 2084.8 L1841 2108.8 L1831.4 2108.8 L1824 2105.1 L1815.9 2108.6 L1808.8 2104.6 L1800.3 2109.2 L1787 2105.7 L1776.6 2108.7 L1762.6 2105.6 L1752.5 2108.9 L1743.7 2105.6 L1733.8 2109.2 L1722.2 2106 L1714.3 2108.1 L1701.1 2105.9 L1691.8 2109.2 L1680.9 2104.8 L1672.7 2108.2 L1658.8 2104.5 L1650.4 2110 L1642 2105.4 L1628.2 2109.7 L1616.5 2105 L1608.4 2108.9 L1601.3 2104.8 L1593.7 2108.5 L1582.1 2102.6 L1568.2 2109.8 L1556.3 2104.4 L1544.1 2108.3 L1536 2105.7 L1522.5 2109.1 L1515.2 2104.9 L1502.2 2108.6 L1492.9 2105 L1480.1 2110.1 L1466.6 2104 L1457.2 2109.4 L1448.5 2104.1 L1436.7 2108.8 L1426.4 2105.4 L1414.7 2108.3 L1402.2 2103.5 L1388.5 2111 L1379.4 2104.7 L1366.1 2109.1 L1355.1 2105.1 L1347.1 2109.8 L1337.4 2105.1 L1329.3 2110 L1320.3 2103.7 L1310.7 2109.5 L1301.8 2103.7 L1294.2 2110.4 L1286.2 2100.7 L1273.6 2109.5 L1260.6 2104.4 L1246.7 2109.7 L1236.7 2104.8 L1224 2110 L1213.5 2104.2 L1199.9 2109.5 L1186.6 2103.7 L1177.2 2109.8 L1168.9 2104.1 L1155.2 2112.9 L1148.1 2102 L1134.6 2110.8 L1124.3 2103.9 L1111.1 2112.4 L1098.2 2104.4 L1090.6 2111.2 L1083.3 2102.7 L1071.1 2110 L1062.7 2104.7 L1054.2 2108.4 L1045 2105.2Z" fill="#a8661a"/>
<path d="M1045 2083.3 L1054.2 2087.9 L1066.5 2082.1 L1073.7 2092.9 L1087 2079.6 L1095.5 2096.2 L1102.9 2080.1 L1113.1 2091.5 L1121.4 2081.6 L1135 2088.9 L1147.1 2082.5 L1159.9 2087.8 L1172.2 2081.1 L1180.9 2091.9 L1192.1 2082.2 L1202.2 2090.9 L1212 2083.1 L1224.7 2089.9 L1237.2 2081.1 L1245.3 2087.8 L1255.1 2083.1 L1263.9 2089.5 L1275.1 2082.3 L1283.5 2087.9 L1296.6 2081.7 L1309.6 2088 L1320.3 2083.1 L1332.3 2092.1 L1342.9 2083.1 L1351.8 2087.4 L1359.7 2082.3 L1369.2 2089.9 L1378.3 2082.4 L1389.6 2088.8 L1399.1 2083.5 L1406.8 2090.1 L1416.9 2082.3 L1426.9 2088.4 L1440.9 2082.4 L1450.8 2087.8 L1459.6 2081.3 L1468.8 2087.7 L1480.7 2081.3 L1493.5 2090.6 L1501.7 2083.1 L1510.5 2089.5 L1523.6 2078.9 L1531.4 2089.6 L1542.4 2077.8 L1551.1 2091.5 L1559.1 2080.6 L1571.1 2088.9 L1580.9 2081.1 L1588.8 2091 L1600.2 2081 L1611 2089.8 L1624.8 2081.2 L1636 2089.4 L1645.8 2079.7 L1653.9 2092.5 L1663.7 2081.6 L1675.7 2090.6 L1687.9 2078.5 L1701.1 2091.6 L1711 2079.1 L1719.2 2089.1 L1729.4 2083.1 L1736.8 2089.6 L1750.4 2080.4 L1757.8 2089.3 L1765.7 2081.5 L1773.6 2088.6 L1786.9 2084 L1796.9 2088 L1804.4 2082.1 L1811.7 2089 L1819.7 2079.4 L1830.5 2092.8 L1837.8 2081.8 L1841 2081.8 L1841 2100.8 L1837.8 2100.8 L1830.5 2111.8 L1819.7 2098.4 L1811.7 2108 L1804.4 2101.1 L1796.9 2107 L1786.9 2103 L1773.6 2107.6 L1765.7 2100.5 L1757.8 2108.3 L1750.4 2099.4 L1736.8 2108.6 L1729.4 2102.1 L1719.2 2108.1 L1711 2098.1 L1701.1 2110.6 L1687.9 2097.5 L1675.7 2109.6 L1663.7 2100.6 L1653.9 2111.5 L1645.8 2098.7 L1636 2108.4 L1624.8 2100.2 L1611 2108.8 L1600.2 2100 L1588.8 2110 L1580.9 2100.1 L1571.1 2107.9 L1559.1 2099.6 L1551.1 2110.5 L1542.4 2096.8 L1531.4 2108.6 L1523.6 2097.9 L1510.5 2108.5 L1501.7 2102.1 L1493.5 2109.6 L1480.7 2100.3 L1468.8 2106.7 L1459.6 2100.3 L1450.8 2106.8 L1440.9 2101.4 L1426.9 2107.4 L1416.9 2101.3 L1406.8 2109.1 L1399.1 2102.5 L1389.6 2107.8 L1378.3 2101.4 L1369.2 2108.9 L1359.7 2101.3 L1351.8 2106.4 L1342.9 2102.1 L1332.3 2111.1 L1320.3 2102.1 L1309.6 2107 L1296.6 2100.7 L1283.5 2106.9 L1275.1 2101.3 L1263.9 2108.5 L1255.1 2102.1 L1245.3 2106.8 L1237.2 2100.1 L1224.7 2108.9 L1212 2102.1 L1202.2 2109.9 L1192.1 2101.2 L1180.9 2110.9 L1172.2 2100.1 L1159.9 2106.8 L1147.1 2101.5 L1135 2107.9 L1121.4 2100.6 L1113.1 2110.5 L1102.9 2099.1 L1095.5 2115.2 L1087 2098.6 L1073.7 2111.9 L1066.5 2101.1 L1054.2 2106.9 L1045 2102.3Z" fill="#ec9422"/>
<path d="M1045 2083.7 L1054.2 2086.9 L1062.7 2083.2 L1071.1 2088.5 L1083.3 2081.2 L1090.6 2089.7 L1098.2 2082.9 L1111.1 2090.9 L1124.3 2082.4 L1134.6 2089.3 L1148.1 2080.5 L1155.2 2091.4 L1168.9 2082.6 L1177.2 2088.3 L1186.6 2082.2 L1199.9 2088 L1213.5 2082.7 L1224 2088.5 L1236.7 2083.3 L1246.7 2088.2 L1260.6 2082.9 L1273.6 2088 L1286.2 2079.2 L1294.2 2088.9 L1301.8 2082.2 L1310.7 2088 L1320.3 2082.2 L1329.3 2088.5 L1337.4 2083.6 L1347.1 2088.3 L1355.1 2083.6 L1366.1 2087.6 L1379.4 2083.2 L1388.5 2089.5 L1402.2 2082 L1414.7 2086.8 L1426.4 2083.9 L1436.7 2087.3 L1448.5 2082.6 L1457.2 2087.9 L1466.6 2082.5 L1480.1 2088.6 L1492.9 2083.5 L1502.2 2087.1 L1515.2 2083.4 L1522.5 2087.6 L1536 2084.2 L1544.1 2086.8 L1556.3 2082.9 L1568.2 2088.3 L1582.1 2081.1 L1593.7 2087 L1601.3 2083.3 L1608.4 2087.4 L1616.5 2083.5 L1628.2 2088.2 L1642 2083.9 L1650.4 2088.5 L1658.8 2083 L1672.7 2086.7 L1680.9 2083.3 L1691.8 2087.7 L1701.1 2084.4 L1714.3 2086.6 L1722.2 2084.5 L1733.8 2087.7 L1743.7 2084.1 L1752.5 2087.4 L1762.6 2084.1 L1776.6 2087.2 L1787 2084.2 L1800.3 2087.7 L1808.8 2083.1 L1815.9 2087.1 L1824 2083.6 L1831.4 2087.3 L1841 2087.3 L1841 2106.3 L1831.4 2106.3 L1824 2102.6 L1815.9 2106.1 L1808.8 2102.1 L1800.3 2106.7 L1787 2103.2 L1776.6 2106.2 L1762.6 2103.1 L1752.5 2106.4 L1743.7 2103.1 L1733.8 2106.7 L1722.2 2103.5 L1714.3 2105.6 L1701.1 2103.4 L1691.8 2106.7 L1680.9 2102.3 L1672.7 2105.7 L1658.8 2102 L1650.4 2107.5 L1642 2102.9 L1628.2 2107.2 L1616.5 2102.5 L1608.4 2106.4 L1601.3 2102.3 L1593.7 2106 L1582.1 2100.1 L1568.2 2107.3 L1556.3 2101.9 L1544.1 2105.8 L1536 2103.2 L1522.5 2106.6 L1515.2 2102.4 L1502.2 2106.1 L1492.9 2102.5 L1480.1 2107.6 L1466.6 2101.5 L1457.2 2106.9 L1448.5 2101.6 L1436.7 2106.3 L1426.4 2102.9 L1414.7 2105.8 L1402.2 2101 L1388.5 2108.5 L1379.4 2102.2 L1366.1 2106.6 L1355.1 2102.6 L1347.1 2107.3 L1337.4 2102.6 L1329.3 2107.5 L1320.3 2101.2 L1310.7 2107 L1301.8 2101.2 L1294.2 2107.9 L1286.2 2098.2 L1273.6 2107 L1260.6 2101.9 L1246.7 2107.2 L1236.7 2102.3 L1224 2107.5 L1213.5 2101.7 L1199.9 2107 L1186.6 2101.2 L1177.2 2107.3 L1168.9 2101.6 L1155.2 2110.4 L1148.1 2099.5 L1134.6 2108.3 L1124.3 2101.4 L1111.1 2109.9 L1098.2 2101.9 L1090.6 2108.7 L1083.3 2100.2 L1071.1 2107.5 L1062.7 2102.2 L1054.2 2105.9 L1045 2102.7Z" fill="#ec9422"/>
<path d="M1045 2089.3 L1054.2 2093.9 L1066.5 2088.1 L1073.7 2098.9 L1087 2085.6 L1095.5 2102.2 L1102.9 2086.1 L1113.1 2097.5 L1121.4 2087.6 L1135 2094.9 L1147.1 2088.5 L1159.9 2093.8 L1172.2 2087.1 L1180.9 2097.9 L1192.1 2088.2 L1202.2 2096.9 L1212 2089.1 L1224.7 2095.9 L1237.2 2087.1 L1245.3 2093.8 L1255.1 2089.1 L1263.9 2095.5 L1275.1 2088.3 L1283.5 2093.9 L1296.6 2087.7 L1309.6 2094 L1320.3 2089.1 L1332.3 2098.1 L1342.9 2089.1 L1351.8 2093.4 L1359.7 2088.3 L1369.2 2095.9 L1378.3 2088.4 L1389.6 2094.8 L1399.1 2089.5 L1406.8 2096.1 L1416.9 2088.3 L1426.9 2094.4 L1440.9 2088.4 L1450.8 2093.8 L1459.6 2087.3 L1468.8 2093.7 L1480.7 2087.3 L1493.5 2096.6 L1501.7 2089.1 L1510.5 2095.5 L1523.6 2084.9 L1531.4 2095.6 L1542.4 2083.8 L1551.1 2097.5 L1559.1 2086.6 L1571.1 2094.9 L1580.9 2087.1 L1588.8 2097 L1600.2 2087 L1611 2095.8 L1624.8 2087.2 L1636 2095.4 L1645.8 2085.7 L1653.9 2098.5 L1663.7 2087.6 L1675.7 2096.6 L1687.9 2084.5 L1701.1 2097.6 L1711 2085.1 L1719.2 2095.1 L1729.4 2089.1 L1736.8 2095.6 L1750.4 2086.4 L1757.8 2095.3 L1765.7 2087.5 L1773.6 2094.6 L1786.9 2090 L1796.9 2094 L1804.4 2088.1 L1811.7 2095 L1819.7 2085.4 L1830.5 2098.8 L1837.8 2087.8 L1841 2087.8 L1841 2094.8 L1837.8 2094.8 L1830.5 2105.8 L1819.7 2092.4 L1811.7 2102 L1804.4 2095.1 L1796.9 2101 L1786.9 2097 L1773.6 2101.6 L1765.7 2094.5 L1757.8 2102.3 L1750.4 2093.4 L1736.8 2102.6 L1729.4 2096.1 L1719.2 2102.1 L1711 2092.1 L1701.1 2104.6 L1687.9 2091.5 L1675.7 2103.6 L1663.7 2094.6 L1653.9 2105.5 L1645.8 2092.7 L1636 2102.4 L1624.8 2094.2 L1611 2102.8 L1600.2 2094 L1588.8 2104 L1580.9 2094.1 L1571.1 2101.9 L1559.1 2093.6 L1551.1 2104.5 L1542.4 2090.8 L1531.4 2102.6 L1523.6 2091.9 L1510.5 2102.5 L1501.7 2096.1 L1493.5 2103.6 L1480.7 2094.3 L1468.8 2100.7 L1459.6 2094.3 L1450.8 2100.8 L1440.9 2095.4 L1426.9 2101.4 L1416.9 2095.3 L1406.8 2103.1 L1399.1 2096.5 L1389.6 2101.8 L1378.3 2095.4 L1369.2 2102.9 L1359.7 2095.3 L1351.8 2100.4 L1342.9 2096.1 L1332.3 2105.1 L1320.3 2096.1 L1309.6 2101 L1296.6 2094.7 L1283.5 2100.9 L1275.1 2095.3 L1263.9 2102.5 L1255.1 2096.1 L1245.3 2100.8 L1237.2 2094.1 L1224.7 2102.9 L1212 2096.1 L1202.2 2103.9 L1192.1 2095.2 L1180.9 2104.9 L1172.2 2094.1 L1159.9 2100.8 L1147.1 2095.5 L1135 2101.9 L1121.4 2094.6 L1113.1 2104.5 L1102.9 2093.1 L1095.5 2109.2 L1087 2092.6 L1073.7 2105.9 L1066.5 2095.1 L1054.2 2100.9 L1045 2096.3Z" fill="#f6a62e"/>
<path d="M1045 2089.7 L1054.2 2092.9 L1062.7 2089.2 L1071.1 2094.5 L1083.3 2087.2 L1090.6 2095.7 L1098.2 2088.9 L1111.1 2096.9 L1124.3 2088.4 L1134.6 2095.3 L1148.1 2086.5 L1155.2 2097.4 L1168.9 2088.6 L1177.2 2094.3 L1186.6 2088.2 L1199.9 2094 L1213.5 2088.7 L1224 2094.5 L1236.7 2089.3 L1246.7 2094.2 L1260.6 2088.9 L1273.6 2094 L1286.2 2085.2 L1294.2 2094.9 L1301.8 2088.2 L1310.7 2094 L1320.3 2088.2 L1329.3 2094.5 L1337.4 2089.6 L1347.1 2094.3 L1355.1 2089.6 L1366.1 2093.6 L1379.4 2089.2 L1388.5 2095.5 L1402.2 2088 L1414.7 2092.8 L1426.4 2089.9 L1436.7 2093.3 L1448.5 2088.6 L1457.2 2093.9 L1466.6 2088.5 L1480.1 2094.6 L1492.9 2089.5 L1502.2 2093.1 L1515.2 2089.4 L1522.5 2093.6 L1536 2090.2 L1544.1 2092.8 L1556.3 2088.9 L1568.2 2094.3 L1582.1 2087.1 L1593.7 2093 L1601.3 2089.3 L1608.4 2093.4 L1616.5 2089.5 L1628.2 2094.2 L1642 2089.9 L1650.4 2094.5 L1658.8 2089 L1672.7 2092.7 L1680.9 2089.3 L1691.8 2093.7 L1701.1 2090.4 L1714.3 2092.6 L1722.2 2090.5 L1733.8 2093.7 L1743.7 2090.1 L1752.5 2093.4 L1762.6 2090.1 L1776.6 2093.2 L1787 2090.2 L1800.3 2093.7 L1808.8 2089.1 L1815.9 2093.1 L1824 2089.6 L1831.4 2093.3 L1841 2093.3 L1841 2100.3 L1831.4 2100.3 L1824 2096.6 L1815.9 2100.1 L1808.8 2096.1 L1800.3 2100.7 L1787 2097.2 L1776.6 2100.2 L1762.6 2097.1 L1752.5 2100.4 L1743.7 2097.1 L1733.8 2100.7 L1722.2 2097.5 L1714.3 2099.6 L1701.1 2097.4 L1691.8 2100.7 L1680.9 2096.3 L1672.7 2099.7 L1658.8 2096 L1650.4 2101.5 L1642 2096.9 L1628.2 2101.2 L1616.5 2096.5 L1608.4 2100.4 L1601.3 2096.3 L1593.7 2100 L1582.1 2094.1 L1568.2 2101.3 L1556.3 2095.9 L1544.1 2099.8 L1536 2097.2 L1522.5 2100.6 L1515.2 2096.4 L1502.2 2100.1 L1492.9 2096.5 L1480.1 2101.6 L1466.6 2095.5 L1457.2 2100.9 L1448.5 2095.6 L1436.7 2100.3 L1426.4 2096.9 L1414.7 2099.8 L1402.2 2095 L1388.5 2102.5 L1379.4 2096.2 L1366.1 2100.6 L1355.1 2096.6 L1347.1 2101.3 L1337.4 2096.6 L1329.3 2101.5 L1320.3 2095.2 L1310.7 2101 L1301.8 2095.2 L1294.2 2101.9 L1286.2 2092.2 L1273.6 2101 L1260.6 2095.9 L1246.7 2101.2 L1236.7 2096.3 L1224 2101.5 L1213.5 2095.7 L1199.9 2101 L1186.6 2095.2 L1177.2 2101.3 L1168.9 2095.6 L1155.2 2104.4 L1148.1 2093.5 L1134.6 2102.3 L1124.3 2095.4 L1111.1 2103.9 L1098.2 2095.9 L1090.6 2102.7 L1083.3 2094.2 L1071.1 2101.5 L1062.7 2096.2 L1054.2 2099.9 L1045 2096.7Z" fill="#f6a62e"/>
</g>
<line x1="157" y1="1067" x2="1843.5" y2="1067" stroke="#fcf0c4" stroke-width="3"/>
<line x1="159" y1="1067.4" x2="1843.5" y2="1067.4" stroke="#c4b27a" stroke-width="1.8" stroke-dasharray="13 6"/>
<line x1="157.6" y1="21" x2="157.6" y2="1068.5" stroke="#fbe8b0" stroke-width="4.5"/>
<line x1="157.6" y1="21" x2="157.6" y2="1068.5" stroke="#cf914a" stroke-width="2.4" stroke-dasharray="20 5"/>
<line x1="1821.5" y1="21" x2="1821.5" y2="1068.5" stroke="#fbe8b0" stroke-width="4.5"/>
<line x1="1821.5" y1="21" x2="1821.5" y2="1068.5" stroke="#cf914a" stroke-width="2.4" stroke-dasharray="20 5"/>
<path d="M148 19.5H1845.5V1070H148" stroke="#1c1c1c" stroke-width="3" fill="none"/>
<line x1="155" y1="19.5" x2="155" y2="1070" stroke="#241818" stroke-width="2.6"/>
<line x1="162" y1="2357" x2="1848.5" y2="2357" stroke="#fcf0c4" stroke-width="3"/>
<line x1="164" y1="2357.4" x2="1848.5" y2="2357.4" stroke="#c4b27a" stroke-width="1.8" stroke-dasharray="13 6"/>
<line x1="162.6" y1="1311.9" x2="162.6" y2="2358.5" stroke="#fbe8b0" stroke-width="4.5"/>
<line x1="162.6" y1="1311.9" x2="162.6" y2="2358.5" stroke="#cf914a" stroke-width="2.4" stroke-dasharray="20 5"/>
<line x1="1818.4" y1="1311.9" x2="1818.4" y2="2358.5" stroke="#fbe8b0" stroke-width="4.5"/>
<line x1="1818.4" y1="1311.9" x2="1818.4" y2="2358.5" stroke="#cf914a" stroke-width="2.4" stroke-dasharray="20 5"/>
<path d="M153.5 1310.4H1850.5V2360H153.5" stroke="#1c1c1c" stroke-width="3" fill="none"/>
<line x1="160" y1="1310.4" x2="160" y2="2360" stroke="#241818" stroke-width="2.6"/>
<path d="M962 21L993 21L977.5 36Z" fill="#f28a24"/>
<path d="M993 21L1004.5 34L1016 21" stroke="#d8a24a" stroke-width="3" fill="none"/>
<path d="M148 931L154 938L148 945Z" fill="#e39a3a" opacity="0.8"/>
<path d="M961.7 1311.9L988 1311.9L974.9 1322.5Z" fill="#f28a24"/>
<path d="M997 1311.9L1009.5 1324.7L1022 1311.9" stroke="#d8a24a" stroke-width="3" fill="none"/>
<path d="M153 2222L159 2229L153 2236Z" fill="#e39a3a" opacity="0.8"/>
<rect x="149" y="446" width="5" height="6" fill="#e0a848"/>
<rect x="154" y="1853" width="5" height="9" fill="#e6a040"/>
<text x="190.5" y="108" font-size="50" textLength="396.2" lengthAdjust="spacingAndGlyphs" fill="#333333" >Power of the ESS</text>
<text x="1054" y="110.5" font-size="50" textLength="399" lengthAdjust="spacingAndGlyphs" fill="#333333" >loads connecting</text>
<text x="193.3" y="473.3" font-size="50" textLength="322.3" lengthAdjust="spacingAndGlyphs" fill="#333333" >Power of DG1</text>
<text x="699.3" y="897" font-size="50" textLength="346.4" lengthAdjust="spacingAndGlyphs" fill="#333333" >Power of loads</text>
<text x="600.6" y="1000.1" font-size="50" textLength="323.6" lengthAdjust="spacingAndGlyphs" fill="#333333" >Power of DG3</text>
<path d="M584 76L736.2 260.9" stroke="#222" stroke-width="4.7" fill="none" stroke-linecap="round"/>
<path d="M719.4 253.4L738.7 264L732 243" stroke="#222" stroke-width="3.4" fill="none" stroke-linecap="butt" stroke-linejoin="miter" stroke-miterlimit="6"/>
<path d="M1062 88L923 433.3" stroke="#222" stroke-width="4.7" fill="none" stroke-linecap="round"/>
<path d="M921.6 415L921.5 437L936.7 421.1" stroke="#222" stroke-width="3.4" fill="none" stroke-linecap="butt" stroke-linejoin="miter" stroke-miterlimit="6"/>
<path d="M503 450L675.7 571.4" stroke="#222" stroke-width="4.7" fill="none" stroke-linecap="round"/>
<path d="M657.6 568.6L679 573.7L667 555.3" stroke="#222" stroke-width="3.4" fill="none" stroke-linecap="butt" stroke-linejoin="miter" stroke-miterlimit="6"/>
<path d="M700 877L594.4 732.2" stroke="#222" stroke-width="4.7" fill="none" stroke-linecap="round"/>
<path d="M610.6 740.7L592 729L597.5 750.3" stroke="#222" stroke-width="3.4" fill="none" stroke-linecap="butt" stroke-linejoin="miter" stroke-miterlimit="6"/>
<path d="M599 972.5L470.4 799.2" stroke="#222" stroke-width="4.7" fill="none" stroke-linecap="round"/>
<path d="M486.7 807.5L468 796L473.6 817.3" stroke="#222" stroke-width="3.4" fill="none" stroke-linecap="butt" stroke-linejoin="miter" stroke-miterlimit="6"/>
<text x="214" y="1425" font-size="50" textLength="396.3" lengthAdjust="spacingAndGlyphs" fill="#333333" >Power of the ESS</text>
<text x="1068.4" y="1509.3" font-size="50" textLength="413.8" lengthAdjust="spacingAndGlyphs" fill="#333333" >DG disconnecting</text>
<text x="193.4" y="1552.9" font-size="50" textLength="346.3" lengthAdjust="spacingAndGlyphs" fill="#333333" >Power of loads</text>
<text x="196.6" y="2015.4" font-size="50" textLength="324.2" lengthAdjust="spacingAndGlyphs" fill="#333333" >Power of DG1</text>
<text x="451.5" y="2290.8" font-size="50" textLength="323.3" lengthAdjust="spacingAndGlyphs" fill="#333333" >Power of DG3</text>
<path d="M598 1397L866.7 1769.8" stroke="#222" stroke-width="4.7" fill="none" stroke-linecap="round"/>
<path d="M850.4 1761.2L869 1773L863.7 1751.7" stroke="#222" stroke-width="3.4" fill="none" stroke-linecap="butt" stroke-linejoin="miter" stroke-miterlimit="6"/>
<path d="M1074 1491L981.9 1658.5" stroke="#222" stroke-width="4.7" fill="none" stroke-linecap="round"/>
<path d="M982.7 1640.2L980 1662L997 1648" stroke="#222" stroke-width="3.4" fill="none" stroke-linecap="butt" stroke-linejoin="miter" stroke-miterlimit="6"/>
<path d="M537 1535L700.9 1833.5" stroke="#222" stroke-width="4.7" fill="none" stroke-linecap="round"/>
<path d="M685.8 1823L702.8 1837L700.1 1815.2" stroke="#222" stroke-width="3.4" fill="none" stroke-linecap="butt" stroke-linejoin="miter" stroke-miterlimit="6"/>
<path d="M505.5 1997.4L599.4 1888.6" stroke="#222" stroke-width="4.7" fill="none" stroke-linecap="round"/>
<path d="M594.8 1906.4L602 1885.6L582.5 1895.7" stroke="#222" stroke-width="3.4" fill="none" stroke-linecap="butt" stroke-linejoin="miter" stroke-miterlimit="6"/>
<path d="M769 2271.5L866.2 2103.5" stroke="#222" stroke-width="4.7" fill="none" stroke-linecap="round"/>
<path d="M865 2121.8L868.2 2100L850.9 2113.6" stroke="#222" stroke-width="3.4" fill="none" stroke-linecap="butt" stroke-linejoin="miter" stroke-miterlimit="6"/>
<text x="163" y="996.5" font-size="51" textLength="212" lengthAdjust="spacingAndGlyphs" fill="#333333" >5KW\DIV</text>
<text x="161" y="1057.5" font-size="51" textLength="229" lengthAdjust="spacingAndGlyphs" fill="#333333" >10ms\DIV</text>
<text x="15" y="958.5" font-size="46" textLength="95" lengthAdjust="spacingAndGlyphs" fill="#23263a" >0KW</text>
<text x="165" y="952.5" font-size="38" textLength="16" lengthAdjust="spacingAndGlyphs" fill="#e4aa48" >1</text>
<text x="168" y="2289" font-size="51" textLength="212.2" lengthAdjust="spacingAndGlyphs" fill="#333333" >5KW\DIV</text>
<text x="167" y="2349.3" font-size="51" textLength="229.5" lengthAdjust="spacingAndGlyphs" fill="#333333" >10ms\DIV</text>
<text x="21.5" y="2248.3" font-size="46" textLength="93.3" lengthAdjust="spacingAndGlyphs" fill="#23263a" >0KW</text>
<text x="170.8" y="2242.5" font-size="38" textLength="16" lengthAdjust="spacingAndGlyphs" fill="#e4aa48" >1</text>
<text y="1192.5" font-family="Liberation Serif, serif" font-size="86" fill="#333333"><tspan x="901">(</tspan><tspan x="928.5" font-weight="bold">a</tspan><tspan x="967.3">)</tspan></text>
<text y="2472.5" font-family="Liberation Serif, serif" font-size="86" fill="#333333"><tspan x="897">(</tspan><tspan x="924.5" font-weight="bold">b</tspan><tspan x="972.8">)</tspan></text>
</svg>
</body></html>
